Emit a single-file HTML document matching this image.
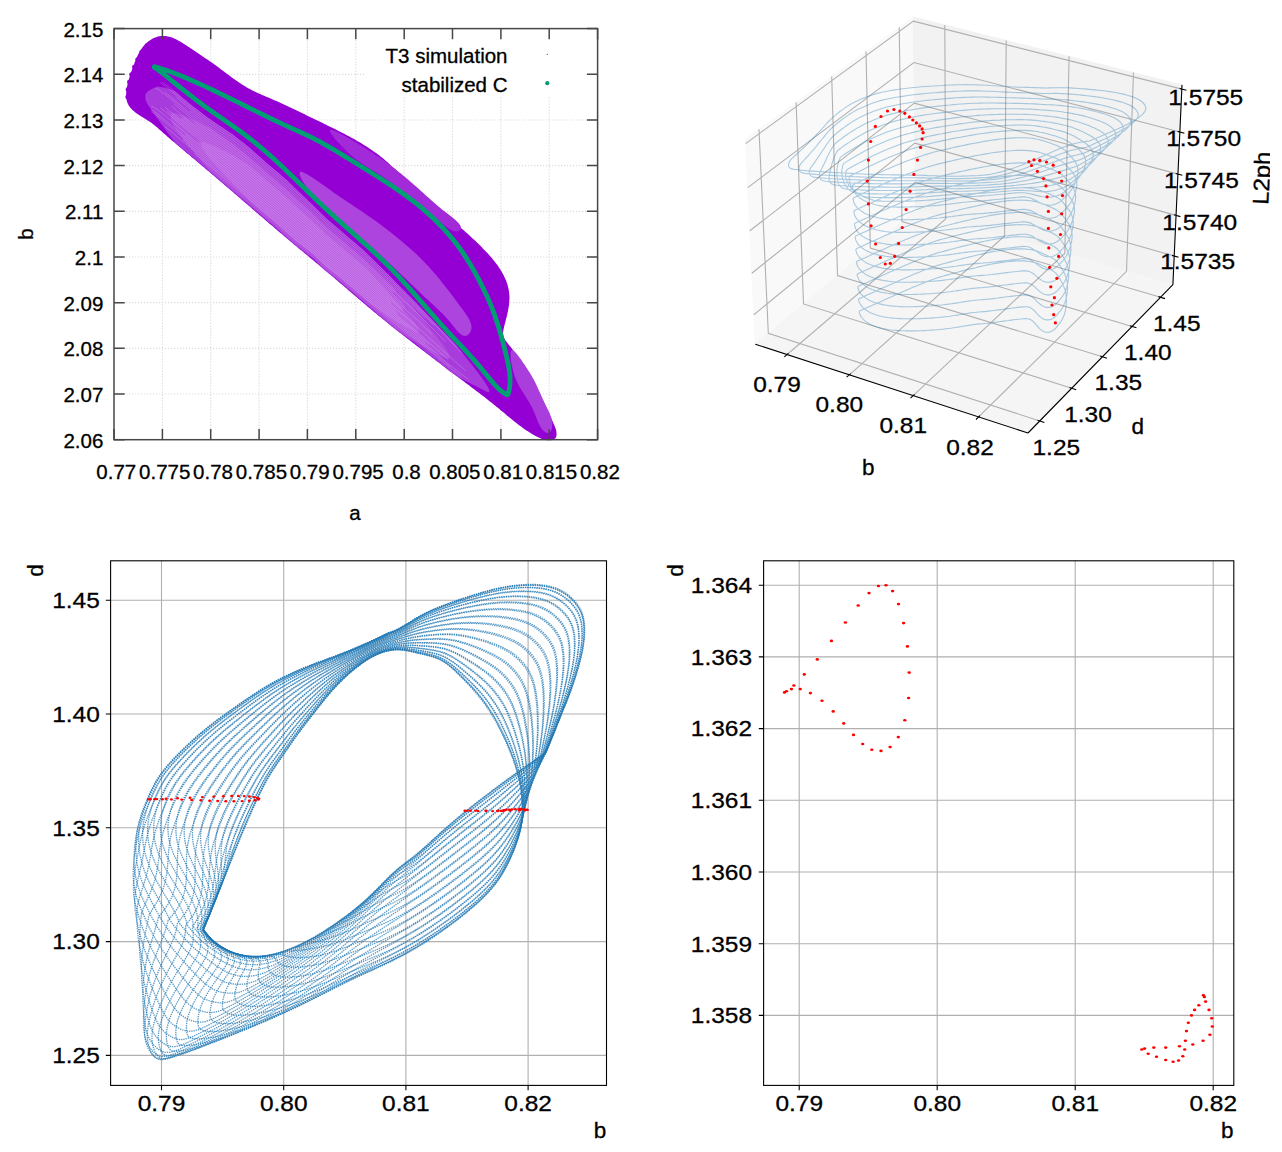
<!DOCTYPE html>
<html><head><meta charset="utf-8"><style>
html,body{margin:0;padding:0;background:#fff;}
svg{display:block;}
text{font-family:"Liberation Sans",sans-serif;fill:#000;stroke:#000;stroke-width:0.3px;}
</style></head><body>
<svg width="1282" height="1152" viewBox="0 0 1282 1152">
<rect width="1282" height="1152" fill="#fff"/>
<path d="M162.4,28.6V439.7M210.7,28.6V439.7M259.1,28.6V439.7M307.4,28.6V439.7M355.8,28.6V439.7M404.2,28.6V439.7M452.5,28.6V439.7M500.9,28.6V439.7M549.2,28.6V439.7M114.0,74.3H597.6M114.0,120.0H597.6M114.0,165.6H597.6M114.0,211.3H597.6M114.0,257.0H597.6M114.0,302.7H597.6M114.0,348.3H597.6M114.0,394.0H597.6" stroke="#dcdcdc" stroke-width="1.2" stroke-dasharray="1.2 1.8" fill="none"/>
<rect x="364" y="29.5" width="232" height="67.5" fill="#fff"/>
<path d="M127.4,102.8 L126.9,101.3 L126.5,99.6 L126.3,98.0 L126.1,96.2 L126.1,94.5 L126.2,92.7 L126.4,90.9 L126.6,89.1 L126.9,87.2 L127.3,85.4 L127.7,83.6 L128.1,81.9 L128.6,80.1 L129.1,78.4 L129.6,76.8 L130.1,75.1 L130.7,73.5 L131.2,71.9 L131.8,70.3 L132.4,68.7 L133.0,67.0 L133.6,65.4 L134.2,63.8 L134.8,62.1 L135.5,60.5 L136.2,58.9 L136.9,57.2 L137.6,55.6 L138.4,54.0 L139.2,52.4 L140.1,50.9 L141.0,49.4 L142.0,47.9 L143.1,46.5 L144.3,45.2 L145.5,43.9 L146.8,42.7 L148.2,41.5 L149.7,40.4 L151.2,39.5 L152.8,38.6 L154.5,37.8 L156.1,37.2 L157.8,36.6 L159.4,36.3 L161.1,36.0 L162.8,35.9 L164.4,35.9 L166.1,36.1 L167.7,36.4 L169.4,36.7 L171.0,37.2 L172.6,37.8 L174.2,38.5 L175.9,39.2 L177.4,40.0 L179.0,40.9 L180.6,41.8 L182.2,42.7 L183.7,43.7 L185.3,44.7 L186.8,45.7 L188.4,46.7 L189.9,47.8 L191.4,48.8 L192.9,49.8 L194.4,50.8 L195.8,51.8 L197.3,52.8 L198.8,53.8 L200.2,54.8 L201.7,55.7 L203.1,56.7 L204.5,57.7 L206.0,58.7 L207.4,59.6 L208.8,60.6 L210.2,61.6 L211.6,62.6 L213.1,63.6 L214.5,64.6 L215.9,65.6 L217.3,66.6 L218.7,67.6 L220.1,68.7 L221.5,69.7 L222.9,70.8 L224.3,71.8 L225.8,72.9 L227.2,74.0 L228.6,75.0 L230.0,76.1 L231.5,77.2 L232.9,78.2 L234.4,79.2 L235.8,80.3 L237.3,81.3 L238.7,82.3 L240.2,83.3 L241.7,84.3 L243.2,85.2 L244.7,86.1 L246.2,87.1 L247.7,87.9 L249.3,88.8 L250.8,89.6 L252.4,90.4 L254.0,91.2 L255.6,92.0 L257.1,92.7 L258.7,93.4 L260.3,94.1 L262.0,94.9 L263.6,95.5 L265.2,96.2 L266.8,96.9 L268.4,97.6 L270.0,98.3 L271.6,99.0 L273.3,99.7 L274.9,100.4 L276.5,101.1 L278.1,101.8 L279.7,102.5 L281.3,103.3 L282.9,104.0 L284.5,104.7 L286.1,105.5 L287.7,106.2 L289.3,107.0 L290.9,107.7 L292.5,108.5 L294.1,109.2 L295.7,110.0 L297.3,110.8 L298.9,111.5 L300.4,112.3 L302.0,113.1 L303.6,113.8 L305.2,114.6 L306.8,115.4 L308.4,116.2 L310.0,116.9 L311.6,117.7 L313.2,118.5 L314.7,119.2 L316.3,120.0 L317.9,120.8 L319.5,121.6 L321.1,122.3 L322.7,123.1 L324.3,123.9 L325.9,124.6 L327.4,125.4 L329.0,126.2 L330.6,127.0 L332.2,127.8 L333.8,128.5 L335.3,129.3 L336.9,130.1 L338.5,130.9 L340.1,131.7 L341.6,132.5 L343.2,133.3 L344.8,134.1 L346.3,134.9 L347.9,135.8 L349.4,136.6 L351.0,137.4 L352.5,138.3 L354.1,139.1 L355.6,140.0 L357.1,140.9 L358.6,141.7 L360.2,142.6 L361.7,143.5 L363.2,144.4 L364.7,145.4 L366.1,146.3 L367.6,147.3 L369.1,148.2 L370.5,149.2 L372.0,150.2 L373.4,151.2 L374.9,152.2 L376.3,153.2 L377.7,154.3 L379.1,155.3 L380.5,156.4 L381.9,157.5 L383.2,158.6 L384.6,159.8 L385.9,160.9 L387.2,162.1 L388.6,163.3 L389.9,164.5 L391.2,165.7 L392.5,166.9 L393.8,168.1 L395.0,169.3 L396.3,170.6 L397.6,171.8 L398.9,173.1 L400.2,174.3 L401.4,175.6 L402.7,176.8 L404.0,178.0 L405.2,179.3 L406.5,180.5 L407.8,181.8 L409.1,183.0 L410.3,184.2 L411.6,185.4 L412.9,186.6 L414.2,187.8 L415.5,189.0 L416.8,190.2 L418.1,191.4 L419.4,192.6 L420.7,193.8 L422.1,194.9 L423.4,196.1 L424.7,197.2 L426.0,198.4 L427.4,199.5 L428.7,200.7 L430.0,201.8 L431.3,202.9 L432.7,204.1 L434.0,205.2 L435.4,206.3 L436.7,207.4 L438.0,208.6 L439.4,209.7 L440.7,210.8 L442.1,211.9 L443.4,213.1 L444.7,214.2 L446.1,215.3 L447.4,216.4 L448.8,217.5 L450.1,218.7 L451.5,219.8 L452.8,220.9 L454.1,222.1 L455.5,223.2 L456.8,224.3 L458.1,225.5 L459.5,226.6 L460.8,227.8 L462.1,228.9 L463.4,230.1 L464.8,231.3 L466.1,232.4 L467.4,233.6 L468.7,234.8 L470.0,236.0 L471.3,237.2 L472.6,238.4 L473.9,239.6 L475.2,240.8 L476.5,242.1 L477.8,243.3 L479.1,244.6 L480.4,245.8 L481.6,247.1 L482.9,248.4 L484.1,249.7 L485.4,251.0 L486.6,252.3 L487.9,253.6 L489.1,254.9 L490.3,256.3 L491.4,257.6 L492.6,259.0 L493.7,260.4 L494.8,261.8 L495.9,263.2 L497.0,264.6 L498.0,266.0 L499.0,267.5 L500.0,268.9 L500.9,270.4 L501.8,271.9 L502.6,273.4 L503.5,274.9 L504.2,276.4 L504.9,278.0 L505.6,279.5 L506.3,281.1 L506.8,282.7 L507.4,284.3 L507.8,285.9 L508.2,287.6 L508.6,289.2 L508.9,290.9 L509.1,292.6 L509.3,294.3 L509.4,296.0 L509.5,297.8 L509.4,299.5 L509.3,301.3 L509.2,303.1 L509.0,304.9 L508.7,306.7 L508.4,308.6 L508.1,310.4 L507.7,312.2 L507.3,314.0 L506.9,315.9 L506.4,317.7 L506.0,319.5 L505.5,321.3 L505.1,323.0 L504.6,324.8 L504.2,326.5 L503.8,328.3 L503.4,330.0 L503.2,331.6 L503.1,333.2 L503.2,334.8 L503.5,336.4 L504.1,337.9 L504.9,339.4 L505.8,340.9 L506.9,342.3 L508.0,343.7 L509.2,345.2 L510.3,346.6 L511.5,348.0 L512.6,349.4 L513.7,350.9 L514.8,352.3 L515.9,353.8 L516.9,355.2 L518.0,356.7 L519.0,358.1 L520.0,359.6 L521.0,361.0 L522.0,362.5 L523.0,364.0 L524.0,365.4 L524.9,366.9 L525.9,368.4 L526.8,369.9 L527.7,371.4 L528.6,372.9 L529.5,374.4 L530.4,375.9 L531.2,377.4 L532.1,378.9 L533.0,380.4 L533.8,382.0 L534.6,383.5 L535.5,385.0 L536.3,386.6 L537.1,388.1 L537.9,389.7 L538.7,391.3 L539.5,392.8 L540.2,394.4 L541.0,396.0 L541.8,397.6 L542.5,399.2 L543.3,400.7 L544.0,402.3 L544.8,404.0 L545.5,405.6 L546.3,407.2 L547.0,408.8 L547.7,410.4 L548.5,412.0 L549.2,413.7 L549.9,415.3 L550.6,416.9 L551.4,418.5 L552.1,420.2 L552.8,421.8 L553.5,423.5 L554.3,425.1 L554.9,426.8 L555.6,428.4 L556.1,430.1 L556.4,431.9 L556.6,433.7 L556.5,435.5 L556.1,437.0 L555.3,438.3 L554.0,439.3 L552.3,439.9 L550.6,440.2 L548.8,440.3 L547.1,440.2 L545.4,439.9 L543.7,439.5 L542.0,439.0 L540.4,438.3 L538.7,437.6 L537.1,436.8 L535.5,435.9 L533.9,435.1 L532.4,434.2 L530.9,433.2 L529.3,432.3 L527.9,431.3 L526.4,430.4 L524.9,429.4 L523.5,428.4 L522.0,427.3 L520.6,426.3 L519.2,425.2 L517.8,424.2 L516.4,423.1 L515.0,422.0 L513.7,420.9 L512.3,419.8 L511.0,418.7 L509.6,417.6 L508.2,416.5 L506.9,415.4 L505.6,414.2 L504.2,413.1 L502.9,412.0 L501.5,410.9 L500.2,409.7 L498.8,408.6 L497.5,407.5 L496.1,406.4 L494.7,405.3 L493.4,404.2 L492.0,403.1 L490.6,402.0 L489.2,400.9 L487.8,399.8 L486.4,398.7 L485.1,397.6 L483.7,396.5 L482.3,395.5 L480.9,394.4 L479.5,393.3 L478.1,392.2 L476.6,391.2 L475.2,390.1 L473.8,389.0 L472.4,388.0 L471.0,386.9 L469.6,385.8 L468.2,384.8 L466.8,383.7 L465.4,382.7 L464.0,381.6 L462.5,380.5 L461.1,379.5 L459.7,378.4 L458.3,377.3 L456.9,376.3 L455.5,375.2 L454.1,374.2 L452.7,373.1 L451.3,372.0 L449.9,371.0 L448.5,369.9 L447.0,368.9 L445.6,367.8 L444.2,366.7 L442.8,365.7 L441.4,364.6 L440.0,363.6 L438.6,362.5 L437.2,361.4 L435.8,360.4 L434.4,359.3 L433.0,358.2 L431.6,357.2 L430.2,356.1 L428.8,355.0 L427.4,354.0 L426.0,352.9 L424.6,351.8 L423.2,350.8 L421.8,349.7 L420.4,348.6 L419.0,347.5 L417.6,346.5 L416.2,345.4 L414.8,344.3 L413.4,343.2 L412.0,342.2 L410.6,341.1 L409.2,340.0 L407.9,338.9 L406.5,337.9 L405.1,336.8 L403.7,335.7 L402.3,334.6 L400.9,333.5 L399.5,332.4 L398.1,331.3 L396.8,330.2 L395.4,329.1 L394.0,328.1 L392.6,327.0 L391.2,325.9 L389.9,324.8 L388.5,323.7 L387.1,322.5 L385.7,321.4 L384.4,320.3 L383.0,319.2 L381.6,318.1 L380.3,317.0 L378.9,315.9 L377.5,314.8 L376.2,313.6 L374.8,312.5 L373.4,311.4 L372.1,310.3 L370.7,309.1 L369.4,308.0 L368.0,306.9 L366.7,305.7 L365.3,304.6 L364.0,303.5 L362.6,302.3 L361.3,301.2 L360.0,300.0 L358.6,298.9 L357.3,297.8 L355.9,296.6 L354.6,295.5 L353.2,294.3 L351.9,293.2 L350.6,292.0 L349.2,290.9 L347.9,289.7 L346.6,288.6 L345.2,287.4 L343.9,286.3 L342.5,285.1 L341.2,284.0 L339.9,282.9 L338.5,281.7 L337.2,280.6 L335.8,279.4 L334.5,278.3 L333.2,277.1 L331.8,276.0 L330.5,274.8 L329.1,273.7 L327.8,272.6 L326.4,271.4 L325.1,270.3 L323.7,269.2 L322.4,268.0 L321.1,266.9 L319.7,265.8 L318.3,264.6 L317.0,263.5 L315.6,262.4 L314.3,261.3 L312.9,260.1 L311.6,259.0 L310.2,257.9 L308.9,256.8 L307.5,255.6 L306.2,254.5 L304.8,253.4 L303.5,252.3 L302.1,251.1 L300.7,250.0 L299.4,248.9 L298.0,247.7 L296.7,246.6 L295.3,245.5 L294.0,244.4 L292.6,243.2 L291.3,242.1 L289.9,241.0 L288.6,239.8 L287.2,238.7 L285.9,237.6 L284.5,236.4 L283.2,235.3 L281.9,234.1 L280.5,233.0 L279.2,231.9 L277.8,230.7 L276.5,229.6 L275.1,228.4 L273.8,227.3 L272.5,226.1 L271.1,225.0 L269.8,223.9 L268.4,222.7 L267.1,221.6 L265.8,220.4 L264.4,219.3 L263.1,218.1 L261.8,217.0 L260.4,215.8 L259.1,214.7 L257.8,213.5 L256.4,212.4 L255.1,211.2 L253.7,210.1 L252.4,208.9 L251.1,207.8 L249.7,206.6 L248.4,205.5 L247.1,204.3 L245.7,203.2 L244.4,202.0 L243.1,200.9 L241.7,199.7 L240.4,198.6 L239.1,197.4 L237.7,196.2 L236.4,195.1 L235.0,193.9 L233.7,192.8 L232.4,191.6 L231.0,190.5 L229.7,189.3 L228.4,188.2 L227.0,187.0 L225.7,185.9 L224.3,184.7 L223.0,183.6 L221.7,182.5 L220.3,181.3 L219.0,180.2 L217.6,179.0 L216.3,177.9 L215.0,176.7 L213.6,175.6 L212.3,174.4 L210.9,173.3 L209.6,172.1 L208.2,171.0 L206.9,169.9 L205.5,168.7 L204.2,167.6 L202.8,166.5 L201.5,165.3 L200.1,164.2 L198.8,163.0 L197.4,161.9 L196.1,160.8 L194.7,159.6 L193.4,158.5 L192.0,157.4 L190.7,156.3 L189.3,155.1 L188.0,154.0 L186.6,152.9 L185.3,151.7 L183.9,150.6 L182.6,149.5 L181.2,148.3 L179.9,147.2 L178.5,146.1 L177.2,144.9 L175.8,143.8 L174.5,142.6 L173.1,141.5 L171.8,140.4 L170.5,139.2 L169.1,138.1 L167.8,136.9 L166.5,135.8 L165.2,134.6 L163.8,133.4 L162.5,132.3 L161.2,131.1 L159.9,130.0 L158.6,128.8 L157.2,127.6 L155.9,126.5 L154.5,125.3 L153.1,124.2 L151.7,123.1 L150.2,122.1 L148.6,121.0 L147.0,120.0 L145.4,119.0 L143.8,118.0 L142.2,117.0 L140.6,116.0 L139.0,115.0 L137.5,113.9 L136.0,112.9 L134.6,111.8 L133.3,110.7 L132.0,109.5 L130.8,108.3 L129.8,107.0 L128.9,105.7 L128.1,104.3 L127.4,102.8Z" fill="#9400d3"/>
<g fill="#9400d3"><circle cx="127.5" cy="97.0" r="2.2"/><circle cx="127.8" cy="89.5" r="2.2"/><circle cx="129.2" cy="82.0" r="2.2"/><circle cx="131.4" cy="74.5" r="2.2"/><circle cx="134.2" cy="67.0" r="2.2"/><circle cx="137.5" cy="59.5" r="2.2"/><circle cx="141.5" cy="52.0" r="2.2"/><circle cx="146.7" cy="45.5" r="2.2"/></g>
<path d="M145.4,94.5 L147.2,91.9 L149.0,90.5 L150.9,89.4 L152.7,88.5 L154.5,87.7 L156.3,87.0 L158.1,86.6 L159.9,86.9 L161.7,87.2 L163.5,87.6 L165.3,88.1 L167.1,88.5 L168.9,89.0 L170.8,89.6 L172.6,90.2 L174.4,91.0 L176.2,92.3 L178.0,93.8 L179.8,95.3 L181.6,96.9 L183.4,98.4 L185.2,99.9 L187.0,101.5 L188.8,103.0 L190.7,104.5 L192.5,105.9 L194.3,107.3 L196.1,108.6 L197.9,110.0 L199.7,111.4 L201.5,112.8 L203.3,114.2 L205.1,115.6 L206.9,117.0 L208.7,118.3 L210.6,119.6 L212.4,120.8 L214.2,122.0 L216.0,123.2 L217.8,124.4 L219.6,125.6 L221.4,126.8 L223.2,128.1 L225.0,129.3 L226.8,130.5 L228.6,131.7 L230.5,132.9 L232.3,134.1 L234.1,135.5 L235.9,136.9 L237.7,138.3 L239.5,139.7 L241.3,141.2 L243.1,142.6 L244.9,144.0 L246.7,145.4 L248.5,146.8 L250.4,148.4 L252.2,150.0 L254.0,151.7 L255.8,153.3 L257.6,154.9 L259.4,156.5 L261.2,158.1 L263.0,159.7 L264.8,161.3 L266.6,162.9 L268.4,164.5 L270.3,166.0 L272.1,167.5 L273.9,169.1 L275.7,170.6 L277.5,172.1 L279.3,173.6 L281.1,175.2 L282.9,176.7 L284.7,178.2 L286.5,179.8 L288.3,181.6 L290.2,183.4 L292.0,185.1 L293.8,186.9 L295.6,188.6 L297.4,190.4 L299.2,192.1 L301.0,193.8 L302.8,195.5 L304.6,197.3 L306.4,199.0 L308.2,200.7 L310.1,202.4 L311.9,204.2 L313.7,205.9 L315.5,207.7 L317.3,209.4 L319.1,211.2 L320.9,213.0 L322.7,214.8 L324.5,216.6 L326.3,218.3 L328.1,220.0 L329.9,221.5 L331.8,223.1 L333.6,224.6 L335.4,226.1 L337.2,227.7 L339.0,229.2 L340.8,230.7 L342.6,232.3 L344.4,233.8 L346.2,235.4 L348.0,236.9 L349.8,238.5 L351.7,240.0 L353.5,241.6 L355.3,243.1 L357.1,244.7 L358.9,246.2 L360.7,247.8 L362.5,249.3 L364.3,250.9 L366.1,252.7 L367.9,254.5 L369.7,256.3 L371.6,258.0 L373.4,259.8 L375.2,261.6 L377.0,263.4 L378.8,265.2 L380.6,267.0 L382.4,268.8 L384.2,270.6 L386.0,272.4 L387.8,274.1 L389.6,276.0 L391.5,277.8 L393.3,279.7 L395.1,281.6 L396.9,283.4 L398.7,285.3 L400.5,287.1 L402.3,288.9 L404.1,290.8 L405.9,292.6 L407.7,294.4 L409.5,296.3 L411.4,298.1 L413.2,300.0 L415.0,301.8 L416.8,303.6 L418.6,305.5 L420.4,307.4 L422.2,309.4 L424.0,311.3 L425.8,313.2 L427.6,315.1 L429.4,317.1 L431.3,319.0 L433.1,320.9 L434.9,322.8 L436.7,324.8 L438.5,326.7 L440.3,328.6 L442.1,330.6 L443.9,332.5 L445.7,334.4 L447.5,336.3 L449.3,338.3 L451.2,340.2 L453.0,342.1 L454.8,344.1 L456.6,346.0 L458.4,348.0 L460.2,349.9 L462.0,352.3 L463.8,354.6 L465.6,356.9 L467.4,359.2 L469.2,361.5 L471.1,363.8 L472.9,366.1 L474.7,368.4 L476.5,370.7 L478.3,373.0 L480.1,375.5 L481.9,378.0 L483.7,380.6 L485.5,383.2 L487.3,386.0 L489.1,389.2 L489.1,392.5 L487.3,392.1 L485.5,391.3 L483.7,390.3 L481.9,389.3 L480.1,388.4 L478.3,387.5 L476.5,386.5 L474.7,385.6 L472.9,384.7 L471.1,383.7 L469.2,382.8 L467.4,381.8 L465.6,380.9 L463.8,380.1 L462.0,379.3 L460.2,378.4 L458.4,377.2 L456.6,376.0 L454.8,374.7 L453.0,373.5 L451.2,372.2 L449.3,370.9 L447.5,369.4 L445.7,368.0 L443.9,366.5 L442.1,365.0 L440.3,363.6 L438.5,362.1 L436.7,360.7 L434.9,359.2 L433.1,357.7 L431.3,356.3 L429.4,354.8 L427.6,353.4 L425.8,352.0 L424.0,350.5 L422.2,349.1 L420.4,347.6 L418.6,346.2 L416.8,344.7 L415.0,343.3 L413.2,342.0 L411.4,340.7 L409.5,339.4 L407.7,338.1 L405.9,336.8 L404.1,335.6 L402.3,334.3 L400.5,333.0 L398.7,331.7 L396.9,330.4 L395.1,329.0 L393.3,327.5 L391.5,325.9 L389.6,324.4 L387.8,322.9 L386.0,321.3 L384.2,319.8 L382.4,318.3 L380.6,316.7 L378.8,315.2 L377.0,313.7 L375.2,312.1 L373.4,310.6 L371.6,309.0 L369.7,307.5 L367.9,306.0 L366.1,304.4 L364.3,302.9 L362.5,301.3 L360.7,299.8 L358.9,298.3 L357.1,296.7 L355.3,295.2 L353.5,293.6 L351.7,292.1 L349.8,290.6 L348.0,289.0 L346.2,287.5 L344.4,285.9 L342.6,284.4 L340.8,282.9 L339.0,281.4 L337.2,279.9 L335.4,278.5 L333.6,277.1 L331.8,275.6 L329.9,274.2 L328.1,272.8 L326.3,271.3 L324.5,269.9 L322.7,268.2 L320.9,266.4 L319.1,264.7 L317.3,262.9 L315.5,261.1 L313.7,259.3 L311.9,258.0 L310.1,256.6 L308.2,255.2 L306.4,253.8 L304.6,252.5 L302.8,251.1 L301.0,249.7 L299.2,248.4 L297.4,247.0 L295.6,245.6 L293.8,244.1 L292.0,242.5 L290.2,240.9 L288.3,239.2 L286.5,237.6 L284.7,236.0 L282.9,234.4 L281.1,232.7 L279.3,231.1 L277.5,229.5 L275.7,227.9 L273.9,226.4 L272.1,224.8 L270.3,223.3 L268.4,221.8 L266.6,220.2 L264.8,218.7 L263.0,217.2 L261.2,215.6 L259.4,214.1 L257.6,212.6 L255.8,211.0 L254.0,209.5 L252.2,207.9 L250.4,206.4 L248.5,204.8 L246.7,203.3 L244.9,201.7 L243.1,200.2 L241.3,198.7 L239.5,197.1 L237.7,195.6 L235.9,194.0 L234.1,192.5 L232.3,191.0 L230.5,189.4 L228.6,187.9 L226.8,186.4 L225.0,184.8 L223.2,183.3 L221.4,181.8 L219.6,180.2 L217.8,178.7 L216.0,177.1 L214.2,175.6 L212.4,174.0 L210.6,172.5 L208.7,170.9 L206.9,169.3 L205.1,167.8 L203.3,166.2 L201.5,164.7 L199.7,163.1 L197.9,161.6 L196.1,160.1 L194.3,158.6 L192.5,157.1 L190.7,155.6 L188.8,154.1 L187.0,152.6 L185.2,151.1 L183.4,149.6 L181.6,148.0 L179.8,146.5 L178.0,145.0 L176.2,143.4 L174.4,141.6 L172.6,139.2 L170.8,136.9 L168.9,134.5 L167.1,132.1 L165.3,129.6 L163.5,127.1 L161.7,124.6 L159.9,122.0 L158.1,119.4 L156.3,116.9 L154.5,114.4 L152.7,111.9 L150.9,109.3 L149.0,106.6 L147.2,103.5 L145.4,99.4Z" fill="#a83bdb"/>
<path d="M170.8,114.0 L172.6,113.1 L174.4,113.0 L176.2,113.3 L178.0,113.7 L179.8,114.3 L181.6,114.9 L183.4,115.6 L185.2,116.3 L187.0,117.1 L188.8,117.9 L190.7,118.7 L192.5,119.5 L194.3,120.3 L196.1,121.1 L197.9,122.0 L199.7,122.8 L201.5,123.7 L203.3,124.6 L205.1,125.5 L206.9,126.4 L208.7,127.3 L210.6,128.3 L212.4,129.5 L214.2,130.8 L216.0,132.1 L217.8,133.4 L219.6,134.6 L221.4,135.9 L223.2,137.2 L225.0,138.4 L226.8,139.7 L228.6,140.9 L230.5,142.2 L232.3,143.5 L234.1,144.9 L235.9,146.3 L237.7,147.8 L239.5,149.2 L241.3,150.6 L243.1,152.1 L244.9,153.5 L246.7,154.9 L248.5,156.4 L250.4,158.0 L252.2,159.6 L254.0,161.2 L255.8,162.8 L257.6,164.4 L259.4,166.0 L261.2,167.6 L263.0,169.2 L264.8,170.8 L266.6,172.4 L268.4,173.9 L270.3,175.5 L272.1,177.0 L273.9,178.5 L275.7,180.0 L277.5,181.6 L279.3,183.1 L281.1,184.7 L282.9,186.2 L284.7,187.7 L286.5,189.4 L288.3,191.1 L290.2,192.8 L292.0,194.6 L293.8,196.3 L295.6,198.0 L297.4,199.7 L299.2,201.4 L301.0,203.0 L302.8,204.7 L304.6,206.3 L306.4,208.0 L308.2,209.7 L310.1,211.3 L311.9,213.0 L313.7,214.7 L315.5,216.5 L317.3,218.2 L319.1,220.0 L320.9,221.8 L322.7,223.6 L324.5,225.3 L326.3,227.0 L328.1,228.7 L329.9,230.2 L331.8,231.7 L333.6,233.2 L335.4,234.8 L337.2,236.3 L339.0,237.8 L340.8,239.3 L342.6,240.9 L344.4,242.4 L346.2,244.0 L348.0,245.5 L349.8,247.1 L351.7,248.6 L353.5,250.1 L355.3,251.7 L357.1,253.2 L358.9,254.8 L360.7,256.3 L362.5,257.9 L364.3,259.4 L366.1,261.2 L367.9,262.9 L369.7,264.7 L371.6,266.4 L373.4,268.2 L375.2,269.9 L377.0,271.7 L378.8,273.4 L380.6,275.2 L382.4,276.9 L384.2,278.7 L386.0,280.4 L387.8,282.2 L389.6,283.9 L391.5,285.8 L393.3,287.6 L395.1,289.4 L396.9,291.2 L398.7,292.9 L400.5,294.7 L402.3,296.4 L404.1,298.2 L405.9,299.9 L407.7,301.6 L409.5,303.4 L411.4,305.4 L413.2,307.6 L415.0,309.7 L416.8,311.9 L418.6,314.1 L420.4,316.3 L422.2,318.6 L424.0,320.8 L425.8,323.1 L427.6,325.4 L429.4,327.6 L431.3,329.9 L433.1,332.2 L434.9,334.5 L436.7,336.8 L438.5,339.2 L440.3,341.6 L442.1,344.0 L443.9,346.5 L445.7,349.1 L447.5,351.9 L449.3,355.2 L449.3,358.6 L447.5,358.5 L445.7,358.0 L443.9,357.3 L442.1,356.5 L440.3,355.6 L438.5,354.6 L436.7,353.7 L434.9,352.7 L433.1,351.7 L431.3,350.6 L429.4,349.6 L427.6,348.6 L425.8,347.5 L424.0,346.5 L422.2,345.4 L420.4,344.4 L418.6,343.3 L416.8,342.3 L415.0,341.2 L413.2,340.3 L411.4,339.4 L409.5,338.4 L407.7,337.1 L405.9,335.8 L404.1,334.5 L402.3,333.2 L400.5,331.9 L398.7,330.6 L396.9,329.3 L395.1,327.9 L393.3,326.3 L391.5,324.8 L389.6,323.2 L387.8,321.7 L386.0,320.2 L384.2,318.6 L382.4,317.1 L380.6,315.6 L378.8,314.0 L377.0,312.5 L375.2,310.9 L373.4,309.4 L371.6,307.8 L369.7,306.3 L367.9,304.7 L366.1,303.2 L364.3,301.6 L362.5,300.1 L360.7,298.6 L358.9,297.0 L357.1,295.5 L355.3,294.0 L353.5,292.4 L351.7,290.9 L349.8,289.3 L348.0,287.8 L346.2,286.3 L344.4,284.7 L342.6,283.2 L340.8,281.6 L339.0,280.2 L337.2,278.7 L335.4,277.3 L333.6,275.8 L331.8,274.4 L329.9,273.0 L328.1,271.5 L326.3,270.1 L324.5,268.6 L322.7,267.0 L320.9,265.2 L319.1,263.4 L317.3,261.6 L315.5,259.9 L313.7,258.1 L311.9,256.7 L310.1,255.3 L308.2,253.9 L306.4,252.6 L304.6,251.2 L302.8,249.8 L301.0,248.4 L299.2,247.1 L297.4,245.7 L295.6,244.3 L293.8,242.8 L292.0,241.1 L290.2,239.5 L288.3,237.9 L286.5,236.2 L284.7,234.6 L282.9,233.0 L281.1,231.4 L279.3,229.8 L277.5,228.1 L275.7,226.5 L273.9,225.0 L272.1,223.5 L270.3,221.9 L268.4,220.4 L266.6,218.9 L264.8,217.4 L263.0,215.8 L261.2,214.3 L259.4,212.8 L257.6,211.2 L255.8,209.7 L254.0,208.1 L252.2,206.6 L250.4,205.0 L248.5,203.5 L246.7,201.9 L244.9,200.4 L243.1,198.8 L241.3,197.3 L239.5,195.8 L237.7,194.2 L235.9,192.7 L234.1,191.2 L232.3,189.6 L230.5,188.1 L228.6,186.6 L226.8,185.0 L225.0,183.5 L223.2,182.0 L221.4,180.5 L219.6,178.9 L217.8,177.4 L216.0,175.8 L214.2,174.3 L212.4,172.8 L210.6,171.2 L208.7,169.3 L206.9,167.3 L205.1,165.2 L203.3,163.2 L201.5,161.1 L199.7,159.0 L197.9,157.0 L196.1,154.9 L194.3,152.8 L192.5,150.7 L190.7,148.6 L188.8,146.4 L187.0,144.2 L185.2,141.9 L183.4,139.6 L181.6,137.3 L179.8,134.8 L178.0,132.3 L176.2,129.6 L174.4,126.8 L172.6,123.6 L170.8,119.7Z" fill="#b350df"/>
<path d="M201.5,141.8 L203.3,141.9 L205.1,142.4 L206.9,143.0 L208.7,143.8 L210.6,144.5 L212.4,145.2 L214.2,146.0 L216.0,146.9 L217.8,147.7 L219.6,148.6 L221.4,149.4 L223.2,150.3 L225.0,151.2 L226.8,152.1 L228.6,153.1 L230.5,154.0 L232.3,154.9 L234.1,156.0 L235.9,157.1 L237.7,158.1 L239.5,159.2 L241.3,160.4 L243.1,161.5 L244.9,162.6 L246.7,163.7 L248.5,164.8 L250.4,166.2 L252.2,167.8 L254.0,169.3 L255.8,170.9 L257.6,172.5 L259.4,174.1 L261.2,175.7 L263.0,177.3 L264.8,178.9 L266.6,180.5 L268.4,182.0 L270.3,183.5 L272.1,185.1 L273.9,186.6 L275.7,188.1 L277.5,189.7 L279.3,191.2 L281.1,192.8 L282.9,194.3 L284.7,195.9 L286.5,197.5 L288.3,199.2 L290.2,200.9 L292.0,202.7 L293.8,204.4 L295.6,206.1 L297.4,207.7 L299.2,209.3 L301.0,210.9 L302.8,212.5 L304.6,214.1 L306.4,215.8 L308.2,217.4 L310.1,219.0 L311.9,220.6 L313.7,222.2 L315.5,224.0 L317.3,225.8 L319.1,227.6 L320.9,229.3 L322.7,231.1 L324.5,232.9 L326.3,234.5 L328.1,236.1 L329.9,237.6 L331.8,239.1 L333.6,240.7 L335.4,242.2 L337.2,243.7 L339.0,245.2 L340.8,246.7 L342.6,248.2 L344.4,249.8 L346.2,251.3 L348.0,252.9 L349.8,254.4 L351.7,255.9 L353.5,257.5 L355.3,259.0 L357.1,260.6 L358.9,262.1 L360.7,263.7 L362.5,265.2 L364.3,266.8 L366.1,268.5 L367.9,270.2 L369.7,271.9 L371.6,273.9 L373.4,275.9 L375.2,277.9 L377.0,279.9 L378.8,281.9 L380.6,283.9 L382.4,285.9 L384.2,287.9 L386.0,290.0 L387.8,292.0 L389.6,294.0 L391.5,296.1 L393.3,298.2 L395.1,300.3 L396.9,302.4 L398.7,304.4 L400.5,306.4 L402.3,308.4 L404.1,310.5 L405.9,312.5 L407.7,314.6 L409.5,316.6 L411.4,318.8 L413.2,320.9 L415.0,323.1 L416.8,325.6 L418.6,328.3 L418.6,332.5 L416.8,332.0 L415.0,331.2 L413.2,330.4 L411.4,329.6 L409.5,328.7 L407.7,327.8 L405.9,326.9 L404.1,325.9 L402.3,324.9 L400.5,323.9 L398.7,323.0 L396.9,322.0 L395.1,320.8 L393.3,319.6 L391.5,318.4 L389.6,317.1 L387.8,315.9 L386.0,314.7 L384.2,313.4 L382.4,312.2 L380.6,310.9 L378.8,309.7 L377.0,308.4 L375.2,307.1 L373.4,305.9 L371.6,304.6 L369.7,303.3 L367.9,301.7 L366.1,300.1 L364.3,298.6 L362.5,297.0 L360.7,295.5 L358.9,294.0 L357.1,292.4 L355.3,290.9 L353.5,289.3 L351.7,287.8 L349.8,286.3 L348.0,284.7 L346.2,283.2 L344.4,281.7 L342.6,280.1 L340.8,278.6 L339.0,277.1 L337.2,275.6 L335.4,274.2 L333.6,272.7 L331.8,271.3 L329.9,269.9 L328.1,268.4 L326.3,266.9 L324.5,265.5 L322.7,263.8 L320.9,262.0 L319.1,260.3 L317.3,258.5 L315.5,256.7 L313.7,254.9 L311.9,253.5 L310.1,252.1 L308.2,250.7 L306.4,249.3 L304.6,247.9 L302.8,246.5 L301.0,245.1 L299.2,243.7 L297.4,242.3 L295.6,240.9 L293.8,239.4 L292.0,237.8 L290.2,236.1 L288.3,234.5 L286.5,232.8 L284.7,231.2 L282.9,229.6 L281.1,228.0 L279.3,226.4 L277.5,224.8 L275.7,223.2 L273.9,221.6 L272.1,220.1 L270.3,218.6 L268.4,217.0 L266.6,215.5 L264.8,214.0 L263.0,212.4 L261.2,210.9 L259.4,209.4 L257.6,207.8 L255.8,206.3 L254.0,204.7 L252.2,203.2 L250.4,201.6 L248.5,199.8 L246.7,197.9 L244.9,196.1 L243.1,194.2 L241.3,192.3 L239.5,190.4 L237.7,188.5 L235.9,186.7 L234.1,184.8 L232.3,182.9 L230.5,181.0 L228.6,179.1 L226.8,177.2 L225.0,175.3 L223.2,173.4 L221.4,171.4 L219.6,169.5 L217.8,167.5 L216.0,165.5 L214.2,163.5 L212.4,161.4 L210.6,159.4 L208.7,157.2 L206.9,155.0 L205.1,152.6 L203.3,150.1 L201.5,147.3Z" fill="#bb60e3"/>
<path d="M300.0,172.1 L301.0,171.8 L302.5,172.1 L304.4,172.9 L306.7,174.1 L309.4,175.7 L312.2,177.5 L315.3,179.5 L318.5,181.7 L321.7,184.0 L325.0,186.3 L328.2,188.6 L331.3,190.8 L334.2,192.9 L337.0,194.8 L339.7,196.7 L342.3,198.4 L344.8,200.1 L347.2,201.7 L349.6,203.3 L352.0,204.8 L354.3,206.4 L356.6,207.9 L358.9,209.4 L361.2,211.0 L363.5,212.6 L365.9,214.2 L368.3,215.9 L370.7,217.6 L373.1,219.3 L375.6,221.1 L378.0,222.8 L380.5,224.6 L383.0,226.5 L385.4,228.3 L387.9,230.2 L390.3,232.1 L392.8,234.0 L395.2,236.0 L397.7,237.9 L400.1,239.9 L402.5,241.9 L404.8,243.9 L407.2,245.9 L409.5,247.9 L411.8,250.0 L414.1,252.1 L416.3,254.1 L418.5,256.2 L420.6,258.3 L422.7,260.4 L424.8,262.6 L426.8,264.7 L428.8,266.8 L430.7,269.0 L432.7,271.2 L434.6,273.4 L436.5,275.6 L438.3,277.8 L440.2,280.1 L442.1,282.4 L443.9,284.7 L445.7,287.0 L447.6,289.4 L449.4,291.8 L451.3,294.2 L453.2,296.7 L455.0,299.2 L456.9,301.8 L458.9,304.4 L460.8,307.0 L462.8,309.7 L464.8,312.4 L466.7,315.2 L468.5,317.9 L469.9,320.7 L471.0,323.5 L471.5,326.2 L471.4,328.9 L470.6,331.5 L469.1,333.8 L467.1,335.5 L465.0,336.0 L462.7,335.4 L460.4,333.9 L458.0,331.7 L455.6,329.0 L453.2,326.1 L450.8,323.1 L448.5,320.3 L446.2,317.7 L444.0,315.3 L441.8,313.0 L439.7,310.9 L437.6,308.9 L435.5,306.9 L433.4,305.0 L431.4,303.2 L429.3,301.3 L427.2,299.3 L425.1,297.4 L423.0,295.4 L420.8,293.3 L418.7,291.3 L416.5,289.2 L414.4,287.2 L412.2,285.1 L410.0,282.9 L407.8,280.8 L405.6,278.7 L403.3,276.6 L401.1,274.4 L398.9,272.3 L396.6,270.2 L394.4,268.0 L392.1,265.9 L389.8,263.8 L387.5,261.7 L385.2,259.6 L383.0,257.5 L380.7,255.4 L378.4,253.4 L376.1,251.3 L373.8,249.3 L371.5,247.3 L369.2,245.4 L366.9,243.4 L364.6,241.5 L362.3,239.6 L360.0,237.8 L357.7,236.0 L355.4,234.2 L353.2,232.5 L350.9,230.8 L348.6,229.2 L346.4,227.5 L344.1,225.9 L341.8,224.3 L339.6,222.6 L337.3,220.9 L335.0,219.1 L332.7,217.2 L330.3,215.2 L327.9,213.1 L325.5,210.8 L323.0,208.3 L320.5,205.6 L318.0,202.6 L315.4,199.5 L312.9,196.3 L310.4,193.0 L308.1,189.8 L306.0,186.6 L304.1,183.6 L302.4,180.8 L301.1,178.2 L300.2,176.0 L299.6,174.2 L299.6,172.9 L300.0,172.1Z" fill="#ad44dd"/>
<path d="M330.0,130.0 L330.5,129.7 L331.3,129.7 L332.4,130.0 L333.8,130.4 L335.4,131.1 L337.2,131.9 L339.2,132.9 L341.3,134.0 L343.5,135.2 L345.9,136.5 L348.2,137.9 L350.7,139.3 L353.1,140.8 L355.5,142.3 L357.9,143.7 L360.2,145.1 L362.4,146.5 L364.5,147.8 L366.6,149.1 L368.5,150.3 L370.4,151.5 L372.2,152.7 L374.0,153.8 L375.7,154.9 L377.4,156.0 L379.0,157.1 L380.6,158.2 L382.2,159.3 L383.8,160.4 L385.3,161.5 L386.9,162.7 L388.5,163.8 L390.0,165.0 L391.6,166.2 L393.2,167.5 L394.9,168.8 L396.5,170.1 L398.2,171.4 L399.8,172.7 L401.5,174.1 L403.1,175.4 L404.8,176.8 L406.4,178.2 L408.1,179.6 L409.7,181.0 L411.3,182.4 L412.9,183.8 L414.5,185.2 L416.1,186.6 L417.7,188.0 L419.2,189.3 L420.7,190.7 L422.2,192.0 L423.6,193.3 L425.1,194.7 L426.5,196.0 L428.0,197.3 L429.5,198.6 L431.0,200.0 L432.5,201.3 L434.1,202.7 L435.7,204.0 L437.3,205.5 L439.1,206.9 L440.9,208.4 L442.7,209.9 L444.7,211.4 L446.8,213.0 L448.9,214.7 L451.0,216.3 L453.0,218.0 L454.9,219.6 L456.7,221.2 L458.2,222.8 L459.5,224.3 L460.4,225.7 L460.9,227.1 L460.9,228.3 L460.4,229.4 L459.5,230.3 L458.3,231.0 L456.8,231.3 L455.2,231.3 L453.6,230.9 L451.8,230.2 L450.0,229.3 L448.1,228.1 L446.2,226.7 L444.2,225.3 L442.3,223.7 L440.3,222.0 L438.4,220.4 L436.4,218.7 L434.6,217.1 L432.7,215.6 L431.0,214.1 L429.2,212.7 L427.5,211.4 L425.8,210.1 L424.2,208.8 L422.6,207.5 L421.0,206.3 L419.4,205.1 L417.8,203.9 L416.2,202.7 L414.6,201.5 L413.0,200.3 L411.5,199.1 L409.9,197.8 L408.2,196.5 L406.6,195.2 L405.0,193.9 L403.3,192.5 L401.7,191.2 L400.0,189.8 L398.4,188.5 L396.7,187.1 L395.0,185.7 L393.3,184.4 L391.6,183.1 L390.0,181.8 L388.3,180.5 L386.6,179.3 L384.9,178.1 L383.3,176.9 L381.6,175.8 L380.0,174.7 L378.3,173.7 L376.7,172.6 L375.0,171.6 L373.3,170.7 L371.7,169.7 L370.0,168.7 L368.3,167.6 L366.6,166.6 L364.8,165.5 L363.1,164.3 L361.3,163.1 L359.4,161.8 L357.6,160.4 L355.7,159.0 L353.7,157.4 L351.7,155.7 L349.7,153.9 L347.6,152.1 L345.5,150.1 L343.5,148.1 L341.5,146.1 L339.6,144.1 L337.8,142.1 L336.1,140.2 L334.6,138.4 L333.2,136.7 L332.1,135.1 L331.1,133.7 L330.4,132.4 L330.0,131.4 L329.8,130.6 L330.0,130.0Z" fill="#a22ad9"/>
<path d="M512.0,350.1 L512.5,350.1 L513.1,350.4 L513.7,350.8 L514.4,351.4 L515.1,352.1 L515.9,352.9 L516.7,353.8 L517.6,354.9 L518.4,356.0 L519.3,357.2 L520.2,358.4 L521.1,359.6 L521.9,360.9 L522.8,362.2 L523.6,363.4 L524.5,364.6 L525.3,365.8 L526.0,367.0 L526.7,368.1 L527.5,369.2 L528.1,370.2 L528.8,371.3 L529.5,372.3 L530.1,373.3 L530.7,374.3 L531.3,375.3 L531.8,376.2 L532.4,377.2 L532.9,378.2 L533.5,379.1 L534.0,380.1 L534.5,381.1 L535.0,382.0 L535.5,383.0 L536.0,384.0 L536.5,385.1 L536.9,386.1 L537.4,387.1 L537.9,388.2 L538.3,389.2 L538.8,390.3 L539.3,391.4 L539.8,392.4 L540.2,393.5 L540.7,394.6 L541.2,395.7 L541.7,396.8 L542.2,397.9 L542.7,399.1 L543.2,400.2 L543.8,401.3 L544.3,402.4 L544.8,403.6 L545.4,404.7 L546.0,405.9 L546.6,407.0 L547.1,408.2 L547.7,409.3 L548.3,410.5 L548.8,411.6 L549.4,412.8 L549.9,414.0 L550.3,415.2 L550.8,416.3 L551.1,417.5 L551.5,418.7 L551.8,419.9 L552.0,421.1 L552.2,422.4 L552.3,423.6 L552.3,424.8 L552.2,426.0 L552.1,427.2 L551.9,428.4 L551.6,429.5 L551.2,430.5 L550.7,431.3 L550.2,432.0 L549.6,432.5 L548.9,432.8 L548.1,432.9 L547.2,432.9 L546.4,432.6 L545.5,432.2 L544.6,431.6 L543.7,431.0 L542.9,430.2 L542.2,429.4 L541.5,428.4 L540.8,427.4 L540.2,426.4 L539.6,425.2 L539.0,424.1 L538.4,422.9 L537.9,421.6 L537.4,420.4 L536.9,419.1 L536.4,417.8 L535.9,416.5 L535.4,415.2 L534.9,414.0 L534.4,412.8 L533.9,411.6 L533.3,410.4 L532.8,409.3 L532.3,408.1 L531.7,407.0 L531.2,406.0 L530.6,404.9 L530.0,403.9 L529.4,402.8 L528.9,401.8 L528.3,400.8 L527.7,399.9 L527.1,398.9 L526.5,398.0 L525.9,397.0 L525.3,396.1 L524.8,395.2 L524.2,394.2 L523.6,393.3 L523.0,392.4 L522.4,391.5 L521.8,390.6 L521.2,389.7 L520.7,388.7 L520.1,387.8 L519.5,386.8 L519.0,385.8 L518.4,384.8 L517.9,383.7 L517.4,382.6 L516.8,381.5 L516.3,380.3 L515.8,379.1 L515.3,377.9 L514.8,376.6 L514.4,375.2 L513.9,373.8 L513.5,372.3 L513.1,370.8 L512.7,369.2 L512.3,367.6 L511.9,366.0 L511.6,364.4 L511.3,362.9 L511.1,361.3 L510.9,359.8 L510.7,358.4 L510.6,357.0 L510.5,355.7 L510.5,354.5 L510.5,353.5 L510.6,352.5 L510.8,351.7 L511.0,351.0 L511.2,350.5 L511.6,350.2 L512.0,350.1Z" fill="#aa3edc"/>
<path d="M162.6,82.2 L164.9,83.9 L167.2,85.6 L169.4,87.3 L171.7,89.0 L174.0,91.0 L176.2,92.9 L178.5,94.8 L180.8,96.8 L183.0,98.7 L185.3,100.6 L187.5,102.5 L189.8,104.4 L192.1,106.2 L194.3,107.9 L196.6,109.6 L198.9,111.4 L201.1,113.1 L203.4,114.9 L205.7,116.6 L207.9,118.3 L210.2,119.9 L212.5,121.5 L214.7,123.0 L217.0,124.5 L219.2,126.0 L221.5,127.6 L223.8,129.1 L226.0,130.6 L228.3,132.1 L230.6,133.6 L232.8,135.2 L235.1,137.0 L237.4,138.7 L239.6,140.5 L241.9,142.3 L244.2,144.1 L246.4,145.8 L248.7,147.6 L250.9,149.6 L253.2,151.7 L255.5,153.7 L257.7,155.7 L260.0,157.7 L262.3,159.7 L264.5,161.7 L266.8,163.8 L269.1,165.7 L271.3,167.6 L273.6,169.5 L275.8,171.4 L278.1,173.3 L280.4,175.2 L282.6,177.2 L284.9,179.1 L287.2,181.1 L289.4,183.3 L291.7,185.5 L294.0,187.7 L296.2,189.9 L298.5,192.1 L300.8,194.2 L303.0,196.4 L305.3,198.5 L307.5,200.7 L309.8,202.8 L312.1,205.0 L314.3,207.2 L316.6,209.4 L318.9,211.6 L321.1,213.9 L323.4,216.1 L325.7,218.3 L327.9,220.4 L330.2,222.4 L332.5,224.3 L334.7,226.2 L337.0,228.1 L339.2,230.0 L341.5,232.0 L343.8,233.9 L346.0,235.8 L348.3,237.8 L350.6,239.7 L352.8,241.6 L355.1,243.6 L357.4,245.5 L359.6,247.4 L361.9,249.4 L364.2,251.3 L366.4,253.6 L368.7,255.8 L370.9,258.0 L373.2,260.3 L375.5,262.5 L377.7,264.7 L380.0,267.0 L382.3,269.2 L384.5,271.5 L386.8,273.7 L389.1,275.9 L391.3,278.3 L393.6,280.6 L395.8,282.9 L398.1,285.2 L400.4,287.5 L402.6,289.8 L404.9,292.1 L407.2,294.4 L409.4,296.7 L411.7,299.0 L414.0,301.3 L416.2,303.6 L418.5,305.9 L420.8,308.3 L423.0,310.7 L425.3,313.1 L427.5,315.5 L429.8,317.9 L432.1,320.3 L434.3,322.7 L436.6,325.1 L438.9,327.5 L441.1,329.9 L443.4,332.3 L445.7,334.7 L447.9,337.1 L450.2,339.6 L452.5,342.0 L454.7,344.4 L457.0,346.8M160.4,82.5 L162.6,84.3 L164.9,86.0 L167.2,87.7 L169.4,89.4 L171.7,91.2 L174.0,93.1 L176.2,95.0 L178.5,97.0 L180.8,98.9 L183.0,100.8 L185.3,102.7 L187.5,104.7 L189.8,106.6 L192.1,108.3 L194.3,110.1 L196.6,111.8 L198.9,113.6 L201.1,115.3 L203.4,117.1 L205.7,118.8 L207.9,120.6 L210.2,122.2 L212.5,123.7 L214.7,125.2 L217.0,126.8 L219.2,128.3 L221.5,129.9 L223.8,131.4 L226.0,132.9 L228.3,134.5 L230.6,136.0 L232.8,137.6 L235.1,139.4 L237.4,141.1 L239.6,142.9 L241.9,144.7 L244.2,146.5 L246.4,148.3 L248.7,150.1 L250.9,152.1 L253.2,154.1 L255.5,156.1 L257.7,158.1 L260.0,160.1 L262.3,162.1 L264.5,164.2 L266.8,166.2 L269.1,168.1 L271.3,170.0 L273.6,171.9 L275.8,173.8 L278.1,175.7 L280.4,177.7 L282.6,179.6 L284.9,181.5 L287.2,183.6 L289.4,185.8 L291.7,188.0 L294.0,190.1 L296.2,192.3 L298.5,194.4 L300.8,196.6 L303.0,198.7 L305.3,200.8 L307.5,203.0 L309.8,205.1 L312.1,207.2 L314.3,209.4 L316.6,211.6 L318.9,213.9 L321.1,216.1 L323.4,218.3 L325.7,220.5 L327.9,222.7 L330.2,224.6 L332.5,226.5 L334.7,228.4 L337.0,230.3 L339.2,232.2 L341.5,234.1 L343.8,236.1 L346.0,238.0 L348.3,240.0 L350.6,241.9 L352.8,243.8 L355.1,245.8 L357.4,247.7 L359.6,249.6 L361.9,251.6 L364.2,253.5 L366.4,255.7 L368.7,258.0 L370.9,260.2 L373.2,262.4 L375.5,264.6 L377.7,266.9 L380.0,269.1 L382.3,271.3 L384.5,273.5 L386.8,275.7 L389.1,278.0 L391.3,280.3 L393.6,282.6 L395.8,284.9 L398.1,287.2 L400.4,289.4 L402.6,291.7 L404.9,294.0 L407.2,296.2 L409.4,298.5 L411.7,300.8 L414.0,303.0 L416.2,305.3 L418.5,307.6 L420.8,310.0 L423.0,312.4 L425.3,314.7 L427.5,317.1 L429.8,319.5 L432.1,321.9 L434.3,324.2 L436.6,326.6 L438.9,329.0 L441.1,331.4 L443.4,333.8 L445.7,336.1 L447.9,338.5 L450.2,340.9 L452.5,343.3 L454.7,345.7 L457.0,348.1 L459.2,350.4 L461.5,352.8M176.2,97.2 L178.5,99.1 L180.8,101.1 L183.0,103.0 L185.3,104.9 L187.5,106.8 L189.8,108.7 L192.1,110.5 L194.3,112.2 L196.6,114.0 L198.9,115.7 L201.1,117.5 L203.4,119.2 L205.7,121.0 L207.9,122.8 L210.2,124.4 L212.5,125.9 L214.7,127.5 L217.0,129.1 L219.2,130.6 L221.5,132.2 L223.8,133.7 L226.0,135.3 L228.3,136.8 L230.6,138.4 L232.8,140.0 L235.1,141.8 L237.4,143.6 L239.6,145.3 L241.9,147.1 L244.2,148.9 L246.4,150.7 L248.7,152.5 L250.9,154.5 L253.2,156.5 L255.5,158.5 L257.7,160.5 L260.0,162.6 L262.3,164.6 L264.5,166.6 L266.8,168.6 L269.1,170.5 L271.3,172.4 L273.6,174.3 L275.8,176.2 L278.1,178.1 L280.4,180.1 L282.6,182.0 L284.9,183.9 L287.2,186.0 L289.4,188.2 L291.7,190.4 L294.0,192.6 L296.2,194.7 L298.5,196.8 L300.8,198.9 L303.0,201.0 L305.3,203.2 L307.5,205.3 L309.8,207.4 L312.1,209.5 L314.3,211.7 L316.6,213.9 L318.9,216.1 L321.1,218.3 L323.4,220.6 L325.7,222.7 L327.9,224.9 L330.2,226.8 L332.5,228.7 L334.7,230.6 L337.0,232.5 L339.2,234.4 L341.5,236.3 L343.8,238.3 L346.0,240.2 L348.3,242.1 L350.6,244.1 L352.8,246.0 L355.1,247.9 L357.4,249.9 L359.6,251.8 L361.9,253.7 L364.2,255.7 L366.4,257.9 L368.7,260.1 L370.9,262.3 L373.2,264.5 L375.5,266.8 L377.7,269.0 L380.0,271.2 L382.3,273.4 L384.5,275.6 L386.8,277.8 L389.1,280.0 L391.3,282.3 L393.6,284.6 L395.8,286.9 L398.1,289.1 L400.4,291.4 L402.6,293.6 L404.9,295.8 L407.2,298.1 L409.4,300.3 L411.7,302.5 L414.0,304.8 L416.2,307.0 L418.5,309.3 L420.8,311.7 L423.0,314.0 L425.3,316.4 L427.5,318.7 L429.8,321.1 L432.1,323.4 L434.3,325.8M189.8,110.9 L192.1,112.6 L194.3,114.4 L196.6,116.1 L198.9,117.9 L201.1,119.7 L203.4,121.4 L205.7,123.2 L207.9,125.0 L210.2,126.6 L212.5,128.2 L214.7,129.8 L217.0,131.3 L219.2,132.9 L221.5,134.5 L223.8,136.1 L226.0,137.6 L228.3,139.2 L230.6,140.8 L232.8,142.4 L235.1,144.2 L237.4,146.0 L239.6,147.8 L241.9,149.5 L244.2,151.3 L246.4,153.1 L248.7,154.9 L250.9,156.9 L253.2,159.0 L255.5,161.0 L257.7,163.0 L260.0,165.0 L262.3,167.0 L264.5,169.0 L266.8,171.0 L269.1,172.9 L271.3,174.8 L273.6,176.7 L275.8,178.6 L278.1,180.6 L280.4,182.5 L282.6,184.4 L284.9,186.4 L287.2,188.4 L289.4,190.6 L291.7,192.8 L294.0,195.0 L296.2,197.1 L298.5,199.2 L300.8,201.3 L303.0,203.4 L305.3,205.5 L307.5,207.6 L309.8,209.7 L312.1,211.8 L314.3,213.9 L316.6,216.1 L318.9,218.4 L321.1,220.6 L323.4,222.8 L325.7,225.0 L327.9,227.1 L330.2,229.0 L332.5,230.9 L334.7,232.8 L337.0,234.7 L339.2,236.6 L341.5,238.5 L343.8,240.5 L346.0,242.4 L348.3,244.3 L350.6,246.3 L352.8,248.2 L355.1,250.1 L357.4,252.1 L359.6,254.0 L361.9,255.9 L364.2,257.9 L366.4,260.1 L368.7,262.3 L370.9,264.5 L373.2,266.7 L375.5,268.9 L377.7,271.1 L380.0,273.3 L382.3,275.5 L384.5,277.7 L386.8,279.8 L389.1,282.0 L391.3,284.3 L393.6,286.6 L395.8,288.9 L398.1,291.1 L400.4,293.3 L402.6,295.5 L404.9,297.7 L407.2,299.9 L409.4,302.1 L411.7,304.3 L414.0,306.5 L416.2,308.8 L418.5,311.0 L420.8,313.3 L423.0,315.7 L425.3,318.0M164.9,92.3 L167.2,94.1 L169.4,95.8 L171.7,97.6 L174.0,99.6 L176.2,101.5 L178.5,103.4 L180.8,105.4 L183.0,107.3 L185.3,109.2 L187.5,111.1 L189.8,113.0 L192.1,114.8 L194.3,116.5 L196.6,118.3 L198.9,120.1 L201.1,121.8 L203.4,123.6 L205.7,125.4 L207.9,127.2 L210.2,128.8 L212.5,130.4 L214.7,132.0 L217.0,133.6 L219.2,135.2 L221.5,136.8 L223.8,138.4 L226.0,140.0 L228.3,141.6 L230.6,143.1 L232.8,144.8 L235.1,146.6 L237.4,148.4 L239.6,150.2 L241.9,152.0 L244.2,153.8 L246.4,155.6 L248.7,157.4 L250.9,159.4 L253.2,161.4 L255.5,163.4 L257.7,165.4 L260.0,167.4 L262.3,169.4 L264.5,171.4 L266.8,173.4 L269.1,175.3 L271.3,177.2 L273.6,179.1 L275.8,181.0 L278.1,183.0 L280.4,184.9 L282.6,186.8 L284.9,188.8 L287.2,190.8 L289.4,193.0 L291.7,195.2 L294.0,197.4 L296.2,199.5 L298.5,201.6 L300.8,203.6 L303.0,205.7 L305.3,207.8 L307.5,209.9 L309.8,211.9 L312.1,214.0 L314.3,216.2 L316.6,218.4 L318.9,220.6 L321.1,222.8 L323.4,225.1 L325.7,227.2 L327.9,229.3 L330.2,231.2 L332.5,233.1 L334.7,235.0 L337.0,236.9 L339.2,238.8 L341.5,240.7 L343.8,242.7 L346.0,244.6 L348.3,246.5 L350.6,248.5 L352.8,250.4 L355.1,252.3 L357.4,254.3 L359.6,256.2 L361.9,258.1 L364.2,260.1 L366.4,262.3 L368.7,264.4 L370.9,266.6 L373.2,268.8 L375.5,271.0 L377.7,273.2 L380.0,275.4 L382.3,277.5 L384.5,279.7 L386.8,281.9 L389.1,284.1 L391.3,286.3 L393.6,288.6 L395.8,290.9M155.8,88.2 L158.1,89.2 L160.4,90.9 L162.6,92.7 L164.9,94.5 L167.2,96.2 L169.4,98.0 L171.7,99.8 L174.0,101.7 L176.2,103.6 L178.5,105.6 L180.8,107.5 L183.0,109.4 L185.3,111.3 L187.5,113.2 L189.8,115.2 L192.1,116.9 L194.3,118.7 L196.6,120.5 L198.9,122.2 L201.1,124.0 L203.4,125.8 L205.7,127.6 L207.9,129.4 L210.2,131.0 L212.5,132.6 L214.7,134.3 L217.0,135.9 L219.2,137.5 L221.5,139.1 L223.8,140.7 L226.0,142.3 L228.3,143.9 L230.6,145.5 L232.8,147.2 L235.1,149.0 L237.4,150.8 L239.6,152.6 L241.9,154.4 L244.2,156.2 L246.4,158.0 L248.7,159.8 L250.9,161.8 L253.2,163.8 L255.5,165.8 L257.7,167.8 L260.0,169.8 L262.3,171.8 L264.5,173.8 L266.8,175.8 L269.1,177.7 L271.3,179.6 L273.6,181.5 L275.8,183.4 L278.1,185.4 L280.4,187.3 L282.6,189.3 L284.9,191.2 L287.2,193.3 L289.4,195.4 L291.7,197.6 L294.0,199.8 L296.2,201.9 L298.5,203.9 L300.8,206.0 L303.0,208.0 L305.3,210.1 L307.5,212.2 L309.8,214.2 L312.1,216.3 L314.3,218.4 L316.6,220.6 L318.9,222.9 L321.1,225.1 L323.4,227.3 L325.7,229.4 L327.9,231.5 L330.2,233.4 L332.5,235.3 L334.7,237.2 L337.0,239.1 L339.2,241.0 L341.5,242.9 L343.8,244.8 L346.0,246.8 L348.3,248.7 L350.6,250.6 L352.8,252.6 L355.1,254.5 L357.4,256.4 L359.6,258.4 L361.9,260.3 L364.2,262.3 L366.4,264.4 L368.7,266.6 L370.9,268.8 L373.2,270.9 L375.5,273.1 L377.7,275.3 L380.0,277.4 L382.3,279.6 L384.5,281.8 L386.8,284.0 L389.1,286.1 L391.3,288.4 L393.6,290.6 L395.8,292.9 L398.1,295.0 L400.4,297.2 L402.6,299.3 L404.9,301.5 L407.2,303.6 L409.4,305.7 L411.7,307.9 L414.0,310.0 L416.2,312.2 L418.5,314.4 L420.8,316.7 L423.0,319.0 L425.3,321.3 L427.5,323.5 L429.8,325.8 L432.1,328.1 L434.3,330.4 L436.6,332.7 L438.9,334.9 L441.1,337.2 L443.4,339.5 L445.7,341.8M174.0,103.9 L176.2,105.8 L178.5,107.7 L180.8,109.7 L183.0,111.6 L185.3,113.5 L187.5,115.4 L189.8,117.3 L192.1,119.1 L194.3,120.9 L196.6,122.6 L198.9,124.4 L201.1,126.2 L203.4,128.0 L205.7,129.8 L207.9,131.6 L210.2,133.3 L212.5,134.9 L214.7,136.5 L217.0,138.1 L219.2,139.8 L221.5,141.4 L223.8,143.0 L226.0,144.6 L228.3,146.3 L230.6,147.9 L232.8,149.5 L235.1,151.4 L237.4,153.2 L239.6,155.0 L241.9,156.8 L244.2,158.6 L246.4,160.4 L248.7,162.2 L250.9,164.2 L253.2,166.2 L255.5,168.2 L257.7,170.2 L260.0,172.2 L262.3,174.2 L264.5,176.2 L266.8,178.2 L269.1,180.1 L271.3,182.0 L273.6,183.9 L275.8,185.8 L278.1,187.8 L280.4,189.7 L282.6,191.7 L284.9,193.6 L287.2,195.7 L289.4,197.8 L291.7,200.0 L294.0,202.2 L296.2,204.3 L298.5,206.3 L300.8,208.3 L303.0,210.4 L305.3,212.4 L307.5,214.5 L309.8,216.5 L312.1,218.5 L314.3,220.6 L316.6,222.9 L318.9,225.1 L321.1,227.3 L323.4,229.6 L325.7,231.7 L327.9,233.7 L330.2,235.6 L332.5,237.5 L334.7,239.4 L337.0,241.3 L339.2,243.2 L341.5,245.1 L343.8,247.0 L346.0,249.0 L348.3,250.9 L350.6,252.8 L352.8,254.8 L355.1,256.7 L357.4,258.6 L359.6,260.6 L361.9,262.5 L364.2,264.4 L366.4,266.6 L368.7,268.8 L370.9,270.9 L373.2,273.1 L375.5,275.2 L377.7,277.4 L380.0,279.5 L382.3,281.7 L384.5,283.9 L386.8,286.0 L389.1,288.2 L391.3,290.4 L393.6,292.6M194.3,123.0 L196.6,124.8 L198.9,126.6 L201.1,128.4 L203.4,130.2 L205.7,132.0 L207.9,133.8 L210.2,135.5 L212.5,137.1 L214.7,138.8 L217.0,140.4 L219.2,142.1 L221.5,143.7 L223.8,145.4 L226.0,147.0 L228.3,148.6 L230.6,150.3 L232.8,151.9 L235.1,153.8 L237.4,155.6 L239.6,157.4 L241.9,159.2 L244.2,161.0 L246.4,162.9 L248.7,164.7 L250.9,166.7 L253.2,168.7 L255.5,170.7 L257.7,172.7 L260.0,174.7 L262.3,176.6 L264.5,178.6 L266.8,180.6 L269.1,182.5 L271.3,184.4 L273.6,186.3 L275.8,188.3 L278.1,190.2 L280.4,192.2 L282.6,194.1 L284.9,196.1 L287.2,198.1 L289.4,200.3 L291.7,202.4 L294.0,204.6 L296.2,206.6 L298.5,208.7 L300.8,210.7 L303.0,212.7 L305.3,214.7 L307.5,216.8 L309.8,218.8 L312.1,220.8 L314.3,222.9 L316.6,225.1 L318.9,227.3 L321.1,229.6 L323.4,231.8 L325.7,233.9 L327.9,236.0 L330.2,237.8 L332.5,239.7 L334.7,241.6 L337.0,243.5 L339.2,245.4 L341.5,247.3 L343.8,249.2 L346.0,251.2 L348.3,253.1 L350.6,255.0 L352.8,256.9 L355.1,258.9 L357.4,260.8 L359.6,262.7 L361.9,264.7 L364.2,266.6 L366.4,268.8 L368.7,270.9 L370.9,273.1 L373.2,275.2 L375.5,277.3 L377.7,279.5 L380.0,281.6 L382.3,283.8 L384.5,285.9 L386.8,288.1 L389.1,290.2 L391.3,292.4 L393.6,294.6 L395.8,296.8 L398.1,298.9 L400.4,301.0 L402.6,303.1M171.7,106.2 L174.0,108.2 L176.2,110.1 L178.5,112.0 L180.8,114.0 L183.0,115.9 L185.3,117.8 L187.5,119.7 L189.8,121.6 L192.1,123.4 L194.3,125.2 L196.6,127.0 L198.9,128.8 L201.1,130.5 L203.4,132.4 L205.7,134.2 L207.9,136.0 L210.2,137.7 L212.5,139.4 L214.7,141.0 L217.0,142.7 L219.2,144.4 L221.5,146.0 L223.8,147.7 L226.0,149.3 L228.3,151.0 L230.6,152.6 L232.8,154.3 L235.1,156.2 L237.4,158.0 L239.6,159.8 L241.9,161.6 L244.2,163.5 L246.4,165.3 L248.7,167.1 L250.9,169.1 L253.2,171.1 L255.5,173.1 L257.7,175.1 L260.0,177.1 L262.3,179.1 L264.5,181.0 L266.8,183.0 L269.1,184.9 L271.3,186.8 L273.6,188.8 L275.8,190.7 L278.1,192.6 L280.4,194.6 L282.6,196.5 L284.9,198.5 L287.2,200.5 L289.4,202.7 L291.7,204.8 L294.0,207.0 L296.2,209.0 L298.5,211.0 L300.8,213.0 L303.0,215.0 L305.3,217.1 L307.5,219.1 L309.8,221.1 L312.1,223.1 L314.3,225.1 L316.6,227.4 L318.9,229.6 L321.1,231.8 L323.4,234.0 L325.7,236.1 L327.9,238.2 L330.2,240.1 L332.5,241.9 L334.7,243.8 L337.0,245.7 L339.2,247.6 L341.5,249.5 L343.8,251.4 L346.0,253.3 L348.3,255.3 L350.6,257.2 L352.8,259.1 L355.1,261.1 L357.4,263.0 L359.6,264.9 L361.9,266.9 L364.2,268.8 L366.4,270.9 L368.7,273.1 L370.9,275.2 L373.2,277.3 L375.5,279.5 L377.7,281.6 L380.0,283.7 L382.3,285.9 L384.5,288.0 L386.8,290.1 L389.1,292.2 L391.3,294.4 L393.6,296.6 L395.8,298.8 L398.1,300.9 L400.4,303.0 L402.6,305.0 L404.9,307.1M183.0,118.0 L185.3,119.9 L187.5,121.8 L189.8,123.7 L192.1,125.5 L194.3,127.3 L196.6,129.1 L198.9,130.9 L201.1,132.7 L203.4,134.5 L205.7,136.4 L207.9,138.2 L210.2,139.9 L212.5,141.6 L214.7,143.3 L217.0,145.0 L219.2,146.7 L221.5,148.3 L223.8,150.0 L226.0,151.7 L228.3,153.3 L230.6,155.0 L232.8,156.7 L235.1,158.5 L237.4,160.4 L239.6,162.2 L241.9,164.1 L244.2,165.9 L246.4,167.7 L248.7,169.6 L250.9,171.5 L253.2,173.5 L255.5,175.5 L257.7,177.5 L260.0,179.5 L262.3,181.5 L264.5,183.4 L266.8,185.4 L269.1,187.3 L271.3,189.3 L273.6,191.2 L275.8,193.1 L278.1,195.0 L280.4,197.0 L282.6,198.9 L284.9,200.9 L287.2,203.0 L289.4,205.1 L291.7,207.2 L294.0,209.4 L296.2,211.4 L298.5,213.4 L300.8,215.4 L303.0,217.4 L305.3,219.4 L307.5,221.4 L309.8,223.3 L312.1,225.3 L314.3,227.4 L316.6,229.6 L318.9,231.8 L321.1,234.1 L323.4,236.3 L325.7,238.4 L327.9,240.4 L330.2,242.3 L332.5,244.1 L334.7,246.0 L337.0,247.9 L339.2,249.8 L341.5,251.7 L343.8,253.6 L346.0,255.5 L348.3,257.5 L350.6,259.4 L352.8,261.3 L355.1,263.3 L357.4,265.2 L359.6,267.1 L361.9,269.1 L364.2,271.0 L366.4,273.1 L368.7,275.2 L370.9,277.4 L373.2,279.5 L375.5,281.6 L377.7,283.7 L380.0,285.8 L382.3,287.9 L384.5,290.0 L386.8,292.2 L389.1,294.3 L391.3,296.5 L393.6,298.6 L395.8,300.8 L398.1,302.9 L400.4,304.9 L402.6,306.9 L404.9,308.9 L407.2,311.0 L409.4,313.0 L411.7,315.0 L414.0,317.1 L416.2,319.1 L418.5,321.3 L420.8,323.4 L423.0,325.6 L425.3,327.8 L427.5,330.0 L429.8,332.1 L432.1,334.3M180.8,118.3 L183.0,120.2 L185.3,122.1 L187.5,124.0 L189.8,125.9 L192.1,127.7 L194.3,129.5 L196.6,131.3 L198.9,133.1 L201.1,134.9 L203.4,136.7 L205.7,138.6 L207.9,140.4 L210.2,142.1 L212.5,143.8 L214.7,145.5 L217.0,147.2 L219.2,148.9 L221.5,150.6 L223.8,152.3 L226.0,154.0 L228.3,155.7 L230.6,157.4 L232.8,159.1 L235.1,160.9 L237.4,162.8 L239.6,164.6 L241.9,166.5 L244.2,168.3 L246.4,170.2 L248.7,172.0 L250.9,174.0 L253.2,176.0 L255.5,178.0 L257.7,179.9 L260.0,181.9 L262.3,183.9 L264.5,185.9 L266.8,187.8 L269.1,189.8 L271.3,191.7 L273.6,193.6 L275.8,195.5 L278.1,197.4 L280.4,199.4 L282.6,201.4 L284.9,203.3 L287.2,205.4 L289.4,207.5 L291.7,209.7 L294.0,211.8 L296.2,213.8 L298.5,215.8 L300.8,217.7 L303.0,219.7 L305.3,221.7 L307.5,223.6 L309.8,225.6 L312.1,227.6 L314.3,229.6 L316.6,231.9 L318.9,234.1 L321.1,236.3 L323.4,238.5 L325.7,240.6 L327.9,242.6 L330.2,244.5 L332.5,246.3 L334.7,248.2 L337.0,250.1 L339.2,251.9 L341.5,253.9 L343.8,255.8 L346.0,257.7 L348.3,259.7 L350.6,261.6 L352.8,263.5 L355.1,265.4 L357.4,267.4 L359.6,269.3 L361.9,271.2 L364.2,273.2 L366.4,275.3 L368.7,277.4 L370.9,279.5 L373.2,281.6 L375.5,283.7 L377.7,285.8 L380.0,287.9 L382.3,290.0 L384.5,292.1 L386.8,294.2 L389.1,296.3 L391.3,298.5 L393.6,300.6 L395.8,302.8 L398.1,304.8 L400.4,306.8 L402.6,308.8M164.9,107.2 L167.2,109.0 L169.4,110.8 L171.7,112.7 L174.0,114.6 L176.2,116.5 L178.5,118.5 L180.8,120.4 L183.0,122.3 L185.3,124.2 L187.5,126.1 L189.8,128.0 L192.1,129.8 L194.3,131.7 L196.6,133.5 L198.9,135.3 L201.1,137.1 L203.4,138.9 L205.7,140.8 L207.9,142.6 L210.2,144.4 L212.5,146.1 L214.7,147.8 L217.0,149.5 L219.2,151.2 L221.5,152.9 L223.8,154.7 L226.0,156.4 L228.3,158.1 L230.6,159.8 L232.8,161.5 L235.1,163.3 L237.4,165.2 L239.6,167.0 L241.9,168.9 L244.2,170.7 L246.4,172.6 L248.7,174.4 L250.9,176.4 L253.2,178.4 L255.5,180.4 L257.7,182.4 L260.0,184.3 L262.3,186.3 L264.5,188.3 L266.8,190.2 L269.1,192.2 L271.3,194.1 L273.6,196.0 L275.8,197.9 L278.1,199.8 L280.4,201.8 L282.6,203.8 L284.9,205.8 L287.2,207.8 L289.4,209.9 L291.7,212.1 L294.0,214.2 L296.2,216.2 L298.5,218.2 L300.8,220.1 L303.0,222.0 L305.3,224.0 L307.5,225.9 L309.8,227.9 L312.1,229.8 L314.3,231.9 L316.6,234.1 L318.9,236.3 L321.1,238.6 L323.4,240.8 L325.7,242.8 L327.9,244.8 L330.2,246.7 L332.5,248.6 L334.7,250.4 L337.0,252.3 L339.2,254.1 L341.5,256.0 L343.8,258.0 L346.0,259.9 L348.3,261.8 L350.6,263.8 L352.8,265.7 L355.1,267.6 L357.4,269.6 L359.6,271.5 L361.9,273.4 L364.2,275.4 L366.4,277.5 L368.7,279.6 L370.9,281.6 L373.2,283.7 L375.5,285.8 L377.7,287.9 L380.0,290.0 L382.3,292.1 L384.5,294.2 L386.8,296.3 L389.1,298.4 L391.3,300.5 L393.6,302.6 L395.8,304.8 L398.1,306.8 L400.4,308.7 L402.6,310.7M167.2,111.1 L169.4,113.0 L171.7,114.8 L174.0,116.8 L176.2,118.7 L178.5,120.6 L180.8,122.6 L183.0,124.5 L185.3,126.4 L187.5,128.3 L189.8,130.2 L192.1,132.0 L194.3,133.8 L196.6,135.6 L198.9,137.4 L201.1,139.3 L203.4,141.1 L205.7,143.0 L207.9,144.8 L210.2,146.6 L212.5,148.3 L214.7,150.0 L217.0,151.8 L219.2,153.5 L221.5,155.3 L223.8,157.0 L226.0,158.7 L228.3,160.4 L230.6,162.1 L232.8,163.9 L235.1,165.7 L237.4,167.6 L239.6,169.4 L241.9,171.3 L244.2,173.2 L246.4,175.0 L248.7,176.9 L250.9,178.9 L253.2,180.8 L255.5,182.8 L257.7,184.8 L260.0,186.7 L262.3,188.7 L264.5,190.7 L266.8,192.6 L269.1,194.6 L271.3,196.5 L273.6,198.4 L275.8,200.3 L278.1,202.3 L280.4,204.2 L282.6,206.2 L284.9,208.2 L287.2,210.2 L289.4,212.4 L291.7,214.5 L294.0,216.6 L296.2,218.6 L298.5,220.5 L300.8,222.5 L303.0,224.4 L305.3,226.3 L307.5,228.2 L309.8,230.2 L312.1,232.1 L314.3,234.1 L316.6,236.3 L318.9,238.6 L321.1,240.8 L323.4,243.0 L325.7,245.1 L327.9,247.0 L330.2,248.9 L332.5,250.8 L334.7,252.6 L337.0,254.5 L339.2,256.3 L341.5,258.2 L343.8,260.2 L346.0,262.1 L348.3,264.0 L350.6,266.0 L352.8,267.9 L355.1,269.8 L357.4,271.8 L359.6,273.7 L361.9,275.6 L364.2,277.6 L366.4,279.6 L368.7,281.7 L370.9,283.8 L373.2,285.9 L375.5,287.9 L377.7,290.0 L380.0,292.1 L382.3,294.2 L384.5,296.2 L386.8,298.3 L389.1,300.4 L391.3,302.5M160.4,107.7 L162.6,109.6 L164.9,111.4 L167.2,113.3 L169.4,115.1 L171.7,117.0 L174.0,118.9 L176.2,120.8 L178.5,122.8 L180.8,124.7 L183.0,126.6 L185.3,128.5 L187.5,130.4 L189.8,132.3 L192.1,134.1 L194.3,136.0 L196.6,137.8 L198.9,139.6 L201.1,141.4 L203.4,143.3 L205.7,145.2 L207.9,147.0 L210.2,148.8 L212.5,150.5 L214.7,152.3 L217.0,154.1 L219.2,155.8 L221.5,157.6 L223.8,159.3 L226.0,161.0 L228.3,162.8 L230.6,164.5 L232.8,166.3 L235.1,168.1 L237.4,170.0 L239.6,171.9 L241.9,173.7 L244.2,175.6 L246.4,177.4 L248.7,179.3 L250.9,181.3 L253.2,183.3 L255.5,185.2 L257.7,187.2 L260.0,189.2 L262.3,191.1 L264.5,193.1 L266.8,195.1 L269.1,197.0 L271.3,198.9 L273.6,200.8 L275.8,202.7 L278.1,204.7 L280.4,206.7 L282.6,208.6 L284.9,210.6 L287.2,212.7 L289.4,214.8 L291.7,216.9 L294.0,219.0 L296.2,221.0 L298.5,222.9 L300.8,224.8 L303.0,226.7 L305.3,228.6 L307.5,230.5 L309.8,232.4 L312.1,234.4 L314.3,236.4 L316.6,238.6 L318.9,240.8 L321.1,243.0 L323.4,245.3 L325.7,247.3 L327.9,249.3 L330.2,251.1 L332.5,253.0 L334.7,254.8 L337.0,256.7 L339.2,258.5 L341.5,260.4 L343.8,262.4 L346.0,264.3 L348.3,266.2 L350.6,268.1 L352.8,270.1 L355.1,272.0 L357.4,273.9 L359.6,275.9 L361.9,277.8 L364.2,279.7 L366.4,281.8 L368.7,283.9 L370.9,285.9 L373.2,288.0 L375.5,290.1 L377.7,292.1 L380.0,294.2 L382.3,296.3 L384.5,298.3 L386.8,300.4 L389.1,302.4 L391.3,304.5 L393.6,306.6 L395.8,308.8 L398.1,310.7 L400.4,312.6 L402.6,314.5 L404.9,316.4 L407.2,318.3 L409.4,320.3 L411.7,322.2 L414.0,324.1 L416.2,326.1 L418.5,328.1 L420.8,330.2 L423.0,332.3 L425.3,334.3 L427.5,336.4 L429.8,338.5 L432.1,340.6 L434.3,342.6 L436.6,344.7 L438.9,346.8 L441.1,348.9 L443.4,351.0 L445.7,353.1 L447.9,355.2 L450.2,357.2 L452.5,359.2 L454.7,361.1 L457.0,363.1 L459.2,365.0 L461.5,367.0 L463.8,368.9 L466.0,370.8M198.9,141.8 L201.1,143.6 L203.4,145.5 L205.7,147.3 L207.9,149.2 L210.2,151.0 L212.5,152.8 L214.7,154.6 L217.0,156.3 L219.2,158.1 L221.5,159.9 L223.8,161.6 L226.0,163.4 L228.3,165.1 L230.6,166.9 L232.8,168.7 L235.1,170.5 L237.4,172.4 L239.6,174.3 L241.9,176.1 L244.2,178.0 L246.4,179.9 L248.7,181.7 L250.9,183.7 L253.2,185.7 L255.5,187.7 L257.7,189.6 L260.0,191.6 L262.3,193.5 L264.5,195.5 L266.8,197.5 L269.1,199.4 L271.3,201.3 L273.6,203.2 L275.8,205.1 L278.1,207.1 L280.4,209.1 L282.6,211.1 L284.9,213.0 L287.2,215.1 L289.4,217.2 L291.7,219.3 L294.0,221.4 L296.2,223.4 L298.5,225.3 L300.8,227.2 L303.0,229.1 L305.3,230.9 L307.5,232.8 L309.8,234.7 L312.1,236.6 L314.3,238.6 L316.6,240.8 L318.9,243.1 L321.1,245.3 L323.4,247.5 L325.7,249.5 L327.9,251.5 L330.2,253.3 L332.5,255.2 L334.7,257.0 L337.0,258.9 L339.2,260.7 L341.5,262.6 L343.8,264.5 L346.0,266.5 L348.3,268.4 L350.6,270.3 L352.8,272.3 L355.1,274.2 L357.4,276.1 L359.6,278.1 L361.9,280.0 L364.2,281.9 L366.4,284.0 L368.7,286.0 L370.9,288.1 L373.2,290.1 L375.5,292.2 L377.7,294.2 L380.0,296.3 L382.3,298.3 L384.5,300.4 L386.8,302.4 L389.1,304.5 L391.3,306.6 L393.6,308.7 L395.8,310.7M151.3,106.0 L153.6,107.3 L155.8,108.6 L158.1,110.1 L160.4,111.9 L162.6,113.8 L164.9,115.7 L167.2,117.5 L169.4,119.4 L171.7,121.3 L174.0,123.2 L176.2,125.1 L178.5,127.1 L180.8,129.0 L183.0,130.9 L185.3,132.8 L187.5,134.7 L189.8,136.6 L192.1,138.4 L194.3,140.3 L196.6,142.1 L198.9,143.9 L201.1,145.8 L203.4,147.7 L205.7,149.5 L207.9,151.4 L210.2,153.2 L212.5,155.0 L214.7,156.8 L217.0,158.6 L219.2,160.4 L221.5,162.2 L223.8,164.0 L226.0,165.7 L228.3,167.5 L230.6,169.3 L232.8,171.1 L235.1,172.9 L237.4,174.8 L239.6,176.7 L241.9,178.6 L244.2,180.4 L246.4,182.3 L248.7,184.2 L250.9,186.2 L253.2,188.1 L255.5,190.1 L257.7,192.1 L260.0,194.0 L262.3,196.0 L264.5,197.9 L266.8,199.9 L269.1,201.8 L271.3,203.7 L273.6,205.6 L275.8,207.5 L278.1,209.5 L280.4,211.5 L282.6,213.5 L284.9,215.5 L287.2,217.5 L289.4,219.6 L291.7,221.7 L294.0,223.8 L296.2,225.8 L298.5,227.6 L300.8,229.5 L303.0,231.4 L305.3,233.3 L307.5,235.1 L309.8,237.0 L312.1,238.9 L314.3,240.9 L316.6,243.1 L318.9,245.3 L321.1,247.5 L323.4,249.8 L325.7,251.8 L327.9,253.7 L330.2,255.5 L332.5,257.4 L334.7,259.2 L337.0,261.1 L339.2,262.9 L341.5,264.8 L343.8,266.7 L346.0,268.7 L348.3,270.6 L350.6,272.5 L352.8,274.5 L355.1,276.4 L357.4,278.3 L359.6,280.2 L361.9,282.2 L364.2,284.1 L366.4,286.1 L368.7,288.2 L370.9,290.2 L373.2,292.3 L375.5,294.3 L377.7,296.3 L380.0,298.4 L382.3,300.4 L384.5,302.4 L386.8,304.5 L389.1,306.5 L391.3,308.6 L393.6,310.7 L395.8,312.7 L398.1,314.6M185.3,135.0 L187.5,136.9 L189.8,138.8 L192.1,140.6 L194.3,142.4 L196.6,144.3 L198.9,146.1 L201.1,148.0 L203.4,149.9 L205.7,151.7 L207.9,153.6 L210.2,155.5 L212.5,157.3 L214.7,159.1 L217.0,160.9 L219.2,162.7 L221.5,164.5 L223.8,166.3 L226.0,168.1 L228.3,169.9 L230.6,171.7 L232.8,173.5 L235.1,175.3 L237.4,177.2 L239.6,179.1 L241.9,181.0 L244.2,182.9 L246.4,184.7 L248.7,186.6 L250.9,188.6 L253.2,190.6 L255.5,192.5 L257.7,194.5 L260.0,196.4 L262.3,198.4 L264.5,200.3 L266.8,202.3 L269.1,204.2 L271.3,206.1 L273.6,208.0 L275.8,209.9 L278.1,211.9 L280.4,213.9 L282.6,215.9 L284.9,217.9 L287.2,219.9 L289.4,222.0 L291.7,224.1 L294.0,226.2 L296.2,228.2 L298.5,230.0 L300.8,231.9 L303.0,233.7 L305.3,235.6 L307.5,237.4 L309.8,239.3 L312.1,241.1 L314.3,243.1 L316.6,245.3 L318.9,247.6 L321.1,249.8 L323.4,252.0 L325.7,254.0 L327.9,255.9 L330.2,257.7 L332.5,259.6 L334.7,261.4 L337.0,263.3 L339.2,265.1 L341.5,267.0 L343.8,268.9 L346.0,270.9 L348.3,272.8 L350.6,274.7 L352.8,276.6 L355.1,278.6 L357.4,280.5 L359.6,282.4 L361.9,284.4 L364.2,286.3 L366.4,288.3 L368.7,290.3 L370.9,292.4 L373.2,294.4 L375.5,296.4 L377.7,298.5 L380.0,300.5 L382.3,302.5 L384.5,304.5 L386.8,306.5 L389.1,308.6 L391.3,310.6 L393.6,312.7 L395.8,314.7 L398.1,316.6 L400.4,318.4 L402.6,320.2 L404.9,322.0 L407.2,323.9 L409.4,325.7 L411.7,327.5 L414.0,329.3 L416.2,331.3 L418.5,333.2 L420.8,335.2 L423.0,337.2 L425.3,339.2 L427.5,341.2 L429.8,343.2 L432.1,345.2 L434.3,347.2 L436.6,349.2 L438.9,351.3 L441.1,353.3 L443.4,355.3 L445.7,357.3 L447.9,359.3M151.3,109.8 L153.6,111.2 L155.8,112.7 L158.1,114.3 L160.4,116.1 L162.6,118.0 L164.9,119.9 L167.2,121.8 L169.4,123.7 L171.7,125.6 L174.0,127.5 L176.2,129.4 L178.5,131.4 L180.8,133.3 L183.0,135.2 L185.3,137.1 L187.5,139.0 L189.8,140.9 L192.1,142.8 L194.3,144.6 L196.6,146.4 L198.9,148.3 L201.1,150.2 L203.4,152.0 L205.7,153.9 L207.9,155.8 L210.2,157.7 L212.5,159.5 L214.7,161.3 L217.0,163.1 L219.2,165.0 L221.5,166.8 L223.8,168.6 L226.0,170.4 L228.3,172.2 L230.6,174.0 L232.8,175.8 L235.1,177.7 L237.4,179.6 L239.6,181.5 L241.9,183.4 L244.2,185.3 L246.4,187.2 L248.7,189.1 L250.9,191.0 L253.2,193.0 L255.5,194.9 L257.7,196.9 L260.0,198.8 L262.3,200.8 L264.5,202.7 L266.8,204.7 L269.1,206.6 L271.3,208.5 L273.6,210.4 L275.8,212.3 L278.1,214.3 L280.4,216.3 L282.6,218.3 L284.9,220.3 L287.2,222.4 L289.4,224.4 L291.7,226.5 L294.0,228.6 L296.2,230.5 L298.5,232.4 L300.8,234.2 L303.0,236.1 L305.3,237.9 L307.5,239.7 L309.8,241.6 L312.1,243.4 L314.3,245.4 L316.6,247.6 L318.9,249.8 L321.1,252.0 L323.4,254.2 L325.7,256.2 L327.9,258.1 L330.2,260.0 L332.5,261.8 L334.7,263.6 L337.0,265.5 L339.2,267.3 L341.5,269.2 L343.8,271.1 L346.0,273.0 L348.3,275.0 L350.6,276.9 L352.8,278.8 L355.1,280.8 L357.4,282.7 L359.6,284.6 L361.9,286.5 L364.2,288.5 L366.4,290.5 L368.7,292.5 L370.9,294.5 L373.2,296.5 L375.5,298.5 L377.7,300.6 L380.0,302.6 L382.3,304.6 L384.5,306.6 L386.8,308.6 L389.1,310.6 L391.3,312.6 L393.6,314.7 L395.8,316.7 L398.1,318.5 L400.4,320.3 L402.6,322.1 L404.9,323.9 L407.2,325.7 L409.4,327.5 L411.7,329.3 L414.0,331.1 L416.2,333.0 L418.5,334.9 L420.8,336.9 L423.0,338.9 L425.3,340.9 L427.5,342.8 L429.8,344.8M151.3,111.7 L153.6,113.2 L155.8,114.7 L158.1,116.4 L160.4,118.2 L162.6,120.1 L164.9,122.0 L167.2,123.9 L169.4,125.8 L171.7,127.7 L174.0,129.6 L176.2,131.6 L178.5,133.5 L180.8,135.5 L183.0,137.4 L185.3,139.3 L187.5,141.2 L189.8,143.0 L192.1,144.9 L194.3,146.8 L196.6,148.6 L198.9,150.5 L201.1,152.3 L203.4,154.2 L205.7,156.1 L207.9,158.0 L210.2,159.9 L212.5,161.7 L214.7,163.6 L217.0,165.4 L219.2,167.3 L221.5,169.1 L223.8,170.9 L226.0,172.8 L228.3,174.6 L230.6,176.4 L232.8,178.2 L235.1,180.1 L237.4,182.0 L239.6,183.9 L241.9,185.8 L244.2,187.7 L246.4,189.6 L248.7,191.5 L250.9,193.5 L253.2,195.4 L255.5,197.4 L257.7,199.3 L260.0,201.3 L262.3,203.2 L264.5,205.1 L266.8,207.1 L269.1,209.0 L271.3,210.9 L273.6,212.8 L275.8,214.7 L278.1,216.7 L280.4,218.7 L282.6,220.7 L284.9,222.7 L287.2,224.8 L289.4,226.9 L291.7,228.9 L294.0,231.0 L296.2,232.9 L298.5,234.8 L300.8,236.6 L303.0,238.4 L305.3,240.2 L307.5,242.0 L309.8,243.8 L312.1,245.6 L314.3,247.6 L316.6,249.8 L318.9,252.0 L321.1,254.3 L323.4,256.5 L325.7,258.5 L327.9,260.3 L330.2,262.2 L332.5,264.0 L334.7,265.8 L337.0,267.7 L339.2,269.5 L341.5,271.4 L343.8,273.3 L346.0,275.2 L348.3,277.2 L350.6,279.1 L352.8,281.0 L355.1,282.9 L357.4,284.9 L359.6,286.8 L361.9,288.7 L364.2,290.7 L366.4,292.7 L368.7,294.7 L370.9,296.7 L373.2,298.7 L375.5,300.7 L377.7,302.7 L380.0,304.7 L382.3,306.7 L384.5,308.6 L386.8,310.6 L389.1,312.6 L391.3,314.6 L393.6,316.7 L395.8,318.7 L398.1,320.5 L400.4,322.3 L402.6,324.0 L404.9,325.8 L407.2,327.6 L409.4,329.3 L411.7,331.1 L414.0,332.9 L416.2,334.7 L418.5,336.6 L420.8,338.6 L423.0,340.5 L425.3,342.5M183.0,139.5 L185.3,141.4 L187.5,143.3 L189.8,145.2 L192.1,147.1 L194.3,148.9 L196.6,150.8 L198.9,152.6 L201.1,154.5 L203.4,156.4 L205.7,158.3 L207.9,160.2 L210.2,162.1 L212.5,164.0 L214.7,165.8 L217.0,167.7 L219.2,169.6 L221.5,171.4 L223.8,173.2 L226.0,175.1 L228.3,176.9 L230.6,178.8 L232.8,180.6 L235.1,182.5 L237.4,184.4 L239.6,186.3 L241.9,188.2 L244.2,190.1 L246.4,192.0 L248.7,193.9 L250.9,195.9 L253.2,197.8 L255.5,199.8 L257.7,201.7 L260.0,203.7 L262.3,205.6 L264.5,207.6 L266.8,209.5 L269.1,211.4 L271.3,213.3 L273.6,215.2 L275.8,217.1 L278.1,219.1 L280.4,221.2 L282.6,223.2 L284.9,225.2 L287.2,227.2 L289.4,229.3 L291.7,231.4 L294.0,233.4 L296.2,235.3 L298.5,237.1 L300.8,238.9 L303.0,240.7 L305.3,242.5 L307.5,244.3 L309.8,246.1 L312.1,247.9 L314.3,249.8 L316.6,252.1 L318.9,254.3 L321.1,256.5 L323.4,258.7 L325.7,260.7 L327.9,262.6 L330.2,264.4 L332.5,266.2 L334.7,268.0 L337.0,269.9 L339.2,271.7 L341.5,273.6 L343.8,275.5 L346.0,277.4 L348.3,279.4 L350.6,281.3 L352.8,283.2 L355.1,285.1 L357.4,287.1 L359.6,289.0 L361.9,290.9 L364.2,292.8 L366.4,294.8 L368.7,296.8 L370.9,298.8 L373.2,300.8 L375.5,302.8 L377.7,304.8 L380.0,306.8 L382.3,308.7 L384.5,310.7 L386.8,312.7 L389.1,314.7 L391.3,316.7 L393.6,318.7 L395.8,320.7 L398.1,322.4 L400.4,324.2 L402.6,325.9 L404.9,327.7 L407.2,329.4 L409.4,331.1 L411.7,332.9 L414.0,334.6 L416.2,336.4 L418.5,338.4 L420.8,340.3 L423.0,342.2 L425.3,344.1 L427.5,346.1 L429.8,348.0 L432.1,349.9 L434.3,351.8 L436.6,353.8 L438.9,355.7 L441.1,357.7 L443.4,359.6 L445.7,361.5 L447.9,363.5 L450.2,365.4 L452.5,367.1 L454.7,368.9 L457.0,370.6 L459.2,372.3 L461.5,374.1 L463.8,375.8 L466.0,377.5 L468.3,379.3M164.9,126.3 L167.2,128.2 L169.4,130.1 L171.7,132.0 L174.0,133.9 L176.2,135.9 L178.5,137.8 L180.8,139.8 L183.0,141.7 L185.3,143.5 L187.5,145.4 L189.8,147.3 L192.1,149.2 L194.3,151.1 L196.6,152.9 L198.9,154.8 L201.1,156.7 L203.4,158.6 L205.7,160.5 L207.9,162.4 L210.2,164.3 L212.5,166.2 L214.7,168.1 L217.0,170.0 L219.2,171.8 L221.5,173.7 L223.8,175.6 L226.0,177.4 L228.3,179.3 L230.6,181.2 L232.8,183.0 L235.1,184.9 L237.4,186.8 L239.6,188.7 L241.9,190.6 L244.2,192.6 L246.4,194.5 L248.7,196.4 L250.9,198.3 L253.2,200.3 L255.5,202.2 L257.7,204.2 L260.0,206.1 L262.3,208.0 L264.5,210.0 L266.8,211.9 L269.1,213.8 L271.3,215.7 L273.6,217.6 L275.8,219.6 L278.1,221.6 L280.4,223.6 L282.6,225.6 L284.9,227.6 L287.2,229.6 L289.4,231.7 L291.7,233.8 L294.0,235.8 L296.2,237.7 L298.5,239.5 L300.8,241.3 L303.0,243.1 L305.3,244.8 L307.5,246.6 L309.8,248.4 L312.1,250.2 L314.3,252.1 L316.6,254.3 L318.9,256.5 L321.1,258.8 L323.4,261.0 L325.7,262.9 L327.9,264.8 L330.2,266.6 L332.5,268.4 L334.7,270.2 L337.0,272.1 L339.2,273.9 L341.5,275.8 L343.8,277.7 L346.0,279.6 L348.3,281.5 L350.6,283.5 L352.8,285.4 L355.1,287.3 L357.4,289.2 L359.6,291.2 L361.9,293.1 L364.2,295.0 L366.4,297.0 L368.7,299.0 L370.9,301.0 L373.2,302.9 L375.5,304.9 L377.7,306.9 L380.0,308.8 L382.3,310.8 L384.5,312.8 L386.8,314.7 L389.1,316.7 L391.3,318.7 L393.6,320.7 L395.8,322.7 L398.1,324.4 L400.4,326.1 L402.6,327.8 L404.9,329.5 L407.2,331.2 L409.4,332.9 L411.7,334.7 L414.0,336.4 L416.2,338.2 L418.5,340.1 L420.8,342.0 L423.0,343.9 L425.3,345.8 L427.5,347.7 L429.8,349.6 L432.1,351.5 L434.3,353.4 L436.6,355.3 L438.9,357.2 L441.1,359.1 L443.4,361.0 L445.7,362.9 L447.9,364.9 L450.2,366.8M194.3,153.2 L196.6,155.1 L198.9,157.0 L201.1,158.9 L203.4,160.8 L205.7,162.7 L207.9,164.6 L210.2,166.5 L212.5,168.4 L214.7,170.3 L217.0,172.2 L219.2,174.1 L221.5,176.0 L223.8,177.9 L226.0,179.8 L228.3,181.7 L230.6,183.5 L232.8,185.4 L235.1,187.3 L237.4,189.2 L239.6,191.1 L241.9,193.1 L244.2,195.0 L246.4,196.9 L248.7,198.8 L250.9,200.8 L253.2,202.7 L255.5,204.7 L257.7,206.6 L260.0,208.5 L262.3,210.5 L264.5,212.4 L266.8,214.3 L269.1,216.2 L271.3,218.1 L273.6,220.0 L275.8,222.0 L278.1,224.0 L280.4,226.0 L282.6,228.0 L284.9,230.0 L287.2,232.1 L289.4,234.1 L291.7,236.2 L294.0,238.2 L296.2,240.1 L298.5,241.9 L300.8,243.6 L303.0,245.4 L305.3,247.1 L307.5,248.9 L309.8,250.7 L312.1,252.4 L314.3,254.3 L316.6,256.6 L318.9,258.8 L321.1,261.0 L323.4,263.2 L325.7,265.1 L327.9,267.0 L330.2,268.8 L332.5,270.6 L334.7,272.4 L337.0,274.2 L339.2,276.1 L341.5,278.0 L343.8,279.9 L346.0,281.8 L348.3,283.7 L350.6,285.7 L352.8,287.6 L355.1,289.5 L357.4,291.4 L359.6,293.4 L361.9,295.3 L364.2,297.2 L366.4,299.2 L368.7,301.1 L370.9,303.1 L373.2,305.1 L375.5,307.0 L377.7,309.0 L380.0,310.9 L382.3,312.9 L384.5,314.8 L386.8,316.8 L389.1,318.7 L391.3,320.7 L393.6,322.7 L395.8,324.6 L398.1,326.4 L400.4,328.0 L402.6,329.7 L404.9,331.4 L407.2,333.1 L409.4,334.8 L411.7,336.4 L414.0,338.1 L416.2,339.9 L418.5,341.8 L420.8,343.7 L423.0,345.5 L425.3,347.4 L427.5,349.3 L429.8,351.1 L432.1,353.0 L434.3,354.9 L436.6,356.8 L438.9,358.7 L441.1,360.6 L443.4,362.5 L445.7,364.4 L447.9,366.2 L450.2,368.1 L452.5,369.8 L454.7,371.4 L457.0,373.1 L459.2,374.8 L461.5,376.4" stroke="#fff" stroke-opacity="0.22" stroke-width="0.9" fill="none"/>
<path d="M154.3,66.7 L155.9,67.1 L157.6,67.5 L159.2,68.0 L160.8,68.5 L162.4,69.0 L164.0,69.5 L165.6,70.0 L167.2,70.6 L168.8,71.2 L170.4,71.7 L172.1,72.3 L173.7,73.0 L175.3,73.6 L176.9,74.2 L178.5,74.8 L180.1,75.5 L181.7,76.1 L183.3,76.8 L184.9,77.5 L186.5,78.1 L188.1,78.8 L189.6,79.5 L191.2,80.2 L192.8,80.9 L194.4,81.6 L196.0,82.3 L197.6,83.0 L199.2,83.7 L200.7,84.4 L202.3,85.1 L203.9,85.9 L205.5,86.6 L207.1,87.3 L208.6,88.1 L210.2,88.8 L211.8,89.5 L213.3,90.3 L214.9,91.0 L216.5,91.8 L218.0,92.5 L219.6,93.3 L221.1,94.0 L222.7,94.8 L224.2,95.5 L225.8,96.3 L227.4,97.1 L228.9,97.8 L230.5,98.6 L232.0,99.4 L233.6,100.1 L235.1,100.9 L236.7,101.7 L238.2,102.4 L239.8,103.2 L241.3,104.0 L242.8,104.7 L244.4,105.5 L245.9,106.3 L247.5,107.0 L249.0,107.8 L250.6,108.6 L252.1,109.3 L253.7,110.1 L255.2,110.9 L256.8,111.6 L258.3,112.4 L259.9,113.2 L261.4,113.9 L263.0,114.7 L264.5,115.5 L266.1,116.2 L267.6,117.0 L269.2,117.7 L270.7,118.5 L272.3,119.2 L273.9,120.0 L275.4,120.7 L277.0,121.5 L278.5,122.2 L280.1,122.9 L281.7,123.7 L283.2,124.4 L284.8,125.1 L286.4,125.8 L288.0,126.6 L289.5,127.3 L291.1,128.0 L292.7,128.7 L294.3,129.4 L295.8,130.1 L297.4,130.8 L299.0,131.5 L300.6,132.3 L302.1,133.0 L303.7,133.7 L305.3,134.4 L306.8,135.2 L308.4,135.9 L310.0,136.7 L311.5,137.4 L313.1,138.2 L314.6,139.0 L316.1,139.8 L317.7,140.6 L319.2,141.4 L320.7,142.2 L322.2,143.0 L323.7,143.9 L325.2,144.7 L326.7,145.6 L328.2,146.4 L329.7,147.3 L331.2,148.1 L332.7,149.0 L334.2,149.9 L335.7,150.8 L337.2,151.7 L338.7,152.6 L340.1,153.5 L341.6,154.4 L343.1,155.3 L344.5,156.2 L346.0,157.1 L347.5,158.0 L349.0,158.9 L350.4,159.8 L351.9,160.7 L353.4,161.6 L354.8,162.5 L356.3,163.4 L357.8,164.3 L359.2,165.3 L360.7,166.2 L362.2,167.1 L363.7,168.0 L365.1,168.9 L366.6,169.8 L368.1,170.7 L369.5,171.6 L371.0,172.6 L372.5,173.5 L374.0,174.4 L375.4,175.3 L376.9,176.2 L378.4,177.2 L379.8,178.1 L381.3,179.0 L382.7,179.9 L384.2,180.9 L385.7,181.8 L387.1,182.8 L388.6,183.7 L390.0,184.7 L391.4,185.6 L392.9,186.6 L394.3,187.6 L395.8,188.5 L397.2,189.5 L398.6,190.5 L400.0,191.5 L401.4,192.5 L402.9,193.5 L404.3,194.5 L405.7,195.5 L407.1,196.5 L408.4,197.5 L409.8,198.6 L411.2,199.6 L412.6,200.7 L413.9,201.7 L415.3,202.8 L416.7,203.9 L418.0,204.9 L419.3,206.0 L420.7,207.1 L422.0,208.2 L423.3,209.4 L424.6,210.5 L425.9,211.6 L427.2,212.8 L428.5,213.9 L429.8,215.1 L431.1,216.3 L432.3,217.4 L433.6,218.6 L434.8,219.8 L436.1,221.0 L437.3,222.2 L438.5,223.5 L439.7,224.7 L440.9,225.9 L442.1,227.2 L443.3,228.4 L444.5,229.7 L445.6,231.0 L446.8,232.3 L447.9,233.6 L449.1,234.9 L450.2,236.2 L451.3,237.5 L452.4,238.8 L453.5,240.2 L454.6,241.5 L455.6,242.9 L456.7,244.2 L457.7,245.6 L458.8,247.0 L459.8,248.4 L460.8,249.8 L461.8,251.2 L462.8,252.6 L463.7,254.1 L464.7,255.5 L465.6,257.0 L466.6,258.4 L467.5,259.9 L468.4,261.4 L469.3,262.8 L470.2,264.3 L471.1,265.8 L472.0,267.3 L472.8,268.8 L473.7,270.3 L474.6,271.8 L475.4,273.4 L476.2,274.9 L477.0,276.4 L477.9,277.9 L478.7,279.5 L479.5,281.0 L480.3,282.5 L481.0,284.1 L481.8,285.6 L482.6,287.2 L483.4,288.7 L484.1,290.3 L484.9,291.8 L485.6,293.4 L486.3,294.9 L487.1,296.5 L487.8,298.1 L488.5,299.7 L489.2,301.2 L489.8,302.8 L490.5,304.4 L491.2,306.0 L491.8,307.6 L492.4,309.2 L493.0,310.8 L493.6,312.4 L494.2,314.0 L494.8,315.6 L495.4,317.3 L495.9,318.9 L496.5,320.5 L497.0,322.2 L497.5,323.8 L498.1,325.5 L498.6,327.1 L499.1,328.8 L499.6,330.4 L500.1,332.1 L500.5,333.8 L501.0,335.4 L501.5,337.1 L501.9,338.8 L502.4,340.5 L502.9,342.1 L503.3,343.8 L503.7,345.5 L504.2,347.2 L504.6,348.9 L505.0,350.6 L505.5,352.3 L505.9,354.0 L506.3,355.7 L506.7,357.4 L507.1,359.1 L507.5,360.8 L507.9,362.5 L508.2,364.2 L508.6,365.9 L508.9,367.6 L509.1,369.3 L509.4,371.0 L509.6,372.7 L509.8,374.4 L509.9,376.1 L510.0,377.8 L510.0,379.5 L510.0,381.1 L510.0,382.8 L509.9,384.5 L509.7,386.2 L509.5,387.9 L509.2,389.6 L508.9,391.2 L508.4,392.9 L507.9,394.6M507.2,394.9 L505.9,394.2 L504.5,393.4 L503.2,392.5 L502.0,391.6 L500.8,390.6 L499.6,389.6 L498.4,388.5 L497.3,387.4 L496.2,386.2 L495.1,385.1 L494.0,383.9 L492.9,382.7 L491.9,381.4 L490.8,380.2 L489.8,378.9 L488.8,377.7 L487.7,376.4 L486.7,375.2 L485.7,373.9 L484.6,372.6 L483.6,371.4 L482.6,370.1 L481.5,368.8 L480.5,367.6 L479.5,366.3 L478.4,365.1 L477.4,363.8 L476.3,362.6 L475.3,361.4 L474.2,360.1 L473.1,358.9 L472.0,357.7 L471.0,356.5 L469.9,355.3 L468.8,354.1 L467.7,352.9 L466.6,351.7 L465.5,350.6 L464.4,349.4 L463.3,348.2 L462.2,347.0 L461.1,345.9 L460.0,344.7 L458.9,343.5 L457.8,342.3 L456.7,341.2 L455.6,340.0 L454.5,338.8 L453.3,337.7 L452.2,336.5 L451.1,335.3 L450.0,334.1 L448.9,333.0 L447.8,331.8 L446.7,330.6 L445.7,329.4 L444.6,328.2 L443.5,327.0 L442.4,325.8 L441.3,324.6 L440.2,323.4 L439.2,322.2 L438.1,321.0 L437.0,319.8 L435.9,318.6 L434.9,317.3 L433.8,316.1 L432.7,314.9 L431.7,313.7 L430.6,312.5 L429.5,311.3 L428.5,310.0 L427.4,308.8 L426.3,307.6 L425.3,306.4 L424.2,305.1 L423.1,303.9 L422.1,302.7 L421.0,301.5 L419.9,300.3 L418.9,299.0 L417.8,297.8 L416.7,296.6 L415.6,295.4 L414.6,294.2 L413.5,292.9 L412.4,291.7 L411.3,290.5 L410.3,289.3 L409.2,288.1 L408.1,286.9 L407.0,285.7 L405.9,284.5 L404.8,283.3 L403.8,282.1 L402.7,280.9 L401.6,279.7 L400.5,278.5 L399.4,277.3 L398.3,276.1 L397.1,275.0 L396.0,273.8 L394.9,272.6 L393.8,271.5 L392.7,270.3 L391.5,269.1 L390.4,268.0 L389.3,266.8 L388.1,265.7 L387.0,264.6 L385.8,263.4 L384.7,262.3 L383.5,261.2 L382.4,260.0 L381.2,258.9 L380.0,257.8 L378.9,256.7 L377.7,255.6 L376.5,254.5 L375.3,253.4 L374.2,252.3 L373.0,251.2 L371.8,250.1 L370.6,249.0 L369.4,247.9 L368.2,246.8 L367.0,245.7 L365.8,244.7 L364.6,243.6 L363.4,242.5 L362.2,241.4 L361.0,240.3 L359.8,239.3 L358.6,238.2 L357.4,237.1 L356.2,236.1 L355.0,235.0 L353.8,233.9 L352.6,232.8 L351.4,231.8 L350.1,230.7 L348.9,229.6 L347.7,228.6 L346.5,227.5 L345.3,226.4 L344.1,225.3 L342.9,224.3 L341.7,223.2 L340.5,222.1 L339.3,221.0 L338.1,220.0 L336.9,218.9 L335.7,217.8 L334.5,216.7 L333.3,215.6 L332.1,214.5 L330.9,213.4 L329.7,212.3 L328.5,211.2 L327.3,210.1 L326.2,209.0 L325.0,207.9 L323.8,206.8 L322.6,205.7 L321.5,204.6 L320.3,203.5 L319.1,202.4 L317.9,201.2 L316.8,200.1 L315.6,199.0 L314.4,197.9 L313.3,196.7 L312.1,195.6 L311.0,194.5 L309.8,193.4 L308.6,192.2 L307.5,191.1 L306.3,190.0 L305.2,188.8 L304.0,187.7 L302.8,186.6 L301.7,185.4 L300.5,184.3 L299.4,183.2 L298.2,182.0 L297.0,180.9 L295.9,179.8 L294.7,178.7 L293.6,177.5 L292.4,176.4 L291.2,175.3 L290.1,174.2 L288.9,173.0 L287.7,171.9 L286.6,170.8 L285.4,169.7 L284.2,168.6 L283.0,167.4 L281.9,166.3 L280.7,165.2 L279.5,164.1 L278.3,163.0 L277.1,161.9 L275.9,160.8 L274.8,159.7 L273.6,158.7 L272.4,157.6 L271.2,156.5 L270.0,155.4 L268.8,154.3 L267.5,153.3 L266.3,152.2 L265.1,151.1 L263.9,150.1 L262.7,149.0 L261.4,148.0 L260.2,147.0 L259.0,145.9 L257.7,144.9 L256.5,143.9 L255.2,142.8 L254.0,141.8 L252.7,140.8 L251.5,139.8 L250.2,138.8 L248.9,137.8 L247.6,136.8 L246.3,135.9 L245.1,134.9 L243.8,133.9 L242.5,133.0 L241.2,132.0 L239.8,131.1 L238.5,130.1 L237.2,129.2 L235.9,128.2 L234.6,127.3 L233.3,126.4 L232.0,125.4 L230.6,124.5 L229.3,123.6 L228.0,122.6 L226.6,121.7 L225.3,120.8 L224.0,119.9 L222.7,118.9 L221.3,118.0 L220.0,117.1 L218.7,116.2 L217.3,115.3 L216.0,114.3 L214.7,113.4 L213.4,112.5 L212.1,111.5 L210.7,110.6 L209.4,109.7 L208.1,108.7 L206.8,107.8 L205.5,106.8 L204.2,105.9 L202.9,104.9 L201.6,104.0 L200.3,103.0 L199.0,102.0 L197.7,101.1 L196.4,100.1 L195.1,99.1 L193.8,98.1 L192.6,97.2 L191.3,96.2 L190.0,95.2 L188.7,94.2 L187.5,93.2 L186.2,92.2 L184.9,91.2 L183.7,90.2 L182.4,89.2 L181.1,88.2 L179.9,87.2 L178.6,86.2 L177.4,85.2 L176.1,84.1 L174.8,83.1 L173.6,82.1 L172.3,81.1 L171.1,80.1 L169.8,79.0 L168.6,78.0 L167.3,77.0 L166.1,76.0 L164.8,74.9 L163.5,73.9 L162.3,72.9 L161.0,72.0 L159.7,71.0 L158.4,70.0 L157.0,69.1 L155.7,68.2 L154.3,67.3" fill="none" stroke="#009e73" stroke-width="4.8" stroke-linejoin="round" stroke-linecap="round"/>
<rect x="114.0" y="28.6" width="483.6" height="411.1" fill="none" stroke="#474747" stroke-width="1.5"/>
<path d="M114.0,439.7v-10.7M114.0,28.6v10.7M162.4,439.7v-10.7M162.4,28.6v10.7M210.7,439.7v-10.7M210.7,28.6v10.7M259.1,439.7v-10.7M259.1,28.6v10.7M307.4,439.7v-10.7M307.4,28.6v10.7M355.8,439.7v-10.7M355.8,28.6v10.7M404.2,439.7v-10.7M404.2,28.6v10.7M452.5,439.7v-10.7M452.5,28.6v10.7M500.9,439.7v-10.7M500.9,28.6v10.7M549.2,439.7v-10.7M549.2,28.6v10.7M597.6,439.7v-10.7M597.6,28.6v10.7M114.0,28.6h10.7M597.6,28.6h-10.7M114.0,74.3h10.7M597.6,74.3h-10.7M114.0,120.0h10.7M597.6,120.0h-10.7M114.0,165.6h10.7M597.6,165.6h-10.7M114.0,211.3h10.7M597.6,211.3h-10.7M114.0,257.0h10.7M597.6,257.0h-10.7M114.0,302.7h10.7M597.6,302.7h-10.7M114.0,348.3h10.7M597.6,348.3h-10.7M114.0,394.0h10.7M597.6,394.0h-10.7M114.0,439.7h10.7M597.6,439.7h-10.7" stroke="#474747" stroke-width="1.5" fill="none"/>
<text x="103.3" y="36.7" text-anchor="end" font-size="20.5">2.15</text>
<text x="103.3" y="82.4" text-anchor="end" font-size="20.5">2.14</text>
<text x="103.3" y="128.1" text-anchor="end" font-size="20.5">2.13</text>
<text x="103.3" y="173.7" text-anchor="end" font-size="20.5">2.12</text>
<text x="103.3" y="219.4" text-anchor="end" font-size="20.5">2.11</text>
<text x="103.3" y="265.1" text-anchor="end" font-size="20.5">2.1</text>
<text x="103.3" y="310.8" text-anchor="end" font-size="20.5">2.09</text>
<text x="103.3" y="356.4" text-anchor="end" font-size="20.5">2.08</text>
<text x="103.3" y="402.1" text-anchor="end" font-size="20.5">2.07</text>
<text x="103.3" y="447.8" text-anchor="end" font-size="20.5">2.06</text>
<text x="116.3" y="478.5" text-anchor="middle" font-size="20.5">0.77</text>
<text x="164.7" y="478.5" text-anchor="middle" font-size="20.5">0.775</text>
<text x="213.0" y="478.5" text-anchor="middle" font-size="20.5">0.78</text>
<text x="261.4" y="478.5" text-anchor="middle" font-size="20.5">0.785</text>
<text x="309.7" y="478.5" text-anchor="middle" font-size="20.5">0.79</text>
<text x="358.1" y="478.5" text-anchor="middle" font-size="20.5">0.795</text>
<text x="406.5" y="478.5" text-anchor="middle" font-size="20.5">0.8</text>
<text x="454.8" y="478.5" text-anchor="middle" font-size="20.5">0.805</text>
<text x="503.2" y="478.5" text-anchor="middle" font-size="20.5">0.81</text>
<text x="551.5" y="478.5" text-anchor="middle" font-size="20.5">0.815</text>
<text x="599.9" y="478.5" text-anchor="middle" font-size="20.5">0.82</text>
<text x="355" y="519.6" text-anchor="middle" font-size="20.5">a</text>
<text transform="translate(32.5,234) rotate(-90)" text-anchor="middle" font-size="20.5">b</text>
<text x="507.5" y="62.5" text-anchor="end" font-size="20.5">T3 simulation</text>
<text x="507.5" y="91.5" text-anchor="end" font-size="20.5">stabilized C</text>
<circle cx="547.3" cy="54.3" r="0.6" fill="#9400d3"/>
<circle cx="547.3" cy="83.2" r="2.1" fill="#009e73"/>
<polygon points="755.3,344.2 915.6,210.2 913.4,17.0 745.4,139.2" fill="#f9f9f9" stroke="#f9f9f9" stroke-width="1"/>
<polygon points="915.6,210.2 1172.9,284.7 1182.0,84.9 913.4,17.0" fill="#f2f2f2" stroke="#f2f2f2" stroke-width="1"/>
<polygon points="755.3,344.2 1028.0,433.0 1172.9,284.7 915.6,210.2" fill="#f5f5f5" stroke="#f5f5f5" stroke-width="1"/>
<path d="M787.1,354.5 L945.7,218.9 L944.8,24.9M849.4,374.8 L1004.6,236.0 L1006.2,40.4M913.2,395.6 L1064.8,253.4 L1069.1,56.3M978.6,416.9 L1126.5,271.3 L1133.5,72.6M759.0,129.2 L768.3,333.3 L1039.8,420.9M796.1,102.3 L803.5,303.9 L1071.7,388.2M831.7,76.4 L837.5,275.5 L1102.5,356.8M866.0,51.4 L870.3,248.0 L1132.1,326.5M899.2,27.3 L902.0,221.6 L1160.6,297.3M1174.2,256.0 L915.3,182.4 L753.8,314.7M1176.1,215.4 L914.8,143.1 L751.8,273.2M1178.0,174.1 L914.4,103.1 L749.8,230.8M1179.9,132.0 L913.9,62.5 L747.7,187.6M1181.9,89.1 L913.4,21.1 L745.6,143.6" stroke="#b0b0b0" stroke-width="1.1" fill="none"/>
<path d="M859.1,311.2l2.7-1.2 2.7-1.2 2.7-1.2 2.7-1.2 2.6-1.1 2.7-1.2 2.6-1.2 2.7-1.2 2.6-1.2 2.7-1.2 2.6-1.2 2.7-1.2 2.6-1.2 2.6-1.1 2.7-1.2 2.6-1.2 2.7-1.1 2.6-1.2 2.7-1.1 2.6-1.2 2.7-1.1 2.7-1.1 2.7-1.2 2.7-1 2.7-1.1 2.7-1.1 2.8-1 2.8-1 2.8-1 2.9-0.9 3-0.8 3-0.9 2.9-0.8 3-0.8 3-0.8 2.9-0.8 3-0.8 3-0.8 3-0.8 3-0.7 3.1-0.7 3-0.7 3-0.8 3-0.7 3.1-0.7 3-0.6 3.1-0.7 3.1-0.6 3.2-0.5 3.1-0.5 3.2-0.5 3.2-0.4 3.3-0.3 3.2-0.3 3.3-0.2 3.3,0 3.3,0 3.3,0.2 3.2,0.4 2.4,0.4 1.7,0.4 1.5,0.4 1.4,0.4 1.5,0.5 1.3,0.6 1.3,0.6 1.3,0.6 1.3,0.6 1.3,0.6 1.3,0.6 1.3,0.7 1.3,0.6 1.3,0.6 1.2,0.7 1.2,0.7 1.1,0.7 1,0.7 0.9,0.8 0.9,0.8 0.7,0.8 0.7,0.9 0.7,0.9 0.6,0.9 0.5,0.9 0.6,0.9 0.5,0.9 0.5,0.9 0.5,1 0.5,0.9 0.5,0.9 0.4,0.9 0.5,0.9 0.4,0.9 0.4,0.9 0.3,1 0.4,0.9 0.3,0.9 0.2,1 0.3,0.9 0.2,1 0.2,0.9 0.1,1 0.1,0.9 0.1,1 0.1,1 0.1,0.9 0,1 0,0.9 0,1 0,1 -0.1,0.9 0,1 -0.1,0.9 -0.1,1 -0.2,1 -0.1,0.9 -0.2,1 -0.1,1 -0.2,0.9 -0.3,1 -0.2,0.9 -0.3,1 -0.3,1 -0.4,0.9 -0.3,1 -0.5,0.9 -0.4,0.9 -0.5,1 -0.5,0.9 -0.6,0.9 -0.6,0.9 -0.7,0.9 -0.7,0.9 -0.7,0.9 -1.4,1.9 -1.4,1.6 -1.5,1.3 -1.5,1.1 -1.6,0.8 -1.5,0.5 -1.5,0.2 -1.5,0 -1.5-0.3 -1.3-0.5 -1.3-0.7 -1.3-0.9 -1.2-1 -1.1-1.2 -1.1-1.3 -1.1-1.3 -1.1-1.2 -1.1-1.2 -1.1-1.2 -1.2-1 -1.3-0.8 -1.4-0.6 -1.7-0.4 -2-0.1 -2.3,0.1 -2.4,0.3 -2.4,0.2 -2.4,0.3 -2.4,0.3 -2.5,0.3 -2.4,0.4 -2.4,0.3 -2.4,0.3 -2.4,0.3 -2.4,0.4 -2.4,0.3 -2.4,0.3 -2.4,0.3 -2.5,0.3 -2.4,0.3 -2.4,0.2 -2.5,0.2 -2.5,0.2 -2.4,0.2 -2.4,0.3 -2.4,0.3 -2.4,0.4 -2.4,0.4 -2.4,0.4 -2.4,0.4 -2.4,0.4 -2.4,0.4 -2.4,0.4 -2.4,0.3 -2.4,0.4 -2.4,0.3 -2.5,0.3 -2.4,0.3 -2.5,0.2 -2.4,0.3 -2.5,0.2 -2.4,0.2 -2.5,0.1 -2.5,0.2 -2.5,0.2 -2.4,0.1 -2.5,0.1 -2.5,0.1 -2.5,0.1 -2.5,0 -2.4,0 -2.5,0 -2.5,0 -2.5-0.1 -2.5-0.1 -2.5-0.1 -2.5-0.2 -2.5-0.2 -2.4-0.2 -2.5-0.3 -2.4-0.4 -2.4-0.4 -2.3-0.4 -2.2-0.6 -2.2-0.6 -2.2-0.7 -2-0.8 -1.9-0.8 -1.8-1 -1.7-1 -1.6-1 -1.5-1.1 -1.3-1.2 -1.1-1.2 -1-1.3 -0.9-1.3 -0.6-1.3 -0.5-1.4 -0.3-1.3 -0.1-0.7M858.5,298.9l2.7-1.2 2.7-1.2 2.6-1.2 2.7-1.2 2.7-1.2 2.6-1.2 2.7-1.2 2.6-1.2 2.7-1.2 2.6-1.2 2.7-1.2 2.6-1.2 2.7-1.1 2.6-1.2 2.7-1.2 2.6-1.2 2.7-1.1 2.7-1.2 2.6-1.1 2.7-1.2 2.7-1.1 2.7-1.1 2.7-1.1 2.7-1.1 2.8-1.1 2.7-1 2.8-1 2.8-1 2.9-1 2.9-0.8 3-0.9 3-0.8 3-0.8 3-0.8 2.9-0.8 3-0.8 3-0.8 3-0.8 3.1-0.7 3-0.8 3-0.7 3.1-0.7 3-0.7 3.1-0.7 3.1-0.7 3-0.7 3.1-0.6 3.1-0.6 3.2-0.5 3.2-0.5 3.2-0.4 3.2-0.4 3.3-0.3 3.2-0.3 3.3-0.2 3.4-0.1 3.3,0.1 3.2,0.2 3.3,0.4 2.5,0.4 1.6,0.3 1.5,0.4 1.5,0.5 1.4,0.5 1.4,0.5 1.4,0.6 1.3,0.6 1.3,0.6 1.3,0.6 1.3,0.6 1.4,0.6 1.3,0.7 1.3,0.6 1.2,0.6 1.2,0.7 1.2,0.7 1,0.7 0.9,0.8 0.9,0.8 0.8,0.8 0.7,0.9 0.7,0.9 0.6,0.9 0.6,0.9 0.5,0.9 0.6,0.9 0.5,0.9 0.6,0.9 0.5,0.9 0.5,0.9 0.5,0.9 0.5,0.9 0.4,0.9 0.4,0.9 0.4,0.9 0.3,1 0.4,0.9 0.2,0.9 0.3,1 0.2,0.9 0.2,1 0.2,1 0.1,0.9 0.1,1 0.1,0.9 0,1 0,1 0,0.9 0,1 -0.1,0.9 0,1 -0.1,1 -0.1,0.9 -0.1,1 -0.2,1 -0.1,0.9 -0.2,1 -0.2,0.9 -0.3,1 -0.2,1 -0.3,0.9 -0.3,1 -0.3,0.9 -0.4,1 -0.4,0.9 -0.4,1 -0.5,0.9 -0.5,0.9 -0.6,1 -0.5,0.9 -0.7,0.9 -0.7,0.9 -0.7,0.9 -0.8,0.9 -1.4,1.8 -1.4,1.6 -1.5,1.3 -1.5,1.1 -1.6,0.8 -1.6,0.5 -1.5,0.2 -1.6,0 -1.4-0.3 -1.4-0.4 -1.4-0.7 -1.3-0.9 -1.2-1 -1.2-1.1 -1.2-1.2 -1.1-1.2 -1.1-1.3 -1.1-1.1 -1.2-1.1 -1.2-1 -1.4-0.8 -1.5-0.6 -1.7-0.4 -2-0.1 -2.3,0.2 -2.5,0.2 -2.4,0.3 -2.4,0.3 -2.5,0.3 -2.4,0.3 -2.4,0.3 -2.5,0.3 -2.4,0.4 -2.4,0.3 -2.5,0.3 -2.4,0.3 -2.4,0.3 -2.5,0.3 -2.4,0.3 -2.5,0.3 -2.4,0.2 -2.5,0.2 -2.5,0.2 -2.5,0.2 -2.4,0.3 -2.4,0.3 -2.5,0.3 -2.4,0.4 -2.4,0.4 -2.4,0.4 -2.4,0.4 -2.4,0.4 -2.4,0.4 -2.5,0.3 -2.4,0.4 -2.4,0.3 -2.5,0.3 -2.5,0.3 -2.4,0.2 -2.5,0.2 -2.5,0.2 -2.5,0.2 -2.5,0.2 -2.5,0.2 -2.5,0.1 -2.5,0.1 -2.5,0.1 -2.5,0.1 -2.5,0.1 -2.5,0 -2.5,0.1 -2.5-0.1 -2.5,0 -2.5-0.1 -2.5-0.1 -2.5-0.1 -2.5-0.2 -2.4-0.2 -2.5-0.3 -2.4-0.3 -2.4-0.4 -2.3-0.4 -2.3-0.5 -2.2-0.5 -2.1-0.7 -2.1-0.7 -2-0.8 -1.9-0.8 -1.8-1 -1.6-1 -1.6-1 -1.4-1.2 -1.3-1.1 -1.1-1.3 -1-1.2 -0.8-1.3 -0.6-1.3 -0.5-1.4 -0.3-1.4 0-0.6M857.8,286.5l2.7-1.2 2.7-1.2 2.7-1.2 2.6-1.2 2.7-1.2 2.7-1.2 2.6-1.2 2.7-1.2 2.6-1.2 2.7-1.2 2.6-1.2 2.7-1.2 2.7-1.2 2.6-1.2 2.7-1.1 2.6-1.2 2.7-1.2 2.7-1.1 2.7-1.1 2.7-1.2 2.7-1.1 2.7-1.1 2.7-1.1 2.8-1.1 2.7-1 2.8-1.1 2.8-1 2.9-1 2.9-0.9 2.9-0.9 3-0.8 3-0.8 3-0.8 3-0.8 3-0.8 3-0.8 3-0.8 3.1-0.8 3-0.7 3.1-0.7 3-0.7 3.1-0.7 3.1-0.7 3-0.7 3.1-0.7 3.1-0.6 3.1-0.6 3.2-0.6 3.1-0.5 3.2-0.5 3.2-0.4 3.3-0.4 3.3-0.3 3.3-0.3 3.3-0.2 3.3,0 3.3,0 3.3,0.2 3.3,0.4 2.5,0.4 1.6,0.3 1.6,0.4 1.5,0.5 1.4,0.5 1.4,0.5 1.4,0.5 1.4,0.6 1.3,0.6 1.3,0.6 1.4,0.6 1.3,0.6 1.3,0.6 1.4,0.7 1.2,0.6 1.3,0.7 1.1,0.7 1.1,0.7 1,0.7 0.8,0.8 0.8,0.9 0.8,0.8 0.7,0.9 0.6,0.8 0.6,0.9 0.6,0.9 0.6,0.9 0.6,0.9 0.6,0.9 0.5,0.9 0.5,0.9 0.5,0.9 0.5,0.9 0.5,0.9 0.4,0.9 0.4,0.9 0.4,1 0.4,0.9 0.3,0.9 0.2,1 0.3,0.9 0.2,1 0.1,1 0.2,0.9 0.1,1 0,1 0,0.9 0.1,1 -0.1,0.9 0,1 -0.1,1 -0.1,0.9 -0.1,1 -0.1,0.9 -0.1,1 -0.2,1 -0.2,0.9 -0.2,1 -0.2,0.9 -0.3,1 -0.3,1 -0.3,0.9 -0.3,1 -0.3,0.9 -0.4,1 -0.4,0.9 -0.5,0.9 -0.5,1 -0.5,0.9 -0.6,0.9 -0.6,0.9 -0.6,0.9 -0.8,0.9 -0.7,0.9 -0.8,0.9 -1.4,1.8 -1.5,1.6 -1.5,1.3 -1.5,1.1 -1.6,0.7 -1.6,0.6 -1.6,0.2 -1.6,0 -1.5-0.2 -1.4-0.4 -1.4-0.7 -1.3-0.8 -1.3-1 -1.3-1 -1.2-1.2 -1.2-1.2 -1.1-1.2 -1.2-1.1 -1.2-1.1 -1.3-0.9 -1.4-0.7 -1.5-0.6 -1.8-0.4 -2-0.1 -2.3,0.2 -2.5,0.2 -2.5,0.3 -2.4,0.3 -2.5,0.3 -2.5,0.3 -2.4,0.3 -2.5,0.3 -2.4,0.3 -2.5,0.3 -2.4,0.4 -2.5,0.3 -2.4,0.3 -2.5,0.3 -2.5,0.2 -2.5,0.3 -2.4,0.2 -2.5,0.2 -2.5,0.2 -2.5,0.2 -2.5,0.3 -2.5,0.3 -2.4,0.3 -2.4,0.4 -2.5,0.4 -2.4,0.4 -2.4,0.4 -2.5,0.4 -2.4,0.3 -2.5,0.4 -2.4,0.3 -2.5,0.3 -2.5,0.3 -2.5,0.3 -2.5,0.2 -2.5,0.2 -2.5,0.3 -2.5,0.1 -2.5,0.2 -2.5,0.2 -2.5,0.1 -2.5,0.1 -2.6,0.1 -2.5,0.1 -2.5,0.1 -2.5,0 -2.6,0 -2.5,0 -2.5,0 -2.5-0.1 -2.6-0.1 -2.4-0.2 -2.5-0.2 -2.4-0.2 -2.4-0.3 -2.4-0.4 -2.3-0.3 -2.3-0.5 -2.3-0.5 -2.1-0.6 -2.1-0.6 -2.1-0.7 -1.9-0.8 -1.9-0.9 -1.7-0.9 -1.6-1 -1.6-1.1 -1.3-1.1 -1.3-1.2 -1.1-1.2 -0.9-1.3 -0.8-1.3 -0.6-1.3 -0.5-1.4 -0.2-1.3 -0.1-0.7M857.2,274l2.7-1.2 2.6-1.2 2.7-1.2 2.7-1.2 2.7-1.2 2.6-1.2 2.7-1.2 2.6-1.2 2.7-1.2 2.6-1.2 2.7-1.2 2.7-1.2 2.6-1.2 2.7-1.2 2.7-1.1 2.6-1.2 2.7-1.2 2.7-1.1 2.7-1.1 2.7-1.2 2.8-1.1 2.7-1.1 2.7-1.1 2.8-1 2.8-1.1 2.8-1 2.8-1 2.9-1 2.9-0.9 3-0.9 3-0.8 3-0.8 3-0.8 3.1-0.8 3-0.8 3-0.8 3-0.7 3.1-0.8 3.1-0.7 3-0.7 3.1-0.7 3.1-0.7 3.1-0.7 3.1-0.7 3.1-0.6 3.1-0.7 3.1-0.6 3.2-0.5 3.2-0.5 3.2-0.5 3.2-0.4 3.3-0.4 3.3-0.3 3.3-0.2 3.3-0.2 3.4-0.1 3.3,0.1 3.3,0.1 3.3,0.4 2.5,0.4 1.7,0.4 1.6,0.3 1.5,0.5 1.4,0.5 1.5,0.5 1.4,0.5 1.3,0.6 1.4,0.6 1.3,0.6 1.4,0.6 1.3,0.6 1.4,0.6 1.3,0.6 1.4,0.6 1.2,0.7 1.2,0.7 1.1,0.7 1,0.7 0.9,0.8 0.8,0.8 0.8,0.9 0.7,0.8 0.7,0.9 0.6,0.9 0.6,0.8 0.6,0.9 0.6,0.9 0.6,0.9 0.6,0.9 0.6,0.9 0.5,0.9 0.5,0.9 0.5,0.9 0.5,0.9 0.4,0.9 0.4,0.9 0.4,0.9 0.3,1 0.3,0.9 0.2,1 0.2,0.9 0.2,1 0.1,1 0.1,0.9 0.1,1 0,1 0,0.9 0,1 -0.1,1 -0.1,0.9 -0.1,1 -0.1,0.9 -0.2,1 -0.1,1 -0.2,0.9 -0.2,1 -0.3,0.9 -0.2,1 -0.3,0.9 -0.3,1 -0.3,0.9 -0.4,1 -0.3,0.9 -0.4,1 -0.5,0.9 -0.5,1 -0.5,0.9 -0.5,0.9 -0.6,0.9 -0.6,0.9 -0.7,1 -0.7,0.8 -0.8,0.9 -0.8,0.9 -1.4,1.8 -1.5,1.5 -1.6,1.3 -1.6,1.1 -1.6,0.8 -1.6,0.5 -1.6,0.3 -1.6,0 -1.5-0.2 -1.5-0.4 -1.4-0.6 -1.4-0.8 -1.3-0.9 -1.3-1.1 -1.3-1.1 -1.2-1.1 -1.2-1.2 -1.3-1.1 -1.2-1 -1.4-0.8 -1.4-0.8 -1.6-0.5 -1.8-0.4 -2-0.1 -2.4,0.2 -2.5,0.2 -2.5,0.3 -2.5,0.3 -2.4,0.3 -2.5,0.3 -2.5,0.3 -2.5,0.3 -2.4,0.3 -2.5,0.3 -2.5,0.4 -2.5,0.3 -2.4,0.3 -2.5,0.2 -2.5,0.3 -2.5,0.2 -2.5,0.3 -2.6,0.1 -2.5,0.2 -2.5,0.3 -2.5,0.2 -2.5,0.3 -2.4,0.4 -2.5,0.3 -2.5,0.4 -2.4,0.4 -2.5,0.4 -2.4,0.4 -2.5,0.3 -2.5,0.4 -2.4,0.3 -2.5,0.3 -2.5,0.3 -2.5,0.2 -2.6,0.3 -2.5,0.2 -2.5,0.2 -2.5,0.2 -2.6,0.1 -2.5,0.2 -2.6,0.1 -2.5,0.1 -2.5,0.1 -2.6,0.1 -2.5,0.1 -2.6,0 -2.5,0 -2.6,0 -2.5,0 -2.6-0.1 -2.5-0.1 -2.5-0.2 -2.4-0.3 -2.4-0.2 -2.4-0.3 -2.3-0.4 -2.3-0.4 -2.3-0.4 -2.2-0.6 -2.1-0.5 -2.1-0.7 -1.9-0.7 -2-0.8 -1.8-0.9 -1.7-1 -1.6-1 -1.4-1 -1.4-1.2 -1.2-1.2 -1.1-1.2 -0.9-1.2 -0.8-1.3 -0.5-1.4 -0.5-1.3 -0.2-1.4 0-0.7M856.5,261.5l2.7-1.2 2.7-1.2 2.7-1.2 2.6-1.2 2.7-1.2 2.6-1.3 2.7-1.2 2.7-1.2 2.6-1.2 2.7-1.2 2.6-1.2 2.7-1.2 2.7-1.2 2.7-1.1 2.7-1.2 2.6-1.2 2.7-1.1 2.8-1.2 2.7-1.1 2.7-1.1 2.7-1.1 2.8-1.1 2.8-1.1 2.8-1 2.8-1.1 2.8-1 2.8-1 2.9-1 3-0.9 2.9-0.8 3.1-0.9 3-0.8 3-0.7 3.1-0.8 3-0.8 3.1-0.8 3-0.7 3.1-0.8 3.1-0.7 3.1-0.7 3.1-0.7 3.1-0.7 3.1-0.6 3.1-0.7 3.1-0.6 3.2-0.7 3.1-0.6 3.2-0.5 3.2-0.5 3.2-0.5 3.3-0.4 3.3-0.3 3.3-0.3 3.3-0.3 3.4-0.1 3.3-0.1 3.4,0 3.3,0.2 3.3,0.4 2.5,0.4 1.7,0.3 1.6,0.4 1.6,0.4 1.4,0.5 1.5,0.5 1.4,0.6 1.4,0.5 1.4,0.6 1.3,0.6 1.4,0.6 1.4,0.6 1.4,0.5 1.3,0.7 1.4,0.6 1.2,0.6 1.2,0.7 1.1,0.7 1.1,0.7 0.9,0.8 0.9,0.8 0.8,0.8 0.7,0.9 0.7,0.8 0.7,0.9 0.6,0.9 0.7,0.9 0.6,0.8 0.6,0.9 0.6,0.9 0.6,0.9 0.6,0.9 0.5,0.8 0.5,0.9 0.5,0.9 0.5,1 0.4,0.9 0.4,0.9 0.3,1 0.3,0.9 0.3,1 0.2,0.9 0.2,1 0.1,1 0.1,0.9 0,1 0,1 0,0.9 0,1 -0.1,1 -0.1,0.9 -0.1,1 -0.2,0.9 -0.1,1 -0.2,0.9 -0.2,1 -0.3,1 -0.2,0.9 -0.3,1 -0.3,0.9 -0.3,1 -0.3,0.9 -0.4,1 -0.4,0.9 -0.5,0.9 -0.4,1 -0.5,0.9 -0.6,0.9 -0.5,1 -0.6,0.9 -0.7,0.9 -0.7,0.9 -0.7,0.9 -0.8,0.9 -0.8,0.8 -1.5,1.8 -1.5,1.5 -1.5,1.3 -1.7,1 -1.6,0.8 -1.7,0.5 -1.6,0.3 -1.6,0.1 -1.6-0.2 -1.5-0.4 -1.5-0.5 -1.4-0.8 -1.4-0.9 -1.3-0.9 -1.3-1.1 -1.3-1.1 -1.3-1.1 -1.2-1.1 -1.3-0.9 -1.4-0.9 -1.5-0.7 -1.6-0.5 -1.9-0.3 -2.1-0.1 -2.3,0.1 -2.6,0.3 -2.5,0.3 -2.5,0.2 -2.5,0.3 -2.5,0.3 -2.5,0.3 -2.5,0.3 -2.5,0.3 -2.5,0.4 -2.5,0.3 -2.5,0.3 -2.5,0.3 -2.5,0.2 -2.5,0.3 -2.5,0.2 -2.6,0.2 -2.5,0.2 -2.5,0.2 -2.6,0.2 -2.5,0.3 -2.5,0.3 -2.5,0.3 -2.5,0.4 -2.4,0.3 -2.5,0.4 -2.5,0.4 -2.5,0.4 -2.5,0.3 -2.5,0.4 -2.5,0.3 -2.5,0.3 -2.5,0.3 -2.5,0.2 -2.6,0.3 -2.5,0.2 -2.6,0.2 -2.5,0.1 -2.6,0.2 -2.6,0.1 -2.5,0.2 -2.6,0.1 -2.5,0.1 -2.6,0 -2.6,0.1 -2.5,0 -2.6,0 -2.6,0 -2.5,0 -2.6-0.1 -2.6-0.1 -2.5-0.2 -2.4-0.3 -2.4-0.3 -2.3-0.3 -2.3-0.4 -2.2-0.4 -2.2-0.5 -2.2-0.5 -2.1-0.6 -2-0.7 -1.9-0.7 -1.9-0.8 -1.8-0.9 -1.6-0.9 -1.6-1.1 -1.4-1.1 -1.3-1.1 -1.2-1.2 -1.1-1.2 -0.9-1.3 -0.7-1.3 -0.6-1.3 -0.3-1.3 -0.2-1.4 -0.1-0.7M855.9,248.9l2.6-1.2 2.7-1.2 2.7-1.2 2.7-1.2 2.6-1.3 2.7-1.2 2.6-1.2 2.7-1.2 2.7-1.2 2.6-1.2 2.7-1.2 2.7-1.2 2.6-1.2 2.7-1.2 2.7-1.1 2.7-1.2 2.8-1.1 2.7-1.2 2.7-1.1 2.8-1.1 2.7-1.1 2.8-1.1 2.8-1.1 2.8-1 2.8-1.1 2.9-1 2.8-1 2.9-0.9 3-0.9 3-0.9 3-0.8 3.1-0.8 3.1-0.7 3-0.8 3.1-0.8 3.1-0.7 3-0.8 3.1-0.7 3.1-0.7 3.2-0.7 3.1-0.7 3.1-0.7 3.1-0.6 3.2-0.7 3.1-0.6 3.1-0.6 3.2-0.6 3.2-0.5 3.2-0.5 3.3-0.5 3.2-0.4 3.4-0.3 3.3-0.3 3.3-0.3 3.4-0.1 3.4-0.1 3.3,0.1 3.4,0.2 3.3,0.3 2.6,0.4 1.7,0.3 1.6,0.4 1.5,0.4 1.6,0.5 1.4,0.5 1.4,0.5 1.5,0.6 1.3,0.5 1.4,0.6 1.4,0.6 1.5,0.6 1.4,0.6 1.3,0.6 1.4,0.6 1.3,0.6 1.2,0.7 1.1,0.7 1.1,0.7 0.9,0.8 0.9,0.7 0.9,0.9 0.7,0.8 0.8,0.8 0.7,0.9 0.6,0.9 0.7,0.8 0.7,0.9 0.6,0.9 0.6,0.8 0.6,0.9 0.6,0.9 0.6,0.9 0.6,0.9 0.5,0.9 0.4,0.9 0.5,0.9 0.4,0.9 0.3,1 0.4,0.9 0.2,1 0.3,0.9 0.1,1 0.2,1 0.1,0.9 0,1 0,1 0,0.9 -0.1,1 -0.1,1 -0.1,0.9 -0.2,1 -0.1,1 -0.2,0.9 -0.2,1 -0.3,0.9 -0.2,1 -0.3,0.9 -0.3,1 -0.3,0.9 -0.3,1 -0.4,0.9 -0.4,0.9 -0.4,1 -0.5,0.9 -0.5,1 -0.5,0.9 -0.5,0.9 -0.6,0.9 -0.7,0.9 -0.6,1 -0.7,0.9 -0.8,0.8 -0.8,0.9 -0.9,0.9 -1.4,1.7 -1.5,1.5 -1.6,1.3 -1.7,1 -1.6,0.8 -1.7,0.5 -1.7,0.3 -1.7,0.1 -1.6-0.2 -1.5-0.3 -1.5-0.5 -1.5-0.7 -1.4-0.9 -1.4-0.9 -1.3-1 -1.3-1.1 -1.4-1 -1.3-1.1 -1.4-0.9 -1.4-0.8 -1.5-0.7 -1.7-0.5 -1.9-0.3 -2.1-0.1 -2.4,0.2 -2.5,0.3 -2.6,0.2 -2.5,0.3 -2.5,0.3 -2.5,0.3 -2.6,0.3 -2.5,0.3 -2.5,0.3 -2.5,0.3 -2.5,0.3 -2.6,0.3 -2.5,0.3 -2.5,0.3 -2.6,0.2 -2.5,0.2 -2.6,0.2 -2.5,0.2 -2.6,0.2 -2.6,0.2 -2.5,0.3 -2.5,0.3 -2.5,0.3 -2.5,0.4 -2.5,0.3 -2.5,0.4 -2.5,0.4 -2.5,0.3 -2.5,0.4 -2.6,0.3 -2.5,0.3 -2.5,0.3 -2.6,0.3 -2.5,0.2 -2.6,0.3 -2.6,0.2 -2.5,0.2 -2.6,0.1 -2.6,0.2 -2.6,0.1 -2.6,0.1 -2.6,0.1 -2.5,0.1 -2.6,0.1 -2.6,0.1 -2.6,0 -2.6,0 -2.6,0 -2.6-0.1 -2.6-0.1 -2.5-0.1 -2.5-0.2 -2.4-0.3 -2.4-0.3 -2.3-0.4 -2.2-0.3 -2.2-0.5 -2.2-0.5 -2.1-0.5 -2-0.6 -2-0.7 -1.9-0.7 -1.8-0.9 -1.8-0.8 -1.6-1 -1.5-1 -1.4-1.1 -1.3-1.2 -1.2-1.2 -1-1.2 -0.8-1.2 -0.7-1.3 -0.6-1.4 -0.3-1.3 -0.2-1.4 0-0.7M855.2,236.3l2.7-1.3 2.6-1.2 2.7-1.2 2.7-1.2 2.6-1.2 2.7-1.2 2.7-1.3 2.6-1.2 2.7-1.2 2.7-1.2 2.6-1.2 2.7-1.2 2.7-1.2 2.7-1.2 2.7-1.1 2.7-1.2 2.8-1.1 2.7-1.2 2.8-1.1 2.7-1.1 2.8-1.1 2.8-1.1 2.8-1 2.8-1.1 2.9-1 2.8-1 2.9-1 3-0.9 2.9-0.9 3.1-0.9 3-0.8 3.1-0.7 3.1-0.8 3.1-0.8 3.1-0.7 3.1-0.8 3.1-0.7 3.1-0.7 3.1-0.7 3.1-0.7 3.2-0.7 3.1-0.6 3.2-0.7 3.1-0.6 3.2-0.7 3.1-0.6 3.2-0.5 3.2-0.5 3.3-0.5 3.2-0.5 3.3-0.4 3.3-0.3 3.4-0.3 3.4-0.2 3.3-0.2 3.4,0 3.4,0 3.4,0.2 3.3,0.3 2.6,0.4 1.7,0.4 1.7,0.3 1.5,0.5 1.6,0.4 1.4,0.5 1.5,0.5 1.4,0.6 1.4,0.5 1.5,0.6 1.4,0.5 1.4,0.6 1.4,0.6 1.4,0.6 1.4,0.6 1.3,0.6 1.3,0.7 1.1,0.7 1.1,0.7 1,0.7 0.9,0.8 0.9,0.8 0.8,0.8 0.7,0.9 0.7,0.8 0.8,0.9 0.6,0.8 0.7,0.9 0.7,0.8 0.7,0.9 0.6,0.9 0.6,0.8 0.6,0.9 0.6,0.9 0.5,0.9 0.5,0.9 0.5,0.9 0.4,1 0.4,0.9 0.3,1 0.3,0.9 0.2,1 0.2,0.9 0.2,1 0,1 0.1,1 0,0.9 -0.1,1 -0.1,1 -0.1,0.9 -0.1,1 -0.2,0.9 -0.2,1 -0.2,1 -0.2,0.9 -0.3,1 -0.2,0.9 -0.3,1 -0.3,0.9 -0.4,0.9 -0.3,1 -0.4,0.9 -0.4,1 -0.5,0.9 -0.5,0.9 -0.5,1 -0.5,0.9 -0.6,0.9 -0.6,0.9 -0.7,0.9 -0.7,1 -0.7,0.8 -0.8,0.9 -0.8,0.9 -0.9,0.9 -1.5,1.7 -1.5,1.5 -1.6,1.2 -1.7,1 -1.7,0.8 -1.7,0.6 -1.7,0.3 -1.7,0 -1.6-0.1 -1.6-0.3 -1.5-0.5 -1.5-0.6 -1.5-0.8 -1.4-0.9 -1.4-1 -1.4-1 -1.4-1 -1.4-1 -1.4-0.9 -1.4-0.8 -1.6-0.6 -1.7-0.5 -2-0.3 -2.1-0.1 -2.4,0.2 -2.6,0.3 -2.6,0.2 -2.5,0.3 -2.6,0.3 -2.5,0.3 -2.6,0.3 -2.5,0.3 -2.5,0.3 -2.6,0.3 -2.5,0.3 -2.6,0.3 -2.5,0.3 -2.6,0.2 -2.5,0.3 -2.6,0.2 -2.6,0.2 -2.6,0.2 -2.6,0.1 -2.5,0.3 -2.6,0.2 -2.6,0.3 -2.5,0.3 -2.5,0.4 -2.5,0.3 -2.6,0.4 -2.5,0.4 -2.5,0.3 -2.5,0.4 -2.6,0.3 -2.5,0.3 -2.6,0.3 -2.6,0.2 -2.5,0.3 -2.6,0.2 -2.6,0.2 -2.6,0.2 -2.6,0.1 -2.6,0.2 -2.6,0.1 -2.6,0.1 -2.6,0.1 -2.6,0.1 -2.6,0.1 -2.6,0 -2.6,0.1 -2.7,0 -2.6-0.1 -2.6,0 -2.6-0.1 -2.6-0.1 -2.5-0.3 -2.4-0.3 -2.3-0.3 -2.3-0.4 -2.2-0.4 -2.1-0.4 -2.1-0.5 -2.1-0.6 -2-0.6 -1.9-0.7 -1.9-0.7 -1.8-0.9 -1.7-0.9 -1.6-0.9 -1.4-1.1 -1.4-1.1 -1.3-1.1 -1.1-1.2 -1-1.2 -0.8-1.3 -0.7-1.3 -0.5-1.3 -0.3-1.4 -0.2-1.4 0-0.6M854.5,223.5l2.7-1.2 2.7-1.2 2.6-1.2 2.7-1.3 2.7-1.2 2.6-1.2 2.7-1.2 2.7-1.2 2.6-1.2 2.7-1.3 2.7-1.2 2.7-1.2 2.7-1.1 2.7-1.2 2.7-1.2 2.7-1.1 2.8-1.2 2.7-1.1 2.8-1.2 2.8-1.1 2.8-1 2.8-1.1 2.8-1.1 2.9-1 2.8-1 2.9-1 2.9-1 3-0.9 3-0.9 3-0.8 3.1-0.8 3.1-0.8 3.1-0.7 3.1-0.8 3.1-0.7 3.1-0.8 3.2-0.7 3.1-0.7 3.1-0.7 3.2-0.7 3.1-0.6 3.2-0.7 3.2-0.6 3.1-0.7 3.2-0.6 3.2-0.6 3.2-0.5 3.2-0.5 3.3-0.5 3.3-0.4 3.3-0.4 3.3-0.3 3.4-0.3 3.4-0.2 3.4-0.2 3.4,0 3.4,0 3.4,0.2 3.3,0.3 2.6,0.4 1.8,0.3 1.6,0.4 1.6,0.4 1.6,0.5 1.5,0.4 1.4,0.5 1.5,0.6 1.4,0.5 1.5,0.6 1.4,0.5 1.5,0.6 1.4,0.6 1.4,0.5 1.4,0.6 1.4,0.7 1.2,0.6 1.2,0.7 1.1,0.7 1,0.7 1,0.8 0.9,0.8 0.8,0.8 0.8,0.8 0.7,0.9 0.8,0.8 0.7,0.9 0.7,0.8 0.7,0.9 0.7,0.8 0.7,0.9 0.6,0.8 0.6,0.9 0.6,0.9 0.6,0.9 0.5,0.9 0.5,0.9 0.4,0.9 0.4,1 0.4,0.9 0.3,1 0.2,1 0.2,0.9 0.2,1 0,1 0.1,0.9 -0.1,1 0,1 -0.1,1 -0.1,0.9 -0.2,1 -0.2,0.9 -0.2,1 -0.2,0.9 -0.3,1 -0.3,0.9 -0.2,1 -0.4,0.9 -0.3,1 -0.4,0.9 -0.3,1 -0.5,0.9 -0.4,0.9 -0.5,1 -0.5,0.9 -0.5,0.9 -0.6,0.9 -0.6,1 -0.6,0.9 -0.7,0.9 -0.7,0.9 -0.8,0.9 -0.8,0.9 -0.8,0.8 -0.9,0.9 -1.5,1.7 -1.6,1.4 -1.6,1.3 -1.7,1 -1.7,0.8 -1.7,0.5 -1.8,0.3 -1.7,0.1 -1.7-0.1 -1.6-0.3 -1.6-0.4 -1.5-0.6 -1.5-0.8 -1.5-0.8 -1.4-1 -1.5-0.9 -1.4-1 -1.4-0.9 -1.5-0.9 -1.5-0.7 -1.6-0.6 -1.8-0.5 -1.9-0.3 -2.2,0 -2.5,0.1 -2.6,0.3 -2.6,0.3 -2.5,0.2 -2.6,0.3 -2.6,0.3 -2.5,0.3 -2.6,0.3 -2.6,0.3 -2.5,0.3 -2.6,0.3 -2.6,0.3 -2.5,0.2 -2.6,0.3 -2.6,0.2 -2.6,0.3 -2.6,0.1 -2.6,0.2 -2.6,0.2 -2.6,0.2 -2.6,0.3 -2.6,0.2 -2.5,0.4 -2.6,0.3 -2.5,0.3 -2.6,0.4 -2.5,0.4 -2.6,0.3 -2.5,0.4 -2.6,0.3 -2.6,0.3 -2.6,0.3 -2.6,0.2 -2.6,0.2 -2.6,0.3 -2.6,0.2 -2.6,0.1 -2.6,0.2 -2.6,0.1 -2.7,0.2 -2.6,0.1 -2.6,0.1 -2.7,0 -2.6,0.1 -2.6,0.1 -2.6,0 -2.7,0 -2.6-0.1 -2.6,0 -2.7-0.1 -2.6-0.1 -2.5-0.3 -2.3-0.3 -2.3-0.4 -2.3-0.4 -2.1-0.4 -2.2-0.4 -2-0.6 -2-0.5 -2-0.7 -1.9-0.7 -1.8-0.7 -1.7-0.9 -1.7-0.9 -1.5-0.9 -1.5-1.1 -1.3-1.1 -1.2-1.1 -1.1-1.2 -1-1.2 -0.8-1.3 -0.6-1.3 -0.5-1.3 -0.3-1.4 -0.2-1.4 0-0.7M853.9,210.8l2.6-1.3 2.7-1.2 2.7-1.2 2.6-1.3 2.7-1.2 2.6-1.2 2.7-1.2 2.7-1.3 2.7-1.2 2.6-1.2 2.7-1.2 2.7-1.2 2.7-1.2 2.7-1.1 2.8-1.2 2.7-1.2 2.8-1.1 2.8-1.1 2.7-1.2 2.8-1.1 2.8-1 2.9-1.1 2.8-1 2.9-1.1 2.9-1 2.9-1 2.9-0.9 3-0.9 3-0.9 3.1-0.8 3.1-0.8 3.1-0.8 3.1-0.7 3.2-0.8 3.1-0.7 3.1-0.7 3.2-0.8 3.1-0.7 3.2-0.6 3.1-0.7 3.2-0.7 3.2-0.6 3.2-0.6 3.2-0.6 3.2-0.6 3.2-0.6 3.2-0.6 3.3-0.5 3.2-0.4 3.3-0.4 3.4-0.4 3.3-0.3 3.4-0.3 3.4-0.2 3.4-0.2 3.4,0 3.5,0 3.4,0.2 3.4,0.3 2.5,0.4 1.8,0.3 1.7,0.4 1.6,0.4 1.6,0.4 1.5,0.5 1.5,0.5 1.5,0.5 1.4,0.6 1.5,0.5 1.5,0.6 1.4,0.5 1.5,0.6 1.4,0.5 1.5,0.6 1.3,0.6 1.3,0.7 1.2,0.6 1.1,0.7 1.1,0.8 1,0.7 0.9,0.8 0.8,0.8 0.8,0.8 0.8,0.9 0.8,0.8 0.7,0.8 0.8,0.9 0.7,0.8 0.7,0.9 0.7,0.8 0.7,0.9 0.6,0.8 0.7,0.9 0.6,0.9 0.5,0.9 0.5,0.9 0.5,0.9 0.4,1 0.3,0.9 0.3,1 0.3,1 0.2,0.9 0.1,1 0.1,1 0.1,1 -0.1,0.9 -0.1,1 -0.1,1 -0.1,0.9 -0.2,1 -0.2,0.9 -0.2,1 -0.3,0.9 -0.2,1 -0.3,0.9 -0.4,1 -0.3,0.9 -0.4,1 -0.3,0.9 -0.5,0.9 -0.4,1 -0.5,0.9 -0.5,0.9 -0.5,1 -0.5,0.9 -0.6,0.9 -0.6,0.9 -0.7,0.9 -0.7,0.9 -0.7,0.9 -0.8,0.9 -0.8,0.9 -0.9,0.9 -0.9,0.9 -1.5,1.6 -1.6,1.4 -1.7,1.3 -1.7,1 -1.7,0.7 -1.8,0.6 -1.8,0.3 -1.7,0.1 -1.7,0 -1.7-0.3 -1.6-0.4 -1.6-0.6 -1.5-0.7 -1.6-0.8 -1.4-0.9 -1.5-0.9 -1.5-0.9 -1.5-0.9 -1.5-0.8 -1.6-0.8 -1.7-0.5 -1.8-0.5 -1.9-0.2 -2.3-0.1 -2.4,0.2 -2.6,0.2 -2.7,0.3 -2.6,0.3 -2.5,0.3 -2.6,0.3 -2.6,0.2 -2.6,0.3 -2.6,0.3 -2.6,0.3 -2.6,0.3 -2.6,0.3 -2.6,0.3 -2.6,0.2 -2.6,0.2 -2.6,0.3 -2.6,0.1 -2.7,0.2 -2.6,0.2 -2.6,0.2 -2.6,0.2 -2.6,0.3 -2.6,0.3 -2.6,0.4 -2.6,0.3 -2.5,0.4 -2.6,0.3 -2.6,0.4 -2.5,0.3 -2.6,0.3 -2.6,0.3 -2.6,0.3 -2.7,0.2 -2.6,0.2 -2.6,0.2 -2.6,0.2 -2.7,0.2 -2.6,0.2 -2.7,0.1 -2.6,0.1 -2.7,0.1 -2.6,0.1 -2.7,0.1 -2.6,0.1 -2.7,0 -2.6,0 -2.7,0 -2.6,0 -2.7-0.1 -2.7-0.1 -2.6-0.1 -2.5-0.3 -2.3-0.3 -2.3-0.4 -2.2-0.4 -2.1-0.5 -2.1-0.4 -2-0.6 -2-0.5 -1.9-0.7 -1.8-0.7 -1.8-0.8 -1.7-0.8 -1.6-0.9 -1.5-1 -1.4-1.1 -1.3-1.1 -1.2-1.1 -1.1-1.2 -0.9-1.2 -0.7-1.3 -0.7-1.3 -0.4-1.3 -0.3-1.4 -0.1-1.4 0-0.6M853.2,197.9l2.7-1.2 2.6-1.3 2.7-1.2 2.6-1.2 2.7-1.3 2.7-1.2 2.6-1.2 2.7-1.2 2.7-1.3 2.7-1.2 2.6-1.2 2.7-1.2 2.8-1.2 2.7-1.1 2.8-1.2 2.7-1.2 2.8-1.1 2.8-1.1 2.8-1.1 2.8-1.1 2.8-1.1 2.9-1.1 2.8-1 2.9-1 3-1 2.9-1 2.9-0.9 3-0.9 3.1-0.9 3-0.8 3.2-0.8 3.1-0.7 3.2-0.8 3.1-0.7 3.2-0.7 3.1-0.8 3.2-0.7 3.1-0.7 3.2-0.6 3.2-0.7 3.2-0.6 3.2-0.7 3.2-0.6 3.2-0.6 3.2-0.6 3.3-0.5 3.2-0.6 3.3-0.5 3.3-0.4 3.3-0.4 3.3-0.4 3.4-0.3 3.4-0.2 3.4-0.3 3.5-0.1 3.4-0.1 3.4,0.1 3.5,0.2 3.4,0.3 2.6,0.4 1.7,0.3 1.8,0.3 1.6,0.4 1.6,0.5 1.5,0.4 1.5,0.5 1.5,0.5 1.5,0.5 1.5,0.6 1.5,0.5 1.5,0.6 1.5,0.5 1.5,0.6 1.4,0.6 1.4,0.6 1.3,0.6 1.2,0.6 1.2,0.7 1,0.8 1,0.7 1,0.8 0.9,0.8 0.8,0.8 0.8,0.8 0.8,0.8 0.8,0.8 0.8,0.9 0.7,0.8 0.8,0.8 0.7,0.9 0.7,0.8 0.7,0.9 0.6,0.9 0.6,0.9 0.6,0.8 0.5,1 0.5,0.9 0.4,0.9 0.4,1 0.3,0.9 0.3,1 0.2,1 0.2,1 0,0.9 0,1 0,1 -0.1,1 -0.1,0.9 -0.2,1 -0.2,0.9 -0.2,1 -0.2,0.9 -0.3,1 -0.3,0.9 -0.3,1 -0.4,0.9 -0.3,1 -0.4,0.9 -0.4,0.9 -0.5,1 -0.4,0.9 -0.5,0.9 -0.5,1 -0.6,0.9 -0.5,0.9 -0.7,0.9 -0.6,0.9 -0.7,0.9 -0.7,0.9 -0.8,0.9 -0.7,0.9 -0.9,0.9 -0.9,0.9 -0.9,0.8 -1.5,1.6 -1.6,1.5 -1.7,1.2 -1.8,1 -1.7,0.8 -1.8,0.5 -1.9,0.3 -1.7,0.2 -1.8-0.1 -1.7-0.2 -1.6-0.4 -1.7-0.5 -1.5-0.7 -1.6-0.8 -1.6-0.8 -1.5-0.9 -1.5-0.9 -1.6-0.8 -1.5-0.8 -1.6-0.7 -1.8-0.5 -1.8-0.4 -2-0.3 -2.3,0 -2.5,0.2 -2.6,0.2 -2.7,0.3 -2.6,0.3 -2.6,0.2 -2.6,0.3 -2.6,0.3 -2.6,0.3 -2.7,0.3 -2.6,0.3 -2.6,0.3 -2.6,0.2 -2.6,0.3 -2.6,0.2 -2.7,0.3 -2.6,0.2 -2.7,0.2 -2.6,0.1 -2.7,0.2 -2.6,0.2 -2.7,0.2 -2.6,0.3 -2.6,0.3 -2.6,0.3 -2.6,0.4 -2.6,0.3 -2.6,0.4 -2.6,0.3 -2.6,0.3 -2.6,0.3 -2.6,0.3 -2.6,0.3 -2.7,0.2 -2.6,0.3 -2.7,0.2 -2.6,0.1 -2.7,0.2 -2.6,0.2 -2.7,0.1 -2.7,0.1 -2.7,0.1 -2.6,0.1 -2.7,0.1 -2.7,0 -2.6,0.1 -2.7,0 -2.7,0 -2.6-0.1 -2.7,0 -2.7-0.1 -2.7-0.2 -2.4-0.3 -2.4-0.3 -2.2-0.4 -2.2-0.4 -2.1-0.5 -2-0.5 -2-0.5 -1.9-0.6 -1.9-0.7 -1.8-0.7 -1.7-0.8 -1.7-0.8 -1.5-1 -1.5-1 -1.4-1 -1.2-1.1 -1.2-1.2 -1-1.2 -0.9-1.2 -0.7-1.3 -0.6-1.3 -0.4-1.3 -0.3-1.3 -0.1-1.4 0-0.7M852.5,185l2.7-1.3 2.6-1.2 2.7-1.2 2.6-1.3 2.7-1.2 2.7-1.2 2.6-1.3 2.7-1.2 2.7-1.2 2.7-1.2 2.7-1.2 2.7-1.2 2.7-1.2 2.8-1.2 2.7-1.2 2.8-1.1 2.8-1.2 2.8-1.1 2.8-1.1 2.8-1.1 2.9-1 2.9-1.1 2.9-1 2.9-1 2.9-1 3-1 2.9-0.9 3-0.9 3.1-0.9 3.1-0.8 3.1-0.7 3.2-0.8 3.2-0.7 3.2-0.7 3.1-0.8 3.2-0.7 3.2-0.7 3.2-0.7 3.2-0.6 3.2-0.7 3.2-0.6 3.2-0.6 3.2-0.6 3.3-0.6 3.2-0.6 3.2-0.5 3.3-0.6 3.3-0.4 3.3-0.5 3.3-0.4 3.4-0.3 3.4-0.3 3.4-0.3 3.5-0.2 3.4-0.1 3.5-0.1 3.4,0.1 3.5,0.2 3.4,0.3 2.6,0.3 1.8,0.4 1.7,0.3 1.7,0.4 1.6,0.4 1.6,0.5 1.5,0.4 1.5,0.5 1.5,0.5 1.5,0.6 1.5,0.5 1.6,0.5 1.5,0.6 1.5,0.5 1.4,0.6 1.4,0.6 1.4,0.6 1.2,0.7 1.2,0.6 1.1,0.8 1,0.7 1,0.8 0.9,0.7 0.9,0.8 0.8,0.8 0.8,0.9 0.8,0.8 0.8,0.8 0.8,0.8 0.8,0.9 0.7,0.8 0.8,0.8 0.7,0.9 0.7,0.9 0.6,0.8 0.6,0.9 0.6,0.9 0.5,0.9 0.4,1 0.4,0.9 0.3,1 0.3,1 0.2,0.9 0.2,1 0,1 0,1 0,1 -0.1,0.9 -0.2,1 -0.1,1 -0.2,0.9 -0.3,1 -0.3,0.9 -0.3,1 -0.3,0.9 -0.3,0.9 -0.4,1 -0.4,0.9 -0.4,1 -0.4,0.9 -0.5,0.9 -0.4,0.9 -0.5,1 -0.6,0.9 -0.6,0.9 -0.6,0.9 -0.6,0.9 -0.7,0.9 -0.7,1 -0.7,0.9 -0.8,0.8 -0.8,0.9 -0.9,0.9 -0.9,0.9 -0.9,0.8 -1.6,1.6 -1.6,1.4 -1.7,1.2 -1.8,1 -1.8,0.8 -1.8,0.5 -1.8,0.4 -1.8,0.2 -1.8-0.1 -1.8-0.2 -1.7-0.3 -1.6-0.5 -1.7-0.7 -1.6-0.7 -1.6-0.8 -1.6-0.8 -1.5-0.8 -1.6-0.8 -1.6-0.8 -1.7-0.6 -1.8-0.6 -1.9-0.3 -2-0.3 -2.3,0 -2.6,0.2 -2.6,0.2 -2.7,0.3 -2.6,0.3 -2.6,0.2 -2.7,0.3 -2.6,0.3 -2.7,0.3 -2.6,0.3 -2.6,0.2 -2.7,0.3 -2.6,0.3 -2.7,0.3 -2.6,0.2 -2.7,0.2 -2.6,0.2 -2.7,0.2 -2.7,0.2 -2.7,0.1 -2.6,0.2 -2.7,0.3 -2.6,0.2 -2.7,0.3 -2.6,0.4 -2.6,0.3 -2.6,0.3 -2.6,0.4 -2.6,0.3 -2.7,0.3 -2.6,0.3 -2.6,0.3 -2.7,0.3 -2.7,0.2 -2.6,0.2 -2.7,0.2 -2.7,0.2 -2.7,0.1 -2.7,0.2 -2.7,0.1 -2.7,0.1 -2.7,0.1 -2.6,0.1 -2.7,0.1 -2.7,0 -2.7,0.1 -2.7,0 -2.7,0 -2.7-0.1 -2.7,0 -2.7-0.1 -2.7-0.2 -2.5-0.3 -2.3-0.4 -2.2-0.4 -2.1-0.4 -2.1-0.5 -1.9-0.5 -2-0.6 -1.8-0.6 -1.9-0.7 -1.7-0.7 -1.7-0.8 -1.6-0.8 -1.6-1 -1.4-1 -1.3-1 -1.3-1.1 -1.1-1.2 -0.9-1.2 -0.9-1.2 -0.7-1.3 -0.6-1.3 -0.4-1.3 -0.2-1.4 -0.1-1.3 0-0.7M849.4,176.4l2.6-1.3 2.5-1.3 2.6-1.3 2.6-1.3 2.6-1.3 2.6-1.3 2.6-1.3 2.6-1.3 2.7-1.3 2.6-1.3 2.7-1.2 2.7-1.3 2.8-1.2 2.8-1.2 2.8-1.2 2.8-1.1 2.9-1.2 2.8-1.1 2.9-1.1 2.9-1.1 3-1.1 3-1 3-1 3-0.9 3.1-1 3-0.9 3.1-0.9 3.2-0.8 3.1-0.8 3.2-0.8 3.3-0.7 3.2-0.7 3.3-0.7 3.3-0.6 3.2-0.7 3.3-0.7 3.3-0.6 3.3-0.6 3.3-0.6 3.3-0.6 3.3-0.6 3.3-0.5 3.4-0.6 3.3-0.5 3.3-0.5 3.4-0.4 3.3-0.5 3.4-0.4 3.4-0.3 3.4-0.3 3.4-0.3 3.5-0.2 3.5-0.2 3.5-0.2 3.5-0.1 3.6,0 3.5,0 3.5,0.2 3.5,0.3 2.7,0.3 1.9,0.3 1.9,0.3 1.8,0.4 1.7,0.3 1.8,0.4 1.6,0.4 1.7,0.4 1.7,0.5 1.6,0.5 1.7,0.5 1.7,0.4 1.6,0.5 1.7,0.6 1.6,0.5 1.6,0.5 1.5,0.6 1.4,0.6 1.4,0.6 1.3,0.7 1.2,0.7 1.2,0.7 1.1,0.7 1.1,0.7 1.1,0.8 1,0.8 1,0.7 1.1,0.8 1,0.8 0.9,0.8 1,0.8 1,0.8 0.9,0.9 0.9,0.8 0.8,0.9 0.8,0.9 0.7,0.9 0.7,0.9 0.6,1 0.5,1 0.4,1 0.4,1 0.2,1 0.2,1.1 0,1 0,1 -0.2,1.1 -0.2,1 -0.2,1 -0.4,1 -0.3,0.9 -0.4,1 -0.5,1 -0.4,1 -0.5,0.9 -0.5,1 -0.6,0.9 -0.6,1 -0.5,0.9 -0.7,1 -0.6,0.9 -0.7,0.9 -0.7,0.9 -0.7,1 -0.8,0.9 -0.7,0.9 -0.8,0.9 -0.9,0.9 -0.9,0.9 -0.9,1 -0.9,0.9 -1,0.8 -1,0.9 -1.1,0.9 -1.1,0.9 -1.6,1.4 -1.8,1.3 -1.9,1.1 -1.9,0.9 -2,0.8 -2,0.6 -2.1,0.5 -2,0.3 -2.1,0.2 -2,0 -2-0.1 -2-0.2 -1.9-0.3 -2-0.4 -2-0.5 -2-0.5 -1.9-0.5 -2-0.5 -2-0.4 -2.1-0.4 -2.1-0.3 -2.3-0.2 -2.3-0.1 -2.5,0 -2.7,0.2 -2.8,0.3 -2.8,0.2 -2.8,0.3 -2.8,0.3 -2.7,0.2 -2.8,0.3 -2.8,0.2 -2.8,0.3 -2.7,0.2 -2.8,0.3 -2.8,0.2 -2.8,0.2 -2.8,0.2 -2.8,0.2 -2.8,0.2 -2.8,0.1 -2.8,0.1 -2.8,0.2 -2.8,0.1 -2.8,0.2 -2.8,0.3 -2.7,0.2 -2.8,0.3 -2.8,0.3 -2.7,0.3 -2.8,0.3 -2.7,0.3 -2.8,0.2 -2.8,0.3 -2.8,0.2 -2.7,0.2 -2.8,0.2 -2.8,0.2 -2.9,0.1 -2.8,0.2 -2.8,0.1 -2.8,0.1 -2.8,0.1 -2.9,0.1 -2.8,0 -2.8,0.1 -2.8,0 -2.8,0 -2.8,0 -2.8,0 -2.8,0 -2.8-0.1 -2.9-0.1 -2.9-0.2 -2.7-0.2 -2.4-0.4 -2.1-0.6 -2-0.6 -1.7-0.6 -1.7-0.7 -1.6-0.6 -1.5-0.7 -1.4-0.8 -1.4-0.8 -1.4-0.8 -1.3-0.9 -1.2-1 -1.1-1 -1.1-1.1 -1-1.1 -0.9-1.2 -0.8-1.2 -0.7-1.3 -0.5-1.3 -0.5-1.3 -0.3-1.4 -0.2-1.3 0-1.4 0.1-1.4 0.1-0.8M846.4,170l2.5-1.4 2.4-1.4 2.5-1.4 2.5-1.4 2.6-1.3 2.5-1.4 2.6-1.3 2.6-1.4 2.6-1.3 2.7-1.4 2.6-1.3 2.7-1.3 2.8-1.2 2.8-1.3 2.9-1.2 2.8-1.2 2.9-1.1 3-1.2 2.9-1.1 3-1.1 3.1-1 3.1-1 3.1-0.9 3.2-0.9 3.1-0.9 3.2-0.9 3.2-0.8 3.2-0.8 3.3-0.8 3.3-0.7 3.4-0.7 3.3-0.6 3.4-0.6 3.4-0.7 3.3-0.6 3.4-0.6 3.4-0.6 3.4-0.5 3.4-0.6 3.4-0.5 3.4-0.5 3.4-0.5 3.4-0.5 3.4-0.4 3.5-0.4 3.4-0.4 3.4-0.4 3.5-0.3 3.5-0.2 3.5-0.3 3.5-0.2 3.5-0.2 3.6-0.1 3.6-0.1 3.5-0.1 3.6,0 3.6,0.1 3.6,0.1 3.6,0.3 2.8,0.3 2,0.3 2,0.3 2,0.3 1.8,0.3 1.9,0.3 1.8,0.3 1.8,0.4 1.8,0.4 1.8,0.4 1.9,0.5 1.8,0.4 1.8,0.5 1.8,0.4 1.8,0.5 1.7,0.5 1.7,0.5 1.6,0.6 1.5,0.6 1.5,0.6 1.4,0.6 1.4,0.7 1.4,0.6 1.3,0.7 1.2,0.7 1.3,0.7 1.3,0.8 1.2,0.7 1.2,0.8 1.2,0.7 1.2,0.8 1.1,0.8 1.2,0.8 1.1,0.9 1,0.8 1,0.9 0.9,0.9 0.8,1 0.7,1 0.7,1 0.5,1.1 0.4,1 0.3,1.1 0.2,1.1 0,1.1 -0.1,1.1 -0.2,1 -0.4,1.1 -0.4,1 -0.4,1.1 -0.5,1 -0.6,1 -0.6,1 -0.6,0.9 -0.7,1 -0.7,1 -0.7,0.9 -0.7,1 -0.8,0.9 -0.8,1 -0.8,0.9 -0.9,1 -0.9,0.9 -0.9,0.9 -0.9,1 -1,0.9 -0.9,0.9 -1.1,0.9 -1,0.9 -1.1,0.9 -1.1,0.9 -1.1,0.9 -1.2,0.9 -1.2,0.9 -1.2,0.9 -1.8,1.3 -1.9,1.1 -2,1.1 -2.1,0.9 -2.2,0.8 -2.2,0.7 -2.3,0.5 -2.3,0.5 -2.2,0.3 -2.3,0.3 -2.3,0.1 -2.3,0.1 -2.3,0 -2.4-0.1 -2.3-0.1 -2.4-0.2 -2.3-0.2 -2.4-0.2 -2.4-0.1 -2.5-0.2 -2.4-0.1 -2.6,0 -2.6,0 -2.7,0.1 -2.9,0.3 -2.9,0.2 -2.9,0.3 -3,0.2 -2.9,0.2 -2.9,0.3 -2.9,0.2 -2.9,0.3 -2.9,0.2 -3,0.2 -2.9,0.2 -2.9,0.2 -2.9,0.1 -2.9,0.2 -2.9,0.1 -3,0.2 -2.9,0.1 -3,0.1 -2.9,0.1 -2.9,0.1 -3,0.2 -2.9,0.2 -2.9,0.2 -2.9,0.3 -2.9,0.2 -2.9,0.3 -2.9,0.2 -2.9,0.2 -2.9,0.3 -2.9,0.2 -2.9,0.1 -2.9,0.2 -2.9,0.1 -3,0.2 -2.9,0.1 -2.9,0.1 -3,0.1 -2.9,0 -3,0.1 -2.9,0 -3,0 -2.9,0 -2.9,0 -2.9,0 -3,0 -2.9-0.1 -2.9,0 -3-0.1 -2.9-0.2 -3-0.2 -2.8-0.3 -2.4-0.6 -1.9-0.7 -1.6-0.8 -1.5-0.8 -1.3-0.8 -1.1-0.8 -1.1-0.8 -1-0.9 -1-0.9 -1-1 -0.9-1 -0.8-1 -0.8-1.1 -0.7-1.2 -0.7-1.2 -0.6-1.3 -0.4-1.3 -0.4-1.3 -0.3-1.3 -0.2-1.4 -0.1-1.4 0.1-1.5 0.1-1.4 0.3-1.5 0.2-0.7M843.4,163.6l2.4-1.5 2.4-1.5 2.4-1.4 2.4-1.5 2.5-1.4 2.5-1.5 2.5-1.4 2.6-1.4 2.5-1.4 2.7-1.4 2.6-1.3 2.7-1.4 2.8-1.3 2.9-1.2 2.8-1.3 3-1.2 2.9-1.2 3-1.1 3.1-1.1 3.1-1.1 3.1-1 3.2-1 3.2-0.9 3.3-0.8 3.3-0.9 3.3-0.8 3.3-0.8 3.3-0.8 3.4-0.7 3.4-0.6 3.4-0.7 3.5-0.6 3.5-0.5 3.4-0.6 3.5-0.6 3.5-0.5 3.4-0.5 3.5-0.6 3.5-0.5 3.5-0.4 3.5-0.5 3.5-0.4 3.6-0.4 3.5-0.3 3.5-0.4 3.5-0.3 3.5-0.2 3.6-0.3 3.5-0.2 3.6-0.1 3.6-0.2 3.6-0.1 3.6-0.1 3.7,0 3.7-0.1 3.6,0 3.7,0.1 3.7,0.2 3.6,0.2 2.9,0.3 2.2,0.3 2.1,0.2 2,0.3 2,0.2 2,0.3 2,0.3 2,0.3 1.9,0.3 2,0.4 1.9,0.4 2,0.4 2,0.4 1.9,0.4 1.9,0.4 1.9,0.5 1.9,0.5 1.7,0.5 1.8,0.5 1.6,0.6 1.7,0.6 1.6,0.6 1.5,0.6 1.5,0.6 1.5,0.7 1.5,0.6 1.5,0.7 1.4,0.7 1.5,0.7 1.4,0.8 1.4,0.7 1.3,0.8 1.4,0.8 1.3,0.8 1.2,0.9 1.2,0.9 1,0.9 1,1 0.9,1 0.7,1.1 0.7,1.1 0.5,1.1 0.3,1.1 0.2,1.1 0,1.2 -0.2,1.1 -0.3,1.1 -0.4,1.1 -0.6,1.1 -0.6,1 -0.6,1.1 -0.7,1 -0.8,1 -0.8,1 -0.8,1 -0.9,1 -0.9,0.9 -0.9,1 -1,1 -1,0.9 -1,1 -1,0.9 -1,1 -1.1,0.9 -1.2,0.9 -1.1,0.9 -1.1,1 -1.2,0.9 -1.2,0.9 -1.2,0.9 -1.3,0.9 -1.3,0.9 -1.3,0.9 -1.4,0.9 -1.4,0.9 -1.9,1.1 -2,1.1 -2.2,0.9 -2.2,0.9 -2.4,0.8 -2.4,0.8 -2.5,0.6 -2.5,0.6 -2.5,0.6 -2.6,0.4 -2.6,0.5 -2.6,0.3 -2.7,0.3 -2.6,0.3 -2.7,0.2 -2.8,0.1 -2.7,0.1 -2.8,0.1 -2.8,0.1 -2.8,0.1 -2.9,0.1 -2.8,0.2 -2.9,0.1 -3,0.2 -3,0.3 -3.1,0.2 -3,0.3 -3.1,0.2 -3,0.2 -3.1,0.3 -3,0.2 -3.1,0.2 -3,0.2 -3.1,0.1 -3,0.2 -3.1,0.1 -3,0.2 -3.1,0.1 -3,0.1 -3.1,0.1 -3.1,0 -3.1,0.1 -3,0.1 -3.1,0.1 -3.1,0.2 -3,0.1 -3,0.2 -3.1,0.2 -3,0.2 -3,0.2 -3.1,0.2 -3,0.2 -3,0.2 -3.1,0.1 -3,0.2 -3.1,0.1 -3,0.1 -3.1,0.1 -3.1,0 -3,0.1 -3.1,0 -3.1,0 -3.1,0 -3,0 -3.1,0 -3.1,0 -3,0 -3-0.1 -3,0 -3.1-0.1 -3-0.1 -3.1-0.2 -3.1-0.2 -3.1-0.2 -2.9-0.4 -2.3-0.7 -1.7-0.9 -1.4-1 -1.1-1 -0.9-0.9 -0.7-1 -0.7-0.9 -0.6-1 -0.6-1 -0.5-1.1 -0.5-1.1 -0.5-1.2 -0.4-1.2 -0.4-1.3 -0.3-1.2 -0.2-1.4 -0.2-1.3 -0.1-1.4 0-1.4 0.1-1.5 0.1-1.4 0.3-1.5 0.4-1.5 0.5-1.5 0.2-0.7M840.4,157.1l2.3-1.5 2.3-1.6 2.3-1.5 2.4-1.5 2.4-1.5 2.4-1.5 2.5-1.5 2.5-1.5 2.6-1.4 2.6-1.5 2.6-1.4 2.7-1.4 2.8-1.3 2.9-1.3 2.9-1.2 3-1.3 3-1.2 3.1-1.2 3.1-1.1 3.2-1 3.2-1 3.3-0.9 3.4-0.9 3.3-0.9 3.4-0.8 3.4-0.7 3.4-0.8 3.5-0.7 3.5-0.6 3.5-0.7 3.5-0.5 3.6-0.6 3.5-0.5 3.6-0.5 3.6-0.5 3.5-0.5 3.6-0.5 3.6-0.5 3.6-0.4 3.6-0.4 3.6-0.4 3.6-0.3 3.6-0.4 3.6-0.3 3.6-0.2 3.6-0.2 3.6-0.2 3.7-0.2 3.6-0.1 3.7-0.1 3.6-0.1 3.7,0 3.7,0 3.7-0.1 3.8,0 3.7,0.1 3.7,0.1 3.8,0.1 3.7,0.2 3,0.3 2.3,0.2 2.2,0.3 2.2,0.2 2.1,0.2 2.2,0.2 2.1,0.2 2.1,0.2 2.1,0.3 2.1,0.3 2.1,0.3 2.1,0.4 2.1,0.4 2.1,0.4 2.1,0.4 2.1,0.4 2,0.4 1.9,0.5 1.9,0.5 1.9,0.5 1.8,0.5 1.8,0.5 1.8,0.6 1.7,0.6 1.7,0.6 1.7,0.6 1.7,0.6 1.7,0.7 1.6,0.7 1.6,0.7 1.6,0.7 1.6,0.8 1.6,0.8 1.5,0.8 1.4,0.8 1.4,0.9 1.2,1 1.1,1 1.1,1 0.8,1.1 0.7,1.1 0.6,1.2 0.4,1.2 0.2,1.2 0,1.2 -0.2,1.1 -0.5,1.2 -0.5,1.1 -0.7,1.1 -0.7,1.1 -0.8,1.1 -0.9,1 -0.9,1 -1,1.1 -1,1 -1,1 -1.1,0.9 -1.1,1 -1.1,1 -1.2,1 -1.2,0.9 -1.2,1 -1.2,0.9 -1.3,0.9 -1.3,1 -1.3,0.9 -1.3,0.9 -1.4,1 -1.3,0.9 -1.4,0.9 -1.4,0.9 -1.5,0.9 -1.5,0.9 -1.5,0.9 -1.5,0.9 -2,1 -2.2,0.9 -2.3,0.9 -2.5,0.9 -2.5,0.8 -2.6,0.8 -2.7,0.7 -2.7,0.8 -2.8,0.7 -2.9,0.7 -2.8,0.7 -3,0.6 -3,0.6 -3,0.6 -3.1,0.5 -3.1,0.5 -3.1,0.4 -3.2,0.4 -3.2,0.4 -3.2,0.3 -3.2,0.4 -3.2,0.3 -3.2,0.3 -3.2,0.2 -3.2,0.3 -3.2,0.2 -3.1,0.3 -3.2,0.2 -3.2,0.2 -3.2,0.2 -3.2,0.2 -3.2,0.2 -3.2,0.1 -3.2,0.2 -3.1,0.1 -3.2,0.1 -3.2,0.1 -3.2,0.1 -3.2,0 -3.2,0.1 -3.2,0 -3.2,0.1 -3.2,0 -3.2,0.1 -3.2,0.1 -3.2,0.1 -3.2,0.2 -3.1,0.1 -3.2,0.2 -3.2,0.1 -3.1,0.2 -3.2,0.1 -3.2,0.2 -3.1,0.1 -3.2,0.1 -3.2,0 -3.2,0.1 -3.2,0 -3.2,0 -3.2,0 -3.2,0 -3.2,0 -3.2,0 -3.2,0 -3.2-0.1 -3.1-0.1 -3.2,0 -3.1-0.1 -3.2-0.1 -3.1-0.1 -3.2-0.2 -3.2-0.1 -3.2-0.2 -3.3-0.3 -2.9-0.5 -2.2-0.8 -1.5-1.2 -1.1-1.1 -0.8-1.1 -0.5-1.1 -0.3-1.1 -0.3-1.1 -0.1-1.1 -0.2-1.2 -0.1-1.2 -0.2-1.2 -0.1-1.3 0-1.3 0-1.3 0-1.4 0.1-1.4 0.1-1.4 0.2-1.4 0.3-1.5 0.3-1.5 0.4-1.5 0.5-1.5 0.6-1.6 0.7-1.5 0.3-0.8M837.5,150.7l2.1-1.7 2.2-1.6 2.2-1.6 2.3-1.6 2.4-1.6 2.4-1.5 2.4-1.6 2.5-1.5 2.5-1.5 2.6-1.5 2.6-1.4 2.7-1.5 2.8-1.3 2.9-1.4 3-1.2 3.1-1.3 3-1.2 3.2-1.2 3.1-1.1 3.3-1.1 3.3-0.9 3.4-0.9 3.5-0.9 3.5-0.7 3.5-0.8 3.5-0.7 3.5-0.7 3.6-0.7 3.6-0.6 3.6-0.6 3.6-0.5 3.7-0.5 3.6-0.5 3.7-0.4 3.7-0.5 3.6-0.4 3.7-0.5 3.7-0.4 3.7-0.4 3.6-0.3 3.7-0.3 3.7-0.3 3.7-0.3 3.7-0.2 3.7-0.2 3.7-0.1 3.8-0.1 3.7-0.1 3.7,0 3.7-0.1 3.8,0 3.7,0.1 3.8,0 3.8,0 3.8,0 3.8,0.1 3.8,0.1 3.8,0.1 3.8,0.2 3.1,0.3 2.4,0.2 2.3,0.2 2.3,0.1 2.3,0.2 2.3,0.1 2.3,0.2 2.2,0.2 2.3,0.2 2.2,0.2 2.3,0.3 2.3,0.3 2.2,0.4 2.3,0.3 2.2,0.4 2.2,0.3 2.2,0.4 2.1,0.5 2.1,0.4 2,0.4 2.1,0.5 2,0.5 1.9,0.5 2,0.6 1.9,0.5 1.9,0.6 1.9,0.6 1.9,0.6 1.9,0.6 1.8,0.7 1.8,0.7 1.8,0.8 1.7,0.7 1.8,0.8 1.6,0.9 1.5,0.9 1.5,0.9 1.3,1 1.1,1.1 1,1.1 0.8,1.2 0.7,1.2 0.4,1.3 0.2,1.2 0,1.2 -0.3,1.2 -0.5,1.2 -0.7,1.2 -0.8,1.2 -0.8,1.1 -1,1.1 -1,1 -1.1,1.1 -1.1,1 -1.2,1 -1.2,1 -1.3,1 -1.3,1 -1.3,1 -1.3,1 -1.4,1 -1.4,0.9 -1.4,1 -1.5,0.9 -1.4,0.9 -1.5,0.9 -1.5,1 -1.5,0.9 -1.6,0.9 -1.5,1 -1.6,0.9 -1.6,0.9 -1.6,0.9 -1.7,0.9 -1.6,0.9 -2.2,0.9 -2.3,0.8 -2.5,0.8 -2.6,0.8 -2.7,0.8 -2.8,0.9 -2.9,0.8 -3,0.9 -3,0.9 -3.1,0.9 -3.2,1 -3.3,0.9 -3.3,0.9 -3.3,0.9 -3.5,0.8 -3.5,0.8 -3.5,0.8 -3.6,0.7 -3.6,0.6 -3.6,0.6 -3.6,0.5 -3.5,0.5 -3.5,0.4 -3.4,0.4 -3.3,0.3 -3.4,0.2 -3.3,0.2 -3.3,0.3 -3.3,0.2 -3.3,0.1 -3.4,0.2 -3.3,0.2 -3.3,0.1 -3.3,0.1 -3.4,0.1 -3.3,0 -3.3,0.1 -3.3,0 -3.4,0 -3.3,0 -3.3,0.1 -3.4,0 -3.3,0 -3.3,0 -3.4,0.1 -3.3,0.1 -3.3,0.1 -3.3,0.1 -3.3,0.2 -3.3,0.1 -3.3,0.1 -3.3,0.1 -3.3,0 -3.3,0.1 -3.3,0 -3.3,0.1 -3.4,0 -3.3,0 -3.3-0.1 -3.3,0 -3.4,0 -3.3-0.1 -3.3-0.1 -3.3,0 -3.4-0.1 -3.2-0.1 -3.3-0.1 -3.3-0.1 -3.2-0.2 -3.3-0.1 -3.2-0.2 -3.4-0.2 -3.3-0.2 -3.4-0.3 -3.1-0.6 -2.1-1 -1.3-1.3 -0.8-1.3 -0.4-1.3 -0.1-1.3 0.1-1.2 0.2-1.2 0.2-1.3 0.2-1.3 0.3-1.3 0.3-1.3 0.3-1.3 0.3-1.4 0.3-1.4 0.4-1.5 0.4-1.5 0.5-1.5 0.5-1.5 0.5-1.5 0.6-1.5 0.7-1.6 0.7-1.6 0.8-1.5 0.8-1.6 0.5-0.8M834.5,144.2l2-1.7 2.1-1.7 2.2-1.7 2.2-1.6 2.3-1.7 2.3-1.6 2.4-1.6 2.5-1.6 2.4-1.5 2.6-1.6 2.6-1.5 2.7-1.5 2.9-1.4 2.9-1.3 3-1.3 3.1-1.3 3.1-1.2 3.2-1.2 3.3-1.1 3.3-1.1 3.4-0.9 3.6-0.9 3.5-0.8 3.6-0.7 3.6-0.8 3.7-0.6 3.6-0.7 3.7-0.6 3.6-0.6 3.8-0.5 3.7-0.5 3.7-0.4 3.8-0.5 3.8-0.4 3.7-0.4 3.8-0.4 3.8-0.3 3.7-0.4 3.8-0.3 3.8-0.3 3.8-0.3 3.8-0.2 3.8-0.2 3.8-0.1 3.8-0.1 3.8-0.1 3.8,0 3.8,0 3.8,0 3.8,0.1 3.8,0 3.8,0.1 3.9,0.1 3.8,0.1 3.9,0 3.9,0.1 3.8,0.1 3.9,0.2 3.9,0.1 3.2,0.2 2.5,0.2 2.4,0.2 2.5,0.1 2.4,0.1 2.4,0.1 2.5,0.1 2.4,0.1 2.4,0.2 2.4,0.2 2.4,0.2 2.4,0.3 2.4,0.3 2.4,0.3 2.4,0.3 2.3,0.3 2.4,0.4 2.3,0.3 2.2,0.4 2.3,0.4 2.2,0.4 2.2,0.5 2.2,0.4 2.2,0.5 2.1,0.5 2.2,0.6 2.1,0.5 2.1,0.6 2,0.6 2.1,0.6 2,0.7 2,0.7 1.9,0.8 2,0.8 1.8,0.8 1.7,0.9 1.6,1 1.5,1 1.3,1.1 1.1,1.2 0.9,1.2 0.7,1.2 0.5,1.3 0.2,1.3 0,1.3 -0.4,1.3 -0.6,1.2 -0.7,1.2 -0.9,1.2 -1,1.1 -1.1,1.2 -1.2,1.1 -1.3,1 -1.3,1.1 -1.3,1 -1.4,1 -1.5,1 -1.4,1 -1.5,1 -1.5,1 -1.6,1 -1.6,0.9 -1.6,1 -1.6,0.9 -1.7,1 -1.6,0.9 -1.7,0.9 -1.7,1 -1.7,0.9 -1.7,0.9 -1.7,1 -1.8,0.9 -1.7,0.9 -1.8,0.9 -1.9,0.9 -2.3,0.7 -2.4,0.7 -2.6,0.7 -2.8,0.8 -2.9,0.9 -3,0.9 -3.1,0.9 -3.2,1 -3.3,1.1 -3.4,1.2 -3.5,1.2 -3.5,1.2 -3.7,1.2 -3.7,1.2 -3.8,1.1 -3.9,1.2 -4,1 -3.9,1 -4,0.9 -4,0.9 -3.9,0.7 -3.9,0.7 -3.8,0.5 -3.6,0.5 -3.5,0.3 -3.5,0.2 -3.4,0.2 -3.5,0.2 -3.5,0.2 -3.4,0.2 -3.5,0.1 -3.4,0.1 -3.5,0.1 -3.5,0.1 -3.4,0 -3.5,0.1 -3.4,0 -3.5,0 -3.5-0.1 -3.4,0 -3.5,0 -3.4,0 -3.5,0 -3.5,0 -3.4,0 -3.5,0.1 -3.5,0.1 -3.4,0 -3.5,0.1 -3.4,0.1 -3.4,0 -3.5,0.1 -3.4,0 -3.4,0 -3.5,0 -3.4,0 -3.5,0 -3.4-0.1 -3.5-0.1 -3.4,0 -3.5-0.1 -3.5-0.1 -3.4-0.1 -3.5-0.1 -3.4-0.2 -3.4-0.1 -3.4-0.1 -3.3-0.2 -3.4-0.1 -3.4-0.2 -3.4-0.2 -3.4-0.3 -3.5-0.2 -3.5-0.4 -3.1-0.6 -2.1-1.1 -1.1-1.5 -0.5-1.6 -0.1-1.4 0.3-1.4 0.5-1.4 0.6-1.4 0.7-1.3 0.7-1.4 0.6-1.4 0.7-1.5 0.7-1.4 0.7-1.5 0.7-1.5 0.7-1.5 0.7-1.6 0.8-1.5 0.8-1.6 0.8-1.6 0.9-1.6 0.9-1.6 0.9-1.6 1-1.6 1-1.7 0.6-0.8M831.5,137.8l1.9-1.8 2-1.8 2.1-1.7 2.2-1.8 2.2-1.7 2.3-1.6 2.3-1.7 2.4-1.7 2.5-1.6 2.5-1.6 2.6-1.5 2.7-1.5 2.9-1.5 2.9-1.4 3.1-1.3 3.2-1.3 3.1-1.2 3.3-1.2 3.3-1.1 3.4-1.1 3.6-0.9 3.6-0.8 3.7-0.8 3.7-0.7 3.7-0.7 3.7-0.6 3.8-0.7 3.7-0.5 3.8-0.5 3.9-0.5 3.8-0.5 3.8-0.4 3.9-0.3 3.8-0.4 3.9-0.3 3.9-0.4 3.8-0.3 3.9-0.3 3.9-0.3 3.9-0.2 3.8-0.2 3.9-0.2 3.9-0.1 3.9-0.1 3.9,0 3.9,0 3.9,0.1 3.8,0.1 3.9,0.1 3.9,0.1 3.9,0.1 3.9,0.2 3.9,0.1 4,0.1 3.9,0.1 3.9,0.1 4,0.1 3.9,0.2 4,0.1 3.3,0.2 2.6,0.2 2.6,0.1 2.6,0.1 2.5,0 2.6,0 2.5,0.1 2.6,0 2.5,0.1 2.6,0.2 2.6,0.2 2.5,0.2 2.6,0.2 2.5,0.3 2.5,0.3 2.6,0.3 2.5,0.3 2.5,0.3 2.4,0.3 2.5,0.4 2.4,0.4 2.4,0.4 2.4,0.4 2.4,0.4 2.3,0.5 2.4,0.4 2.3,0.5 2.3,0.6 2.3,0.6 2.2,0.6 2.3,0.6 2.2,0.7 2.1,0.7 2.2,0.8 2,0.8 1.9,0.9 1.8,1 1.6,1.1 1.4,1.1 1.3,1.2 1,1.3 0.8,1.3 0.5,1.3 0.3,1.3 -0.1,1.4 -0.4,1.3 -0.7,1.3 -0.9,1.2 -1,1.2 -1.2,1.2 -1.2,1.1 -1.3,1.2 -1.5,1 -1.4,1.1 -1.6,1.1 -1.5,1 -1.7,1 -1.6,1 -1.7,1 -1.7,1 -1.7,1 -1.7,1 -1.8,0.9 -1.9,1 -1.8,0.9 -1.8,0.9 -1.9,1 -1.8,0.9 -1.9,0.9 -1.9,1 -1.9,0.9 -1.9,1 -1.9,0.9 -1.9,0.9 -2,0.9 -2.4,0.5 -2.6,0.6 -2.8,0.7 -2.9,0.7 -3.1,0.9 -3.2,0.9 -3.3,1.1 -3.4,1.2 -3.6,1.2 -3.7,1.4 -3.7,1.4 -3.9,1.5 -4,1.5 -4.1,1.6 -4.2,1.4 -4.2,1.5 -4.4,1.4 -4.4,1.2 -4.4,1.2 -4.3,1.1 -4.3,1 -4.2,0.8 -4.1,0.7 -3.9,0.5 -3.6,0.3 -3.6,0.3 -3.6,0.2 -3.6,0.2 -3.6,0.1 -3.6,0.2 -3.6,0.1 -3.6,0.1 -3.6,0.1 -3.6,0 -3.6,0 -3.6,0 -3.6-0.1 -3.6,0 -3.6-0.1 -3.6,0 -3.6-0.1 -3.6,0 -3.6-0.1 -3.6,0 -3.6,0 -3.6,0.1 -3.6,0 -3.5,0 -3.6,0.1 -3.6,0 -3.6,0 -3.6,0 -3.5,0 -3.6-0.1 -3.6,0 -3.6-0.1 -3.5-0.1 -3.6-0.1 -3.6-0.1 -3.6-0.1 -3.6-0.1 -3.6-0.2 -3.5-0.1 -3.6-0.2 -3.5-0.1 -3.6-0.2 -3.5-0.2 -3.5-0.1 -3.4-0.2 -3.5-0.3 -3.5-0.2 -3.6-0.3 -3.6-0.3 -3.7-0.3 -3.1-0.7 -2-1.3 -0.9-1.7 -0.2-1.7 0.3-1.6 0.6-1.6 1-1.5 1-1.5 1.1-1.5 1.1-1.5 1.1-1.5 1-1.6 1.1-1.5 1.1-1.6 1-1.6 1.1-1.6 1-1.6 1.1-1.6 1.1-1.6 1.1-1.7 1.1-1.6 1.2-1.7 1.1-1.6 1.2-1.7 1.2-1.7 0.7-0.8M828.5,131.3l1.8-1.8 1.9-1.9 2-1.8 2.1-1.8 2.2-1.8 2.2-1.7 2.3-1.7 2.4-1.7 2.4-1.7 2.5-1.7 2.6-1.6 2.7-1.5 2.9-1.5 3-1.4 3.1-1.3 3.2-1.3 3.3-1.3 3.3-1.2 3.4-1.1 3.5-1.1 3.6-0.9 3.7-0.8 3.8-0.7 3.8-0.7 3.8-0.6 3.9-0.6 3.9-0.6 3.8-0.5 3.9-0.5 3.9-0.4 4-0.4 3.9-0.4 4-0.3 3.9-0.3 4-0.3 3.9-0.3 4-0.3 4-0.2 4-0.3 3.9-0.1 4-0.2 4-0.1 4,0 3.9,0 4,0 4,0.1 4,0.2 3.9,0.1 4,0.2 4,0.2 3.9,0.2 4,0.2 4,0.2 4,0.2 4,0.1 4,0.1 4,0.1 4.1,0.2 4,0.1 3.4,0.1 2.7,0.2 2.7,0.1 2.7,0 2.7,0 2.7,0 2.7-0.1 2.7,0 2.7,0.1 2.7,0.1 2.7,0.1 2.7,0.2 2.7,0.2 2.7,0.2 2.7,0.3 2.7,0.2 2.7,0.3 2.6,0.3 2.7,0.3 2.6,0.3 2.6,0.3 2.6,0.3 2.7,0.4 2.5,0.4 2.6,0.4 2.6,0.4 2.5,0.5 2.6,0.5 2.4,0.5 2.5,0.6 2.4,0.6 2.5,0.7 2.3,0.7 2.4,0.8 2.2,0.8 2.1,0.9 2,1 1.7,1 1.6,1.2 1.3,1.2 1.2,1.3 0.8,1.4 0.6,1.4 0.3,1.3 -0.1,1.4 -0.5,1.4 -0.7,1.3 -1,1.3 -1.2,1.2 -1.3,1.2 -1.4,1.2 -1.5,1.2 -1.5,1.1 -1.7,1.1 -1.7,1 -1.7,1.1 -1.8,1 -1.8,1 -1.9,1 -1.9,1 -1.9,1 -1.9,1 -2,0.9 -2,1 -2,0.9 -2,1 -2.1,0.9 -2,0.9 -2,1 -2,0.9 -2.1,1 -2,0.9 -2.1,1 -2.1,0.9 -2.1,0.9 -2.6,0.4 -2.7,0.5 -3,0.5 -3,0.8 -3.3,0.8 -3.4,1 -3.5,1.2 -3.7,1.3 -3.8,1.4 -3.9,1.6 -4.1,1.7 -4.2,1.8 -4.3,1.8 -4.4,1.8 -4.6,1.8 -4.7,1.8 -4.7,1.7 -4.8,1.6 -4.8,1.4 -4.8,1.4 -4.6,1.2 -4.6,1 -4.3,0.8 -4.1,0.5 -3.9,0.4 -3.7,0.2 -3.7,0.2 -3.8,0.2 -3.7,0.2 -3.7,0.1 -3.8,0.1 -3.7,0.1 -3.8,0 -3.7,0 -3.7-0.1 -3.8,0 -3.7-0.1 -3.7-0.1 -3.7-0.1 -3.8-0.1 -3.7-0.1 -3.7-0.1 -3.8,0 -3.7-0.1 -3.7,0 -3.8,0 -3.7,0 -3.7,0 -3.7,0 -3.8,0 -3.7-0.1 -3.7,0 -3.7-0.1 -3.7-0.1 -3.7-0.1 -3.7-0.1 -3.7-0.1 -3.7-0.2 -3.7-0.1 -3.8-0.2 -3.7-0.1 -3.7-0.2 -3.7-0.2 -3.7-0.2 -3.6-0.2 -3.7-0.2 -3.6-0.2 -3.6-0.2 -3.6-0.2 -3.6-0.3 -3.6-0.3 -3.7-0.3 -3.7-0.3 -3.8-0.4 -3.3-0.8 -1.9-1.4 -0.7-1.9 0.1-1.9 0.7-1.8 1-1.7 1.4-1.6 1.5-1.6 1.5-1.7 1.5-1.6 1.5-1.6 1.5-1.7 1.4-1.6 1.4-1.7 1.5-1.6 1.4-1.7 1.4-1.7 1.3-1.7 1.4-1.7 1.4-1.7 1.4-1.7 1.4-1.7 1.4-1.7 1.4-1.7 1.4-1.7 0.7-0.9M825.5,124.9l1.7-2 1.8-1.9 2-1.9 2-1.8 2.1-1.9 2.2-1.8 2.2-1.8 2.4-1.7 2.4-1.7 2.4-1.8 2.6-1.6 2.7-1.6 2.9-1.5 3.1-1.4 3.1-1.4 3.3-1.3 3.3-1.3 3.3-1.2 3.5-1.1 3.6-1.1 3.7-0.9 3.8-0.7 3.9-0.7 4-0.7 3.9-0.6 4-0.5 3.9-0.5 4-0.5 4-0.5 4-0.3 4.1-0.4 4-0.3 4-0.3 4.1-0.2 4.1-0.3 4-0.2 4.1-0.3 4.1-0.2 4-0.1 4.1-0.2 4.1,0 4-0.1 4.1,0.1 4.1,0 4,0.2 4.1,0.1 4.1,0.2 4,0.3 4.1,0.2 4,0.3 4.1,0.3 4,0.2 4.1,0.3 4,0.2 4.1,0.2 4.1,0.1 4.1,0.1 4.1,0.1 4.1,0.1 3.5,0.2 2.8,0.1 2.8,0.1 2.9,0 2.8-0.1 2.9-0.1 2.8-0.1 2.9,0 2.8,0 2.9,0 2.8,0.1 2.9,0.1 2.8,0.2 2.9,0.2 2.8,0.2 2.9,0.2 2.8,0.2 2.8,0.2 2.8,0.3 2.9,0.2 2.8,0.3 2.8,0.3 2.8,0.3 2.8,0.3 2.8,0.4 2.8,0.4 2.8,0.4 2.7,0.5 2.7,0.5 2.7,0.5 2.6,0.6 2.6,0.7 2.6,0.7 2.6,0.7 2.4,0.8 2.3,0.9 2.1,1 2,1.1 1.7,1.2 1.4,1.3 1.3,1.3 0.9,1.4 0.6,1.4 0.3,1.5 -0.1,1.4 -0.5,1.4 -0.9,1.3 -1.1,1.4 -1.3,1.3 -1.4,1.2 -1.5,1.2 -1.7,1.2 -1.7,1.1 -1.8,1.1 -1.9,1.1 -1.9,1 -2,1.1 -2,1 -2,1 -2.1,1 -2.1,1 -2.1,1 -2.2,0.9 -2.1,1 -2.2,0.9 -2.2,1 -2.2,0.9 -2.2,1 -2.2,0.9 -2.2,1 -2.2,0.9 -2.2,1 -2.3,0.9 -2.2,1 -2.3,0.9 -2.6,0.2 -2.9,0.4 -3.1,0.5 -3.3,0.7 -3.4,0.8 -3.6,1.1 -3.7,1.3 -3.9,1.4 -4.1,1.6 -4.2,1.8 -4.3,2 -4.5,2 -4.7,2.1 -4.8,2.2 -4.9,2.1 -5.1,2.1 -5.2,2 -5.2,1.9 -5.2,1.7 -5.1,1.6 -5.1,1.4 -4.8,1.2 -4.7,0.9 -4.3,0.7 -4,0.3 -3.9,0.3 -3.9,0.2 -3.8,0.1 -3.9,0.2 -3.9,0.1 -3.9,0.1 -3.9,0 -3.8,0 -3.9,0 -3.9-0.1 -3.8-0.1 -3.9-0.2 -3.9-0.1 -3.8-0.1 -3.9-0.2 -3.9-0.1 -3.8-0.1 -3.9-0.1 -3.9-0.1 -3.8,0 -3.9-0.1 -3.9,0 -3.8,0 -3.9-0.1 -3.8-0.1 -3.9-0.1 -3.8-0.1 -3.9-0.1 -3.8-0.1 -3.9-0.1 -3.8-0.2 -3.8-0.2 -3.9-0.2 -3.8-0.2 -3.9-0.2 -3.8-0.2 -3.8-0.2 -3.9-0.2 -3.8-0.2 -3.8-0.3 -3.7-0.2 -3.8-0.3 -3.7-0.2 -3.7-0.3 -3.7-0.2 -3.7-0.3 -3.8-0.4 -3.9-0.4 -3.9-0.4 -3.4-0.8 -1.8-1.6 -0.4-2 0.4-2.1 1-2 1.4-1.8 1.8-1.8 1.9-1.8 2-1.7 1.9-1.8 1.9-1.7 1.9-1.8 1.8-1.7 1.8-1.8 1.8-1.7 1.7-1.8 1.8-1.7 1.7-1.8 1.6-1.7 1.7-1.8 1.7-1.7 1.6-1.8 1.6-1.7 1.6-1.8 1.6-1.7 0.8-0.9" fill="none" stroke="#1f77b4" stroke-width="1.10" stroke-opacity="0.36"/>
<path d="M755.3,344.2 L1028.0,433.0M788.5,353.4 L784.3,356.9M850.7,373.6 L846.6,377.2M914.5,394.4 L910.5,398.1M979.9,415.6 L976.0,419.5M1172.9,284.7 L1028.0,433.0M1037.5,420.2 L1044.4,422.4M1069.5,387.5 L1076.2,389.7M1100.2,356.1 L1106.9,358.2M1129.9,325.8 L1136.5,327.8M1158.4,296.6 L1165.0,298.6M1172.9,284.7 L1182.0,84.9M1172.0,255.4 L1178.5,257.2M1173.9,214.8 L1180.4,216.6M1175.7,173.5 L1182.4,175.3M1177.6,131.4 L1184.4,133.2M1179.6,88.5 L1186.4,90.3" stroke="#000" stroke-width="1.1" fill="none"/>
<g fill="#ff0000"><ellipse cx="875.3" cy="126.4" rx="1.6" ry="1.6"/><ellipse cx="881.0" cy="116.5" rx="1.6" ry="1.6"/><ellipse cx="887.5" cy="111.0" rx="1.6" ry="1.6"/><ellipse cx="893.9" cy="109.5" rx="1.6" ry="1.6"/><ellipse cx="899.8" cy="111.0" rx="1.6" ry="1.6"/><ellipse cx="904.8" cy="113.3" rx="1.6" ry="1.6"/><ellipse cx="909.4" cy="116.9" rx="1.6" ry="1.6"/><ellipse cx="912.8" cy="120.0" rx="1.6" ry="1.6"/><ellipse cx="916.4" cy="122.8" rx="1.6" ry="1.6"/><ellipse cx="919.6" cy="125.9" rx="1.6" ry="1.6"/><ellipse cx="922.1" cy="128.9" rx="1.6" ry="1.6"/><ellipse cx="923.1" cy="132.7" rx="1.6" ry="1.6"/><ellipse cx="922.1" cy="139.0" rx="1.6" ry="1.6"/><ellipse cx="920.6" cy="147.4" rx="1.6" ry="1.6"/><ellipse cx="917.4" cy="160.1" rx="1.6" ry="1.6"/><ellipse cx="913.9" cy="174.4" rx="1.6" ry="1.6"/><ellipse cx="910.1" cy="191.2" rx="1.6" ry="1.6"/><ellipse cx="906.1" cy="209.6" rx="1.6" ry="1.6"/><ellipse cx="902.3" cy="227.5" rx="1.6" ry="1.6"/><ellipse cx="870.7" cy="141.5" rx="1.6" ry="1.6"/><ellipse cx="868.4" cy="160.1" rx="1.6" ry="1.6"/><ellipse cx="867.3" cy="181.1" rx="1.6" ry="1.6"/><ellipse cx="868.4" cy="203.9" rx="1.6" ry="1.6"/><ellipse cx="871.1" cy="225.8" rx="1.6" ry="1.6"/><ellipse cx="898.6" cy="243.4" rx="1.6" ry="1.6"/><ellipse cx="894.7" cy="256.3" rx="1.6" ry="1.6"/><ellipse cx="890.3" cy="263.3" rx="1.6" ry="1.6"/><ellipse cx="885.3" cy="264.0" rx="1.6" ry="1.6"/><ellipse cx="880.3" cy="257.5" rx="1.6" ry="1.6"/><ellipse cx="875.6" cy="244.0" rx="1.6" ry="1.6"/><ellipse cx="1028.9" cy="161.6" rx="1.6" ry="1.6"/><ellipse cx="1034.0" cy="159.8" rx="1.6" ry="1.6"/><ellipse cx="1039.8" cy="160.4" rx="1.6" ry="1.6"/><ellipse cx="1046.5" cy="162.0" rx="1.6" ry="1.6"/><ellipse cx="1053.2" cy="165.2" rx="1.6" ry="1.6"/><ellipse cx="1059.3" cy="172.5" rx="1.6" ry="1.6"/><ellipse cx="1061.7" cy="181.0" rx="1.6" ry="1.6"/><ellipse cx="1062.5" cy="195.6" rx="1.6" ry="1.6"/><ellipse cx="1061.7" cy="213.8" rx="1.6" ry="1.6"/><ellipse cx="1060.5" cy="234.5" rx="1.6" ry="1.6"/><ellipse cx="1058.6" cy="256.4" rx="1.6" ry="1.6"/><ellipse cx="1056.9" cy="278.3" rx="1.6" ry="1.6"/><ellipse cx="1054.4" cy="297.7" rx="1.6" ry="1.6"/><ellipse cx="1053.7" cy="314.7" rx="1.6" ry="1.6"/><ellipse cx="1031.5" cy="165.5" rx="1.6" ry="1.6"/><ellipse cx="1037.4" cy="171.3" rx="1.6" ry="1.6"/><ellipse cx="1043.5" cy="178.6" rx="1.6" ry="1.6"/><ellipse cx="1045.9" cy="185.9" rx="1.6" ry="1.6"/><ellipse cx="1047.1" cy="196.8" rx="1.6" ry="1.6"/><ellipse cx="1048.4" cy="211.4" rx="1.6" ry="1.6"/><ellipse cx="1048.4" cy="228.4" rx="1.6" ry="1.6"/><ellipse cx="1048.8" cy="247.9" rx="1.6" ry="1.6"/><ellipse cx="1049.6" cy="267.3" rx="1.6" ry="1.6"/><ellipse cx="1050.8" cy="286.8" rx="1.6" ry="1.6"/><ellipse cx="1052.0" cy="305.0" rx="1.6" ry="1.6"/><ellipse cx="1055.4" cy="322.8" rx="1.6" ry="1.6"/></g>
<text x="777.0" y="391.5" text-anchor="middle" font-size="22.6" textLength="47.6" lengthAdjust="spacingAndGlyphs">0.79</text>
<text x="839.3" y="412.0" text-anchor="middle" font-size="22.6" textLength="47.6" lengthAdjust="spacingAndGlyphs">0.80</text>
<text x="903.2" y="433.0" text-anchor="middle" font-size="22.6" textLength="47.6" lengthAdjust="spacingAndGlyphs">0.81</text>
<text x="970.0" y="455.0" text-anchor="middle" font-size="22.6" textLength="47.6" lengthAdjust="spacingAndGlyphs">0.82</text>
<text x="1056.3" y="455.0" text-anchor="middle" font-size="22.6" textLength="47.6" lengthAdjust="spacingAndGlyphs">1.25</text>
<text x="1088.0" y="421.9" text-anchor="middle" font-size="22.6" textLength="47.6" lengthAdjust="spacingAndGlyphs">1.30</text>
<text x="1118.3" y="390.2" text-anchor="middle" font-size="22.6" textLength="47.6" lengthAdjust="spacingAndGlyphs">1.35</text>
<text x="1147.8" y="359.7" text-anchor="middle" font-size="22.6" textLength="47.6" lengthAdjust="spacingAndGlyphs">1.40</text>
<text x="1176.7" y="331.3" text-anchor="middle" font-size="22.6" textLength="47.6" lengthAdjust="spacingAndGlyphs">1.45</text>
<text x="1205.8" y="104.9" text-anchor="middle" font-size="22.6" textLength="74.9" lengthAdjust="spacingAndGlyphs">1.5755</text>
<text x="1203.6" y="146.1" text-anchor="middle" font-size="22.6" textLength="74.9" lengthAdjust="spacingAndGlyphs">1.5750</text>
<text x="1201.4" y="188.4" text-anchor="middle" font-size="22.6" textLength="74.9" lengthAdjust="spacingAndGlyphs">1.5745</text>
<text x="1199.8" y="229.6" text-anchor="middle" font-size="22.6" textLength="74.9" lengthAdjust="spacingAndGlyphs">1.5740</text>
<text x="1197.6" y="268.6" text-anchor="middle" font-size="22.6" textLength="74.9" lengthAdjust="spacingAndGlyphs">1.5735</text>
<text x="868.2" y="474.6" text-anchor="middle" font-size="22.5">b</text>
<text x="1137.7" y="433.5" text-anchor="middle" font-size="22.5">d</text>
<clipPath id="cpz"><rect x="1200" y="100" width="70" height="160"/></clipPath>
<g clip-path="url(#cpz)"><text transform="translate(1269.5,178.6) rotate(-87.5)" text-anchor="middle" font-size="22.5" textLength="53" lengthAdjust="spacingAndGlyphs">L2ph</text></g>
<path d="M799.2,560.8V1085.4M937.2,560.8V1085.4M1075.2,560.8V1085.4M1213.2,560.8V1085.4M763.6,1015.4H1233.8M763.6,943.7H1233.8M763.6,872.0H1233.8M763.6,800.3H1233.8M763.6,728.6H1233.8M763.6,656.9H1233.8M763.6,585.2H1233.8" stroke="#b0b0b0" stroke-width="1.1" fill="none"/>
<g fill="#ff0000"><ellipse cx="784.5" cy="692.4" rx="1.7" ry="1.3"/><ellipse cx="786.5" cy="691.2" rx="1.7" ry="1.3"/><ellipse cx="791.4" cy="689.1" rx="1.7" ry="1.3"/><ellipse cx="793.9" cy="685.5" rx="1.7" ry="1.3"/><ellipse cx="800.2" cy="689.1" rx="1.7" ry="1.3"/><ellipse cx="804.3" cy="674.4" rx="1.7" ry="1.3"/><ellipse cx="810.4" cy="693.1" rx="1.7" ry="1.3"/><ellipse cx="817.3" cy="659.4" rx="1.7" ry="1.3"/><ellipse cx="822.0" cy="700.8" rx="1.7" ry="1.3"/><ellipse cx="831.4" cy="640.9" rx="1.7" ry="1.3"/><ellipse cx="833.2" cy="711.4" rx="1.7" ry="1.3"/><ellipse cx="843.7" cy="723.4" rx="1.7" ry="1.3"/><ellipse cx="845.4" cy="622.5" rx="1.7" ry="1.3"/><ellipse cx="853.5" cy="734.9" rx="1.7" ry="1.3"/><ellipse cx="858.2" cy="605.5" rx="1.7" ry="1.3"/><ellipse cx="862.7" cy="744.0" rx="1.7" ry="1.3"/><ellipse cx="869.0" cy="593.1" rx="1.7" ry="1.3"/><ellipse cx="871.8" cy="749.8" rx="1.7" ry="1.3"/><ellipse cx="878.4" cy="586.0" rx="1.7" ry="1.3"/><ellipse cx="881.0" cy="750.9" rx="1.7" ry="1.3"/><ellipse cx="886.0" cy="585.2" rx="1.7" ry="1.3"/><ellipse cx="890.1" cy="747.0" rx="1.7" ry="1.3"/><ellipse cx="892.6" cy="591.1" rx="1.7" ry="1.3"/><ellipse cx="898.3" cy="737.1" rx="1.7" ry="1.3"/><ellipse cx="898.5" cy="604.1" rx="1.7" ry="1.3"/><ellipse cx="903.6" cy="623.1" rx="1.7" ry="1.3"/><ellipse cx="904.8" cy="720.3" rx="1.7" ry="1.3"/><ellipse cx="907.4" cy="646.4" rx="1.7" ry="1.3"/><ellipse cx="908.6" cy="698.0" rx="1.7" ry="1.3"/><ellipse cx="909.2" cy="672.6" rx="1.7" ry="1.3"/><ellipse cx="1141.8" cy="1049.5" rx="1.7" ry="1.3"/><ellipse cx="1144.6" cy="1048.6" rx="1.7" ry="1.3"/><ellipse cx="1148.2" cy="1053.7" rx="1.7" ry="1.3"/><ellipse cx="1153.8" cy="1047.6" rx="1.7" ry="1.3"/><ellipse cx="1156.5" cy="1056.8" rx="1.7" ry="1.3"/><ellipse cx="1165.7" cy="1047.6" rx="1.7" ry="1.3"/><ellipse cx="1165.7" cy="1060.0" rx="1.7" ry="1.3"/><ellipse cx="1173.1" cy="1061.8" rx="1.7" ry="1.3"/><ellipse cx="1178.6" cy="1060.5" rx="1.7" ry="1.3"/><ellipse cx="1179.5" cy="1046.3" rx="1.7" ry="1.3"/><ellipse cx="1182.8" cy="1056.3" rx="1.7" ry="1.3"/><ellipse cx="1184.7" cy="1049.5" rx="1.7" ry="1.3"/><ellipse cx="1185.4" cy="1040.8" rx="1.7" ry="1.3"/><ellipse cx="1186.5" cy="1031.1" rx="1.7" ry="1.3"/><ellipse cx="1188.3" cy="1022.8" rx="1.7" ry="1.3"/><ellipse cx="1191.5" cy="1015.4" rx="1.7" ry="1.3"/><ellipse cx="1192.8" cy="1044.5" rx="1.7" ry="1.3"/><ellipse cx="1194.6" cy="1009.9" rx="1.7" ry="1.3"/><ellipse cx="1198.8" cy="1005.3" rx="1.7" ry="1.3"/><ellipse cx="1203.1" cy="1040.8" rx="1.7" ry="1.3"/><ellipse cx="1203.4" cy="995.2" rx="1.7" ry="1.3"/><ellipse cx="1204.4" cy="997.0" rx="1.7" ry="1.3"/><ellipse cx="1205.6" cy="1001.6" rx="1.7" ry="1.3"/><ellipse cx="1209.0" cy="1009.9" rx="1.7" ry="1.3"/><ellipse cx="1209.9" cy="1034.8" rx="1.7" ry="1.3"/><ellipse cx="1211.7" cy="1018.2" rx="1.7" ry="1.3"/><ellipse cx="1212.3" cy="1026.5" rx="1.7" ry="1.3"/></g>
<rect x="763.6" y="560.8" width="470.2" height="524.6" fill="none" stroke="#000" stroke-width="1.1"/>
<path d="M799.2,1085.4v4.8M937.2,1085.4v4.8M1075.2,1085.4v4.8M1213.2,1085.4v4.8M763.6,1015.4h-4.8M763.6,943.7h-4.8M763.6,872.0h-4.8M763.6,800.3h-4.8M763.6,728.6h-4.8M763.6,656.9h-4.8M763.6,585.2h-4.8" stroke="#000" stroke-width="1.1" fill="none"/>
<text x="799.2" y="1111.1" text-anchor="middle" font-size="22.6" textLength="47.6" lengthAdjust="spacingAndGlyphs">0.79</text>
<text x="937.2" y="1111.1" text-anchor="middle" font-size="22.6" textLength="47.6" lengthAdjust="spacingAndGlyphs">0.80</text>
<text x="1075.2" y="1111.1" text-anchor="middle" font-size="22.6" textLength="47.6" lengthAdjust="spacingAndGlyphs">0.81</text>
<text x="1213.2" y="1111.1" text-anchor="middle" font-size="22.6" textLength="47.6" lengthAdjust="spacingAndGlyphs">0.82</text>
<text x="752.0" y="1023.2" text-anchor="end" font-size="22.6" textLength="61.2" lengthAdjust="spacingAndGlyphs">1.358</text>
<text x="752.0" y="951.5" text-anchor="end" font-size="22.6" textLength="61.2" lengthAdjust="spacingAndGlyphs">1.359</text>
<text x="752.0" y="879.8" text-anchor="end" font-size="22.6" textLength="61.2" lengthAdjust="spacingAndGlyphs">1.360</text>
<text x="752.0" y="808.1" text-anchor="end" font-size="22.6" textLength="61.2" lengthAdjust="spacingAndGlyphs">1.361</text>
<text x="752.0" y="736.4" text-anchor="end" font-size="22.6" textLength="61.2" lengthAdjust="spacingAndGlyphs">1.362</text>
<text x="752.0" y="664.7" text-anchor="end" font-size="22.6" textLength="61.2" lengthAdjust="spacingAndGlyphs">1.363</text>
<text x="752.0" y="593.0" text-anchor="end" font-size="22.6" textLength="61.2" lengthAdjust="spacingAndGlyphs">1.364</text>
<text x="1233.5" y="1137.8" text-anchor="end" font-size="22.5">b</text>
<text transform="translate(682.5,564.3) rotate(-90)" text-anchor="end" font-size="22.5">d</text>
<path d="M161.5,560.8V1085.4M283.7,560.8V1085.4M405.9,560.8V1085.4M528.1,560.8V1085.4M110.6,1055.4H606.5M110.6,941.6H606.5M110.6,827.8H606.5M110.6,714.0H606.5M110.6,600.2H606.5" stroke="#b0b0b0" stroke-width="1.1" fill="none"/>
<g fill="none" stroke="#1f77b4" stroke-width="1.30" stroke-opacity="0.74" stroke-dasharray="1.4 0.9"><path stroke-dashoffset="0.00" d="M160.5,918.3l-1.9-3.7 -2.1-3.8 -2.1-3.9 -2.1-3.8 -2-3.9 -2.1-4 -1.9-3.9 -1.8-3.9 -1.7-3.9 -1.5-3.9 -1.3-3.9 -1.1-3.8 -0.9-3.8 -0.8-3.7 -0.5-3.8 -0.4-3.6 -0.3-3.7 -0.2-3.6 0-3.6 0.1-3.6 0.3-3.5 0.3-3.5 0.5-3.5 0.6-3.4 0.7-3.4 0.8-3.4 1-3.3 1-3.4 1.1-3.3 1.2-3.2 1.3-3.3 1.3-3.2 1.3-3.3 1.4-3.2 1.4-3.2 1.5-3.1 1.6-3.1 1.6-3.1 1.8-3 1.8-2.9 2-2.9 2-2.8 2.2-2.7 2.2-2.7 2.3-2.6 2.4-2.6 2.3-2.6 2.5-2.5 2.4-2.5 2.5-2.4 2.4-2.5 2.6-2.4 2.5-2.4 2.5-2.4 2.6-2.3 2.6-2.3 2.6-2.3 2.7-2.2 2.7-2.2 2.7-2.2 2.7-2.2 2.7-2.1 2.8-2.1 2.8-2.1 2.8-2.1 2.8-2 2.8-2 2.9-2.1 2.8-2 2.9-2 2.8-2 2.9-2 2.8-2 2.9-1.9 2.9-2 2.9-1.9 2.9-1.9 2.9-1.9 3-1.9 2.9-1.8 3-1.8 3-1.7 3-1.7 3.1-1.7 3.1-1.6 3.1-1.6 3.1-1.5 3.1-1.5 3.2-1.5 3.2-1.4 3.2-1.4 3.2-1.4 3.2-1.3 3.2-1.3 3.3-1.3 3.2-1.2 3.3-1.2 3.2-1.2 3.3-1.2 3.3-1.2 3.2-1.2 3.3-1.2 3.2-1.3 3.3-1.2 3.2-1.3 3.3-1.2 3.2-1.3 3.2-1.4 3.2-1.3 3.2-1.4 3.2-1.4 3.2-1.4 3.2-1.4 3.1-1.5 3.2-1.4 3.1-1.5 3.2-1.5 3.1-1.6 3.1-1.5 2.3-0.8 2.3-0.8 2.3-0.9 2.2-1.1 2.1-1.1 2.1-1.1 2.1-1.2 2.1-1.2 2.1-1.3 2-1.3 2.1-1.3 2-1.3 2.1-1.2 2.1-1.3 2.1-1.2 2.1-1.1 2.1-1.2 2.2-1 2.2-1.1 2.2-1 2.2-1 2.2-0.9 2.2-0.9 2.3-0.9 2.3-0.9 2.2-0.9 2.3-0.8 2.3-0.9 2.3-0.8 2.2-0.8 2.3-0.8 2.3-0.8 2.3-0.8 2.3-0.8 2.3-0.7 2.3-0.8 2.3-0.7 2.3-0.8 2.3-0.7 2.3-0.7 2.3-0.7 2.3-0.7 2.4-0.7 2.3-0.6 2.3-0.7 2.4-0.6 2.3-0.6 2.4-0.6 2.3-0.5 2.4-0.5 2.4-0.5 2.4-0.5 2.3-0.4 2.4-0.4 2.4-0.4 2.4-0.3 2.4-0.2 2.4-0.3 2.4-0.2 2.4-0.1 2.5-0.1 2.4-0.1 2.4,0 2.5,0 2.4,0.1 2.4,0.1 2.5,0.2 2.4,0.3 2.4,0.3 2.4,0.4 2.4,0.6 2.3,0.6 2.3,0.7 2.3,0.9 2.2,0.9 2.1,1.1 2.2,1.2 2,1.3 2,1.5 1.9,1.5 1.9,1.6 1.7,1.7 1.7,1.8 1.6,1.9 1.4,1.9 1.4,2.1 1.1,2.1 1.1,2.2 0.8,2.2 0.8,2.3 0.5,2.4 0.4,2.4 0.4,2.4 0.2,2.4 0.1,2.5 0,2.4 0,2.5 -0.2,2.4 -0.1,2.4 -0.2,2.4 -0.3,2.4 -0.4,2.4 -0.4,2.4 -0.4,2.4 -0.4,2.4 -0.6,2.3 -0.5,2.4 -0.6,2.3 -0.6,2.4 -0.6,2.3 -0.6,2.3 -0.7,2.4 -0.7,2.3 -0.7,2.3 -0.7,2.3 -0.7,2.3 -0.8,2.3 -0.8,2.3 -0.7,2.3 -0.8,2.3 -0.8,2.3 -0.9,2.3 -0.8,2.2 -0.9,2.3 -0.9,2.2 -0.8,2.3 -0.9,2.2 -1,2.3 -0.9,2.2 -0.9,2.3 -0.9,2.2 -0.9,2.2 -0.9,2.3 -0.9,2.2 -0.9,2.3 -0.9,2.2 -0.9,2.3 -0.9,2.2 -0.9,2.3 -0.9,2.2 -0.9,2.3 -0.9,2.2 -0.9,2.2 -0.9,2.3 -1,2.2 -0.9,2.2 -1,2.3 -0.9,2.2 -1,2.2 -1.7,1.2 -1.7,1.3 -1.7,1.2 -1.7,1.3 -1.8,1.2 -1.7,1.2 -1.7,1.2 -1.7,1.2 -1.8,1.2 -1.7,1.2 -1.7,1.2 -1.8,1.2 -1.7,1.2 -1.7,1.2 -1.8,1.3 -1.7,1.2 -1.7,1.2 -1.7,1.2 -1.8,1.2 -1.7,1.2 -1.7,1.3 -1.7,1.2 -1.7,1.2 -1.7,1.3 -1.7,1.2 -1.7,1.3 -1.7,1.3 -1.7,1.2 -1.7,1.3 -1.7,1.2 -1.6,1.3 -1.7,1.3 -1.7,1.3 -1.7,1.2 -1.7,1.3 -1.7,1.3 -1.6,1.3 -1.7,1.3 -1.7,1.2 -1.6,1.3 -1.7,1.3 -1.7,1.3 -1.6,1.3 -1.7,1.3 -1.6,1.4 -1.7,1.3 -1.6,1.3 -1.7,1.3 -1.6,1.3 -1.6,1.4 -1.7,1.3 -1.6,1.4 -1.6,1.3 -1.6,1.4 -1.6,1.4 -1.6,1.3 -1.6,1.4 -1.6,1.4 -1.6,1.4 -1.6,1.4 -1.6,1.4 -1.5,1.4 -1.6,1.4 -1.6,1.4 -1.5,1.5 -1.6,1.4 -1.5,1.4 -1.6,1.4 -1.6,1.5 -1.5,1.4 -1.6,1.4 -1.5,1.4 -1.6,1.4 -1.6,1.4 -1.6,1.4 -1.6,1.4 -1.6,1.4 -1.6,1.4 -1.6,1.3 -1.7,1.4 -1.7,1.3 -1.6,1.3 -1.7,1.3 -1.7,1.3 -1.8,1.3 -1.7,1.3 -1.6,1.4 -1.7,1.3 -1.7,1.5 -1.6,1.4 -1.6,1.5 -1.7,1.5 -1.6,1.5 -1.6,1.6 -1.6,1.6 -1.6,1.6 -1.6,1.7 -1.6,1.6 -1.6,1.7 -1.6,1.7 -1.6,1.7 -1.7,1.8 -1.7,1.7 -1.7,1.8 -1.7,1.7 -1.8,1.8 -1.8,1.8 -1.8,1.8 -1.9,1.8 -1.8,1.8 -2,1.8 -2,1.8 -2,1.9 -2,1.8 -2.1,1.9 -2.2,1.8 -2.1,1.9 -2.3,1.9 -2.2,1.9 -2.3,1.9 -2.4,1.9 -2.4,2 -2.4,1.9 -2.5,2 -2.5,2 -2.6,2 -2.6,2 -2.7,2 -2.7,2 -2.8,2.1 -2.8,2 -2.8,2.1 -2.9,2.1 -3,2 -2.9,2.1 -3,2.1 -3.1,2.1 -3.1,2.1 -3.1,2 -3.1,2.1 -3.2,2.1 -3.2,2 -3.3,2 -3.3,2 -3.3,2 -3.3,1.9 -3.4,1.9 -3.3,1.8 -3.4,1.7 -3.3,1.4 -3.2,1.1 -3.1,0.7 -2.9,0.5 -2.8,0.2 -2.7,0.1 -2.5-0.1 -2.3-0.2 -2.2-0.2 -2.1-0.4 -2-0.5 -1.8-0.5 -1.7-0.6 -1.7-0.8 -1.6-0.8 -1.6-0.8 -1.5-0.9 -1.5-1 -1.5-1 -1.5-1.1 -1.4-1.1 -1.5-1.2 -1.5-1.2 -1.5-1.2 -1.6-1.3 -1.5-1.4 -1.6-1.4 -1.6-1.4 -1.6-1.5 -1.7-1.5 -1.7-1.6 -1.7-1.6 -1.8-1.7 -1.8-1.8 -1.8-1.8 -1.8-1.8 -1.9-1.9 -1.9-2 -1.9-2.1 -1.9-2.1 -1.9-2.2 -2-2.3 -1.9-2.3 -2-2.5 -1.9-2.5 -1.9-2.6 -2-2.6 -1.9-2.8 -1.8-2.8 -1.9-2.9"/><path stroke-dashoffset="0.37" d="M151,915.8l-1.9-3.8 -1.9-3.8 -1.9-3.8 -1.8-3.8 -1.7-3.9 -1.5-3.8 -1.4-3.8 -1.2-3.8 -1-3.8 -0.9-3.7 -0.7-3.7 -0.5-3.6 -0.3-3.6 -0.2-3.6 -0.1-3.6 0.1-3.5 0.1-3.5 0.3-3.5 0.3-3.5 0.4-3.5 0.4-3.4 0.6-3.4 0.7-3.4 0.7-3.4 0.9-3.3 1-3.4 1-3.3 1.1-3.2 1.2-3.3 1.3-3.2 1.3-3.3 1.3-3.2 1.4-3.2 1.4-3.2 1.4-3.2 1.5-3.1 1.6-3.2 1.6-3 1.7-3 1.9-2.9 1.9-2.9 2.1-2.8 2.1-2.7 2.2-2.7 2.3-2.6 2.4-2.6 2.3-2.6 2.4-2.5 2.5-2.5 2.4-2.5 2.5-2.4 2.5-2.4 2.5-2.4 2.6-2.4 2.5-2.3 2.6-2.3 2.6-2.3 2.7-2.2 2.6-2.3 2.7-2.1 2.8-2.2 2.7-2.1 2.7-2.1 2.8-2.1 2.8-2.1 2.8-2.1 2.8-2 2.8-2 2.9-2 2.8-2.1 2.9-2 2.8-2 2.9-1.9 2.8-2 2.9-2 2.9-1.9 2.9-1.9 2.9-1.9 2.9-1.9 3-1.8 2.9-1.8 3-1.7 3.1-1.7 3-1.7 3.1-1.6 3.1-1.6 3.1-1.5 3.1-1.6 3.2-1.4 3.1-1.5 3.2-1.4 3.2-1.3 3.2-1.4 3.2-1.3 3.3-1.3 3.2-1.2 3.2-1.2 3.3-1.3 3.2-1.2 3.3-1.2 3.3-1.2 3.2-1.2 3.3-1.2 3.2-1.3 3.2-1.2 3.3-1.3 3.2-1.3 3.2-1.3 3.2-1.4 3.2-1.4 3.2-1.4 3.1-1.4 3.2-1.4 3.2-1.5 3.1-1.4 3.1-1.5 3.2-1.5 3.1-1.5 3.1-1.6 2.3-0.7 2.3-0.8 2.3-1 2.1-1 2.2-1.1 2.1-1.1 2.1-1.2 2.1-1.2 2-1.3 2.1-1.2 2-1.3 2.1-1.3 2-1.2 2.1-1.3 2.1-1.2 2.1-1.1 2.1-1.1 2.2-1.1 2.2-1 2.2-1 2.2-1 2.2-0.9 2.2-0.9 2.3-0.9 2.2-0.9 2.3-0.9 2.3-0.8 2.2-0.8 2.3-0.8 2.3-0.8 2.3-0.8 2.2-0.8 2.3-0.8 2.3-0.7 2.3-0.8 2.3-0.8 2.3-0.7 2.3-0.7 2.3-0.7 2.3-0.7 2.3-0.7 2.3-0.7 2.3-0.6 2.3-0.7 2.3-0.6 2.4-0.6 2.3-0.6 2.4-0.6 2.3-0.5 2.4-0.5 2.3-0.5 2.4-0.4 2.3-0.4 2.4-0.4 2.4-0.4 2.4-0.3 2.4-0.2 2.4-0.2 2.4-0.2 2.4-0.2 2.4-0.1 2.4,0 2.4,0 2.4,0 2.5,0.1 2.4,0.1 2.4,0.2 2.4,0.3 2.4,0.3 2.4,0.5 2.4,0.5 2.3,0.6 2.3,0.8 2.2,0.8 2.2,1 2.2,1.1 2.1,1.2 2,1.3 2,1.4 1.9,1.5 1.9,1.6 1.7,1.7 1.7,1.8 1.5,1.9 1.5,2 1.3,2 1.2,2.1 1,2.2 0.9,2.2 0.7,2.3 0.6,2.4 0.4,2.3 0.3,2.5 0.2,2.4 0.1,2.4 0.1,2.5 -0.1,2.4 -0.1,2.4 -0.1,2.4 -0.2,2.4 -0.3,2.4 -0.4,2.4 -0.3,2.4 -0.4,2.3 -0.5,2.4 -0.5,2.4 -0.5,2.3 -0.6,2.4 -0.6,2.3 -0.6,2.3 -0.6,2.3 -0.7,2.4 -0.7,2.3 -0.7,2.3 -0.7,2.3 -0.7,2.3 -0.7,2.3 -0.8,2.3 -0.7,2.3 -0.8,2.2 -0.8,2.3 -0.8,2.3 -0.9,2.2 -0.8,2.3 -0.9,2.2 -0.9,2.3 -0.9,2.2 -0.9,2.3 -0.9,2.2 -0.9,2.2 -0.9,2.3 -0.9,2.2 -0.9,2.2 -0.8,2.3 -0.9,2.2 -0.9,2.2 -0.9,2.3 -0.9,2.2 -0.9,2.3 -0.9,2.2 -0.9,2.2 -0.9,2.3 -0.9,2.2 -0.9,2.2 -0.9,2.3 -0.9,2.2 -1,2.2 -0.9,2.2 -1,2.2 -1.7,1.3 -1.7,1.3 -1.7,1.2 -1.7,1.3 -1.7,1.2 -1.7,1.2 -1.7,1.3 -1.7,1.2 -1.8,1.2 -1.7,1.2 -1.7,1.2 -1.7,1.3 -1.8,1.2 -1.7,1.2 -1.7,1.2 -1.7,1.2 -1.7,1.3 -1.8,1.2 -1.7,1.2 -1.7,1.3 -1.7,1.2 -1.7,1.3 -1.7,1.2 -1.7,1.3 -1.7,1.2 -1.7,1.3 -1.7,1.3 -1.7,1.3 -1.7,1.2 -1.7,1.3 -1.7,1.3 -1.7,1.3 -1.7,1.2 -1.6,1.3 -1.7,1.3 -1.7,1.3 -1.7,1.3 -1.7,1.3 -1.7,1.3 -1.6,1.3 -1.7,1.3 -1.7,1.3 -1.6,1.3 -1.7,1.3 -1.7,1.3 -1.6,1.3 -1.7,1.4 -1.6,1.3 -1.7,1.3 -1.6,1.4 -1.6,1.3 -1.7,1.4 -1.6,1.3 -1.6,1.4 -1.6,1.4 -1.6,1.3 -1.6,1.4 -1.6,1.4 -1.6,1.4 -1.6,1.4 -1.6,1.4 -1.6,1.4 -1.6,1.4 -1.5,1.5 -1.6,1.4 -1.6,1.4 -1.5,1.4 -1.6,1.4 -1.6,1.5 -1.6,1.4 -1.5,1.5 -1.6,1.4 -1.6,1.4 -1.6,1.5 -1.6,1.4 -1.6,1.4 -1.7,1.4 -1.6,1.5 -1.7,1.4 -1.7,1.4 -1.7,1.3 -1.7,1.4 -1.8,1.4 -1.8,1.4 -1.7,1.4 -1.8,1.4 -1.7,1.4 -1.8,1.5 -1.7,1.5 -1.7,1.5 -1.7,1.6 -1.7,1.6 -1.7,1.7 -1.7,1.7 -1.7,1.7 -1.7,1.7 -1.7,1.8 -1.7,1.8 -1.8,1.8 -1.7,1.8 -1.8,1.9 -1.8,1.9 -1.8,1.8 -1.8,1.9 -1.9,2 -1.9,1.9 -2,1.9 -2,1.9 -2,2 -2.1,1.9 -2.1,2 -2.1,2 -2.2,1.9 -2.3,2 -2.2,2 -2.4,2.1 -2.3,2 -2.5,2 -2.4,2.1 -2.5,2 -2.6,2.1 -2.6,2.1 -2.6,2.1 -2.7,2.1 -2.8,2.1 -2.8,2.2 -2.8,2.1 -2.9,2.2 -2.9,2.1 -3,2.2 -3,2.2 -3.1,2.2 -3.1,2.2 -3.1,2.2 -3.2,2.2 -3.2,2.2 -3.2,2.2 -3.3,2.2 -3.3,2.2 -3.4,2.1 -3.4,2.2 -3.4,2.1 -3.4,2.1 -3.5,2.1 -3.5,2.1 -3.5,2 -3.6,2 -3.6,1.9 -3.5,1.7 -3.5,1.4 -3.3,1 -3.3,0.6 -3,0.2 -2.9,0 -2.8-0.2 -2.5-0.3 -2.4-0.4 -2.2-0.6 -2-0.6 -2-0.7 -1.8-0.9 -1.7-0.9 -1.6-0.9 -1.5-1.1 -1.5-1.1 -1.5-1.2 -1.4-1.2 -1.5-1.3 -1.4-1.4 -1.5-1.3 -1.4-1.5 -1.5-1.4 -1.4-1.6 -1.5-1.5 -1.5-1.6 -1.6-1.7 -1.6-1.7 -1.6-1.7 -1.6-1.8 -1.7-1.9 -1.6-1.9 -1.8-1.9 -1.7-2 -1.8-2.1 -1.8-2.1 -1.8-2.2 -1.8-2.2 -1.8-2.4 -1.9-2.4 -1.8-2.4 -1.8-2.5 -1.9-2.6 -1.8-2.7 -1.8-2.8 -1.8-2.8 -1.7-2.9 -1.7-2.9 -1.7-3 -1.7-3.1"/><path stroke-dashoffset="0.74" d="M143.1,913.7l-1.7-3.7 -1.5-3.8 -1.4-3.7 -1.3-3.7 -1.1-3.7 -0.9-3.7 -0.7-3.7 -0.6-3.6 -0.4-3.5 -0.2-3.6 -0.1-3.5 0.1-3.5 0.2-3.4 0.2-3.4 0.3-3.5 0.4-3.4 0.5-3.4 0.5-3.4 0.5-3.4 0.6-3.4 0.6-3.3 0.7-3.4 0.8-3.3 0.8-3.4 1-3.3 1-3.2 1.1-3.3 1.2-3.3 1.2-3.2 1.3-3.2 1.3-3.2 1.4-3.2 1.4-3.2 1.4-3.2 1.4-3.2 1.5-3.1 1.5-3.1 1.6-3.1 1.7-3 1.9-2.9 1.9-2.8 2-2.8 2.1-2.8 2.2-2.6 2.3-2.7 2.3-2.6 2.3-2.5 2.4-2.5 2.4-2.5 2.5-2.5 2.4-2.5 2.5-2.4 2.5-2.4 2.5-2.3 2.5-2.4 2.6-2.3 2.6-2.3 2.6-2.2 2.6-2.2 2.7-2.2 2.7-2.2 2.7-2.1 2.7-2.2 2.8-2.1 2.7-2 2.8-2.1 2.8-2 2.8-2.1 2.8-2 2.8-2 2.8-2 2.8-2 2.8-2 2.9-2 2.8-2 2.9-1.9 2.9-2 2.8-1.9 2.9-1.8 3-1.9 2.9-1.8 3-1.7 3-1.7 3-1.7 3-1.7 3.1-1.6 3.1-1.5 3.1-1.5 3.1-1.5 3.1-1.5 3.2-1.4 3.1-1.4 3.2-1.4 3.2-1.3 3.2-1.3 3.2-1.3 3.2-1.2 3.2-1.3 3.3-1.2 3.2-1.2 3.2-1.2 3.2-1.3 3.3-1.2 3.2-1.3 3.2-1.2 3.2-1.3 3.2-1.4 3.2-1.3 3.2-1.4 3.1-1.3 3.2-1.4 3.1-1.4 3.2-1.5 3.1-1.4 3.2-1.5 3.1-1.5 3.1-1.4 3.2-1.5 3.1-1.5 2.3-0.8 2.2-0.8 2.3-0.9 2.1-1 2.2-1.1 2.1-1.1 2-1.1 2.1-1.2 2-1.3 2.1-1.2 2-1.2 2-1.3 2.1-1.2 2-1.2 2.1-1.1 2.1-1.1 2.1-1.1 2.2-1.1 2.1-1 2.2-0.9 2.2-1 2.2-0.9 2.2-0.8 2.2-0.9 2.3-0.8 2.2-0.9 2.3-0.8 2.2-0.8 2.3-0.7 2.2-0.8 2.3-0.8 2.2-0.7 2.3-0.8 2.3-0.7 2.2-0.7 2.3-0.8 2.2-0.7 2.3-0.6 2.3-0.7 2.3-0.7 2.2-0.6 2.3-0.7 2.3-0.6 2.3-0.6 2.3-0.6 2.3-0.6 2.3-0.5 2.3-0.5 2.4-0.5 2.3-0.5 2.3-0.4 2.3-0.4 2.4-0.4 2.3-0.4 2.4-0.3 2.3-0.2 2.4-0.3 2.3-0.1 2.4-0.2 2.4-0.1 2.4-0.1 2.3,0 2.4,0 2.4,0.1 2.4,0.1 2.4,0.1 2.4,0.2 2.4,0.3 2.3,0.4 2.4,0.4 2.3,0.6 2.3,0.6 2.2,0.8 2.3,0.8 2.1,1 2.2,1.1 2,1.2 2.1,1.3 1.9,1.4 1.9,1.5 1.8,1.6 1.7,1.7 1.7,1.8 1.5,1.9 1.5,1.9 1.3,2 1.1,2.1 1.1,2.2 0.8,2.2 0.7,2.3 0.6,2.3 0.4,2.3 0.4,2.4 0.2,2.4 0.1,2.4 0.1,2.5 0,2.4 -0.1,2.4 -0.2,2.3 -0.2,2.4 -0.2,2.4 -0.3,2.3 -0.4,2.4 -0.4,2.3 -0.4,2.4 -0.5,2.3 -0.5,2.3 -0.5,2.4 -0.6,2.3 -0.6,2.3 -0.6,2.3 -0.6,2.3 -0.7,2.3 -0.6,2.3 -0.7,2.2 -0.7,2.3 -0.7,2.3 -0.7,2.3 -0.7,2.2 -0.8,2.3 -0.8,2.2 -0.8,2.3 -0.8,2.2 -0.8,2.2 -0.8,2.3 -0.9,2.2 -0.8,2.2 -0.9,2.2 -0.9,2.2 -0.8,2.3 -0.9,2.2 -0.9,2.2 -0.8,2.2 -0.9,2.2 -0.9,2.3 -0.8,2.2 -0.9,2.2 -0.8,2.2 -0.9,2.2 -0.9,2.3 -0.8,2.2 -0.9,2.2 -0.9,2.2 -0.9,2.2 -0.9,2.2 -0.9,2.2 -0.9,2.2 -0.9,2.2 -1,2.2 -1.6,1.3 -1.7,1.3 -1.6,1.3 -1.7,1.3 -1.6,1.3 -1.7,1.3 -1.7,1.3 -1.7,1.2 -1.7,1.3 -1.7,1.3 -1.7,1.2 -1.7,1.3 -1.7,1.2 -1.7,1.3 -1.7,1.3 -1.7,1.2 -1.8,1.3 -1.7,1.3 -1.7,1.2 -1.7,1.3 -1.7,1.3 -1.7,1.3 -1.7,1.3 -1.7,1.3 -1.7,1.3 -1.7,1.3 -1.7,1.3 -1.7,1.3 -1.7,1.3 -1.7,1.3 -1.7,1.3 -1.7,1.3 -1.7,1.3 -1.7,1.3 -1.7,1.3 -1.7,1.3 -1.7,1.3 -1.7,1.3 -1.7,1.3 -1.6,1.3 -1.7,1.4 -1.7,1.3 -1.7,1.3 -1.7,1.3 -1.7,1.4 -1.7,1.3 -1.6,1.3 -1.7,1.4 -1.7,1.3 -1.6,1.4 -1.7,1.3 -1.6,1.4 -1.7,1.4 -1.6,1.3 -1.7,1.4 -1.6,1.4 -1.6,1.4 -1.6,1.4 -1.7,1.4 -1.6,1.4 -1.6,1.4 -1.6,1.4 -1.6,1.4 -1.6,1.5 -1.6,1.4 -1.6,1.4 -1.6,1.4 -1.6,1.5 -1.6,1.4 -1.6,1.4 -1.6,1.5 -1.6,1.4 -1.7,1.5 -1.6,1.5 -1.7,1.4 -1.6,1.5 -1.7,1.4 -1.7,1.5 -1.7,1.5 -1.8,1.4 -1.8,1.5 -1.8,1.4 -1.8,1.4 -1.8,1.5 -1.8,1.5 -1.9,1.5 -1.8,1.5 -1.8,1.6 -1.8,1.6 -1.9,1.6 -1.8,1.7 -1.8,1.7 -1.8,1.8 -1.8,1.8 -1.8,1.8 -1.8,1.8 -1.8,1.9 -1.9,1.9 -1.8,2 -1.9,1.9 -1.9,2 -1.9,2 -2,2 -2,2 -2,2 -2.1,2.1 -2.1,2 -2.2,2.1 -2.2,2.1 -2.2,2.1 -2.3,2 -2.3,2.1 -2.4,2.2 -2.4,2.1 -2.5,2.1 -2.5,2.1 -2.6,2.2 -2.6,2.2 -2.7,2.1 -2.7,2.2 -2.7,2.2 -2.8,2.2 -2.9,2.3 -2.9,2.2 -2.9,2.2 -3,2.3 -3,2.2 -3.1,2.3 -3.2,2.3 -3.1,2.3 -3.2,2.3 -3.3,2.2 -3.3,2.3 -3.3,2.3 -3.3,2.3 -3.4,2.3 -3.4,2.3 -3.5,2.2 -3.5,2.3 -3.5,2.2 -3.5,2.3 -3.6,2.2 -3.6,2.1 -3.7,2.2 -3.6,2.1 -3.8,2.1 -3.7,2 -3.7,2 -3.8,1.7 -3.6,1.4 -3.5,0.9 -3.3,0.4 -3.2,0 -3-0.3 -2.8-0.5 -2.5-0.6 -2.4-0.7 -2.2-0.8 -2-0.9 -1.9-1 -1.8-1.1 -1.6-1.2 -1.6-1.2 -1.4-1.4 -1.5-1.4 -1.4-1.4 -1.4-1.5 -1.4-1.6 -1.4-1.6 -1.4-1.6 -1.4-1.7 -1.5-1.8 -1.4-1.8 -1.5-1.8 -1.4-1.9 -1.5-1.9 -1.6-2 -1.5-2 -1.6-2.1 -1.6-2.1 -1.6-2.1 -1.6-2.3 -1.7-2.2 -1.6-2.4 -1.7-2.4 -1.7-2.4 -1.7-2.6 -1.6-2.5 -1.7-2.7 -1.6-2.7 -1.7-2.8 -1.6-2.8 -1.5-2.9 -1.6-2.9 -1.5-3 -1.4-3.1 -1.5-3.1 -1.3-3.1 -1.3-3.2"/><path stroke-dashoffset="1.11" d="M137.6,912.3l-1.1-3.7 -1-3.6 -0.8-3.6 -0.6-3.5 -0.4-3.5 -0.2-3.5 0-3.5 0-3.4 0.3-3.4 0.3-3.3 0.4-3.4 0.5-3.3 0.5-3.3 0.6-3.3 0.6-3.4 0.6-3.3 0.6-3.3 0.6-3.3 0.7-3.4 0.6-3.3 0.7-3.3 0.8-3.4 0.8-3.3 0.8-3.3 1-3.2 1-3.3 1.2-3.2 1.2-3.3 1.2-3.2 1.3-3.2 1.3-3.1 1.3-3.2 1.4-3.2 1.4-3.2 1.4-3.1 1.4-3.1 1.5-3.1 1.6-3.1 1.7-3 1.8-2.9 1.9-2.8 2-2.8 2.1-2.7 2.1-2.7 2.2-2.7 2.3-2.5 2.3-2.6 2.4-2.5 2.3-2.5 2.4-2.5 2.4-2.5 2.4-2.4 2.4-2.4 2.5-2.4 2.5-2.3 2.5-2.3 2.6-2.3 2.5-2.3 2.6-2.2 2.7-2.2 2.6-2.2 2.7-2.2 2.7-2.1 2.7-2.1 2.7-2.1 2.7-2.1 2.8-2 2.7-2.1 2.8-2 2.7-2 2.8-2.1 2.8-2 2.8-2 2.7-2 2.8-2 2.9-1.9 2.8-2 2.8-1.9 2.9-1.9 2.9-1.8 2.9-1.9 2.9-1.7 2.9-1.8 3-1.7 3-1.6 3-1.7 3-1.6 3.1-1.5 3-1.5 3.1-1.5 3.1-1.5 3.1-1.4 3.1-1.4 3.2-1.3 3.1-1.4 3.2-1.3 3.2-1.3 3.1-1.2 3.2-1.3 3.2-1.3 3.2-1.2 3.2-1.3 3.1-1.2 3.2-1.3 3.2-1.3 3.2-1.3 3.1-1.4 3.2-1.3 3.1-1.4 3.2-1.4 3.1-1.4 3.1-1.4 3.2-1.4 3.1-1.5 3.1-1.4 3.1-1.5 3.1-1.4 3.1-1.5 3.1-1.5 2.3-0.7 2.3-0.8 2.1-0.9 2.2-1 2.1-1 2.1-1 2-1.1 2.1-1.2 2-1.2 2-1.1 2-1.2 2-1.2 2-1.1 2.1-1.2 2-1.1 2.1-1 2.1-1.1 2.1-0.9 2.1-1 2.2-0.9 2.1-0.9 2.2-0.8 2.2-0.9 2.2-0.8 2.2-0.8 2.2-0.8 2.2-0.7 2.2-0.8 2.3-0.7 2.2-0.7 2.2-0.7 2.2-0.7 2.3-0.7 2.2-0.7 2.2-0.7 2.2-0.7 2.3-0.6 2.2-0.6 2.2-0.6 2.3-0.6 2.2-0.6 2.2-0.6 2.3-0.6 2.2-0.5 2.3-0.5 2.2-0.6 2.3-0.4 2.3-0.5 2.2-0.4 2.3-0.5 2.3-0.3 2.3-0.4 2.3-0.3 2.3-0.3 2.3-0.2 2.3-0.3 2.3-0.1 2.3-0.2 2.3-0.1 2.3,0 2.3-0.1 2.4,0.1 2.3,0 2.3,0.1 2.4,0.1 2.3,0.2 2.3,0.3 2.4,0.3 2.3,0.4 2.3,0.5 2.2,0.6 2.3,0.6 2.2,0.8 2.1,0.9 2.2,0.9 2,1.1 2.1,1.2 1.9,1.4 1.9,1.4 1.9,1.4 1.8,1.6 1.7,1.7 1.6,1.8 1.5,1.8 1.4,1.9 1.3,2 1.1,2.1 1.1,2.1 0.8,2.2 0.7,2.2 0.6,2.3 0.5,2.3 0.3,2.3 0.2,2.4 0.2,2.4 0.1,2.3 0,2.4 -0.1,2.4 -0.1,2.3 -0.2,2.3 -0.2,2.4 -0.3,2.3 -0.3,2.3 -0.3,2.3 -0.4,2.3 -0.4,2.3 -0.5,2.3 -0.5,2.3 -0.5,2.2 -0.6,2.3 -0.5,2.3 -0.6,2.2 -0.6,2.3 -0.6,2.2 -0.6,2.3 -0.7,2.2 -0.6,2.3 -0.7,2.2 -0.7,2.2 -0.7,2.3 -0.7,2.2 -0.8,2.2 -0.7,2.2 -0.8,2.2 -0.8,2.2 -0.8,2.2 -0.8,2.2 -0.8,2.2 -0.8,2.1 -0.8,2.2 -0.9,2.2 -0.8,2.2 -0.8,2.2 -0.8,2.2 -0.8,2.2 -0.8,2.2 -0.9,2.2 -0.8,2.2 -0.8,2.1 -0.8,2.2 -0.8,2.2 -0.9,2.2 -0.8,2.2 -0.9,2.2 -0.8,2.2 -0.9,2.1 -0.9,2.2 -0.9,2.2 -0.9,2.2 -1.5,1.3 -1.6,1.4 -1.6,1.4 -1.6,1.3 -1.6,1.4 -1.7,1.3 -1.6,1.4 -1.6,1.3 -1.7,1.4 -1.7,1.3 -1.6,1.3 -1.7,1.3 -1.7,1.4 -1.7,1.3 -1.7,1.3 -1.6,1.4 -1.7,1.3 -1.7,1.3 -1.7,1.4 -1.7,1.3 -1.7,1.3 -1.7,1.4 -1.7,1.3 -1.7,1.4 -1.7,1.3 -1.7,1.4 -1.7,1.3 -1.7,1.4 -1.7,1.3 -1.7,1.4 -1.7,1.3 -1.7,1.3 -1.8,1.4 -1.7,1.3 -1.7,1.4 -1.7,1.3 -1.7,1.3 -1.8,1.4 -1.7,1.3 -1.7,1.4 -1.7,1.3 -1.7,1.4 -1.8,1.3 -1.7,1.4 -1.7,1.3 -1.7,1.4 -1.7,1.3 -1.7,1.4 -1.7,1.3 -1.7,1.4 -1.7,1.4 -1.7,1.4 -1.7,1.4 -1.6,1.3 -1.7,1.4 -1.7,1.4 -1.6,1.4 -1.7,1.4 -1.7,1.5 -1.6,1.4 -1.7,1.4 -1.6,1.4 -1.7,1.4 -1.6,1.5 -1.7,1.4 -1.6,1.4 -1.7,1.4 -1.6,1.5 -1.7,1.4 -1.6,1.4 -1.7,1.5 -1.6,1.5 -1.7,1.5 -1.7,1.4 -1.7,1.5 -1.8,1.5 -1.7,1.5 -1.8,1.5 -1.8,1.5 -1.8,1.5 -1.9,1.5 -1.8,1.5 -1.9,1.5 -1.9,1.6 -2,1.5 -1.9,1.6 -1.9,1.6 -1.9,1.7 -1.9,1.6 -1.9,1.8 -2,1.8 -1.9,1.8 -1.9,1.8 -1.9,1.9 -1.9,1.9 -2,2 -1.9,2 -2,2 -2,2 -2,2.1 -2.1,2.1 -2.1,2.1 -2.1,2.1 -2.2,2.1 -2.2,2.1 -2.2,2.2 -2.3,2.1 -2.3,2.2 -2.4,2.2 -2.4,2.2 -2.4,2.2 -2.5,2.2 -2.6,2.2 -2.6,2.2 -2.6,2.3 -2.7,2.2 -2.8,2.2 -2.8,2.3 -2.8,2.3 -2.9,2.3 -3,2.3 -2.9,2.3 -3.1,2.3 -3.1,2.3 -3.1,2.3 -3.2,2.4 -3.2,2.3 -3.2,2.4 -3.3,2.3 -3.4,2.4 -3.3,2.3 -3.4,2.4 -3.5,2.3 -3.5,2.4 -3.5,2.3 -3.5,2.3 -3.6,2.4 -3.5,2.3 -3.7,2.3 -3.6,2.2 -3.7,2.3 -3.7,2.2 -3.8,2.2 -3.7,2.2 -3.9,2.1 -3.8,2.2 -3.9,2 -3.9,2 -3.8,1.7 -3.8,1.3 -3.6,0.8 -3.5,0.2 -3.2-0.2 -3-0.6 -2.8-0.8 -2.6-0.8 -2.3-1 -2.2-1.1 -2-1.2 -1.8-1.3 -1.7-1.4 -1.6-1.5 -1.5-1.5 -1.4-1.6 -1.4-1.7 -1.3-1.7 -1.4-1.8 -1.3-1.8 -1.4-1.9 -1.3-1.9 -1.4-2 -1.3-2 -1.4-2.1 -1.4-2.1 -1.4-2.1 -1.4-2.2 -1.4-2.3 -1.5-2.3 -1.4-2.3 -1.5-2.4 -1.5-2.4 -1.5-2.5 -1.4-2.6 -1.5-2.6 -1.5-2.6 -1.4-2.8 -1.5-2.7 -1.4-2.8 -1.4-2.9 -1.3-2.9 -1.3-3 -1.3-3 -1.2-3 -1.2-3.1 -1.1-3.1 -1-3.2 -1.1-3.1 -0.9-3.2 -0.9-3.2"/><path stroke-dashoffset="1.48" d="M135.4,911.7l-0.4-3.5 -0.3-3.4 0-3.4 0.1-3.3 0.3-3.3 0.4-3.3 0.5-3.3 0.7-3.2 0.7-3.2 0.7-3.3 0.7-3.2 0.8-3.2 0.7-3.2 0.8-3.3 0.7-3.2 0.6-3.3 0.7-3.3 0.6-3.3 0.6-3.3 0.7-3.3 0.7-3.3 0.7-3.3 0.7-3.3 0.9-3.3 0.9-3.2 1-3.3 1.1-3.2 1.2-3.2 1.2-3.2 1.2-3.1 1.3-3.2 1.3-3.2 1.4-3.1 1.3-3.1 1.4-3.2 1.4-3.1 1.5-3.1 1.5-3 1.7-3 1.7-2.9 1.9-2.8 1.9-2.8 2-2.7 2.1-2.7 2.2-2.6 2.2-2.6 2.3-2.6 2.2-2.5 2.3-2.5 2.3-2.5 2.4-2.5 2.3-2.4 2.4-2.5 2.4-2.3 2.4-2.4 2.5-2.3 2.5-2.3 2.5-2.3 2.5-2.2 2.6-2.3 2.6-2.2 2.6-2.1 2.6-2.2 2.7-2.1 2.6-2.1 2.7-2.1 2.7-2.1 2.7-2 2.7-2.1 2.7-2 2.7-2.1 2.7-2 2.7-2.1 2.7-2 2.8-2 2.7-2 2.8-1.9 2.8-1.9 2.8-2 2.8-1.8 2.8-1.9 2.9-1.8 2.9-1.8 2.9-1.7 2.9-1.7 2.9-1.7 3-1.6 3-1.6 3-1.5 3-1.6 3-1.5 3.1-1.4 3-1.5 3.1-1.4 3.1-1.4 3.1-1.3 3.1-1.3 3.1-1.4 3.1-1.3 3.1-1.3 3.1-1.3 3.2-1.2 3.1-1.4 3.1-1.3 3.1-1.3 3.2-1.3 3.1-1.4 3.1-1.4 3.1-1.4 3.1-1.4 3.1-1.4 3.1-1.4 3.1-1.4 3.1-1.4 3.1-1.5 3.1-1.4 3.1-1.4 3.1-1.5 3-1.4 2.3-0.7 2.2-0.8 2.1-0.8 2.1-0.9 2.1-1 2.1-1 2-1 2-1.1 2-1.1 2-1.1 1.9-1.1 2-1.1 2-1.1 2-1 2-1.1 2.1-0.9 2-1 2.1-0.9 2.1-0.9 2.1-0.8 2.1-0.8 2.2-0.8 2.1-0.8 2.2-0.7 2.1-0.8 2.2-0.7 2.2-0.7 2.1-0.7 2.2-0.6 2.2-0.7 2.2-0.7 2.2-0.6 2.1-0.6 2.2-0.6 2.2-0.6 2.2-0.6 2.1-0.6 2.2-0.5 2.2-0.6 2.2-0.5 2.1-0.5 2.2-0.5 2.2-0.5 2.2-0.4 2.2-0.5 2.2-0.4 2.2-0.4 2.2-0.4 2.2-0.3 2.2-0.4 2.2-0.3 2.2-0.3 2.3-0.2 2.2-0.2 2.2-0.2 2.2-0.1 2.3-0.1 2.2-0.1 2.3-0.1 2.2,0 2.3,0.1 2.2,0.1 2.3,0.1 2.2,0.1 2.3,0.2 2.3,0.3 2.2,0.3 2.3,0.3 2.2,0.5 2.2,0.5 2.2,0.6 2.2,0.7 2.1,0.7 2.1,0.9 2.1,1 2,1.1 2,1.2 1.9,1.3 1.8,1.4 1.8,1.5 1.7,1.6 1.7,1.6 1.5,1.8 1.5,1.8 1.4,1.8 1.3,2 1.1,2 1,2.1 0.8,2.1 0.8,2.2 0.5,2.2 0.5,2.3 0.4,2.3 0.2,2.3 0.2,2.3 0.1,2.3 0.1,2.3 0,2.3 -0.1,2.3 -0.1,2.3 -0.2,2.2 -0.2,2.3 -0.3,2.3 -0.3,2.2 -0.3,2.3 -0.4,2.2 -0.4,2.3 -0.4,2.2 -0.5,2.2 -0.5,2.2 -0.5,2.3 -0.5,2.2 -0.5,2.2 -0.6,2.2 -0.5,2.2 -0.6,2.2 -0.6,2.2 -0.6,2.2 -0.6,2.1 -0.7,2.2 -0.6,2.2 -0.7,2.2 -0.7,2.1 -0.7,2.2 -0.7,2.1 -0.7,2.2 -0.8,2.1 -0.7,2.2 -0.8,2.1 -0.7,2.2 -0.8,2.1 -0.8,2.2 -0.7,2.1 -0.8,2.2 -0.7,2.1 -0.8,2.2 -0.7,2.1 -0.8,2.2 -0.7,2.1 -0.8,2.2 -0.8,2.1 -0.8,2.2 -0.7,2.1 -0.8,2.2 -0.8,2.1 -0.9,2.1 -0.8,2.2 -0.8,2.1 -0.9,2.1 -1.5,1.5 -1.4,1.5 -1.5,1.5 -1.6,1.4 -1.5,1.5 -1.6,1.4 -1.5,1.4 -1.6,1.5 -1.6,1.4 -1.6,1.4 -1.7,1.5 -1.6,1.4 -1.6,1.4 -1.7,1.4 -1.6,1.4 -1.7,1.4 -1.7,1.5 -1.6,1.4 -1.7,1.4 -1.7,1.4 -1.7,1.4 -1.7,1.5 -1.6,1.4 -1.7,1.4 -1.7,1.4 -1.7,1.4 -1.7,1.4 -1.7,1.5 -1.8,1.4 -1.7,1.4 -1.7,1.4 -1.8,1.4 -1.7,1.3 -1.8,1.4 -1.7,1.4 -1.8,1.4 -1.7,1.4 -1.8,1.4 -1.7,1.3 -1.8,1.4 -1.7,1.4 -1.8,1.4 -1.8,1.4 -1.7,1.3 -1.8,1.4 -1.7,1.4 -1.8,1.4 -1.7,1.4 -1.8,1.4 -1.7,1.4 -1.7,1.4 -1.8,1.4 -1.7,1.4 -1.7,1.4 -1.8,1.4 -1.7,1.4 -1.7,1.4 -1.7,1.5 -1.7,1.4 -1.8,1.4 -1.7,1.4 -1.7,1.5 -1.7,1.4 -1.7,1.4 -1.7,1.4 -1.7,1.5 -1.7,1.4 -1.7,1.4 -1.7,1.5 -1.7,1.4 -1.8,1.5 -1.7,1.5 -1.8,1.5 -1.8,1.5 -1.7,1.5 -1.9,1.5 -1.8,1.5 -1.8,1.6 -1.9,1.5 -1.9,1.6 -2,1.5 -1.9,1.6 -2,1.6 -2,1.5 -2,1.7 -2,1.6 -2,1.7 -2.1,1.7 -2,1.8 -2,1.8 -2,1.9 -2.1,1.9 -2,1.9 -2.1,2 -2,2 -2.1,2 -2.1,2.1 -2.1,2.1 -2.2,2.1 -2.1,2.1 -2.2,2.2 -2.3,2.2 -2.2,2.2 -2.4,2.2 -2.3,2.2 -2.4,2.2 -2.4,2.3 -2.5,2.2 -2.6,2.3 -2.5,2.3 -2.7,2.2 -2.6,2.3 -2.8,2.3 -2.7,2.3 -2.9,2.3 -2.8,2.3 -2.9,2.4 -3,2.3 -3,2.3 -3.1,2.4 -3.1,2.4 -3.1,2.3 -3.2,2.4 -3.3,2.4 -3.2,2.3 -3.4,2.4 -3.3,2.4 -3.4,2.4 -3.5,2.4 -3.4,2.4 -3.6,2.4 -3.5,2.3 -3.6,2.4 -3.6,2.4 -3.6,2.3 -3.6,2.4 -3.7,2.3 -3.7,2.3 -3.7,2.3 -3.7,2.3 -3.8,2.3 -3.8,2.2 -3.9,2.2 -3.8,2.2 -4,2.1 -3.9,2.1 -4,2.1 -4,2 -4,1.6 -3.8,1.3 -3.7,0.6 -3.5-0.1 -3.3-0.5 -3-0.8 -2.8-1.1 -2.5-1.2 -2.3-1.3 -2.1-1.4 -2-1.5 -1.7-1.6 -1.6-1.6 -1.5-1.8 -1.4-1.8 -1.3-1.9 -1.3-2 -1.2-1.9 -1.3-2.1 -1.2-2.1 -1.3-2.1 -1.2-2.2 -1.3-2.3 -1.2-2.3 -1.3-2.3 -1.2-2.3 -1.3-2.5 -1.3-2.4 -1.2-2.5 -1.3-2.6 -1.3-2.6 -1.2-2.6 -1.3-2.7 -1.2-2.8 -1.2-2.8 -1.2-2.8 -1.2-2.9 -1.1-2.9 -1.1-2.9 -1-3 -1-3.1 -0.9-3 -0.9-3.1 -0.9-3.1 -0.7-3.1 -0.8-3.2 -0.6-3.1 -0.6-3.2 -0.6-3.1 -0.4-3.2 -0.5-3.1"/><path stroke-dashoffset="1.85" d="M136.8,912.1l0.3-3.3 0.5-3.2 0.6-3.2 0.8-3.1 0.9-3.1 1-3.1 1-3.1 1-3.1 1-3.1 1-3.1 0.9-3.1 0.8-3.2 0.9-3.1 0.7-3.2 0.7-3.3 0.6-3.2 0.6-3.3 0.5-3.3 0.6-3.3 0.5-3.3 0.6-3.3 0.6-3.3 0.7-3.3 0.7-3.2 0.9-3.3 0.9-3.2 1-3.2 1.1-3.2 1.2-3.2 1.2-3.1 1.3-3.2 1.3-3.1 1.3-3.1 1.3-3.1 1.3-3.1 1.4-3.1 1.4-3.1 1.5-3 1.6-3 1.7-2.9 1.8-2.8 1.9-2.8 1.9-2.7 2-2.7 2.1-2.6 2.2-2.6 2.1-2.6 2.2-2.5 2.2-2.5 2.3-2.5 2.2-2.5 2.3-2.5 2.3-2.4 2.4-2.4 2.3-2.4 2.4-2.3 2.4-2.3 2.4-2.3 2.5-2.3 2.5-2.2 2.5-2.2 2.5-2.2 2.6-2.2 2.6-2.1 2.6-2.1 2.6-2.1 2.6-2.1 2.6-2.1 2.6-2.1 2.6-2.1 2.7-2.1 2.6-2 2.7-2.1 2.6-2 2.7-2 2.7-2 2.7-2 2.7-2 2.7-1.9 2.7-1.9 2.8-1.9 2.8-1.9 2.8-1.8 2.8-1.7 2.8-1.8 2.9-1.7 2.9-1.7 2.9-1.6 2.9-1.6 2.9-1.6 3-1.5 2.9-1.6 3-1.5 3-1.4 3-1.4 3-1.5 3-1.3 3-1.4 3.1-1.4 3-1.3 3.1-1.4 3-1.3 3.1-1.4 3.1-1.3 3-1.4 3.1-1.4 3-1.3 3.1-1.4 3-1.5 3.1-1.4 3.1-1.4 3-1.4 3.1-1.4 3-1.5 3.1-1.4 3.1-1.4 3-1.4 3.1-1.3 3.1-1.4 2.2-0.7 2.1-0.7 2.1-0.8 2.1-0.8 2-0.9 2-1 2-0.9 2-1 1.9-1 2-1 1.9-1.1 1.9-1 2-0.9 2-1 1.9-0.9 2-0.9 2-0.9 2.1-0.8 2-0.8 2.1-0.7 2.1-0.8 2.1-0.7 2.1-0.7 2.1-0.7 2.1-0.6 2.1-0.6 2.1-0.7 2.1-0.6 2.2-0.6 2.1-0.5 2.1-0.6 2.1-0.6 2.1-0.5 2.2-0.5 2.1-0.5 2.1-0.5 2.1-0.5 2.1-0.5 2.1-0.4 2.1-0.4 2.1-0.4 2.2-0.4 2.1-0.4 2.1-0.4 2.1-0.3 2.1-0.3 2.1-0.3 2.2-0.3 2.1-0.3 2.1-0.2 2.1-0.2 2.2-0.2 2.1-0.2 2.2-0.1 2.1-0.1 2.2,0 2.1,0 2.2,0 2.1,0 2.2,0.1 2.1,0.1 2.2,0.1 2.2,0.2 2.2,0.2 2.1,0.3 2.2,0.3 2.2,0.4 2.1,0.4 2.2,0.5 2.1,0.5 2.1,0.7 2.1,0.7 2,0.8 2,0.9 2,1 1.9,1.1 1.9,1.2 1.9,1.3 1.8,1.4 1.7,1.5 1.6,1.5 1.6,1.6 1.5,1.7 1.5,1.8 1.3,1.8 1.2,1.9 1.1,2 1,2 0.9,2.1 0.7,2.1 0.6,2.2 0.5,2.2 0.3,2.2 0.3,2.2 0.3,2.3 0.1,2.2 0.1,2.2 0,2.3 0,2.2 -0.1,2.2 -0.1,2.2 -0.1,2.2 -0.2,2.2 -0.3,2.2 -0.2,2.2 -0.3,2.1 -0.4,2.2 -0.3,2.2 -0.4,2.2 -0.4,2.1 -0.4,2.2 -0.5,2.1 -0.4,2.2 -0.5,2.1 -0.5,2.2 -0.5,2.1 -0.5,2.1 -0.5,2.2 -0.6,2.1 -0.5,2.1 -0.6,2.1 -0.6,2.2 -0.6,2.1 -0.6,2.1 -0.7,2.1 -0.6,2.1 -0.7,2.1 -0.6,2.1 -0.7,2.1 -0.7,2 -0.7,2.1 -0.6,2.1 -0.7,2.1 -0.7,2.1 -0.7,2.1 -0.6,2.1 -0.7,2.1 -0.7,2.2 -0.7,2.1 -0.7,2.1 -0.7,2.1 -0.7,2.1 -0.7,2.1 -0.8,2.1 -0.7,2.1 -0.7,2.1 -0.8,2 -0.8,2.1 -0.8,2.1 -1.3,1.6 -1.4,1.6 -1.4,1.6 -1.4,1.6 -1.5,1.5 -1.4,1.6 -1.5,1.5 -1.5,1.6 -1.6,1.5 -1.5,1.6 -1.6,1.5 -1.6,1.5 -1.6,1.6 -1.6,1.5 -1.6,1.5 -1.6,1.6 -1.7,1.5 -1.6,1.5 -1.7,1.5 -1.6,1.5 -1.7,1.6 -1.6,1.5 -1.7,1.5 -1.7,1.5 -1.7,1.5 -1.7,1.5 -1.7,1.5 -1.7,1.5 -1.8,1.5 -1.7,1.4 -1.8,1.5 -1.7,1.5 -1.8,1.4 -1.8,1.5 -1.8,1.4 -1.8,1.4 -1.8,1.5 -1.8,1.4 -1.8,1.4 -1.8,1.4 -1.8,1.5 -1.8,1.4 -1.8,1.4 -1.8,1.4 -1.8,1.5 -1.8,1.4 -1.8,1.4 -1.8,1.4 -1.8,1.4 -1.8,1.5 -1.8,1.4 -1.8,1.4 -1.8,1.4 -1.8,1.5 -1.8,1.4 -1.8,1.5 -1.8,1.4 -1.7,1.4 -1.8,1.5 -1.8,1.4 -1.8,1.4 -1.8,1.5 -1.7,1.4 -1.8,1.5 -1.8,1.4 -1.8,1.4 -1.8,1.4 -1.7,1.5 -1.8,1.4 -1.8,1.5 -1.8,1.4 -1.9,1.5 -1.8,1.5 -1.9,1.6 -1.9,1.5 -1.9,1.5 -1.9,1.6 -1.9,1.6 -2,1.5 -2,1.6 -2,1.6 -2.1,1.6 -2.1,1.7 -2.1,1.6 -2.1,1.7 -2.1,1.7 -2.1,1.7 -2.2,1.8 -2.1,1.9 -2.1,1.8 -2.2,2 -2.1,1.9 -2.2,2 -2.2,2.1 -2.2,2.1 -2.2,2.1 -2.2,2.1 -2.3,2.2 -2.3,2.1 -2.3,2.3 -2.3,2.2 -2.4,2.2 -2.5,2.3 -2.4,2.3 -2.5,2.2 -2.6,2.3 -2.6,2.3 -2.6,2.3 -2.7,2.3 -2.7,2.4 -2.8,2.3 -2.8,2.3 -2.9,2.4 -2.9,2.3 -3,2.4 -3,2.3 -3.1,2.4 -3.1,2.4 -3.2,2.3 -3.2,2.4 -3.2,2.4 -3.3,2.4 -3.3,2.4 -3.4,2.4 -3.4,2.4 -3.4,2.4 -3.5,2.4 -3.5,2.4 -3.6,2.4 -3.6,2.3 -3.6,2.4 -3.6,2.4 -3.7,2.4 -3.6,2.3 -3.7,2.3 -3.7,2.4 -3.8,2.3 -3.7,2.3 -3.8,2.2 -3.8,2.3 -3.8,2.2 -3.9,2.2 -3.9,2.1 -3.9,2.2 -4,2.1 -4,2 -4,2.1 -4.1,1.9 -4,1.6 -3.9,1.1 -3.7,0.4 -3.5-0.2 -3.3-0.8 -3-1.2 -2.7-1.4 -2.5-1.5 -2.2-1.6 -2-1.7 -1.8-1.8 -1.6-1.9 -1.5-2 -1.3-2 -1.3-2.1 -1.2-2.2 -1.1-2.2 -1.1-2.2 -1.1-2.4 -1.1-2.3 -1.1-2.4 -1.1-2.5 -1.1-2.5 -1.1-2.5 -1-2.6 -1.1-2.6 -1-2.7 -1.1-2.7 -1-2.7 -1-2.8 -1-2.9 -0.9-2.8 -0.9-2.9 -0.9-3 -0.8-3 -0.8-3 -0.8-3 -0.6-3 -0.7-3.1 -0.6-3.1 -0.5-3.1 -0.5-3.1 -0.4-3.2 -0.3-3.1 -0.3-3.1 -0.2-3.1 -0.2-3.1 -0.2-3 0-3.1 -0.1-3 0-3"/><path stroke-dashoffset="2.22" d="M141.6,913.3l1-3 1.1-3 1.3-3 1.3-2.9 1.4-3 1.3-2.9 1.3-3 1.2-3 1.2-3 1-3 1-3.1 0.8-3.1 0.8-3.1 0.6-3.2 0.6-3.2 0.5-3.2 0.4-3.3 0.5-3.3 0.3-3.3 0.4-3.3 0.5-3.3 0.5-3.3 0.5-3.3 0.7-3.3 0.7-3.2 0.8-3.3 1-3.2 1-3.1 1.1-3.2 1.1-3.1 1.2-3.1 1.3-3.1 1.2-3.1 1.3-3.1 1.3-3.1 1.3-3.1 1.4-3 1.4-3 1.5-2.9 1.7-2.9 1.7-2.8 1.8-2.8 1.9-2.7 1.9-2.7 2.1-2.6 2-2.6 2.1-2.6 2.1-2.6 2.1-2.5 2.2-2.5 2.1-2.5 2.2-2.5 2.3-2.4 2.2-2.4 2.3-2.4 2.3-2.4 2.3-2.3 2.3-2.3 2.4-2.3 2.4-2.2 2.5-2.3 2.4-2.2 2.5-2.1 2.5-2.2 2.5-2.2 2.5-2.1 2.5-2.1 2.6-2.1 2.5-2.1 2.5-2.1 2.6-2.1 2.5-2.1 2.6-2.1 2.6-2.1 2.5-2 2.6-2.1 2.6-2 2.7-2 2.6-2 2.7-1.9 2.6-1.9 2.7-1.9 2.7-1.8 2.8-1.9 2.7-1.8 2.8-1.7 2.8-1.7 2.8-1.7 2.8-1.7 2.8-1.6 2.9-1.7 2.8-1.5 2.9-1.6 2.9-1.5 2.9-1.5 2.9-1.5 2.9-1.4 3-1.5 2.9-1.4 3-1.4 3-1.4 2.9-1.4 3-1.4 3-1.4 3-1.4 3-1.4 3-1.4 3-1.5 3-1.4 3-1.4 3-1.5 3-1.4 3-1.4 3-1.4 3-1.4 3.1-1.4 3-1.3 3.1-1.3 3-1.3 2.1-0.7 2.1-0.7 2.1-0.7 2-0.8 2-0.8 1.9-0.8 2-0.9 1.9-0.9 1.9-0.9 1.9-0.9 1.9-0.9 1.9-0.9 1.9-0.9 1.9-0.8 2-0.8 1.9-0.8 2-0.8 2-0.7 2-0.7 2-0.6 2-0.7 2-0.6 2.1-0.6 2-0.6 2.1-0.6 2-0.5 2.1-0.5 2.1-0.5 2-0.6 2.1-0.4 2-0.5 2.1-0.5 2.1-0.4 2-0.5 2-0.4 2.1-0.3 2-0.4 2.1-0.4 2-0.3 2-0.3 2-0.3 2.1-0.3 2-0.2 2-0.3 2.1-0.2 2-0.2 2-0.2 2-0.2 2.1-0.1 2-0.1 2.1-0.1 2-0.1 2,0 2.1,0 2,0 2.1,0 2,0.1 2.1,0.1 2.1,0.1 2,0.2 2.1,0.2 2.1,0.2 2,0.3 2.1,0.3 2.1,0.3 2,0.4 2.1,0.4 2,0.5 2.1,0.5 2,0.6 2,0.7 2,0.8 1.9,0.8 1.9,1 1.9,1 1.9,1.1 1.8,1.2 1.7,1.3 1.7,1.4 1.6,1.4 1.6,1.5 1.6,1.6 1.4,1.7 1.4,1.7 1.3,1.8 1.2,1.8 1,1.9 1,2 0.8,2 0.8,2 0.6,2.1 0.5,2.1 0.4,2.2 0.3,2.1 0.3,2.2 0.2,2.1 0.1,2.2 0.1,2.1 0,2.2 0,2.1 0,2.1 -0.1,2.2 -0.1,2.1 -0.2,2.1 -0.2,2.1 -0.2,2.1 -0.2,2.1 -0.3,2.1 -0.3,2.1 -0.3,2.1 -0.4,2.1 -0.3,2.1 -0.4,2.1 -0.4,2 -0.4,2.1 -0.4,2.1 -0.4,2.1 -0.4,2 -0.5,2.1 -0.4,2 -0.5,2.1 -0.5,2.1 -0.5,2 -0.6,2 -0.5,2.1 -0.6,2 -0.5,2.1 -0.6,2 -0.6,2 -0.6,2.1 -0.5,2 -0.6,2 -0.6,2.1 -0.6,2 -0.6,2.1 -0.6,2 -0.6,2.1 -0.6,2 -0.6,2.1 -0.6,2 -0.6,2.1 -0.7,2 -0.6,2.1 -0.7,2 -0.6,2 -0.7,2.1 -0.7,2 -0.7,2.1 -0.7,2 -1.2,1.7 -1.2,1.7 -1.3,1.8 -1.3,1.7 -1.4,1.7 -1.3,1.7 -1.4,1.7 -1.5,1.6 -1.4,1.7 -1.5,1.7 -1.5,1.7 -1.5,1.6 -1.6,1.7 -1.5,1.6 -1.6,1.7 -1.6,1.6 -1.6,1.7 -1.6,1.6 -1.6,1.7 -1.7,1.6 -1.6,1.6 -1.6,1.7 -1.7,1.6 -1.7,1.6 -1.7,1.6 -1.7,1.6 -1.7,1.6 -1.7,1.6 -1.8,1.5 -1.8,1.6 -1.8,1.5 -1.8,1.5 -1.8,1.6 -1.8,1.5 -1.8,1.5 -1.9,1.5 -1.8,1.5 -1.9,1.5 -1.8,1.4 -1.9,1.5 -1.8,1.5 -1.9,1.5 -1.8,1.4 -1.9,1.5 -1.9,1.5 -1.8,1.4 -1.9,1.5 -1.9,1.4 -1.8,1.5 -1.9,1.5 -1.9,1.4 -1.8,1.5 -1.9,1.4 -1.9,1.5 -1.8,1.5 -1.9,1.4 -1.8,1.5 -1.9,1.4 -1.9,1.5 -1.8,1.5 -1.9,1.4 -1.8,1.5 -1.9,1.4 -1.9,1.4 -1.8,1.5 -1.9,1.4 -1.9,1.5 -1.8,1.4 -1.9,1.4 -1.9,1.5 -1.9,1.5 -1.9,1.4 -2,1.6 -1.9,1.5 -2,1.5 -2,1.6 -2.1,1.6 -2,1.6 -2.1,1.6 -2.1,1.6 -2.1,1.6 -2.2,1.7 -2.2,1.6 -2.2,1.7 -2.2,1.7 -2.2,1.8 -2.2,1.8 -2.3,1.8 -2.2,1.9 -2.3,2 -2.3,1.9 -2.2,2.1 -2.3,2 -2.3,2.1 -2.4,2.1 -2.3,2.2 -2.4,2.2 -2.4,2.2 -2.4,2.2 -2.5,2.2 -2.5,2.3 -2.5,2.3 -2.5,2.3 -2.7,2.3 -2.6,2.3 -2.7,2.3 -2.7,2.4 -2.8,2.3 -2.8,2.3 -2.9,2.4 -2.9,2.3 -3,2.4 -3,2.3 -3.1,2.4 -3.1,2.4 -3.1,2.3 -3.2,2.4 -3.2,2.4 -3.3,2.3 -3.3,2.4 -3.4,2.4 -3.4,2.4 -3.4,2.4 -3.5,2.4 -3.5,2.3 -3.5,2.4 -3.6,2.4 -3.6,2.3 -3.6,2.4 -3.6,2.3 -3.7,2.4 -3.7,2.3 -3.7,2.3 -3.7,2.3 -3.7,2.3 -3.8,2.3 -3.7,2.2 -3.8,2.2 -3.8,2.2 -3.8,2.2 -3.8,2.1 -3.9,2.1 -3.9,2.1 -3.9,2.1 -4,2 -4,2 -4.1,2 -4,1.8 -4.1,1.5 -3.9,1 -3.6,0.2 -3.5-0.6 -3.2-1.1 -2.9-1.5 -2.6-1.7 -2.4-1.8 -2-1.9 -1.9-2 -1.6-2.1 -1.5-2.2 -1.3-2.2 -1.1-2.3 -1.1-2.4 -0.9-2.5 -1-2.4 -0.9-2.6 -0.9-2.6 -0.9-2.6 -0.8-2.6 -0.9-2.7 -0.8-2.8 -0.8-2.8 -0.8-2.8 -0.8-2.8 -0.7-2.9 -0.7-2.9 -0.7-3 -0.6-3 -0.6-3 -0.5-3 -0.5-3.1 -0.4-3.1 -0.4-3.1 -0.3-3.1 -0.3-3.1 -0.2-3.1 -0.1-3.1 -0.1-3.1 0-3.1 0-3.1 0.1-3.1 0.1-3 0.2-3 0.2-3 0.2-2.9 0.3-2.9 0.3-2.9 0.3-2.9 0.4-2.8"/><path stroke-dashoffset="0.29" d="M149,915.3l1.7-2.9 1.6-2.8 1.7-2.8 1.7-2.8 1.7-2.8 1.5-2.8 1.4-2.9 1.3-2.9 1.2-2.9 1-3 0.9-3 0.8-3.1 0.6-3.1 0.5-3.2 0.5-3.2 0.3-3.2 0.3-3.3 0.2-3.3 0.2-3.3 0.3-3.4 0.2-3.3 0.4-3.3 0.4-3.3 0.5-3.3 0.6-3.2 0.8-3.2 0.8-3.2 1-3.1 1-3.2 1.1-3.1 1.1-3.1 1.2-3 1.2-3.1 1.2-3.1 1.2-3 1.3-3.1 1.3-3 1.4-2.9 1.5-3 1.5-2.8 1.7-2.8 1.7-2.8 1.8-2.7 1.9-2.7 1.9-2.6 2-2.6 2-2.6 2-2.6 2-2.5 2.1-2.5 2-2.5 2.1-2.5 2.1-2.5 2.2-2.4 2.2-2.4 2.2-2.4 2.2-2.3 2.2-2.4 2.3-2.3 2.3-2.2 2.4-2.3 2.3-2.2 2.4-2.2 2.4-2.2 2.4-2.2 2.5-2.1 2.4-2.2 2.4-2.1 2.5-2.2 2.4-2.1 2.5-2.1 2.4-2.2 2.5-2.1 2.5-2.1 2.5-2.1 2.5-2 2.5-2.1 2.5-2 2.6-2 2.5-2 2.6-1.9 2.6-2 2.6-1.9 2.6-1.8 2.7-1.9 2.6-1.8 2.7-1.8 2.7-1.7 2.7-1.8 2.7-1.7 2.8-1.7 2.7-1.6 2.8-1.6 2.8-1.6 2.8-1.6 2.8-1.5 2.8-1.6 2.9-1.5 2.8-1.5 2.9-1.4 2.9-1.5 2.9-1.4 2.8-1.5 3-1.5 2.9-1.4 2.9-1.5 2.9-1.4 2.9-1.5 2.9-1.5 3-1.4 2.9-1.4 3-1.5 2.9-1.4 3-1.4 3-1.3 3-1.4 3-1.3 3-1.2 3.1-1.3 2-0.5 2.1-0.7 2-0.7 1.9-0.7 1.9-0.7 2-0.8 1.8-0.7 1.9-0.8 1.9-0.8 1.8-0.8 1.9-0.8 1.8-0.7 1.9-0.8 1.9-0.7 1.8-0.7 1.9-0.7 1.9-0.6 2-0.6 1.9-0.6 2-0.5 1.9-0.6 2-0.5 2-0.5 2-0.5 2-0.4 2-0.5 2-0.4 2-0.4 2-0.4 1.9-0.4 2-0.4 2-0.4 2-0.3 2-0.3 1.9-0.3 2-0.3 1.9-0.2 2-0.3 1.9-0.2 2-0.2 1.9-0.1 2-0.2 1.9-0.1 1.9-0.1 2-0.1 1.9-0.1 1.9,0 1.9-0.1 2,0 1.9,0 2,0 1.9,0.1 1.9,0.1 2,0.1 1.9,0.1 2,0.1 1.9,0.2 1.9,0.2 2,0.3 1.9,0.2 2,0.3 2,0.3 1.9,0.4 2,0.4 1.9,0.4 2,0.4 1.9,0.5 2,0.6 1.9,0.6 1.9,0.7 1.9,0.7 1.8,0.8 1.9,0.9 1.8,0.9 1.7,1.1 1.8,1.1 1.7,1.2 1.6,1.3 1.6,1.3 1.6,1.5 1.5,1.4 1.5,1.6 1.3,1.6 1.4,1.7 1.2,1.7 1.1,1.8 1.1,1.8 0.9,1.9 0.8,1.9 0.8,2 0.6,2 0.5,2 0.5,2.1 0.3,2 0.3,2.1 0.3,2.1 0.2,2.1 0.1,2 0.1,2.1 0.1,2 0,2.1 0,2 0,2 -0.1,2.1 -0.1,2 -0.1,2 -0.2,2.1 -0.2,2 -0.2,2 -0.2,2 -0.2,2 -0.3,2 -0.3,2 -0.2,2 -0.3,2 -0.3,2 -0.4,2 -0.3,2 -0.3,2 -0.4,2 -0.4,2 -0.4,2 -0.4,2 -0.4,1.9 -0.4,2 -0.5,2 -0.4,2 -0.5,1.9 -0.5,2 -0.5,2 -0.4,2 -0.5,1.9 -0.5,2 -0.5,2 -0.5,2 -0.5,2 -0.5,1.9 -0.5,2 -0.5,2 -0.6,2 -0.5,2 -0.5,2 -0.6,2 -0.6,1.9 -0.5,2 -0.6,2 -0.6,2 -0.7,2 -0.6,1.9 -1.1,1.9 -1,1.9 -1.2,1.9 -1.2,1.8 -1.2,1.9 -1.3,1.8 -1.3,1.9 -1.3,1.8 -1.4,1.8 -1.4,1.8 -1.4,1.9 -1.5,1.8 -1.4,1.8 -1.6,1.8 -1.5,1.7 -1.5,1.8 -1.6,1.8 -1.5,1.8 -1.6,1.7 -1.6,1.8 -1.7,1.8 -1.6,1.7 -1.6,1.8 -1.7,1.7 -1.7,1.7 -1.7,1.7 -1.7,1.7 -1.8,1.7 -1.8,1.6 -1.8,1.7 -1.8,1.6 -1.8,1.6 -1.9,1.6 -1.8,1.6 -1.9,1.6 -1.9,1.5 -1.9,1.6 -1.9,1.5 -1.9,1.6 -1.9,1.5 -1.9,1.5 -2,1.6 -1.9,1.5 -1.9,1.5 -1.9,1.5 -2,1.5 -1.9,1.5 -1.9,1.5 -2,1.5 -1.9,1.5 -2,1.5 -1.9,1.5 -1.9,1.5 -2,1.5 -1.9,1.5 -2,1.5 -1.9,1.5 -1.9,1.4 -2,1.5 -1.9,1.5 -2,1.5 -1.9,1.4 -2,1.5 -2,1.4 -1.9,1.5 -2,1.4 -1.9,1.4 -2,1.5 -2,1.4 -2,1.5 -2,1.4 -2,1.5 -2.1,1.6 -2,1.5 -2.1,1.5 -2.1,1.6 -2.2,1.6 -2.1,1.6 -2.2,1.6 -2.2,1.7 -2.3,1.6 -2.2,1.7 -2.3,1.7 -2.3,1.7 -2.3,1.8 -2.4,1.8 -2.3,1.8 -2.4,1.9 -2.3,1.9 -2.4,2 -2.4,2 -2.4,2 -2.4,2.1 -2.4,2.2 -2.5,2.1 -2.5,2.2 -2.5,2.2 -2.5,2.2 -2.6,2.3 -2.5,2.2 -2.7,2.3 -2.6,2.3 -2.7,2.3 -2.8,2.3 -2.7,2.3 -2.9,2.4 -2.8,2.3 -2.9,2.3 -3,2.3 -3,2.4 -3,2.3 -3.1,2.4 -3.1,2.3 -3.2,2.4 -3.2,2.3 -3.2,2.3 -3.3,2.4 -3.3,2.3 -3.4,2.4 -3.4,2.3 -3.4,2.4 -3.5,2.3 -3.5,2.3 -3.5,2.4 -3.6,2.3 -3.5,2.3 -3.7,2.3 -3.6,2.3 -3.6,2.3 -3.7,2.3 -3.7,2.2 -3.7,2.3 -3.7,2.2 -3.7,2.2 -3.7,2.2 -3.8,2.2 -3.7,2.1 -3.7,2.1 -3.8,2.1 -3.8,2.1 -3.8,2 -3.8,2 -3.8,2 -3.9,1.9 -3.9,1.9 -4,1.9 -4,1.9 -4,1.7 -4,1.3 -3.8,0.8 -3.6,0 -3.4-0.8 -3-1.4 -2.8-1.8 -2.5-2.1 -2.1-2.1 -1.9-2.2 -1.7-2.3 -1.4-2.4 -1.2-2.5 -1.1-2.5 -0.9-2.6 -0.8-2.6 -0.7-2.7 -0.7-2.8 -0.6-2.8 -0.6-2.8 -0.6-2.8 -0.6-2.9 -0.5-3 -0.5-2.9 -0.4-3 -0.5-3 -0.3-3.1 -0.4-3 -0.3-3.1 -0.2-3.1 -0.2-3.2 -0.1-3.1 0-3.2 0-3.1 0-3.2 0.2-3.1 0.2-3.1 0.2-3.1 0.3-3.1 0.4-3.1 0.4-3 0.4-3 0.5-3 0.5-2.9 0.6-2.9 0.5-2.8 0.6-2.8 0.5-2.7 0.6-2.7 0.6-2.7 0.5-2.6 0.5-2.6"/><path stroke-dashoffset="0.66" d="M158.3,917.7l2-2.7 2-2.7 2-2.6 1.8-2.7 1.8-2.7 1.6-2.8 1.4-2.8 1.3-2.8 1.1-2.9 1-3 0.8-3 0.6-3 0.5-3.1 0.4-3.2 0.3-3.2 0.2-3.2 0.1-3.3 0.1-3.3 0.1-3.3 0.1-3.4 0.1-3.3 0.2-3.3 0.3-3.3 0.4-3.2 0.5-3.3 0.7-3.2 0.7-3.1 0.9-3.2 0.9-3.1 1-3.1 1.1-3 1.1-3.1 1.2-3 1.1-3 1.2-3 1.2-3.1 1.3-2.9 1.3-3 1.4-2.9 1.5-2.8 1.6-2.8 1.7-2.8 1.7-2.7 1.8-2.6 1.8-2.7 1.8-2.6 1.9-2.6 1.9-2.6 2-2.5 1.9-2.5 2-2.6 2-2.4 2-2.5 2-2.5 2.1-2.4 2.1-2.4 2.1-2.4 2.2-2.3 2.2-2.3 2.2-2.3 2.2-2.3 2.3-2.3 2.3-2.2 2.3-2.2 2.3-2.2 2.3-2.2 2.4-2.2 2.3-2.1 2.4-2.2 2.3-2.2 2.4-2.1 2.3-2.2 2.4-2.1 2.3-2.2 2.4-2.1 2.4-2.1 2.4-2.1 2.5-2 2.4-2.1 2.5-2 2.4-2 2.5-2 2.5-1.9 2.6-1.9 2.5-1.9 2.6-1.9 2.5-1.9 2.6-1.8 2.6-1.8 2.6-1.8 2.6-1.7 2.7-1.7 2.6-1.7 2.7-1.7 2.7-1.7 2.7-1.6 2.7-1.6 2.7-1.6 2.8-1.5 2.8-1.6 2.7-1.5 2.8-1.5 2.8-1.5 2.8-1.5 2.9-1.5 2.8-1.5 2.8-1.5 2.9-1.5 2.9-1.5 2.8-1.5 2.9-1.5 2.9-1.4 2.9-1.4 2.9-1.4 3-1.3 2.9-1.3 3-1.2 3-1.2 3-1.2 2-0.5 2-0.6 1.9-0.6 1.9-0.6 1.9-0.7 1.9-0.6 1.8-0.7 1.8-0.7 1.8-0.6 1.8-0.7 1.8-0.7 1.8-0.6 1.8-0.6 1.9-0.6 1.8-0.6 1.8-0.5 1.9-0.5 1.8-0.5 1.9-0.5 1.9-0.4 1.9-0.4 1.9-0.4 1.9-0.4 2-0.4 1.9-0.4 1.9-0.3 1.9-0.3 2-0.4 1.9-0.3 1.9-0.2 1.9-0.3 1.9-0.2 1.9-0.3 1.9-0.2 1.9-0.1 1.9-0.2 1.8-0.1 1.9-0.1 1.8-0.1 1.9,0 1.8-0.1 1.9,0 1.8,0 1.8,0 1.9,0.1 1.8,0 1.8,0.1 1.9,0.1 1.8,0.1 1.8,0.2 1.8,0.2 1.9,0.1 1.8,0.2 1.8,0.3 1.8,0.2 1.9,0.3 1.8,0.3 1.8,0.3 1.9,0.3 1.8,0.4 1.8,0.4 1.9,0.4 1.8,0.4 1.8,0.5 1.9,0.5 1.8,0.5 1.8,0.6 1.8,0.6 1.8,0.7 1.8,0.7 1.8,0.8 1.7,0.9 1.7,0.9 1.7,1 1.7,1 1.6,1.2 1.6,1.2 1.6,1.2 1.5,1.4 1.4,1.4 1.5,1.4 1.3,1.5 1.3,1.6 1.3,1.6 1.2,1.7 1.1,1.7 1,1.8 0.9,1.8 0.8,1.8 0.7,1.9 0.7,1.9 0.5,2 0.5,1.9 0.4,2 0.4,2 0.3,1.9 0.2,2 0.3,2 0.1,1.9 0.2,2 0.1,2 0.1,1.9 0,2 0,1.9 0,2 0,1.9 -0.1,1.9 -0.1,2 -0.1,1.9 -0.1,1.9 -0.1,2 -0.2,1.9 -0.2,1.9 -0.1,1.9 -0.2,2 -0.2,1.9 -0.2,1.9 -0.3,1.9 -0.2,1.9 -0.2,2 -0.3,1.9 -0.3,1.9 -0.3,1.9 -0.3,1.9 -0.3,1.9 -0.4,1.9 -0.3,1.9 -0.4,1.9 -0.3,1.9 -0.4,1.9 -0.4,1.9 -0.4,1.9 -0.3,1.9 -0.4,2 -0.4,1.9 -0.4,1.9 -0.4,1.9 -0.4,1.9 -0.5,1.9 -0.4,2 -0.4,1.9 -0.5,1.9 -0.4,1.9 -0.5,2 -0.5,1.9 -0.5,1.9 -0.5,1.9 -0.6,1.9 -0.5,1.9 -0.9,2.1 -0.9,2 -1,2.1 -1.1,2 -1.1,2 -1.1,2 -1.2,2 -1.3,2 -1.3,2 -1.3,1.9 -1.3,2 -1.4,2 -1.4,1.9 -1.5,1.9 -1.5,2 -1.5,1.9 -1.5,1.9 -1.5,2 -1.6,1.9 -1.5,1.9 -1.6,1.9 -1.6,1.8 -1.7,1.9 -1.6,1.9 -1.7,1.8 -1.7,1.8 -1.8,1.8 -1.7,1.8 -1.8,1.7 -1.9,1.8 -1.8,1.7 -1.9,1.7 -1.9,1.7 -1.9,1.6 -1.9,1.7 -2,1.6 -1.9,1.6 -2,1.7 -1.9,1.6 -2,1.6 -2,1.5 -2,1.6 -2,1.6 -2,1.6 -2,1.5 -2,1.6 -2,1.5 -2,1.6 -2,1.5 -2,1.6 -2,1.5 -2.1,1.5 -2,1.6 -2,1.5 -2,1.5 -2.1,1.5 -2,1.5 -2,1.5 -2.1,1.5 -2,1.5 -2.1,1.5 -2,1.5 -2.1,1.5 -2,1.4 -2.1,1.5 -2,1.4 -2.1,1.4 -2.1,1.5 -2.1,1.4 -2.1,1.5 -2.1,1.4 -2.1,1.5 -2.2,1.5 -2.2,1.6 -2.2,1.5 -2.2,1.6 -2.2,1.6 -2.3,1.6 -2.3,1.6 -2.3,1.7 -2.3,1.7 -2.4,1.6 -2.4,1.8 -2.4,1.7 -2.4,1.8 -2.5,1.8 -2.4,1.9 -2.5,1.9 -2.5,1.9 -2.4,2 -2.5,2 -2.6,2.1 -2.5,2.1 -2.5,2.1 -2.6,2.2 -2.6,2.2 -2.6,2.2 -2.7,2.2 -2.6,2.2 -2.7,2.3 -2.8,2.3 -2.8,2.2 -2.8,2.3 -2.8,2.3 -2.9,2.3 -2.9,2.3 -3,2.3 -3,2.3 -3.1,2.3 -3,2.3 -3.2,2.3 -3.1,2.3 -3.2,2.3 -3.3,2.3 -3.3,2.3 -3.3,2.3 -3.3,2.3 -3.4,2.3 -3.4,2.2 -3.5,2.3 -3.4,2.3 -3.5,2.2 -3.6,2.3 -3.5,2.2 -3.6,2.3 -3.6,2.2 -3.6,2.2 -3.7,2.2 -3.6,2.2 -3.7,2.2 -3.6,2.1 -3.7,2.1 -3.6,2.1 -3.7,2.1 -3.7,2.1 -3.6,2 -3.7,2 -3.7,2 -3.7,1.9 -3.7,2 -3.7,1.9 -3.7,1.8 -3.8,1.8 -3.7,1.8 -3.9,1.8 -3.8,1.7 -3.9,1.7 -3.9,1.6 -3.9,1.2 -3.7,0.5 -3.4-0.2 -3.2-1.1 -2.9-1.7 -2.6-2.2 -2.2-2.3 -1.9-2.4 -1.7-2.5 -1.4-2.6 -1.1-2.7 -1-2.7 -0.7-2.8 -0.6-2.9 -0.5-2.9 -0.4-2.9 -0.3-3 -0.3-3 -0.3-3.1 -0.2-3 -0.2-3.1 -0.1-3.2 -0.1-3.1 -0.1-3.2 0.1-3.2 0-3.2 0.2-3.2 0.2-3.2 0.2-3.2 0.4-3.2 0.3-3.2 0.5-3.2 0.5-3.1 0.6-3.2 0.6-3.1 0.7-3 0.7-3.1 0.8-2.9 0.7-3 0.8-2.8 0.9-2.9 0.8-2.7 0.8-2.7 0.8-2.7 0.8-2.6 0.8-2.5 0.7-2.5 0.7-2.5 0.7-2.4 0.6-2.4 0.6-2.4"/><path stroke-dashoffset="1.03" d="M168.1,920.3l2.2-2.6 2.2-2.6 2-2.6 1.9-2.6 1.7-2.7 1.6-2.7 1.4-2.7 1.2-2.8 1-2.9 0.9-2.9 0.7-3 0.6-3 0.4-3.1 0.3-3.2 0.2-3.1 0.1-3.3 0-3.2 0-3.3 0-3.3 0-3.3 0-3.3 0.2-3.3 0.2-3.3 0.3-3.2 0.4-3.2 0.6-3.2 0.7-3.1 0.7-3.1 0.9-3.1 1-3.1 1-3 1.1-3 1-3 1.2-3 1.1-3 1.2-2.9 1.2-3 1.3-2.9 1.3-2.9 1.5-2.8 1.5-2.8 1.5-2.7 1.7-2.7 1.6-2.7 1.8-2.6 1.7-2.6 1.8-2.6 1.8-2.6 1.8-2.6 1.9-2.5 1.8-2.6 1.9-2.5 1.9-2.5 2-2.4 1.9-2.5 2-2.4 2.1-2.4 2-2.4 2.1-2.3 2.1-2.3 2.2-2.3 2.1-2.3 2.2-2.2 2.2-2.3 2.2-2.2 2.3-2.2 2.2-2.2 2.2-2.3 2.3-2.2 2.2-2.2 2.3-2.1 2.2-2.2 2.3-2.2 2.2-2.2 2.3-2.1 2.3-2.2 2.3-2.1 2.3-2.1 2.4-2.1 2.3-2 2.4-2.1 2.4-2 2.4-2 2.4-2 2.4-1.9 2.5-2 2.4-1.9 2.5-1.9 2.4-1.8 2.5-1.9 2.5-1.8 2.6-1.8 2.5-1.8 2.6-1.7 2.5-1.8 2.6-1.7 2.6-1.6 2.7-1.7 2.6-1.6 2.7-1.6 2.7-1.6 2.6-1.6 2.8-1.6 2.7-1.6 2.7-1.5 2.8-1.6 2.7-1.5 2.8-1.5 2.8-1.6 2.8-1.5 2.8-1.4 2.8-1.5 2.9-1.4 2.9-1.3 2.9-1.3 2.9-1.3 2.9-1.2 3-1.1 3-1.1 1.9-0.5 1.9-0.5 1.9-0.5 1.8-0.6 1.9-0.5 1.8-0.6 1.7-0.5 1.8-0.6 1.8-0.5 1.7-0.6 1.8-0.5 1.7-0.5 1.8-0.5 1.7-0.4 1.8-0.5 1.8-0.4 1.8-0.3 1.8-0.4 1.8-0.3 1.8-0.4 1.8-0.3 1.9-0.3 1.8-0.2 1.9-0.3 1.9-0.3 1.8-0.2 1.9-0.2 1.8-0.2 1.9-0.2 1.8-0.2 1.8-0.2 1.9-0.1 1.8-0.1 1.8-0.1 1.8,0 1.8,0 1.8,0 1.7,0 1.8,0 1.7,0.1 1.8,0.1 1.7,0.2 1.8,0.1 1.7,0.2 1.7,0.2 1.7,0.2 1.7,0.2 1.8,0.2 1.7,0.3 1.7,0.3 1.7,0.3 1.7,0.3 1.7,0.3 1.7,0.4 1.8,0.3 1.7,0.4 1.7,0.4 1.7,0.5 1.7,0.4 1.7,0.5 1.7,0.5 1.7,0.5 1.7,0.5 1.8,0.6 1.7,0.6 1.7,0.6 1.7,0.7 1.6,0.7 1.7,0.7 1.7,0.8 1.6,0.8 1.6,0.9 1.6,1 1.6,1 1.6,1.1 1.5,1.1 1.5,1.2 1.4,1.3 1.4,1.3 1.4,1.4 1.3,1.4 1.3,1.5 1.2,1.5 1.2,1.6 1.1,1.6 1.1,1.6 1,1.7 0.9,1.7 0.8,1.8 0.7,1.8 0.6,1.8 0.6,1.9 0.5,1.8 0.5,1.9 0.4,1.9 0.4,1.8 0.3,1.9 0.3,1.9 0.2,1.9 0.2,1.8 0.2,1.9 0.2,1.8 0.1,1.9 0.1,1.9 0.1,1.8 0.1,1.9 0,1.8 0,1.9 0,1.8 0,1.9 0,1.8 -0.1,1.9 0,1.8 -0.1,1.8 -0.1,1.9 -0.1,1.8 -0.1,1.9 -0.1,1.8 -0.1,1.9 -0.1,1.8 -0.2,1.8 -0.2,1.9 -0.1,1.8 -0.2,1.8 -0.2,1.9 -0.3,1.8 -0.2,1.8 -0.2,1.9 -0.3,1.8 -0.2,1.8 -0.3,1.9 -0.3,1.8 -0.3,1.8 -0.2,1.9 -0.3,1.8 -0.3,1.9 -0.3,1.8 -0.3,1.9 -0.4,1.8 -0.3,1.9 -0.3,1.8 -0.4,1.9 -0.4,1.8 -0.4,1.9 -0.4,1.9 -0.4,1.8 -0.4,1.9 -0.5,1.8 -0.4,1.9 -0.7,2.2 -0.8,2.2 -0.8,2.2 -0.9,2.2 -1,2.2 -1,2.1 -1.1,2.2 -1.2,2.1 -1.2,2.2 -1.2,2.1 -1.3,2.1 -1.3,2.1 -1.4,2.1 -1.3,2.1 -1.5,2.1 -1.4,2.1 -1.5,2.1 -1.5,2 -1.5,2.1 -1.5,2 -1.6,2.1 -1.6,2 -1.6,2 -1.7,1.9 -1.6,2 -1.8,1.9 -1.7,1.9 -1.8,1.9 -1.8,1.9 -1.9,1.8 -1.9,1.8 -1.9,1.8 -1.9,1.8 -2,1.7 -1.9,1.8 -2,1.7 -2.1,1.7 -2,1.6 -2,1.7 -2.1,1.7 -2,1.6 -2.1,1.7 -2,1.6 -2.1,1.6 -2.1,1.6 -2,1.6 -2.1,1.6 -2.1,1.6 -2.1,1.6 -2.1,1.6 -2.1,1.6 -2.1,1.5 -2.1,1.6 -2.1,1.6 -2.1,1.5 -2.1,1.6 -2.2,1.5 -2.1,1.5 -2.1,1.5 -2.1,1.6 -2.2,1.5 -2.1,1.4 -2.2,1.5 -2.1,1.5 -2.2,1.5 -2.2,1.4 -2.1,1.4 -2.2,1.5 -2.2,1.4 -2.2,1.4 -2.3,1.5 -2.2,1.5 -2.3,1.5 -2.3,1.5 -2.3,1.6 -2.3,1.6 -2.4,1.5 -2.3,1.7 -2.4,1.6 -2.5,1.6 -2.4,1.7 -2.5,1.7 -2.5,1.7 -2.5,1.8 -2.5,1.8 -2.6,1.8 -2.5,1.9 -2.6,1.9 -2.5,1.9 -2.6,2 -2.6,2 -2.6,2.1 -2.7,2.1 -2.6,2.1 -2.7,2.1 -2.7,2.2 -2.7,2.2 -2.8,2.2 -2.7,2.2 -2.8,2.2 -2.9,2.2 -2.9,2.3 -2.9,2.2 -2.9,2.3 -3,2.2 -3,2.3 -3,2.2 -3.1,2.2 -3.1,2.3 -3.2,2.2 -3.2,2.2 -3.2,2.3 -3.3,2.2 -3.3,2.2 -3.3,2.2 -3.3,2.2 -3.4,2.2 -3.4,2.2 -3.5,2.2 -3.4,2.2 -3.5,2.1 -3.5,2.2 -3.5,2.1 -3.6,2.2 -3.5,2.1 -3.6,2.1 -3.6,2.1 -3.6,2 -3.6,2.1 -3.6,2 -3.6,2 -3.6,2 -3.6,1.9 -3.5,2 -3.6,1.9 -3.6,1.9 -3.5,1.8 -3.6,1.8 -3.5,1.8 -3.6,1.7 -3.6,1.8 -3.6,1.6 -3.6,1.7 -3.6,1.6 -3.7,1.6 -3.7,1.5 -3.7,1.5 -3.8,1.4 -3.7,1 -3.5,0.3 -3.2-0.5 -3-1.4 -2.6-2 -2.3-2.4 -2-2.6 -1.6-2.7 -1.4-2.8 -1.1-2.9 -0.8-2.9 -0.6-3 -0.4-3.1 -0.3-3.1 -0.1-3.1 0-3.2 0-3.2 0.1-3.2 0.2-3.2 0.2-3.3 0.2-3.2 0.3-3.3 0.4-3.3 0.5-3.3 0.5-3.3 0.5-3.3 0.7-3.2 0.7-3.3 0.7-3.2 0.8-3.3 0.9-3.1 0.9-3.2 1-3.1 1-3 1.1-3 1.1-2.9 1-2.9 1.1-2.8 1.1-2.7 1-2.6 1.1-2.6 1-2.6 0.9-2.4 0.9-2.4 0.9-2.4 0.8-2.3 0.7-2.2 0.7-2.3 0.6-2.2 0.5-2.2 0.5-2.1"/><path stroke-dashoffset="1.40" d="M177.5,922.7l2.2-2.5 2.2-2.5 1.9-2.6 1.9-2.6 1.6-2.6 1.5-2.7 1.3-2.7 1.1-2.8 1-2.9 0.8-2.8 0.6-3 0.6-3 0.4-3 0.2-3.1 0.2-3.2 0.1-3.1 0-3.2 0-3.3 0-3.2 -0.1-3.3 0.1-3.3 0.1-3.2 0.1-3.2 0.3-3.3 0.4-3.1 0.5-3.2 0.7-3.1 0.7-3 0.8-3.1 0.9-3 1-3 1-3 1.1-2.9 1.1-3 1.1-2.9 1.1-3 1.1-2.9 1.3-2.8 1.3-2.9 1.4-2.8 1.4-2.7 1.5-2.8 1.5-2.7 1.6-2.6 1.6-2.7 1.7-2.6 1.7-2.6 1.7-2.6 1.7-2.6 1.7-2.5 1.8-2.6 1.8-2.5 1.8-2.5 1.8-2.5 1.9-2.5 1.8-2.4 2-2.4 1.9-2.4 2-2.4 2-2.3 2.1-2.3 2-2.3 2.1-2.3 2.1-2.3 2.1-2.2 2.2-2.3 2.1-2.2 2.1-2.3 2.2-2.2 2.1-2.2 2.1-2.3 2.2-2.2 2.2-2.2 2.1-2.2 2.2-2.2 2.2-2.1 2.2-2.2 2.2-2.1 2.3-2.2 2.2-2.1 2.3-2.1 2.2-2 2.3-2.1 2.3-2 2.3-2 2.4-2 2.3-2 2.3-2 2.4-1.9 2.4-1.9 2.4-1.9 2.4-1.9 2.4-1.8 2.4-1.9 2.5-1.8 2.5-1.7 2.5-1.8 2.5-1.7 2.5-1.7 2.6-1.7 2.6-1.7 2.6-1.6 2.6-1.7 2.6-1.6 2.7-1.6 2.6-1.6 2.7-1.6 2.7-1.6 2.7-1.5 2.7-1.5 2.8-1.5 2.8-1.4 2.8-1.4 2.8-1.4 2.9-1.2 2.9-1.3 2.9-1.1 2.9-1.1 3-0.9 1.8-0.5 1.9-0.5 1.8-0.4 1.8-0.5 1.7-0.5 1.8-0.4 1.7-0.5 1.7-0.4 1.7-0.4 1.7-0.4 1.7-0.4 1.7-0.4 1.7-0.3 1.7-0.3 1.7-0.3 1.7-0.3 1.8-0.3 1.7-0.2 1.8-0.2 1.7-0.2 1.8-0.2 1.8-0.2 1.8-0.2 1.7-0.1 1.8-0.2 1.8-0.1 1.8-0.1 1.8-0.1 1.8-0.1 1.7-0.1 1.8,0 1.7,0 1.8,0 1.7,0 1.7,0.1 1.7,0.1 1.7,0.1 1.7,0.2 1.6,0.2 1.7,0.2 1.6,0.2 1.7,0.3 1.6,0.3 1.6,0.3 1.6,0.3 1.7,0.4 1.6,0.3 1.6,0.4 1.6,0.4 1.6,0.4 1.6,0.5 1.6,0.4 1.6,0.5 1.6,0.5 1.6,0.4 1.6,0.6 1.6,0.5 1.6,0.5 1.5,0.6 1.6,0.6 1.6,0.6 1.6,0.6 1.6,0.6 1.6,0.7 1.6,0.7 1.5,0.7 1.6,0.7 1.6,0.8 1.5,0.8 1.5,0.8 1.6,0.9 1.5,1 1.4,1 1.5,1 1.4,1.1 1.4,1.2 1.4,1.2 1.3,1.2 1.4,1.3 1.2,1.4 1.3,1.4 1.2,1.4 1.1,1.5 1.2,1.5 1,1.5 1,1.6 1,1.6 0.8,1.7 0.8,1.7 0.8,1.7 0.6,1.7 0.6,1.7 0.6,1.8 0.5,1.8 0.4,1.7 0.5,1.8 0.3,1.8 0.4,1.8 0.3,1.7 0.3,1.8 0.3,1.8 0.2,1.8 0.2,1.7 0.2,1.8 0.2,1.8 0.2,1.7 0.1,1.8 0.1,1.8 0.1,1.7 0.1,1.8 0.1,1.8 0.1,1.7 0,1.8 0.1,1.7 0,1.8 0,1.8 0,1.7 0,1.8 0,1.7 0,1.8 -0.1,1.8 0,1.7 -0.1,1.8 -0.1,1.7 -0.1,1.8 -0.1,1.8 -0.1,1.7 -0.1,1.8 -0.1,1.8 -0.2,1.7 -0.1,1.8 -0.2,1.8 -0.2,1.7 -0.2,1.8 -0.1,1.8 -0.2,1.8 -0.2,1.7 -0.2,1.8 -0.3,1.8 -0.2,1.8 -0.3,1.8 -0.2,1.8 -0.3,1.8 -0.3,1.7 -0.3,1.8 -0.3,1.8 -0.4,1.8 -0.3,1.8 -0.4,1.8 -0.5,2.4 -0.6,2.3 -0.7,2.4 -0.8,2.4 -0.9,2.3 -0.9,2.3 -0.9,2.4 -1.1,2.3 -1.1,2.3 -1.1,2.3 -1.2,2.2 -1.3,2.3 -1.3,2.3 -1.3,2.2 -1.4,2.3 -1.4,2.2 -1.4,2.2 -1.4,2.2 -1.5,2.2 -1.5,2.2 -1.6,2.1 -1.5,2.2 -1.7,2.1 -1.6,2.1 -1.7,2.1 -1.7,2.1 -1.8,2 -1.8,2 -1.8,1.9 -1.9,2 -1.9,1.9 -1.9,1.8 -2,1.9 -2,1.8 -2.1,1.8 -2,1.8 -2.1,1.8 -2.1,1.7 -2.1,1.8 -2.1,1.7 -2.1,1.7 -2.1,1.7 -2.1,1.7 -2.2,1.7 -2.1,1.6 -2.2,1.7 -2.1,1.6 -2.2,1.7 -2.2,1.6 -2.1,1.6 -2.2,1.6 -2.2,1.6 -2.2,1.6 -2.2,1.6 -2.2,1.6 -2.2,1.6 -2.2,1.5 -2.2,1.6 -2.3,1.5 -2.2,1.6 -2.2,1.5 -2.3,1.5 -2.2,1.5 -2.3,1.5 -2.2,1.4 -2.3,1.5 -2.3,1.4 -2.3,1.4 -2.3,1.5 -2.3,1.4 -2.3,1.5 -2.4,1.5 -2.4,1.5 -2.4,1.5 -2.4,1.5 -2.4,1.6 -2.5,1.5 -2.5,1.6 -2.5,1.6 -2.5,1.7 -2.5,1.6 -2.6,1.7 -2.6,1.8 -2.6,1.7 -2.6,1.8 -2.7,1.8 -2.6,1.9 -2.6,1.9 -2.7,1.9 -2.7,2 -2.7,2 -2.7,2 -2.7,2.1 -2.7,2 -2.8,2.1 -2.8,2.2 -2.8,2.1 -2.8,2.2 -2.9,2.1 -2.9,2.2 -2.9,2.2 -2.9,2.1 -3,2.2 -3,2.2 -3.1,2.2 -3,2.1 -3.1,2.2 -3.2,2.1 -3.1,2.2 -3.2,2.1 -3.2,2.2 -3.3,2.1 -3.3,2.1 -3.3,2.1 -3.3,2.1 -3.4,2.1 -3.3,2.1 -3.4,2.1 -3.5,2 -3.4,2.1 -3.5,2 -3.4,2 -3.5,2 -3.5,2 -3.5,2 -3.5,1.9 -3.5,2 -3.5,1.9 -3.6,1.9 -3.5,1.8 -3.4,1.8 -3.5,1.9 -3.5,1.7 -3.4,1.8 -3.5,1.7 -3.4,1.7 -3.4,1.6 -3.4,1.7 -3.4,1.6 -3.4,1.5 -3.4,1.5 -3.4,1.5 -3.4,1.5 -3.5,1.4 -3.4,1.3 -3.5,1.4 -3.6,1.3 -3.5,1.1 -3.4,0.7 -3.3,0.1 -3-0.8 -2.6-1.6 -2.4-2.3 -2-2.7 -1.6-2.9 -1.4-3 -1-3 -0.7-3.1 -0.5-3.2 -0.2-3.2 0-3.3 0.1-3.3 0.3-3.3 0.4-3.3 0.4-3.4 0.6-3.4 0.5-3.4 0.7-3.4 0.7-3.4 0.8-3.3 0.8-3.4 0.9-3.4 1-3.3 1.1-3.3 1.1-3.3 1.1-3.2 1.2-3.2 1.3-3.2 1.3-3.1 1.3-3 1.3-2.9 1.4-2.9 1.3-2.8 1.3-2.7 1.3-2.6 1.2-2.6 1.2-2.5 1.1-2.4 1.1-2.3 1-2.3 0.9-2.2 0.8-2.1 0.7-2.1 0.7-2.1 0.5-2 0.5-2.1 0.4-2 0.3-2 0.3-2"/><path stroke-dashoffset="1.77" d="M185.7,924.9l2.1-2.5 2-2.5 1.8-2.6 1.7-2.6 1.5-2.6 1.4-2.7 1.2-2.7 1-2.8 1-2.8 0.8-2.9 0.7-2.9 0.5-2.9 0.5-3 0.3-3 0.2-3.1 0.2-3.1 0.1-3.1 0-3.2 0.1-3.2 0-3.2 0.1-3.2 0.1-3.2 0.2-3.2 0.3-3.1 0.4-3.2 0.5-3 0.6-3.1 0.7-3 0.8-3 0.9-3 1-2.9 1-3 1-2.9 1.1-2.9 1-2.9 1.1-2.9 1.1-2.9 1.2-2.8 1.3-2.8 1.3-2.8 1.4-2.7 1.4-2.8 1.4-2.7 1.5-2.6 1.6-2.7 1.5-2.6 1.6-2.6 1.6-2.6 1.6-2.6 1.7-2.6 1.6-2.5 1.7-2.6 1.7-2.5 1.7-2.5 1.8-2.5 1.8-2.4 1.8-2.5 1.8-2.4 1.9-2.4 1.9-2.3 2-2.4 2-2.3 2-2.3 2-2.3 2-2.3 2-2.3 2.1-2.2 2-2.3 2-2.3 2.1-2.2 2-2.3 2-2.2 2.1-2.3 2.1-2.2 2-2.2 2.1-2.2 2.1-2.2 2.2-2.2 2.1-2.2 2.1-2.1 2.2-2.1 2.2-2.1 2.2-2.1 2.2-2.1 2.2-2.1 2.2-2.1 2.2-2 2.2-2 2.3-2 2.2-2 2.3-2 2.3-1.9 2.3-2 2.3-1.9 2.4-1.8 2.3-1.9 2.4-1.8 2.4-1.8 2.5-1.8 2.4-1.7 2.5-1.8 2.5-1.7 2.6-1.7 2.5-1.7 2.6-1.6 2.5-1.7 2.6-1.6 2.7-1.6 2.6-1.6 2.7-1.5 2.7-1.5 2.7-1.4 2.8-1.4 2.7-1.4 2.9-1.2 2.8-1.2 2.9-1.1 2.9-1 3-0.9 1.7-0.4 1.8-0.4 1.7-0.4 1.8-0.4 1.7-0.4 1.7-0.3 1.6-0.3 1.7-0.4 1.7-0.3 1.6-0.2 1.7-0.3 1.6-0.2 1.7-0.3 1.6-0.2 1.7-0.1 1.6-0.2 1.7-0.1 1.7-0.1 1.7-0.1 1.7-0.1 1.7-0.1 1.7-0.1 1.7,0 1.7-0.1 1.7,0 1.8-0.1 1.7,0 1.7,0 1.7,0 1.7,0.1 1.7,0.1 1.6,0 1.7,0.2 1.6,0.1 1.7,0.2 1.6,0.2 1.6,0.3 1.6,0.3 1.5,0.3 1.6,0.4 1.6,0.3 1.5,0.5 1.5,0.4 1.6,0.4 1.5,0.5 1.5,0.5 1.5,0.5 1.5,0.5 1.5,0.5 1.5,0.6 1.5,0.5 1.5,0.6 1.5,0.6 1.4,0.6 1.5,0.6 1.5,0.6 1.5,0.7 1.5,0.6 1.4,0.7 1.5,0.7 1.5,0.7 1.5,0.7 1.4,0.7 1.5,0.8 1.4,0.7 1.5,0.8 1.4,0.8 1.5,0.9 1.4,0.9 1.4,0.9 1.4,0.9 1.4,1 1.3,1 1.4,1.1 1.3,1.1 1.3,1.2 1.3,1.2 1.2,1.2 1.2,1.3 1.2,1.3 1.2,1.4 1.1,1.4 1.1,1.4 1,1.5 1,1.5 1,1.5 0.9,1.5 0.9,1.6 0.7,1.6 0.8,1.6 0.6,1.7 0.7,1.6 0.6,1.7 0.5,1.7 0.5,1.6 0.5,1.7 0.4,1.7 0.4,1.7 0.4,1.7 0.4,1.7 0.4,1.6 0.3,1.7 0.3,1.7 0.3,1.7 0.2,1.7 0.3,1.7 0.2,1.6 0.2,1.7 0.2,1.7 0.2,1.7 0.2,1.7 0.2,1.6 0.1,1.7 0.2,1.7 0.1,1.7 0.2,1.7 0.1,1.7 0.1,1.6 0.1,1.7 0.1,1.7 0,1.7 0.1,1.7 0,1.7 0.1,1.7 0,1.7 0,1.6 0,1.7 0,1.7 -0.1,1.7 0,1.7 -0.1,1.7 0,1.7 -0.1,1.7 0,1.7 -0.1,1.7 -0.1,1.8 -0.1,1.7 -0.1,1.7 -0.2,1.7 -0.1,1.7 -0.2,1.8 -0.1,1.7 -0.2,1.7 -0.2,1.7 -0.3,1.8 -0.2,1.7 -0.3,1.7 -0.2,1.7 -0.3,1.8 -0.4,2.5 -0.4,2.6 -0.6,2.5 -0.6,2.5 -0.7,2.5 -0.8,2.5 -0.9,2.5 -1,2.4 -1,2.5 -1,2.4 -1.2,2.5 -1.1,2.4 -1.3,2.4 -1.2,2.4 -1.4,2.4 -1.3,2.3 -1.4,2.4 -1.4,2.3 -1.4,2.4 -1.5,2.3 -1.5,2.3 -1.6,2.3 -1.6,2.2 -1.6,2.2 -1.7,2.2 -1.7,2.2 -1.8,2.1 -1.8,2.1 -1.9,2.1 -1.9,2 -1.9,2 -2,2 -2,1.9 -2.1,1.9 -2.1,1.9 -2.1,1.8 -2.1,1.9 -2.2,1.8 -2.1,1.8 -2.2,1.8 -2.2,1.7 -2.1,1.8 -2.2,1.7 -2.2,1.8 -2.3,1.7 -2.2,1.7 -2.2,1.7 -2.2,1.7 -2.3,1.6 -2.2,1.7 -2.3,1.7 -2.3,1.6 -2.2,1.6 -2.3,1.6 -2.3,1.7 -2.3,1.6 -2.3,1.5 -2.3,1.6 -2.3,1.6 -2.3,1.5 -2.4,1.6 -2.3,1.5 -2.4,1.5 -2.3,1.5 -2.4,1.5 -2.4,1.4 -2.3,1.5 -2.4,1.4 -2.4,1.4 -2.5,1.4 -2.4,1.5 -2.5,1.5 -2.4,1.4 -2.5,1.5 -2.6,1.6 -2.5,1.5 -2.6,1.6 -2.5,1.5 -2.6,1.6 -2.7,1.6 -2.6,1.7 -2.6,1.7 -2.7,1.7 -2.7,1.7 -2.7,1.7 -2.7,1.8 -2.7,1.9 -2.8,1.9 -2.7,1.9 -2.7,1.9 -2.8,1.9 -2.8,2 -2.8,2 -2.8,2.1 -2.8,2 -2.9,2.1 -2.9,2.1 -2.8,2 -3,2.1 -2.9,2.1 -3,2.1 -3,2.1 -3,2.1 -3,2.1 -3.1,2 -3.1,2.1 -3.2,2.1 -3.1,2 -3.2,2 -3.2,2.1 -3.2,2 -3.3,2 -3.2,2 -3.3,1.9 -3.3,2 -3.4,2 -3.3,1.9 -3.4,1.9 -3.3,2 -3.4,1.8 -3.4,1.9 -3.4,1.9 -3.4,1.8 -3.4,1.8 -3.4,1.8 -3.4,1.8 -3.4,1.8 -3.4,1.7 -3.4,1.7 -3.4,1.7 -3.3,1.6 -3.4,1.6 -3.3,1.6 -3.3,1.6 -3.2,1.5 -3.3,1.4 -3.2,1.5 -3.2,1.4 -3.2,1.4 -3.2,1.3 -3.1,1.3 -3.2,1.3 -3.2,1.2 -3.2,1.2 -3.3,1.1 -3.2,1.1 -3.3,1.1 -3.2,0.9 -3.2,0.4 -2.9-0.1 -2.7-1.1 -2.4-1.9 -2-2.5 -1.6-3 -1.3-3.1 -1-3.2 -0.6-3.3 -0.4-3.3 -0.1-3.4 0.2-3.4 0.4-3.4 0.5-3.5 0.7-3.4 0.8-3.5 0.9-3.5 0.9-3.5 1.1-3.5 1.1-3.5 1.1-3.4 1.3-3.4 1.3-3.4 1.3-3.4 1.4-3.3 1.5-3.3 1.5-3.2 1.5-3.1 1.6-3.1 1.5-3 1.6-2.9 1.5-2.8 1.6-2.7 1.4-2.7 1.5-2.5 1.3-2.5 1.3-2.3 1.2-2.3 1.1-2.2 1-2.2 0.9-2 0.8-2.1 0.6-1.9 0.6-1.9 0.4-1.9 0.4-1.9 0.3-1.9 0.2-1.8 0.1-1.9 0-1.8 0-1.9"/><path stroke-dashoffset="2.14" d="M192.2,926.6l1.9-2.5 1.8-2.6 1.6-2.6 1.5-2.6 1.4-2.6 1.3-2.7 1.1-2.7 1.1-2.7 0.9-2.8 0.9-2.8 0.7-2.9 0.6-2.9 0.6-2.9 0.4-2.9 0.4-3 0.3-3 0.3-3.1 0.2-3.1 0.1-3.1 0.2-3.1 0.2-3.1 0.2-3.1 0.3-3.1 0.4-3.1 0.4-3.1 0.6-3 0.6-3 0.7-3 0.8-2.9 0.9-2.9 1-2.9 0.9-2.9 1.1-2.9 1-2.9 1.1-2.8 1-2.9 1.1-2.8 1.2-2.8 1.2-2.8 1.3-2.8 1.3-2.7 1.3-2.7 1.4-2.7 1.4-2.6 1.5-2.7 1.4-2.6 1.5-2.6 1.5-2.6 1.5-2.6 1.6-2.6 1.5-2.6 1.6-2.6 1.6-2.5 1.7-2.5 1.6-2.5 1.7-2.5 1.7-2.5 1.8-2.4 1.8-2.4 1.8-2.4 1.9-2.3 1.9-2.4 1.9-2.3 1.9-2.3 1.9-2.3 1.9-2.3 2-2.3 1.9-2.3 2-2.3 1.9-2.3 2-2.3 1.9-2.3 2-2.3 1.9-2.2 2-2.3 2-2.2 2-2.2 2.1-2.2 2-2.2 2.1-2.2 2-2.2 2.1-2.2 2.1-2.1 2.1-2.1 2.1-2.2 2.1-2.1 2.1-2.1 2.1-2.1 2.2-2 2.1-2.1 2.2-2 2.2-2 2.2-2 2.2-2 2.2-1.9 2.3-2 2.3-1.9 2.3-1.8 2.4-1.9 2.3-1.8 2.4-1.8 2.4-1.8 2.5-1.7 2.4-1.7 2.5-1.8 2.5-1.6 2.6-1.7 2.5-1.6 2.6-1.6 2.6-1.6 2.6-1.5 2.7-1.4 2.7-1.4 2.7-1.3 2.8-1.2 2.8-1.2 2.9-1 2.9-1 2.9-0.8 1.7-0.4 1.7-0.3 1.7-0.4 1.7-0.3 1.6-0.3 1.7-0.2 1.6-0.3 1.6-0.2 1.6-0.2 1.6-0.1 1.6-0.2 1.6-0.1 1.6-0.1 1.6-0.1 1.6,0 1.7,0 1.6-0.1 1.6,0 1.6,0 1.7,0.1 1.6,0 1.7,0 1.6,0 1.7,0.1 1.6,0 1.7,0.1 1.6,0.1 1.7,0.1 1.6,0.1 1.7,0.2 1.6,0.1 1.6,0.2 1.6,0.3 1.5,0.2 1.6,0.3 1.5,0.4 1.5,0.3 1.5,0.5 1.5,0.4 1.5,0.5 1.5,0.5 1.4,0.5 1.5,0.6 1.4,0.5 1.4,0.6 1.4,0.6 1.4,0.7 1.4,0.6 1.4,0.7 1.4,0.7 1.4,0.6 1.4,0.7 1.4,0.7 1.4,0.7 1.3,0.8 1.4,0.7 1.4,0.7 1.4,0.8 1.3,0.8 1.4,0.7 1.4,0.8 1.3,0.8 1.4,0.9 1.3,0.8 1.4,0.8 1.3,0.9 1.3,0.9 1.3,0.9 1.3,0.9 1.3,1 1.3,1 1.3,1 1.2,1.1 1.3,1.1 1.2,1.1 1.2,1.2 1.2,1.2 1.1,1.2 1.1,1.3 1.1,1.3 1.1,1.3 1.1,1.4 1,1.4 1,1.4 0.9,1.4 0.9,1.5 0.9,1.5 0.8,1.5 0.8,1.5 0.8,1.5 0.6,1.6 0.7,1.6 0.6,1.5 0.6,1.6 0.5,1.6 0.6,1.6 0.5,1.6 0.5,1.6 0.4,1.6 0.5,1.6 0.4,1.6 0.4,1.6 0.4,1.6 0.3,1.6 0.4,1.6 0.3,1.6 0.3,1.6 0.3,1.6 0.3,1.6 0.3,1.6 0.3,1.6 0.3,1.6 0.2,1.6 0.3,1.6 0.2,1.7 0.2,1.6 0.3,1.6 0.2,1.6 0.2,1.6 0.1,1.6 0.2,1.7 0.2,1.6 0.1,1.6 0.2,1.6 0.1,1.6 0.1,1.7 0.1,1.6 0.1,1.6 0.1,1.7 0,1.6 0.1,1.6 0,1.7 0.1,1.6 0,1.6 0,1.7 0,1.6 0,1.7 -0.1,1.7 0,1.6 0,1.7 -0.1,1.6 -0.1,1.7 -0.1,1.7 -0.1,1.6 -0.2,1.7 -0.1,1.7 -0.2,1.6 -0.2,1.7 -0.2,1.7 -0.2,2.7 -0.3,2.7 -0.4,2.6 -0.5,2.7 -0.6,2.6 -0.7,2.7 -0.8,2.6 -0.9,2.6 -0.9,2.6 -1,2.6 -1,2.6 -1.1,2.5 -1.2,2.6 -1.2,2.5 -1.3,2.5 -1.3,2.6 -1.4,2.5 -1.3,2.4 -1.4,2.5 -1.5,2.4 -1.5,2.5 -1.5,2.4 -1.6,2.3 -1.6,2.4 -1.7,2.3 -1.7,2.2 -1.8,2.3 -1.8,2.2 -1.9,2.1 -2,2.1 -1.9,2.1 -2.1,2 -2,2.1 -2.1,1.9 -2.1,2 -2.2,1.9 -2.2,1.9 -2.2,1.9 -2.2,1.8 -2.2,1.9 -2.3,1.8 -2.2,1.8 -2.3,1.8 -2.2,1.8 -2.3,1.8 -2.3,1.7 -2.3,1.7 -2.3,1.8 -2.3,1.7 -2.3,1.7 -2.4,1.7 -2.3,1.6 -2.4,1.7 -2.3,1.7 -2.4,1.6 -2.4,1.6 -2.3,1.6 -2.4,1.6 -2.4,1.6 -2.4,1.6 -2.5,1.5 -2.4,1.6 -2.4,1.5 -2.5,1.5 -2.4,1.5 -2.5,1.4 -2.5,1.5 -2.5,1.4 -2.5,1.4 -2.5,1.4 -2.5,1.5 -2.6,1.4 -2.6,1.5 -2.6,1.5 -2.6,1.5 -2.6,1.5 -2.7,1.5 -2.6,1.5 -2.7,1.6 -2.7,1.6 -2.7,1.6 -2.7,1.7 -2.8,1.6 -2.7,1.7 -2.8,1.8 -2.8,1.7 -2.8,1.8 -2.8,1.8 -2.8,1.9 -2.8,1.9 -2.8,1.9 -2.8,1.9 -2.9,2 -2.8,1.9 -2.9,2 -2.9,2 -2.9,2 -3,2 -2.9,1.9 -3,2 -3,2 -3,2 -3.1,2 -3,1.9 -3.1,2 -3.1,1.9 -3.1,2 -3.2,1.9 -3.1,1.9 -3.2,1.9 -3.2,1.8 -3.2,1.9 -3.3,1.9 -3.2,1.8 -3.3,1.8 -3.2,1.8 -3.3,1.8 -3.3,1.7 -3.3,1.8 -3.3,1.7 -3.3,1.7 -3.3,1.7 -3.3,1.6 -3.3,1.7 -3.2,1.6 -3.3,1.6 -3.3,1.5 -3.2,1.6 -3.2,1.5 -3.2,1.4 -3.2,1.5 -3.1,1.4 -3.2,1.3 -3.1,1.4 -3,1.3 -3,1.2 -3,1.2 -3,1.2 -3,1.2 -2.9,1.1 -3,1 -2.9,1.1 -2.9,0.9 -3,1 -2.9,0.9 -3,0.8 -2.9,0.8 -3,0.6 -2.8,0.3 -2.6-0.5 -2.3-1.3 -2-2.1 -1.7-2.8 -1.3-3.1 -0.9-3.3 -0.6-3.4 -0.2-3.5 0-3.5 0.3-3.5 0.6-3.5 0.7-3.6 1-3.5 1.1-3.6 1.2-3.6 1.3-3.5 1.3-3.6 1.5-3.5 1.5-3.5 1.5-3.4 1.6-3.4 1.7-3.4 1.7-3.2 1.7-3.2 1.8-3.2 1.7-3 1.8-3 1.7-2.9 1.7-2.7 1.7-2.7 1.6-2.6 1.5-2.4 1.4-2.4 1.3-2.3 1.2-2.2 1.1-2.1 1-2 0.8-1.9 0.7-1.9 0.6-1.8 0.4-1.8 0.3-1.8 0.2-1.7 0.1-1.7 0-1.7 -0.1-1.7 -0.2-1.8 -0.2-1.7 -0.3-1.8 -0.3-1.8"/><path stroke-dashoffset="0.21" d="M196.9,927.8l1.7-2.5 1.5-2.6 1.5-2.6 1.4-2.7 1.3-2.6 1.2-2.7 1.1-2.7 1-2.7 1-2.7 0.9-2.8 0.8-2.8 0.8-2.8 0.7-2.9 0.6-2.9 0.5-2.9 0.5-2.9 0.5-3 0.3-2.9 0.4-3 0.4-3.1 0.3-3 0.4-3 0.4-3 0.5-3 0.5-3 0.7-3 0.7-2.9 0.8-2.9 0.8-2.9 0.9-2.9 1-2.8 0.9-2.8 1.1-2.9 1-2.8 1-2.8 1.1-2.8 1.1-2.8 1.1-2.8 1.2-2.7 1.2-2.8 1.3-2.7 1.3-2.7 1.3-2.7 1.3-2.6 1.4-2.7 1.4-2.6 1.4-2.6 1.4-2.6 1.4-2.6 1.5-2.6 1.5-2.6 1.5-2.6 1.5-2.5 1.5-2.6 1.6-2.5 1.6-2.5 1.6-2.5 1.7-2.4 1.7-2.5 1.8-2.4 1.8-2.3 1.8-2.4 1.8-2.3 1.8-2.4 1.9-2.3 1.8-2.3 1.9-2.4 1.8-2.3 1.9-2.3 1.8-2.3 1.9-2.3 1.9-2.3 1.8-2.3 1.9-2.3 1.9-2.3 1.9-2.3 2-2.2 1.9-2.3 2-2.2 2-2.2 1.9-2.2 2-2.2 2-2.2 2-2.2 2-2.2 2-2.1 2.1-2.2 2-2.1 2-2.1 2.1-2.2 2.1-2.1 2-2 2.1-2.1 2.2-2 2.1-2 2.2-2 2.2-2 2.2-1.9 2.3-1.9 2.3-1.9 2.3-1.8 2.3-1.9 2.4-1.8 2.4-1.7 2.4-1.8 2.4-1.7 2.5-1.7 2.5-1.7 2.5-1.6 2.6-1.6 2.5-1.5 2.7-1.4 2.6-1.4 2.7-1.3 2.8-1.2 2.7-1.1 2.9-1 2.8-0.9 3-0.8 1.6-0.3 1.7-0.3 1.6-0.3 1.6-0.2 1.6-0.2 1.6-0.2 1.6-0.2 1.6-0.1 1.5-0.1 1.6,0 1.6-0.1 1.5,0 1.6,0 1.5,0.1 1.6,0 1.6,0.1 1.5,0.1 1.6,0.1 1.6,0.1 1.6,0.1 1.6,0.1 1.6,0.1 1.6,0.2 1.6,0.1 1.6,0.1 1.6,0.2 1.6,0.2 1.5,0.2 1.6,0.2 1.6,0.2 1.5,0.3 1.6,0.2 1.5,0.4 1.5,0.3 1.5,0.4 1.4,0.5 1.5,0.5 1.4,0.5 1.4,0.5 1.4,0.6 1.4,0.6 1.4,0.7 1.3,0.7 1.4,0.6 1.3,0.8 1.3,0.7 1.3,0.7 1.4,0.8 1.3,0.8 1.3,0.8 1.3,0.8 1.3,0.8 1.2,0.8 1.3,0.8 1.3,0.8 1.3,0.8 1.3,0.9 1.3,0.8 1.2,0.9 1.3,0.8 1.3,0.9 1.2,0.9 1.3,0.9 1.2,0.9 1.2,0.9 1.3,1 1.2,0.9 1.2,1 1.2,1 1.2,1 1.2,1 1.2,1.1 1.1,1.1 1.2,1.1 1.1,1.2 1.1,1.2 1.1,1.2 1,1.2 1.1,1.2 1,1.3 1,1.3 1,1.3 1,1.4 0.9,1.4 0.9,1.3 0.9,1.5 0.8,1.4 0.8,1.4 0.8,1.5 0.7,1.4 0.7,1.5 0.7,1.5 0.6,1.5 0.7,1.5 0.5,1.5 0.6,1.5 0.6,1.6 0.5,1.5 0.5,1.5 0.5,1.5 0.5,1.5 0.5,1.6 0.4,1.5 0.5,1.5 0.4,1.6 0.4,1.5 0.4,1.5 0.4,1.5 0.4,1.6 0.4,1.5 0.3,1.6 0.4,1.5 0.3,1.5 0.4,1.6 0.3,1.5 0.3,1.6 0.3,1.5 0.3,1.6 0.3,1.5 0.3,1.6 0.3,1.5 0.2,1.6 0.2,1.6 0.3,1.5 0.2,1.6 0.2,1.5 0.2,1.6 0.2,1.6 0.1,1.6 0.2,1.5 0.1,1.6 0.2,1.6 0.1,1.6 0.1,1.6 0.1,1.6 0.1,1.6 0.1,1.6 0,1.6 0.1,1.6 0,1.6 0,1.6 0,1.6 0,1.6 -0.1,1.6 -0.1,1.6 0,1.6 -0.1,1.7 -0.2,1.6 -0.1,1.6 -0.1,2.8 -0.2,2.8 -0.2,2.9 -0.4,2.8 -0.5,2.7 -0.6,2.8 -0.7,2.8 -0.8,2.7 -0.8,2.7 -1,2.8 -0.9,2.7 -1.1,2.6 -1.1,2.7 -1.2,2.7 -1.2,2.6 -1.3,2.7 -1.3,2.6 -1.3,2.6 -1.4,2.6 -1.4,2.5 -1.5,2.5 -1.5,2.5 -1.6,2.5 -1.6,2.5 -1.7,2.4 -1.7,2.3 -1.8,2.4 -1.9,2.2 -1.9,2.3 -1.9,2.2 -2,2.1 -2.1,2.1 -2.1,2.1 -2.1,2.1 -2.2,2 -2.2,1.9 -2.2,2 -2.3,1.9 -2.2,2 -2.3,1.8 -2.3,1.9 -2.3,1.9 -2.3,1.8 -2.3,1.8 -2.4,1.9 -2.3,1.7 -2.4,1.8 -2.3,1.8 -2.4,1.7 -2.4,1.8 -2.4,1.7 -2.4,1.7 -2.4,1.7 -2.5,1.7 -2.4,1.6 -2.4,1.7 -2.5,1.6 -2.5,1.6 -2.4,1.6 -2.5,1.6 -2.5,1.6 -2.5,1.5 -2.6,1.5 -2.5,1.6 -2.5,1.4 -2.6,1.5 -2.6,1.4 -2.5,1.5 -2.6,1.4 -2.6,1.4 -2.7,1.4 -2.6,1.4 -2.7,1.5 -2.6,1.4 -2.7,1.5 -2.7,1.5 -2.8,1.5 -2.7,1.5 -2.8,1.5 -2.7,1.6 -2.8,1.6 -2.8,1.6 -2.8,1.6 -2.8,1.6 -2.8,1.7 -2.8,1.7 -2.9,1.8 -2.8,1.7 -2.8,1.8 -2.9,1.9 -2.8,1.8 -2.9,1.8 -2.9,1.9 -2.9,1.9 -2.9,1.9 -2.9,1.9 -3,1.8 -2.9,1.9 -3,1.9 -3,1.9 -3,1.9 -3,1.8 -3,1.9 -3.1,1.8 -3,1.8 -3.1,1.8 -3.1,1.8 -3.1,1.8 -3.1,1.7 -3.2,1.8 -3.1,1.7 -3.2,1.7 -3.1,1.7 -3.2,1.6 -3.1,1.7 -3.2,1.6 -3.2,1.6 -3.2,1.6 -3.2,1.5 -3.1,1.6 -3.2,1.5 -3.2,1.5 -3.1,1.4 -3.1,1.5 -3.2,1.4 -3.1,1.4 -3.1,1.3 -3,1.3 -3.1,1.3 -3,1.3 -2.9,1.2 -3,1.2 -2.9,1.1 -2.9,1.1 -2.8,1.1 -2.8,1 -2.7,1 -2.8,1 -2.7,0.9 -2.7,0.9 -2.6,0.8 -2.7,0.8 -2.6,0.7 -2.7,0.7 -2.6,0.6 -2.6,0.6 -2.7,0.5 -2.6,0.4 -2.4,0 -2.3-0.7 -1.9-1.6 -1.7-2.3 -1.2-2.9 -0.9-3.4 -0.6-3.4 -0.2-3.5 0.2-3.6 0.4-3.6 0.7-3.6 0.9-3.6 1.1-3.6 1.3-3.6 1.5-3.7 1.5-3.5 1.7-3.6 1.7-3.5 1.8-3.5 1.8-3.4 1.8-3.4 1.9-3.2 1.9-3.2 1.9-3.2 1.9-3 1.9-2.9 1.9-2.9 1.8-2.7 1.7-2.6 1.7-2.5 1.5-2.4 1.5-2.2 1.3-2.2 1.1-2.1 1-2 0.9-1.9 0.7-1.8 0.6-1.7 0.4-1.7 0.3-1.7 0.1-1.6 0-1.6 -0.1-1.6 -0.2-1.6 -0.4-1.6 -0.4-1.6 -0.4-1.6 -0.6-1.7 -0.5-1.7 -0.6-1.7 -0.6-1.8"/><path stroke-dashoffset="0.58" d="M200,928.6l1.4-2.6 1.4-2.6 1.4-2.6 1.2-2.7 1.2-2.6 1.2-2.7 1.1-2.7 1-2.7 1.1-2.7 0.9-2.7 1-2.8 0.8-2.8 0.9-2.8 0.7-2.8 0.8-2.8 0.6-2.8 0.7-2.9 0.6-2.9 0.6-2.9 0.5-2.9 0.6-2.9 0.5-3 0.6-2.9 0.7-2.9 0.6-2.9 0.8-2.9 0.8-2.8 0.8-2.9 0.9-2.8 1-2.8 1-2.8 1-2.8 1-2.8 1.1-2.8 1-2.7 1.1-2.8 1-2.8 1.2-2.7 1.1-2.7 1.2-2.7 1.2-2.7 1.2-2.7 1.3-2.7 1.3-2.6 1.3-2.7 1.3-2.6 1.3-2.7 1.4-2.6 1.4-2.6 1.3-2.6 1.4-2.6 1.5-2.6 1.4-2.5 1.5-2.6 1.5-2.5 1.5-2.5 1.6-2.5 1.6-2.5 1.6-2.4 1.7-2.5 1.7-2.3 1.7-2.4 1.8-2.4 1.7-2.4 1.8-2.3 1.8-2.3 1.8-2.4 1.8-2.3 1.8-2.4 1.7-2.3 1.8-2.4 1.8-2.3 1.8-2.3 1.8-2.3 1.9-2.3 1.8-2.3 1.9-2.3 1.8-2.3 1.9-2.2 1.9-2.3 1.9-2.2 2-2.2 1.9-2.3 1.9-2.2 1.9-2.2 2-2.2 1.9-2.2 1.9-2.2 2-2.2 2-2.1 2-2.2 2-2.1 2-2.1 2-2.1 2.1-2.1 2.1-2 2.1-2 2.2-2 2.2-1.9 2.2-2 2.2-1.9 2.3-1.9 2.3-1.8 2.3-1.8 2.3-1.8 2.4-1.8 2.4-1.7 2.5-1.7 2.4-1.6 2.6-1.6 2.5-1.5 2.6-1.5 2.6-1.3 2.7-1.3 2.7-1.2 2.7-1.1 2.8-0.9 2.9-0.9 2.9-0.7 1.6-0.3 1.6-0.3 1.6-0.2 1.6-0.2 1.5-0.1 1.6-0.1 1.5-0.1 1.6,0 1.5,0 1.5,0 1.5,0 1.6,0.1 1.5,0.1 1.5,0.2 1.5,0.1 1.5,0.2 1.6,0.2 1.5,0.1 1.5,0.2 1.6,0.2 1.5,0.2 1.6,0.2 1.5,0.2 1.6,0.2 1.5,0.3 1.6,0.2 1.5,0.2 1.6,0.3 1.5,0.3 1.5,0.3 1.5,0.3 1.5,0.4 1.4,0.4 1.5,0.5 1.4,0.4 1.4,0.6 1.4,0.6 1.3,0.6 1.4,0.6 1.3,0.7 1.3,0.7 1.3,0.8 1.3,0.7 1.3,0.8 1.3,0.8 1.2,0.8 1.2,0.9 1.3,0.9 1.2,0.8 1.2,0.9 1.2,0.9 1.3,0.9 1.2,0.9 1.2,0.9 1.2,0.9 1.2,0.9 1.2,0.9 1.2,1 1.2,0.9 1.1,0.9 1.2,1 1.2,0.9 1.1,1 1.2,1 1.2,1 1.1,1 1.1,1 1.2,1 1.1,1 1.1,1.1 1.1,1.1 1,1.1 1.1,1.1 1.1,1.1 1,1.2 1,1.2 1,1.2 1,1.2 1,1.3 1,1.2 0.9,1.3 0.9,1.3 1,1.3 0.8,1.3 0.9,1.4 0.8,1.3 0.9,1.4 0.8,1.4 0.7,1.4 0.8,1.4 0.7,1.4 0.7,1.5 0.6,1.4 0.7,1.4 0.6,1.5 0.6,1.4 0.6,1.5 0.6,1.4 0.6,1.5 0.5,1.4 0.6,1.5 0.5,1.4 0.5,1.5 0.5,1.5 0.5,1.4 0.5,1.5 0.5,1.5 0.4,1.4 0.5,1.5 0.4,1.5 0.5,1.5 0.4,1.5 0.4,1.4 0.4,1.5 0.4,1.5 0.4,1.5 0.4,1.5 0.4,1.5 0.4,1.5 0.3,1.5 0.4,1.5 0.3,1.5 0.3,1.5 0.3,1.5 0.3,1.5 0.3,1.5 0.3,1.6 0.2,1.5 0.3,1.5 0.2,1.5 0.2,1.6 0.3,1.5 0.2,1.5 0.1,1.6 0.2,1.5 0.2,1.6 0.1,1.5 0.1,1.6 0.1,1.5 0.1,1.6 0.1,1.5 0.1,1.6 0,1.6 0,1.5 0,1.6 0,1.6 0,1.6 -0.1,1.5 -0.1,1.6 0.1,3 -0.1,2.9 -0.2,2.9 -0.3,2.9 -0.4,2.9 -0.5,2.9 -0.6,2.9 -0.7,2.8 -0.8,2.9 -0.8,2.8 -1,2.8 -1,2.8 -1.1,2.8 -1.1,2.8 -1.2,2.7 -1.2,2.8 -1.3,2.7 -1.3,2.7 -1.4,2.7 -1.4,2.6 -1.4,2.6 -1.5,2.6 -1.6,2.6 -1.6,2.5 -1.7,2.5 -1.7,2.5 -1.8,2.4 -1.8,2.3 -2,2.3 -1.9,2.3 -2.1,2.2 -2,2.2 -2.2,2.1 -2.1,2.1 -2.2,2.1 -2.3,2 -2.3,2 -2.2,2 -2.4,2 -2.3,1.9 -2.3,1.9 -2.4,1.9 -2.3,1.9 -2.4,1.9 -2.4,1.8 -2.4,1.9 -2.4,1.8 -2.4,1.8 -2.5,1.7 -2.4,1.8 -2.5,1.7 -2.4,1.8 -2.5,1.7 -2.5,1.7 -2.5,1.7 -2.5,1.7 -2.5,1.6 -2.5,1.6 -2.6,1.7 -2.5,1.6 -2.6,1.5 -2.6,1.6 -2.6,1.5 -2.6,1.5 -2.6,1.5 -2.6,1.5 -2.7,1.4 -2.6,1.4 -2.7,1.5 -2.7,1.4 -2.7,1.4 -2.7,1.4 -2.7,1.4 -2.8,1.4 -2.7,1.5 -2.8,1.4 -2.8,1.5 -2.8,1.4 -2.8,1.5 -2.8,1.5 -2.8,1.6 -2.9,1.5 -2.8,1.6 -2.8,1.6 -2.9,1.6 -2.8,1.7 -2.9,1.7 -2.9,1.7 -2.8,1.7 -2.9,1.7 -2.9,1.8 -2.9,1.7 -2.9,1.8 -2.9,1.8 -2.9,1.7 -2.9,1.8 -2.9,1.8 -3,1.8 -2.9,1.7 -3,1.8 -3,1.7 -2.9,1.7 -3,1.7 -3,1.7 -3.1,1.7 -3,1.6 -3,1.7 -3.1,1.6 -3,1.6 -3.1,1.6 -3,1.5 -3.1,1.5 -3.1,1.5 -3,1.5 -3.1,1.5 -3,1.4 -3.1,1.4 -3,1.4 -3.1,1.4 -3,1.3 -3,1.4 -3,1.3 -3,1.2 -2.9,1.2 -3,1.2 -2.9,1.2 -2.9,1.2 -2.8,1.1 -2.9,1 -2.8,1.1 -2.7,1 -2.7,0.9 -2.7,0.9 -2.6,0.9 -2.6,0.9 -2.5,0.8 -2.5,0.7 -2.5,0.8 -2.4,0.6 -2.4,0.7 -2.4,0.6 -2.4,0.5 -2.3,0.5 -2.4,0.4 -2.3,0.4 -2.3,0.3 -2.3,0.3 -2.2,0.1 -2.1-0.3 -1.9-0.9 -1.5-1.8 -1.3-2.5 -0.9-3 -0.5-3.4 -0.2-3.6 0.2-3.6 0.5-3.6 0.8-3.6 1-3.6 1.2-3.7 1.5-3.6 1.6-3.6 1.7-3.5 1.8-3.6 1.9-3.4 2-3.5 2-3.3 2-3.3 2-3.2 2-3 2-3 2-2.9 1.9-2.8 1.8-2.7 1.8-2.5 1.7-2.4 1.5-2.3 1.4-2.2 1.2-2.1 1.1-1.9 0.9-1.9 0.8-1.8 0.6-1.7 0.4-1.6 0.2-1.6 0.1-1.5 -0.1-1.5 -0.2-1.5 -0.4-1.5 -0.4-1.4 -0.6-1.5 -0.6-1.5 -0.7-1.5 -0.8-1.6 -0.8-1.5 -0.8-1.7 -0.9-1.6 -0.8-1.7 -0.8-1.8"/><path stroke-dashoffset="0.95" d="M201.8,929.1l1.3-2.6 1.3-2.7 1.2-2.6 1.2-2.7 1.1-2.6 1.2-2.7 1.1-2.7 1-2.7 1.1-2.7 1-2.7 1-2.7 1-2.8 0.9-2.7 0.9-2.7 0.9-2.8 0.9-2.8 0.8-2.8 0.8-2.8 0.8-2.8 0.7-2.8 0.8-2.9 0.7-2.8 0.8-2.8 0.8-2.8 0.8-2.9 0.9-2.8 0.9-2.8 0.9-2.7 1-2.8 1-2.8 1-2.7 1.1-2.8 1-2.7 1.1-2.7 1.1-2.8 1-2.7 1.1-2.7 1.1-2.7 1.2-2.8 1.1-2.6 1.2-2.7 1.2-2.7 1.2-2.7 1.3-2.6 1.2-2.7 1.3-2.6 1.3-2.6 1.2-2.7 1.4-2.6 1.3-2.6 1.3-2.6 1.4-2.6 1.4-2.6 1.4-2.5 1.4-2.6 1.5-2.5 1.5-2.5 1.5-2.5 1.6-2.4 1.6-2.4 1.7-2.5 1.7-2.4 1.7-2.3 1.7-2.4 1.7-2.4 1.7-2.3 1.7-2.4 1.8-2.3 1.7-2.4 1.7-2.4 1.7-2.3 1.8-2.4 1.7-2.3 1.8-2.4 1.7-2.3 1.8-2.3 1.8-2.3 1.8-2.3 1.9-2.3 1.8-2.2 1.9-2.3 1.8-2.2 1.9-2.3 1.8-2.2 1.9-2.3 1.9-2.2 1.8-2.3 1.9-2.2 1.9-2.2 1.9-2.2 1.9-2.2 2-2.2 1.9-2.1 2-2.2 2-2.1 2-2.1 2.1-2 2.1-2 2.1-2 2.2-2 2.2-1.9 2.2-2 2.2-1.8 2.3-1.9 2.3-1.8 2.3-1.8 2.4-1.7 2.4-1.7 2.4-1.7 2.5-1.6 2.5-1.5 2.5-1.5 2.6-1.3 2.7-1.3 2.6-1.2 2.8-1 2.7-1 2.9-0.8 2.9-0.6 1.5-0.3 1.6-0.3 1.6-0.2 1.5-0.1 1.5-0.1 1.6,0 1.5,0 1.5,0 1.5,0.1 1.5,0.1 1.5,0.1 1.5,0.2 1.5,0.2 1.4,0.2 1.5,0.2 1.5,0.2 1.5,0.3 1.5,0.2 1.5,0.3 1.5,0.3 1.5,0.2 1.5,0.3 1.6,0.2 1.5,0.3 1.5,0.3 1.5,0.3 1.5,0.3 1.5,0.3 1.5,0.3 1.4,0.4 1.5,0.4 1.4,0.5 1.4,0.4 1.4,0.6 1.4,0.5 1.4,0.6 1.3,0.7 1.3,0.7 1.3,0.7 1.3,0.7 1.2,0.8 1.3,0.9 1.2,0.8 1.2,0.9 1.2,0.9 1.2,0.9 1.2,0.9 1.2,0.9 1.1,1 1.2,1 1.1,0.9 1.2,1 1.1,1 1.2,0.9 1.1,1 1.1,1 1.2,1 1.1,1 1.1,1 1.1,1 1.1,1 1.1,1 1.1,1 1.1,1 1.1,1.1 1.1,1 1,1.1 1.1,1 1,1.1 1.1,1.1 1,1.1 1,1.2 1,1.1 1,1.2 0.9,1.1 1,1.2 1,1.2 0.9,1.2 0.9,1.3 0.9,1.2 0.9,1.3 0.9,1.3 0.9,1.2 0.8,1.3 0.8,1.4 0.8,1.3 0.8,1.3 0.8,1.3 0.8,1.4 0.7,1.4 0.7,1.3 0.7,1.4 0.7,1.4 0.7,1.3 0.7,1.4 0.6,1.4 0.6,1.4 0.7,1.4 0.6,1.4 0.6,1.4 0.6,1.4 0.5,1.4 0.6,1.4 0.6,1.5 0.5,1.4 0.6,1.4 0.5,1.4 0.5,1.4 0.5,1.5 0.5,1.4 0.5,1.4 0.5,1.5 0.5,1.4 0.5,1.4 0.4,1.5 0.5,1.4 0.4,1.5 0.5,1.4 0.4,1.5 0.4,1.4 0.4,1.5 0.4,1.5 0.4,1.4 0.4,1.5 0.4,1.5 0.3,1.4 0.3,1.5 0.4,1.5 0.3,1.5 0.3,1.5 0.3,1.5 0.2,1.5 0.3,1.5 0.2,1.5 0.3,1.5 0.2,1.5 0.2,1.5 0.2,1.5 0.1,1.5 0.2,1.5 0.1,1.5 0.1,1.6 0.1,1.5 0.1,1.5 0,1.6 0.1,1.5 0,1.5 0,1.6 -0.1,1.5 0.2,3.1 0,3 -0.1,3 -0.2,3 -0.3,3 -0.5,3 -0.5,2.9 -0.7,3 -0.7,2.9 -0.8,2.9 -0.9,3 -1,2.8 -1,2.9 -1.1,2.9 -1.2,2.8 -1.2,2.8 -1.2,2.8 -1.3,2.8 -1.3,2.8 -1.4,2.7 -1.5,2.7 -1.5,2.7 -1.5,2.6 -1.6,2.6 -1.7,2.6 -1.7,2.5 -1.8,2.5 -1.9,2.4 -1.9,2.3 -2,2.4 -2.1,2.2 -2.1,2.3 -2.1,2.1 -2.2,2.2 -2.2,2.1 -2.3,2.1 -2.3,2 -2.3,2 -2.4,2 -2.4,2 -2.3,2 -2.4,1.9 -2.4,1.9 -2.4,1.9 -2.5,1.9 -2.4,1.8 -2.4,1.9 -2.5,1.8 -2.5,1.8 -2.5,1.8 -2.5,1.8 -2.5,1.7 -2.5,1.7 -2.6,1.8 -2.5,1.7 -2.6,1.7 -2.5,1.6 -2.6,1.7 -2.6,1.6 -2.6,1.6 -2.6,1.6 -2.7,1.6 -2.6,1.5 -2.7,1.5 -2.7,1.5 -2.6,1.5 -2.7,1.4 -2.8,1.4 -2.7,1.4 -2.7,1.4 -2.8,1.4 -2.8,1.4 -2.7,1.4 -2.8,1.4 -2.9,1.4 -2.8,1.4 -2.8,1.4 -2.8,1.5 -2.9,1.4 -2.8,1.5 -2.9,1.4 -2.9,1.5 -2.8,1.5 -2.9,1.6 -2.8,1.5 -2.9,1.6 -2.9,1.6 -2.8,1.6 -2.9,1.7 -2.9,1.6 -2.9,1.7 -2.8,1.6 -2.9,1.7 -2.9,1.7 -2.9,1.6 -2.9,1.7 -2.9,1.7 -2.9,1.6 -2.9,1.6 -2.9,1.6 -3,1.6 -2.9,1.6 -2.9,1.6 -3,1.5 -2.9,1.5 -3,1.5 -2.9,1.5 -3,1.4 -2.9,1.4 -3,1.4 -2.9,1.4 -3,1.4 -2.9,1.3 -2.9,1.3 -3,1.3 -2.9,1.2 -2.9,1.3 -2.9,1.2 -2.8,1.1 -2.9,1.2 -2.8,1.1 -2.8,1.1 -2.8,1 -2.8,1.1 -2.7,1 -2.7,0.9 -2.7,0.9 -2.7,0.9 -2.6,0.9 -2.5,0.8 -2.5,0.8 -2.5,0.7 -2.4,0.7 -2.4,0.7 -2.3,0.6 -2.3,0.6 -2.2,0.5 -2.2,0.5 -2.2,0.5 -2.1,0.4 -2.1,0.4 -2,0.3 -2.1,0.2 -2,0.2 -2,0.1 -1.9,0.1 -2,0 -1.8-0.1 -1.8-0.5 -1.5-1.2 -1.2-1.9 -0.8-2.6 -0.6-3.1 -0.1-3.4 0.1-3.6 0.5-3.6 0.8-3.6 1.1-3.6 1.3-3.5 1.5-3.6 1.6-3.5 1.8-3.5 2-3.5 2-3.4 2-3.3 2.1-3.2 2-3.2 2.1-3 2-2.9 2-2.9 1.9-2.7 1.8-2.5 1.8-2.5 1.6-2.3 1.5-2.2 1.3-2.1 1.1-2 1-1.9 0.8-1.7 0.6-1.7 0.4-1.5 0.3-1.6 0-1.4 -0.1-1.4 -0.3-1.4 -0.5-1.3 -0.5-1.4 -0.7-1.3 -0.8-1.4 -0.9-1.3 -0.9-1.4 -1-1.5 -1-1.4 -1.1-1.6 -1.1-1.5 -1-1.6 -1.1-1.7 -1-1.7 -1-1.7"/><path stroke-dashoffset="1.32" d="M202.7,929.3l1.2-2.6 1.2-2.7 1.2-2.6 1.1-2.7 1.1-2.7 1.1-2.6 1.1-2.7 1.1-2.7 1.1-2.7 1.1-2.7 1-2.7 1.1-2.7 1-2.7 1-2.7 1-2.7 1-2.8 0.9-2.7 1-2.8 0.9-2.7 0.9-2.8 0.9-2.7 1-2.8 0.9-2.7 0.9-2.8 1-2.7 1-2.8 1-2.7 1-2.7 1-2.8 1.1-2.7 1.1-2.7 1-2.7 1.1-2.7 1.1-2.7 1.1-2.7 1.1-2.7 1.1-2.7 1.1-2.7 1.1-2.7 1.2-2.6 1.1-2.7 1.2-2.7 1.2-2.6 1.2-2.7 1.2-2.6 1.2-2.7 1.3-2.6 1.2-2.6 1.3-2.7 1.3-2.6 1.3-2.6 1.3-2.6 1.3-2.6 1.4-2.5 1.4-2.6 1.4-2.5 1.5-2.5 1.5-2.5 1.5-2.5 1.6-2.4 1.6-2.4 1.6-2.4 1.7-2.4 1.7-2.4 1.6-2.4 1.7-2.4 1.7-2.3 1.7-2.4 1.7-2.4 1.7-2.4 1.6-2.3 1.7-2.4 1.7-2.3 1.7-2.4 1.8-2.3 1.7-2.4 1.8-2.3 1.7-2.3 1.8-2.3 1.8-2.3 1.8-2.2 1.8-2.3 1.9-2.3 1.8-2.2 1.8-2.3 1.8-2.3 1.8-2.3 1.9-2.2 1.8-2.3 1.9-2.2 1.8-2.2 1.9-2.2 1.9-2.2 2-2.2 1.9-2.1 2-2.1 2-2.1 2.1-2.1 2-2 2.2-2 2.1-2 2.2-1.9 2.2-1.9 2.2-1.9 2.3-1.8 2.3-1.8 2.3-1.8 2.4-1.7 2.4-1.7 2.4-1.6 2.5-1.5 2.5-1.5 2.6-1.3 2.6-1.3 2.7-1.2 2.7-1 2.7-0.9 2.9-0.8 2.8-0.6 1.6-0.3 1.5-0.2 1.6-0.2 1.5-0.1 1.5,0 1.5,0 1.5,0 1.5,0.1 1.4,0.1 1.5,0.2 1.5,0.2 1.4,0.2 1.5,0.2 1.5,0.3 1.4,0.3 1.5,0.3 1.5,0.3 1.5,0.3 1.4,0.3 1.5,0.3 1.5,0.3 1.5,0.3 1.5,0.3 1.4,0.3 1.5,0.4 1.5,0.3 1.5,0.3 1.4,0.4 1.5,0.4 1.4,0.4 1.4,0.5 1.5,0.5 1.3,0.5 1.4,0.5 1.3,0.7 1.4,0.6 1.2,0.7 1.3,0.8 1.3,0.7 1.2,0.9 1.2,0.8 1.2,0.9 1.2,0.9 1.2,0.9 1.1,1 1.2,0.9 1.1,1 1.2,1 1.1,1 1.1,1.1 1.1,1 1.1,1 1.1,1 1.1,1.1 1.1,1 1.1,1 1,1 1.1,1.1 1.1,1 1,1.1 1.1,1 1,1.1 1.1,1 1,1.1 1,1.1 1.1,1.1 1,1.1 1,1.1 1,1.1 0.9,1.1 1,1.1 1,1.2 0.9,1.1 1,1.2 0.9,1.2 0.9,1.2 0.9,1.2 0.9,1.2 0.9,1.2 0.9,1.2 0.8,1.3 0.9,1.3 0.8,1.2 0.8,1.3 0.8,1.3 0.8,1.3 0.8,1.3 0.8,1.3 0.7,1.3 0.8,1.3 0.7,1.3 0.7,1.4 0.7,1.3 0.7,1.4 0.7,1.3 0.6,1.3 0.7,1.4 0.6,1.4 0.7,1.3 0.6,1.4 0.6,1.3 0.6,1.4 0.6,1.4 0.6,1.4 0.6,1.3 0.6,1.4 0.6,1.4 0.6,1.4 0.5,1.4 0.6,1.4 0.5,1.4 0.5,1.4 0.6,1.4 0.5,1.4 0.5,1.4 0.5,1.4 0.5,1.4 0.5,1.4 0.5,1.5 0.4,1.4 0.5,1.4 0.4,1.5 0.4,1.4 0.5,1.4 0.4,1.5 0.4,1.4 0.4,1.5 0.3,1.4 0.4,1.5 0.3,1.4 0.4,1.5 0.3,1.5 0.3,1.4 0.3,1.5 0.3,1.5 0.2,1.5 0.3,1.4 0.2,1.5 0.2,1.5 0.2,1.5 0.2,1.5 0.1,1.5 0.1,1.5 0.1,1.5 0.1,1.5 0.1,1.5 0.1,1.5 0,1.5 0,1.6 0.2,3.1 0.1,3.1 0,3.1 -0.2,3 -0.3,3.1 -0.4,3 -0.5,3.1 -0.6,3 -0.7,3 -0.7,3 -0.9,2.9 -0.9,3 -1.1,2.9 -1,2.9 -1.2,2.9 -1.1,2.9 -1.3,2.9 -1.3,2.8 -1.3,2.8 -1.4,2.8 -1.4,2.8 -1.5,2.7 -1.5,2.7 -1.6,2.7 -1.7,2.6 -1.7,2.5 -1.8,2.6 -1.9,2.4 -1.9,2.4 -2,2.4 -2.1,2.3 -2.1,2.3 -2.2,2.2 -2.2,2.2 -2.3,2.1 -2.3,2.1 -2.3,2.1 -2.3,2 -2.4,2.1 -2.4,2 -2.4,1.9 -2.4,2 -2.4,1.9 -2.5,2 -2.4,1.8 -2.5,1.9 -2.5,1.9 -2.5,1.8 -2.5,1.8 -2.5,1.8 -2.6,1.8 -2.5,1.8 -2.6,1.7 -2.5,1.8 -2.6,1.7 -2.6,1.7 -2.6,1.7 -2.6,1.6 -2.7,1.7 -2.6,1.6 -2.7,1.6 -2.7,1.6 -2.7,1.5 -2.7,1.5 -2.7,1.5 -2.7,1.5 -2.8,1.4 -2.7,1.4 -2.8,1.4 -2.8,1.4 -2.8,1.4 -2.8,1.4 -2.8,1.3 -2.8,1.4 -2.9,1.4 -2.8,1.3 -2.9,1.4 -2.8,1.4 -2.9,1.4 -2.9,1.4 -2.8,1.4 -2.9,1.4 -2.9,1.5 -2.8,1.4 -2.9,1.5 -2.9,1.5 -2.8,1.6 -2.9,1.5 -2.8,1.5 -2.9,1.6 -2.8,1.5 -2.9,1.6 -2.8,1.5 -2.9,1.6 -2.8,1.5 -2.9,1.6 -2.8,1.5 -2.9,1.5 -2.8,1.5 -2.9,1.5 -2.8,1.4 -2.9,1.4 -2.8,1.4 -2.9,1.4 -2.9,1.4 -2.8,1.3 -2.8,1.3 -2.9,1.3 -2.8,1.2 -2.8,1.3 -2.8,1.2 -2.8,1.1 -2.8,1.2 -2.8,1.1 -2.8,1.1 -2.7,1.1 -2.7,1 -2.8,1 -2.7,1 -2.6,0.9 -2.7,1 -2.6,0.8 -2.6,0.9 -2.5,0.8 -2.5,0.8 -2.5,0.8 -2.5,0.7 -2.4,0.7 -2.4,0.6 -2.3,0.7 -2.3,0.5 -2.2,0.6 -2.2,0.5 -2.1,0.4 -2,0.4 -2,0.4 -2,0.3 -1.9,0.3 -1.9,0.3 -1.8,0.2 -1.8,0.1 -1.8,0.1 -1.7,0 -1.7,0 -1.7-0.1 -1.6-0.1 -1.6-0.2 -1.5-0.4 -1.4-0.8 -1.1-1.2 -0.9-2.1 -0.5-2.6 -0.2-3.2 0.1-3.3 0.4-3.5 0.8-3.6 1-3.4 1.3-3.5 1.5-3.5 1.6-3.4 1.8-3.4 1.9-3.3 2-3.2 2-3.2 2.1-3 2-3 2-2.9 1.9-2.7 1.9-2.6 1.8-2.5 1.6-2.4 1.6-2.2 1.3-2.1 1.2-2 1.1-1.8 0.8-1.8 0.7-1.6 0.4-1.5 0.2-1.5 0.1-1.3 -0.2-1.4 -0.3-1.2 -0.5-1.3 -0.6-1.2 -0.8-1.2 -0.9-1.2 -1-1.3 -1.1-1.2 -1.2-1.3 -1.2-1.3 -1.3-1.4 -1.2-1.4 -1.3-1.4 -1.3-1.5 -1.2-1.6 -1.2-1.6 -1.2-1.6 -1.2-1.7 -1.1-1.8"/><path stroke-dashoffset="1.69" d="M203.1,929.5l1.2-2.7 1.1-2.7 1.1-2.6 1.2-2.7 1.1-2.7 1.1-2.7 1.1-2.7 1.1-2.6 1-2.7 1.1-2.7 1.1-2.7 1.1-2.7 1-2.7 1.1-2.7 1-2.7 1.1-2.7 1-2.7 1.1-2.7 1-2.7 1-2.7 1.1-2.7 1-2.7 1-2.7 1.1-2.7 1-2.7 1.1-2.7 1.1-2.7 1-2.7 1.1-2.7 1.1-2.7 1.1-2.7 1.1-2.7 1.1-2.7 1.1-2.6 1.2-2.7 1.1-2.7 1.1-2.7 1.1-2.6 1.1-2.7 1.2-2.7 1.1-2.6 1.2-2.7 1.2-2.6 1.1-2.7 1.2-2.6 1.2-2.7 1.2-2.6 1.3-2.6 1.2-2.7 1.3-2.6 1.2-2.6 1.3-2.6 1.3-2.6 1.4-2.6 1.3-2.5 1.4-2.6 1.5-2.5 1.5-2.5 1.5-2.4 1.5-2.5 1.6-2.4 1.6-2.4 1.6-2.4 1.7-2.4 1.7-2.4 1.6-2.4 1.7-2.3 1.6-2.4 1.7-2.4 1.6-2.4 1.7-2.4 1.7-2.3 1.6-2.4 1.7-2.4 1.7-2.3 1.7-2.4 1.8-2.3 1.7-2.3 1.8-2.3 1.7-2.3 1.8-2.3 1.8-2.3 1.8-2.2 1.8-2.3 1.8-2.3 1.8-2.3 1.8-2.3 1.8-2.3 1.8-2.2 1.8-2.3 1.8-2.2 1.9-2.2 1.9-2.2 1.9-2.2 1.9-2.2 2-2.1 2-2.1 2-2.1 2-2 2.1-2.1 2.1-1.9 2.2-2 2.1-1.9 2.3-1.9 2.2-1.9 2.3-1.8 2.3-1.7 2.3-1.8 2.4-1.7 2.4-1.6 2.5-1.5 2.5-1.5 2.6-1.3 2.6-1.3 2.6-1.1 2.7-1.1 2.8-0.9 2.8-0.7 2.9-0.6 1.5-0.3 1.5-0.2 1.5-0.1 1.5-0.1 1.5,0 1.5,0 1.5,0 1.5,0.2 1.4,0.1 1.5,0.2 1.5,0.2 1.4,0.3 1.5,0.2 1.4,0.3 1.5,0.3 1.4,0.4 1.5,0.3 1.4,0.4 1.5,0.3 1.5,0.3 1.4,0.4 1.5,0.3 1.5,0.3 1.4,0.4 1.5,0.3 1.5,0.4 1.4,0.4 1.5,0.4 1.4,0.4 1.4,0.4 1.4,0.5 1.4,0.5 1.4,0.6 1.3,0.6 1.3,0.6 1.3,0.7 1.3,0.7 1.2,0.8 1.3,0.8 1.2,0.9 1.2,0.9 1.1,0.9 1.2,0.9 1.1,1 1.2,1 1.1,1 1.1,1 1.1,1 1.1,1.1 1.1,1 1.1,1.1 1,1 1.1,1.1 1.1,1.1 1,1 1.1,1.1 1,1 1.1,1.1 1,1.1 1,1 1.1,1.1 1,1.1 1,1.1 1,1.1 1,1.1 1,1.1 1,1.1 0.9,1.1 1,1.1 0.9,1.2 1,1.1 0.9,1.2 0.9,1.1 0.9,1.2 0.9,1.2 0.9,1.2 0.9,1.2 0.9,1.2 0.8,1.2 0.9,1.3 0.8,1.2 0.8,1.3 0.8,1.2 0.8,1.3 0.8,1.2 0.8,1.3 0.8,1.3 0.8,1.3 0.7,1.3 0.7,1.3 0.8,1.3 0.7,1.3 0.7,1.3 0.7,1.3 0.7,1.3 0.7,1.4 0.7,1.3 0.6,1.3 0.7,1.4 0.6,1.3 0.7,1.4 0.6,1.3 0.6,1.3 0.7,1.4 0.6,1.4 0.6,1.3 0.6,1.4 0.6,1.4 0.5,1.3 0.6,1.4 0.6,1.4 0.6,1.3 0.5,1.4 0.6,1.4 0.5,1.4 0.5,1.4 0.5,1.4 0.6,1.4 0.5,1.4 0.4,1.4 0.5,1.4 0.5,1.4 0.5,1.4 0.4,1.5 0.5,1.4 0.4,1.4 0.4,1.4 0.4,1.5 0.4,1.4 0.4,1.5 0.3,1.4 0.4,1.4 0.3,1.5 0.3,1.5 0.3,1.4 0.3,1.5 0.3,1.4 0.2,1.5 0.2,1.5 0.3,1.5 0.2,1.4 0.1,1.5 0.2,1.5 0.1,1.5 0.1,1.5 0.1,1.5 0.1,1.5 0,1.5 0.1,1.5 0.2,3.1 0.2,3.2 0,3.1 -0.2,3.1 -0.2,3.1 -0.4,3.1 -0.5,3.1 -0.5,3 -0.7,3.1 -0.8,3 -0.8,3 -0.9,3 -1,3 -1.1,2.9 -1.1,2.9 -1.2,3 -1.2,2.9 -1.2,2.8 -1.4,2.9 -1.3,2.8 -1.5,2.8 -1.4,2.8 -1.6,2.7 -1.6,2.7 -1.6,2.6 -1.8,2.6 -1.8,2.6 -1.9,2.5 -1.9,2.4 -2,2.4 -2.1,2.3 -2.1,2.3 -2.2,2.2 -2.2,2.2 -2.3,2.2 -2.3,2.1 -2.3,2.1 -2.4,2.1 -2.4,2 -2.4,2 -2.4,2 -2.5,2 -2.4,2 -2.5,1.9 -2.4,1.9 -2.5,1.9 -2.5,1.9 -2.5,1.8 -2.6,1.8 -2.5,1.8 -2.6,1.8 -2.5,1.8 -2.6,1.8 -2.6,1.7 -2.6,1.7 -2.6,1.7 -2.7,1.7 -2.6,1.7 -2.7,1.6 -2.6,1.7 -2.7,1.6 -2.7,1.5 -2.7,1.6 -2.8,1.5 -2.7,1.5 -2.8,1.5 -2.7,1.4 -2.8,1.4 -2.8,1.4 -2.8,1.4 -2.8,1.4 -2.9,1.3 -2.8,1.4 -2.9,1.3 -2.8,1.3 -2.9,1.3 -2.8,1.4 -2.9,1.3 -2.9,1.3 -2.8,1.4 -2.9,1.3 -2.9,1.4 -2.8,1.4 -2.9,1.4 -2.8,1.4 -2.8,1.4 -2.9,1.4 -2.8,1.5 -2.8,1.4 -2.8,1.4 -2.8,1.5 -2.8,1.4 -2.8,1.5 -2.8,1.4 -2.8,1.4 -2.8,1.4 -2.8,1.4 -2.7,1.4 -2.8,1.3 -2.8,1.4 -2.7,1.3 -2.8,1.3 -2.7,1.2 -2.8,1.2 -2.7,1.2 -2.7,1.2 -2.7,1.1 -2.7,1.2 -2.7,1 -2.7,1.1 -2.7,1 -2.6,1 -2.6,1 -2.7,0.9 -2.5,1 -2.6,0.8 -2.6,0.9 -2.5,0.8 -2.5,0.8 -2.4,0.8 -2.5,0.7 -2.4,0.7 -2.4,0.7 -2.3,0.6 -2.3,0.6 -2.3,0.6 -2.2,0.5 -2.2,0.5 -2.1,0.5 -2.1,0.4 -2,0.4 -2,0.4 -1.9,0.3 -1.9,0.2 -1.8,0.3 -1.7,0.2 -1.7,0.1 -1.7,0.1 -1.6,0 -1.6,0 -1.5,0 -1.5-0.1 -1.4-0.2 -1.4-0.2 -1.4-0.3 -1.3-0.3 -1.3-0.4 -1.2-0.6 -1-0.9 -0.8-1.4 -0.6-2.1 -0.2-2.6 0.1-3.1 0.3-3.3 0.7-3.3 0.9-3.4 1.2-3.3 1.3-3.3 1.6-3.2 1.7-3.2 1.8-3.1 1.9-3.1 1.9-2.9 1.9-2.9 1.9-2.7 1.8-2.6 1.8-2.6 1.6-2.3 1.6-2.3 1.4-2.1 1.2-1.9 1.1-1.9 0.9-1.7 0.7-1.6 0.5-1.5 0.2-1.4 0.1-1.3 -0.2-1.3 -0.3-1.1 -0.5-1.2 -0.7-1.1 -0.9-1.1 -1-1 -1.1-1.1 -1.2-1.1 -1.3-1.2 -1.3-1.1 -1.4-1.2 -1.5-1.3 -1.4-1.2 -1.5-1.4 -1.4-1.4 -1.5-1.4 -1.4-1.5 -1.3-1.5 -1.3-1.6 -1.3-1.7 -1.2-1.7 -1.2-1.7"/><path stroke-dashoffset="2.06" d="M203.3,929.5l1.1-2.7 1.1-2.6 1.1-2.7 1.1-2.7 1.1-2.7 1.1-2.7 1.1-2.6 1.1-2.7 1.1-2.7 1.1-2.7 1.1-2.7 1.1-2.7 1-2.7 1.1-2.6 1.1-2.7 1.1-2.7 1-2.7 1.1-2.7 1.1-2.7 1-2.7 1.1-2.7 1.1-2.7 1.1-2.7 1-2.7 1.1-2.6 1.1-2.7 1.1-2.7 1.1-2.7 1.1-2.7 1.1-2.7 1.1-2.6 1.1-2.7 1.1-2.7 1.1-2.7 1.1-2.7 1.1-2.6 1.2-2.7 1.1-2.7 1.1-2.6 1.2-2.7 1.1-2.6 1.2-2.7 1.1-2.6 1.2-2.7 1.2-2.6 1.2-2.7 1.2-2.6 1.2-2.6 1.2-2.7 1.3-2.6 1.2-2.6 1.3-2.6 1.3-2.6 1.4-2.6 1.3-2.5 1.4-2.6 1.4-2.5 1.5-2.5 1.5-2.5 1.6-2.4 1.5-2.4 1.6-2.4 1.7-2.4 1.6-2.4 1.7-2.4 1.6-2.4 1.7-2.4 1.6-2.4 1.7-2.3 1.6-2.4 1.7-2.4 1.6-2.4 1.7-2.4 1.6-2.3 1.7-2.4 1.7-2.3 1.8-2.3 1.7-2.3 1.8-2.4 1.7-2.3 1.8-2.2 1.8-2.3 1.7-2.3 1.8-2.3 1.8-2.3 1.8-2.3 1.8-2.3 1.8-2.3 1.8-2.2 1.8-2.3 1.8-2.2 1.9-2.3 1.8-2.2 1.9-2.2 2-2.1 1.9-2.2 2-2.1 2-2.1 2-2 2.1-2 2.1-2 2.2-2 2.1-1.9 2.2-1.9 2.3-1.8 2.2-1.9 2.3-1.7 2.4-1.8 2.4-1.7 2.4-1.6 2.4-1.5 2.6-1.5 2.5-1.3 2.6-1.3 2.7-1.1 2.7-1.1 2.7-0.9 2.8-0.7 2.9-0.6 1.5-0.3 1.5-0.2 1.5-0.1 1.5-0.1 1.5,0 1.5,0 1.5,0.1 1.5,0.1 1.4,0.2 1.5,0.2 1.4,0.2 1.5,0.3 1.4,0.3 1.5,0.3 1.4,0.3 1.5,0.3 1.4,0.4 1.5,0.3 1.4,0.4 1.5,0.3 1.4,0.4 1.5,0.3 1.5,0.4 1.4,0.3 1.5,0.4 1.5,0.3 1.4,0.4 1.4,0.4 1.5,0.4 1.4,0.5 1.4,0.5 1.3,0.5 1.4,0.6 1.3,0.6 1.4,0.6 1.2,0.7 1.3,0.8 1.3,0.8 1.2,0.8 1.2,0.8 1.2,0.9 1.1,1 1.2,0.9 1.1,1 1.1,1 1.2,1 1.1,1 1,1.1 1.1,1 1.1,1.1 1.1,1.1 1,1 1.1,1.1 1.1,1.1 1,1 1,1.1 1.1,1.1 1,1.1 1.1,1 1,1.1 1,1.1 1,1.1 1,1.1 1,1.1 1,1.1 1,1.1 0.9,1.1 1,1.1 0.9,1.2 1,1.1 0.9,1.2 0.9,1.1 0.9,1.2 0.9,1.2 0.9,1.1 0.9,1.2 0.9,1.2 0.8,1.3 0.9,1.2 0.8,1.2 0.8,1.2 0.9,1.3 0.8,1.2 0.8,1.3 0.8,1.3 0.7,1.2 0.8,1.3 0.8,1.3 0.7,1.3 0.8,1.3 0.7,1.3 0.7,1.3 0.7,1.3 0.7,1.3 0.7,1.3 0.7,1.3 0.7,1.3 0.7,1.4 0.6,1.3 0.7,1.3 0.6,1.4 0.7,1.3 0.6,1.4 0.6,1.3 0.6,1.4 0.7,1.3 0.6,1.4 0.6,1.3 0.6,1.4 0.5,1.3 0.6,1.4 0.6,1.4 0.6,1.4 0.5,1.3 0.6,1.4 0.5,1.4 0.5,1.4 0.5,1.4 0.6,1.4 0.5,1.4 0.4,1.4 0.5,1.4 0.5,1.4 0.5,1.4 0.4,1.4 0.4,1.5 0.5,1.4 0.4,1.4 0.4,1.5 0.4,1.4 0.3,1.4 0.4,1.5 0.3,1.4 0.3,1.5 0.4,1.4 0.2,1.5 0.3,1.4 0.3,1.5 0.2,1.5 0.2,1.4 0.2,1.5 0.2,1.5 0.2,1.5 0.1,1.4 0.1,1.5 0.1,1.5 0.1,1.5 0.1,1.5 0,1.5 0.3,3.2 0.1,3.1 0,3.2 -0.1,3.1 -0.2,3.1 -0.4,3.1 -0.4,3.1 -0.6,3.1 -0.7,3 -0.7,3 -0.9,3.1 -0.9,3 -1,3 -1,2.9 -1.1,3 -1.2,2.9 -1.2,2.9 -1.3,2.9 -1.3,2.9 -1.4,2.8 -1.4,2.8 -1.5,2.8 -1.5,2.7 -1.6,2.7 -1.7,2.7 -1.7,2.6 -1.8,2.5 -1.9,2.5 -1.9,2.5 -2,2.3 -2.1,2.4 -2.1,2.3 -2.2,2.2 -2.3,2.2 -2.2,2.2 -2.3,2.1 -2.4,2.1 -2.4,2.1 -2.4,2 -2.4,2.1 -2.4,2 -2.4,1.9 -2.5,2 -2.4,1.9 -2.5,1.9 -2.5,1.9 -2.5,1.9 -2.5,1.9 -2.6,1.8 -2.5,1.8 -2.6,1.8 -2.6,1.8 -2.5,1.8 -2.6,1.7 -2.7,1.7 -2.6,1.7 -2.6,1.7 -2.7,1.7 -2.6,1.6 -2.7,1.7 -2.7,1.6 -2.7,1.5 -2.8,1.6 -2.7,1.5 -2.7,1.5 -2.8,1.5 -2.8,1.4 -2.8,1.4 -2.8,1.4 -2.8,1.4 -2.8,1.3 -2.8,1.4 -2.9,1.3 -2.8,1.3 -2.9,1.3 -2.8,1.3 -2.9,1.2 -2.8,1.3 -2.9,1.3 -2.8,1.3 -2.9,1.3 -2.8,1.3 -2.8,1.3 -2.8,1.3 -2.8,1.3 -2.8,1.3 -2.8,1.4 -2.8,1.3 -2.7,1.4 -2.8,1.3 -2.7,1.3 -2.7,1.4 -2.8,1.3 -2.7,1.3 -2.7,1.3 -2.7,1.3 -2.7,1.2 -2.6,1.3 -2.7,1.2 -2.7,1.2 -2.6,1.2 -2.7,1.1 -2.6,1.1 -2.6,1.1 -2.6,1 -2.6,1 -2.6,1 -2.5,1 -2.5,0.9 -2.6,0.9 -2.5,0.9 -2.4,0.8 -2.5,0.8 -2.4,0.8 -2.4,0.7 -2.4,0.8 -2.3,0.6 -2.4,0.7 -2.3,0.6 -2.2,0.6 -2.3,0.6 -2.2,0.5 -2.1,0.5 -2.1,0.5 -2.1,0.4 -2.1,0.4 -1.9,0.4 -2,0.3 -1.9,0.3 -1.8,0.3 -1.8,0.2 -1.8,0.2 -1.7,0.1 -1.6,0.1 -1.6,0.1 -1.5,0 -1.4,0 -1.4-0.1 -1.4-0.1 -1.3-0.1 -1.3-0.2 -1.2-0.3 -1.2-0.3 -1.1-0.4 -1.1-0.4 -1.1-0.5 -0.9-0.6 -1-0.7 -0.7-1 -0.6-1.5 -0.3-2.1 0-2.5 0.3-2.9 0.5-3.1 0.8-3.2 1-3.1 1.2-3.1 1.4-3 1.5-2.9 1.6-2.9 1.7-2.8 1.7-2.7 1.7-2.6 1.7-2.5 1.6-2.4 1.4-2.2 1.4-2.1 1.3-2 1-1.8 0.9-1.7 0.7-1.6 0.6-1.4 0.3-1.4 0-1.2 -0.1-1.2 -0.3-1.1 -0.5-1 -0.8-1 -0.8-0.9 -1.1-1 -1.2-0.9 -1.3-1 -1.3-0.9 -1.5-1 -1.5-1.1 -1.6-1 -1.6-1.2 -1.6-1.1 -1.6-1.2 -1.6-1.3 -1.6-1.3 -1.5-1.4 -1.5-1.5 -1.5-1.5 -1.4-1.5 -1.4-1.6 -1.3-1.6 -1.3-1.8 -1.1-1.7"/><path stroke-dashoffset="0.13" d="M203.3,929.5l1.1-2.7 1.1-2.6 1.1-2.7 1.2-2.7 1.1-2.7 1.1-2.7 1-2.6 1.1-2.7 1.1-2.7 1.1-2.7 1.1-2.7 1.1-2.7 1.1-2.7 1-2.6 1.1-2.7 1.1-2.7 1.1-2.7 1-2.7 1.1-2.7 1.1-2.7 1-2.7 1.1-2.7 1.1-2.7 1-2.7 1.1-2.7 1-2.7 1-2.7 1.1-2.7 1-2.7 1-2.7 1-2.8 1-2.7 1.1-2.7 1-2.7 1.1-2.7 1.1-2.7 1.1-2.6 1.1-2.7 1.2-2.7 1.1-2.7 1.2-2.6 1.1-2.7 1.2-2.6 1.2-2.7 1.2-2.6 1.2-2.7 1.2-2.6 1.2-2.6 1.3-2.7 1.2-2.6 1.3-2.6 1.3-2.6 1.3-2.6 1.3-2.5 1.4-2.6 1.4-2.5 1.4-2.6 1.5-2.4 1.5-2.5 1.6-2.5 1.6-2.4 1.6-2.4 1.6-2.4 1.7-2.4 1.6-2.4 1.7-2.3 1.7-2.4 1.6-2.4 1.7-2.4 1.6-2.4 1.7-2.3 1.7-2.4 1.6-2.4 1.7-2.3 1.7-2.4 1.7-2.3 1.8-2.3 1.7-2.4 1.8-2.3 1.8-2.3 1.7-2.2 1.8-2.3 1.8-2.3 1.8-2.3 1.8-2.3 1.8-2.3 1.8-2.2 1.8-2.3 1.8-2.3 1.8-2.2 1.9-2.3 1.8-2.2 1.9-2.2 1.9-2.2 2-2.1 1.9-2.2 2-2.1 2-2 2.1-2.1 2.1-2 2.1-2 2.1-1.9 2.2-2 2.2-1.8 2.3-1.9 2.3-1.8 2.3-1.8 2.3-1.7 2.4-1.7 2.4-1.6 2.5-1.5 2.5-1.5 2.6-1.4 2.6-1.2 2.6-1.2 2.7-1 2.8-0.9 2.8-0.7 2.9-0.6 1.5-0.3 1.5-0.2 1.5-0.2 1.6-0.1 1.4,0 1.5,0 1.5,0.1 1.5,0.1 1.5,0.2 1.4,0.1 1.5,0.3 1.4,0.2 1.5,0.3 1.4,0.3 1.5,0.3 1.4,0.3 1.5,0.3 1.5,0.4 1.4,0.3 1.5,0.4 1.5,0.3 1.4,0.3 1.5,0.4 1.5,0.3 1.4,0.3 1.5,0.4 1.4,0.4 1.5,0.4 1.4,0.4 1.4,0.4 1.4,0.5 1.4,0.5 1.4,0.6 1.3,0.6 1.4,0.6 1.3,0.7 1.2,0.7 1.3,0.8 1.2,0.8 1.2,0.9 1.2,0.8 1.2,0.9 1.2,1 1.1,0.9 1.1,1 1.2,1 1.1,1 1.1,1.1 1.1,1 1.1,1.1 1,1 1.1,1.1 1.1,1 1.1,1.1 1,1 1.1,1.1 1,1.1 1.1,1 1,1.1 1,1.1 1.1,1 1,1.1 1,1.1 1,1.1 1,1.1 1,1.1 1,1.1 1,1.1 0.9,1.1 1,1.2 0.9,1.1 0.9,1.2 1,1.1 0.9,1.2 0.9,1.2 0.9,1.2 0.8,1.2 0.9,1.2 0.9,1.2 0.8,1.3 0.9,1.2 0.8,1.3 0.8,1.2 0.8,1.3 0.8,1.2 0.8,1.3 0.7,1.3 0.8,1.3 0.8,1.3 0.7,1.3 0.7,1.3 0.8,1.3 0.7,1.3 0.7,1.3 0.7,1.4 0.6,1.3 0.7,1.3 0.7,1.4 0.6,1.3 0.7,1.3 0.6,1.4 0.7,1.3 0.6,1.4 0.6,1.3 0.6,1.4 0.6,1.4 0.6,1.3 0.6,1.4 0.6,1.4 0.5,1.3 0.6,1.4 0.6,1.4 0.5,1.4 0.6,1.4 0.5,1.4 0.5,1.4 0.6,1.3 0.5,1.5 0.5,1.4 0.5,1.4 0.4,1.4 0.5,1.4 0.5,1.4 0.4,1.4 0.4,1.5 0.5,1.4 0.4,1.4 0.4,1.5 0.4,1.4 0.3,1.4 0.4,1.5 0.3,1.4 0.4,1.5 0.3,1.4 0.3,1.5 0.3,1.5 0.2,1.4 0.3,1.5 0.2,1.5 0.2,1.4 0.2,1.5 0.2,1.5 0.1,1.5 0.2,1.5 0.1,1.5 0.1,1.5 0,1.5 0.1,1.5 0,1.5 0.3,3.1 0.1,3.2 0,3.1 -0.1,3.1 -0.3,3.1 -0.4,3.1 -0.4,3 -0.6,3.1 -0.7,3 -0.7,3 -0.9,3.1 -0.9,2.9 -1,3 -1.1,3 -1.1,2.9 -1.1,2.9 -1.3,2.9 -1.2,2.9 -1.4,2.8 -1.3,2.9 -1.4,2.8 -1.5,2.7 -1.6,2.7 -1.6,2.7 -1.6,2.7 -1.8,2.6 -1.8,2.5 -1.8,2.5 -2,2.4 -2,2.4 -2.1,2.3 -2.1,2.3 -2.2,2.2 -2.2,2.2 -2.3,2.2 -2.3,2.1 -2.3,2.1 -2.4,2.1 -2.4,2 -2.4,2 -2.4,2 -2.4,2 -2.5,2 -2.4,1.9 -2.5,1.9 -2.5,1.9 -2.5,1.8 -2.5,1.9 -2.5,1.8 -2.6,1.8 -2.5,1.8 -2.6,1.8 -2.6,1.8 -2.6,1.7 -2.6,1.7 -2.6,1.7 -2.6,1.7 -2.7,1.7 -2.6,1.6 -2.7,1.6 -2.7,1.6 -2.7,1.6 -2.7,1.6 -2.7,1.5 -2.7,1.5 -2.8,1.5 -2.8,1.4 -2.8,1.4 -2.7,1.4 -2.8,1.4 -2.9,1.3 -2.8,1.3 -2.8,1.3 -2.8,1.3 -2.8,1.2 -2.9,1.3 -2.8,1.2 -2.8,1.2 -2.8,1.3 -2.8,1.2 -2.8,1.2 -2.8,1.2 -2.8,1.3 -2.7,1.2 -2.8,1.3 -2.7,1.2 -2.7,1.2 -2.7,1.3 -2.7,1.2 -2.7,1.3 -2.6,1.2 -2.7,1.2 -2.6,1.2 -2.6,1.2 -2.6,1.2 -2.6,1.2 -2.6,1.1 -2.6,1.1 -2.5,1.1 -2.6,1.1 -2.5,1 -2.5,1 -2.5,1 -2.4,0.9 -2.5,0.9 -2.4,0.9 -2.4,0.8 -2.4,0.8 -2.4,0.8 -2.3,0.8 -2.4,0.7 -2.3,0.7 -2.2,0.6 -2.3,0.7 -2.2,0.6 -2.2,0.5 -2.1,0.6 -2.2,0.5 -2.1,0.4 -2,0.5 -2,0.4 -2,0.4 -2,0.3 -1.9,0.4 -1.9,0.2 -1.8,0.3 -1.7,0.2 -1.8,0.2 -1.7,0.2 -1.6,0.1 -1.6,0.1 -1.5,0 -1.4,0 -1.5,0 -1.3-0.1 -1.3-0.1 -1.2-0.1 -1.2-0.2 -1.2-0.3 -1.1-0.2 -1-0.4 -1-0.3 -1-0.5 -0.9-0.5 -0.9-0.5 -0.8-0.6 -0.7-0.7 -0.7-0.8 -0.5-1.1 -0.4-1.5 -0.1-2 0.1-2.4 0.4-2.7 0.6-2.8 0.8-2.8 1-2.8 1.1-2.8 1.3-2.6 1.4-2.6 1.4-2.5 1.4-2.4 1.4-2.3 1.3-2.2 1.3-2.1 1.2-1.9 1-1.8 0.9-1.7 0.7-1.5 0.5-1.4 0.3-1.3 0.1-1.2 -0.1-1.1 -0.3-1 -0.5-0.9 -0.7-0.9 -0.9-0.8 -1.1-0.8 -1.2-0.8 -1.3-0.8 -1.5-0.8 -1.5-0.8 -1.6-0.9 -1.7-0.9 -1.7-0.9 -1.8-1 -1.7-1.1 -1.7-1.1 -1.8-1.1 -1.7-1.2 -1.6-1.3 -1.7-1.3 -1.6-1.4 -1.5-1.4 -1.5-1.5 -1.4-1.6 -1.4-1.6 -1.4-1.6 -1.2-1.7 -1.2-1.8"/><path stroke-dashoffset="0.50" d="M203.3,929.5l1.1-2.7 1.1-2.6 1.1-2.7 1.2-2.7 1.1-2.7 1.1-2.7 1-2.6 1.1-2.7 1.1-2.7 1.1-2.7 1.1-2.7 1.1-2.7 1.1-2.7 1-2.6 1.1-2.7 1.1-2.7 1-2.7 1.1-2.7 1.1-2.7 1-2.7 1-2.7 1-2.8 0.9-2.7 0.9-2.8 0.9-2.7 0.8-2.8 0.9-2.8 0.8-2.8 0.8-2.8 0.9-2.8 0.9-2.8 0.9-2.8 1-2.8 1-2.7 1-2.7 1.1-2.7 1.1-2.7 1.1-2.7 1.1-2.7 1.2-2.7 1.1-2.7 1.2-2.6 1.2-2.7 1.2-2.6 1.2-2.7 1.2-2.6 1.3-2.7 1.2-2.6 1.3-2.6 1.3-2.6 1.3-2.6 1.3-2.6 1.4-2.6 1.3-2.6 1.4-2.5 1.5-2.6 1.4-2.5 1.5-2.5 1.6-2.4 1.6-2.5 1.6-2.4 1.6-2.4 1.7-2.4 1.6-2.4 1.7-2.3 1.7-2.4 1.7-2.4 1.7-2.3 1.7-2.4 1.7-2.4 1.7-2.4 1.7-2.3 1.7-2.4 1.7-2.3 1.7-2.4 1.7-2.3 1.8-2.3 1.8-2.3 1.8-2.3 1.8-2.3 1.8-2.3 1.8-2.2 1.8-2.3 1.8-2.3 1.9-2.2 1.8-2.3 1.8-2.3 1.8-2.2 1.9-2.3 1.9-2.2 1.8-2.2 1.9-2.2 1.9-2.2 2-2.2 1.9-2.1 2-2.1 2.1-2.1 2-2 2.1-2.1 2.1-2 2.1-1.9 2.2-2 2.2-1.9 2.3-1.8 2.2-1.9 2.3-1.8 2.4-1.7 2.3-1.8 2.4-1.6 2.5-1.6 2.5-1.6 2.5-1.4 2.6-1.4 2.6-1.3 2.6-1.1 2.8-1 2.7-1 2.9-0.7 2.8-0.7 1.6-0.2 1.5-0.3 1.6-0.1 1.5-0.1 1.5-0.1 1.5,0 1.5,0 1.5,0.1 1.4,0.1 1.5,0.2 1.5,0.2 1.5,0.2 1.4,0.2 1.5,0.3 1.5,0.2 1.4,0.3 1.5,0.3 1.5,0.3 1.5,0.3 1.4,0.3 1.5,0.4 1.5,0.3 1.5,0.3 1.5,0.3 1.5,0.3 1.5,0.3 1.4,0.4 1.5,0.3 1.5,0.4 1.4,0.4 1.4,0.5 1.4,0.5 1.4,0.5 1.4,0.5 1.3,0.6 1.3,0.7 1.3,0.7 1.3,0.7 1.3,0.8 1.2,0.8 1.2,0.9 1.2,0.8 1.2,0.9 1.2,0.9 1.2,1 1.1,1 1.2,0.9 1.1,1 1.1,1 1.1,1 1.1,1.1 1.1,1 1.2,1 1,1 1.1,1 1.1,1.1 1.1,1 1.1,1 1.1,1.1 1,1 1.1,1.1 1,1 1.1,1.1 1,1 1.1,1.1 1,1.1 1,1.1 1,1.1 1,1.1 1,1.1 1,1.1 0.9,1.2 1,1.1 0.9,1.2 1,1.2 0.9,1.2 0.9,1.2 0.9,1.2 0.9,1.2 0.8,1.2 0.9,1.3 0.9,1.3 0.8,1.2 0.8,1.3 0.8,1.3 0.8,1.3 0.8,1.3 0.8,1.3 0.7,1.3 0.8,1.3 0.7,1.4 0.7,1.3 0.7,1.3 0.7,1.4 0.7,1.3 0.6,1.4 0.7,1.4 0.6,1.3 0.7,1.4 0.6,1.3 0.6,1.4 0.6,1.4 0.6,1.4 0.6,1.4 0.6,1.3 0.6,1.4 0.6,1.4 0.5,1.4 0.6,1.4 0.5,1.4 0.6,1.4 0.5,1.4 0.5,1.4 0.5,1.4 0.5,1.4 0.5,1.4 0.5,1.5 0.5,1.4 0.5,1.4 0.4,1.4 0.5,1.5 0.4,1.4 0.4,1.4 0.5,1.5 0.4,1.4 0.4,1.5 0.3,1.4 0.4,1.5 0.4,1.4 0.3,1.5 0.3,1.5 0.4,1.4 0.3,1.5 0.2,1.5 0.3,1.5 0.3,1.4 0.2,1.5 0.2,1.5 0.2,1.5 0.2,1.5 0.2,1.5 0.1,1.5 0.1,1.5 0.1,1.5 0.1,1.5 0.1,1.5 0,1.5 0.1,1.6 0,1.5 0.2,3.1 0.1,3.1 -0.1,3 -0.1,3.1 -0.3,3.1 -0.4,3 -0.5,3 -0.6,3 -0.7,3 -0.8,3 -0.9,3 -0.9,2.9 -1,3 -1.1,2.9 -1.1,2.9 -1.2,2.8 -1.3,2.9 -1.2,2.8 -1.4,2.8 -1.3,2.8 -1.5,2.8 -1.5,2.7 -1.5,2.7 -1.6,2.6 -1.7,2.6 -1.7,2.6 -1.8,2.5 -1.9,2.5 -1.9,2.4 -2,2.3 -2.1,2.3 -2.1,2.3 -2.2,2.2 -2.2,2.2 -2.2,2.1 -2.3,2.1 -2.4,2.1 -2.3,2.1 -2.4,2 -2.4,2 -2.4,1.9 -2.4,2 -2.4,1.9 -2.4,1.9 -2.5,1.9 -2.5,1.9 -2.4,1.9 -2.5,1.8 -2.5,1.8 -2.6,1.8 -2.5,1.8 -2.5,1.8 -2.6,1.7 -2.6,1.8 -2.5,1.7 -2.6,1.7 -2.6,1.7 -2.7,1.6 -2.6,1.6 -2.6,1.7 -2.7,1.6 -2.7,1.5 -2.6,1.6 -2.7,1.5 -2.8,1.5 -2.7,1.5 -2.7,1.4 -2.8,1.4 -2.7,1.4 -2.8,1.3 -2.8,1.4 -2.8,1.3 -2.7,1.2 -2.8,1.3 -2.8,1.2 -2.8,1.2 -2.7,1.2 -2.8,1.2 -2.8,1.2 -2.7,1.1 -2.7,1.2 -2.8,1.2 -2.7,1.1 -2.7,1.2 -2.6,1.1 -2.7,1.2 -2.6,1.2 -2.7,1.1 -2.6,1.2 -2.5,1.1 -2.6,1.1 -2.6,1.2 -2.5,1.1 -2.5,1 -2.5,1.1 -2.5,1.1 -2.4,1 -2.5,1 -2.4,1 -2.4,0.9 -2.4,0.9 -2.3,0.9 -2.4,0.8 -2.3,0.8 -2.3,0.8 -2.2,0.8 -2.3,0.7 -2.2,0.7 -2.2,0.6 -2.2,0.7 -2.1,0.5 -2.2,0.6 -2,0.5 -2.1,0.5 -2,0.5 -2,0.4 -2,0.4 -1.9,0.4 -1.9,0.4 -1.9,0.3 -1.8,0.3 -1.8,0.2 -1.7,0.3 -1.8,0.2 -1.6,0.1 -1.6,0.2 -1.6,0.1 -1.5,0 -1.5,0.1 -1.4,0 -1.4,0 -1.3-0.1 -1.3-0.1 -1.2-0.1 -1.2-0.2 -1.1-0.2 -1.1-0.2 -1-0.3 -0.9-0.3 -0.9-0.4 -0.9-0.4 -0.8-0.4 -0.8-0.5 -0.8-0.6 -0.6-0.6 -0.7-0.7 -0.6-0.7 -0.5-0.9 -0.3-1.1 -0.3-1.4 0-1.8 0.2-2.2 0.4-2.4 0.6-2.5 0.7-2.4 0.8-2.5 1-2.3 1-2.3 1.1-2.2 1.1-2 1-2 1-1.8 0.9-1.8 0.8-1.6 0.6-1.5 0.5-1.3 0.3-1.2 0.1-1.1 -0.1-1 -0.3-0.9 -0.5-0.9 -0.7-0.7 -0.9-0.7 -1-0.7 -1.2-0.6 -1.4-0.7 -1.5-0.6 -1.6-0.6 -1.7-0.7 -1.7-0.7 -1.8-0.8 -1.8-0.8 -1.9-0.9 -1.8-0.9 -1.9-1 -1.8-1 -1.8-1.1 -1.8-1.1 -1.7-1.2 -1.7-1.3 -1.7-1.3 -1.6-1.4 -1.6-1.4 -1.5-1.5 -1.4-1.6 -1.4-1.6 -1.3-1.6 -1.3-1.7 -1.2-1.8"/><path stroke-dashoffset="0.87" d="M203.3,929.5l1.1-2.7 1.1-2.6 1.1-2.7 1.2-2.7 1.1-2.7 1.1-2.7 1-2.6 1.1-2.7 1.1-2.7 1.1-2.7 1.1-2.7 1.1-2.7 1-2.7 1.1-2.6 1.1-2.7 1-2.7 1.1-2.7 0.9-2.8 1-2.7 0.9-2.8 0.8-2.8 0.7-2.8 0.7-2.8 0.6-2.9 0.6-2.9 0.6-2.9 0.6-2.9 0.6-3 0.6-2.9 0.7-2.9 0.7-2.8 0.8-2.9 0.9-2.8 0.9-2.8 1-2.8 1.1-2.7 1.1-2.8 1.1-2.7 1.1-2.7 1.2-2.7 1.2-2.7 1.2-2.6 1.2-2.7 1.2-2.7 1.3-2.6 1.2-2.6 1.3-2.7 1.3-2.6 1.3-2.6 1.4-2.6 1.3-2.6 1.4-2.6 1.4-2.6 1.4-2.5 1.4-2.6 1.5-2.5 1.5-2.5 1.6-2.5 1.6-2.4 1.6-2.5 1.6-2.4 1.7-2.4 1.7-2.4 1.7-2.3 1.8-2.4 1.7-2.3 1.7-2.4 1.8-2.4 1.7-2.3 1.7-2.4 1.8-2.3 1.7-2.4 1.8-2.3 1.7-2.4 1.8-2.3 1.8-2.3 1.8-2.3 1.8-2.3 1.8-2.2 1.9-2.3 1.8-2.3 1.9-2.2 1.9-2.3 1.8-2.2 1.9-2.3 1.9-2.2 1.9-2.2 1.8-2.3 1.9-2.2 2-2.2 1.9-2.2 1.9-2.1 2-2.2 2-2.1 2-2.1 2-2.1 2.1-2 2.1-2 2.1-2 2.2-2 2.2-1.9 2.2-1.9 2.2-1.9 2.3-1.9 2.3-1.8 2.4-1.8 2.3-1.7 2.4-1.7 2.5-1.7 2.4-1.6 2.5-1.5 2.6-1.5 2.6-1.3 2.6-1.3 2.7-1.2 2.7-1 2.8-1 2.9-0.8 2.9-0.6 1.5-0.3 1.6-0.3 1.6-0.2 1.5-0.1 1.5-0.1 1.6,0 1.5-0.1 1.5,0.1 1.5,0 1.5,0.1 1.5,0.2 1.5,0.1 1.5,0.2 1.5,0.2 1.5,0.2 1.5,0.2 1.5,0.3 1.5,0.2 1.5,0.3 1.5,0.2 1.5,0.3 1.5,0.2 1.5,0.3 1.5,0.3 1.6,0.2 1.5,0.3 1.5,0.3 1.5,0.3 1.5,0.4 1.4,0.3 1.5,0.4 1.4,0.5 1.5,0.4 1.4,0.5 1.3,0.6 1.4,0.6 1.3,0.6 1.3,0.7 1.3,0.7 1.3,0.8 1.3,0.8 1.2,0.8 1.3,0.8 1.2,0.9 1.2,0.9 1.2,0.9 1.2,0.9 1.2,0.9 1.1,1 1.2,0.9 1.2,1 1.1,0.9 1.2,1 1.1,1 1.2,0.9 1.1,1 1.1,1 1.2,1 1.1,0.9 1.1,1 1.1,1 1.1,1 1.1,1.1 1.1,1 1.1,1 1.1,1.1 1.1,1 1,1.1 1.1,1.1 1,1 1,1.2 1.1,1.1 1,1.1 1,1.2 0.9,1.1 1,1.2 1,1.2 0.9,1.3 0.9,1.2 1,1.2 0.8,1.3 0.9,1.3 0.9,1.3 0.9,1.3 0.8,1.3 0.8,1.3 0.8,1.3 0.8,1.4 0.7,1.3 0.8,1.4 0.7,1.4 0.7,1.4 0.7,1.3 0.7,1.4 0.6,1.4 0.7,1.4 0.6,1.4 0.6,1.4 0.6,1.4 0.6,1.4 0.6,1.4 0.6,1.5 0.5,1.4 0.6,1.4 0.5,1.4 0.5,1.4 0.6,1.5 0.5,1.4 0.5,1.4 0.5,1.5 0.5,1.4 0.5,1.4 0.5,1.5 0.4,1.4 0.5,1.5 0.4,1.4 0.5,1.5 0.4,1.4 0.4,1.5 0.4,1.4 0.4,1.5 0.4,1.5 0.4,1.4 0.4,1.5 0.3,1.5 0.4,1.5 0.3,1.5 0.3,1.4 0.3,1.5 0.3,1.5 0.3,1.5 0.3,1.5 0.2,1.5 0.3,1.5 0.2,1.5 0.2,1.5 0.2,1.6 0.2,1.5 0.1,1.5 0.2,1.5 0.1,1.5 0.1,1.6 0.1,1.5 0,1.5 0.1,1.6 0,1.5 0,1.6 0,1.5 0,1.5 0.1,3.1 0,3 -0.1,3 -0.2,3 -0.4,3 -0.4,3 -0.5,2.9 -0.7,2.9 -0.7,3 -0.9,2.9 -0.9,2.9 -0.9,2.9 -1.1,2.8 -1.1,2.9 -1.1,2.8 -1.2,2.8 -1.3,2.8 -1.3,2.8 -1.3,2.7 -1.4,2.7 -1.5,2.7 -1.5,2.7 -1.5,2.6 -1.6,2.6 -1.7,2.6 -1.7,2.5 -1.8,2.5 -1.9,2.4 -1.9,2.3 -2,2.3 -2,2.3 -2.1,2.2 -2.2,2.2 -2.2,2.1 -2.2,2.2 -2.3,2 -2.3,2.1 -2.3,2 -2.3,2 -2.4,1.9 -2.4,2 -2.4,1.9 -2.4,1.9 -2.4,1.9 -2.4,1.9 -2.4,1.8 -2.5,1.9 -2.4,1.8 -2.5,1.8 -2.5,1.8 -2.5,1.7 -2.5,1.8 -2.5,1.7 -2.5,1.7 -2.6,1.8 -2.5,1.6 -2.6,1.7 -2.6,1.7 -2.6,1.6 -2.6,1.6 -2.6,1.6 -2.6,1.5 -2.7,1.6 -2.6,1.5 -2.7,1.5 -2.7,1.5 -2.7,1.4 -2.7,1.4 -2.7,1.4 -2.7,1.3 -2.7,1.3 -2.7,1.3 -2.8,1.3 -2.7,1.2 -2.7,1.2 -2.7,1.2 -2.7,1.1 -2.7,1.2 -2.7,1.1 -2.7,1.1 -2.6,1.1 -2.7,1.1 -2.6,1.1 -2.6,1.1 -2.6,1.1 -2.6,1.1 -2.5,1 -2.6,1.1 -2.5,1.1 -2.5,1 -2.4,1.1 -2.4,1 -2.5,1 -2.4,1 -2.3,1 -2.4,0.9 -2.3,0.9 -2.3,0.9 -2.3,0.9 -2.2,0.8 -2.3,0.8 -2.2,0.8 -2.2,0.8 -2.1,0.7 -2.2,0.6 -2.1,0.7 -2,0.6 -2.1,0.6 -2,0.5 -2,0.5 -2,0.5 -1.9,0.5 -2,0.4 -1.8,0.4 -1.9,0.4 -1.8,0.3 -1.8,0.3 -1.7,0.3 -1.7,0.2 -1.7,0.2 -1.7,0.2 -1.6,0.2 -1.5,0.1 -1.6,0.1 -1.4,0.1 -1.5,0.1 -1.4,0 -1.3,0 -1.3,0 -1.3-0.1 -1.2-0.1 -1.1-0.1 -1.2-0.2 -1-0.2 -1-0.2 -1-0.2 -0.9-0.3 -0.9-0.3 -0.8-0.4 -0.8-0.4 -0.7-0.4 -0.7-0.5 -0.7-0.5 -0.6-0.6 -0.5-0.6 -0.6-0.7 -0.4-0.8 -0.4-0.8 -0.3-1 -0.2-1.3 0-1.6 0.1-1.9 0.3-2.1 0.5-2.1 0.5-2 0.6-2 0.7-1.9 0.7-1.8 0.7-1.7 0.7-1.6 0.5-1.5 0.5-1.4 0.4-1.3 0.2-1.1 0-1 -0.1-0.9 -0.3-0.9 -0.5-0.7 -0.7-0.6 -0.9-0.6 -1.1-0.5 -1.2-0.5 -1.4-0.4 -1.5-0.5 -1.6-0.5 -1.7-0.5 -1.8-0.5 -1.8-0.6 -1.9-0.6 -2-0.7 -1.9-0.7 -1.9-0.8 -2-0.8 -1.9-0.9 -1.9-1 -1.8-1 -1.9-1.1 -1.8-1.1 -1.7-1.2 -1.7-1.3 -1.7-1.3 -1.6-1.4 -1.6-1.4 -1.5-1.5 -1.4-1.6 -1.4-1.6 -1.3-1.6 -1.3-1.7 -1.2-1.8"/><path stroke-dashoffset="1.24" d="M203.3,929.5l1.1-2.7 1.1-2.6 1.1-2.7 1.2-2.7 1.1-2.7 1.1-2.7 1-2.6 1.1-2.7 1.1-2.7 1.1-2.7 1.1-2.7 1.1-2.7 1-2.7 1-2.7 1-2.7 1-2.7 0.9-2.8 0.8-2.8 0.6-2.8 0.6-2.9 0.5-2.9 0.4-3 0.3-3 0.3-3 0.3-3.1 0.2-3 0.3-3.1 0.4-3 0.4-3 0.5-3 0.6-3 0.7-2.9 0.8-2.9 0.9-2.9 0.9-2.8 1.1-2.8 1-2.8 1.2-2.7 1.1-2.7 1.2-2.7 1.2-2.7 1.3-2.7 1.2-2.7 1.3-2.7 1.3-2.6 1.4-2.6 1.3-2.7 1.4-2.6 1.3-2.6 1.4-2.6 1.4-2.6 1.5-2.6 1.4-2.5 1.5-2.6 1.5-2.5 1.5-2.5 1.6-2.5 1.6-2.5 1.7-2.4 1.6-2.4 1.8-2.4 1.7-2.4 1.8-2.4 1.7-2.3 1.8-2.4 1.8-2.3 1.8-2.4 1.8-2.3 1.8-2.3 1.8-2.4 1.8-2.3 1.8-2.3 1.8-2.4 1.8-2.3 1.8-2.3 1.9-2.3 1.9-2.2 1.8-2.3 1.9-2.3 1.9-2.2 2-2.2 1.9-2.3 1.9-2.2 1.9-2.2 2-2.2 1.9-2.2 2-2.2 1.9-2.2 2-2.2 2-2.1 2-2.2 2-2.1 2-2.1 2.1-2.1 2-2 2.2-2.1 2.1-2 2.2-1.9 2.1-2 2.3-1.9 2.2-1.9 2.3-1.9 2.3-1.8 2.3-1.8 2.4-1.8 2.4-1.8 2.4-1.7 2.4-1.7 2.5-1.6 2.5-1.6 2.6-1.5 2.5-1.5 2.7-1.3 2.6-1.3 2.7-1.2 2.8-1.1 2.8-1 2.9-0.8 2.9-0.7 1.6-0.3 1.6-0.3 1.6-0.2 1.6-0.2 1.5-0.2 1.6-0.1 1.5-0.1 1.6,0 1.5,0 1.5,0 1.6,0 1.5,0.1 1.5,0.1 1.5,0.1 1.6,0.2 1.5,0.1 1.5,0.2 1.6,0.2 1.5,0.2 1.6,0.1 1.5,0.2 1.6,0.2 1.5,0.2 1.6,0.2 1.5,0.2 1.6,0.2 1.5,0.3 1.6,0.2 1.5,0.3 1.5,0.3 1.5,0.3 1.5,0.4 1.5,0.4 1.4,0.4 1.5,0.5 1.4,0.5 1.4,0.6 1.3,0.6 1.4,0.7 1.3,0.6 1.3,0.7 1.3,0.8 1.3,0.7 1.3,0.8 1.3,0.8 1.2,0.8 1.3,0.8 1.2,0.9 1.3,0.9 1.2,0.8 1.2,0.9 1.3,0.9 1.2,0.9 1.2,0.9 1.2,0.9 1.2,0.9 1.2,0.9 1.2,0.9 1.2,0.9 1.2,1 1.2,0.9 1.2,1 1.1,0.9 1.2,1 1.2,1 1.1,0.9 1.2,1.1 1.1,1 1.1,1 1.1,1.1 1.1,1 1.1,1.1 1.1,1.2 1.1,1.1 1,1.2 1.1,1.1 1,1.2 1,1.3 1,1.2 0.9,1.3 1,1.3 0.9,1.3 0.9,1.3 0.9,1.3 0.9,1.4 0.8,1.3 0.9,1.4 0.7,1.4 0.8,1.4 0.7,1.4 0.8,1.4 0.6,1.5 0.7,1.4 0.7,1.4 0.6,1.5 0.6,1.5 0.6,1.4 0.6,1.5 0.5,1.4 0.6,1.5 0.5,1.5 0.5,1.4 0.5,1.5 0.5,1.5 0.5,1.4 0.5,1.5 0.5,1.5 0.4,1.5 0.5,1.4 0.4,1.5 0.4,1.5 0.5,1.5 0.4,1.5 0.4,1.5 0.4,1.5 0.4,1.5 0.3,1.5 0.4,1.5 0.4,1.5 0.3,1.5 0.3,1.5 0.4,1.5 0.3,1.5 0.3,1.5 0.3,1.6 0.2,1.5 0.3,1.5 0.3,1.5 0.2,1.6 0.2,1.5 0.2,1.5 0.2,1.6 0.2,1.5 0.2,1.6 0.2,1.5 0.1,1.6 0.2,1.5 0.1,1.6 0.1,1.5 0.1,1.6 0,1.6 0.1,1.5 0,1.6 0,1.6 0,1.5 0,1.6 -0.1,1.6 0,1.6 -0.1,1.6 0,2.9 0,2.9 -0.2,2.9 -0.4,2.9 -0.4,2.9 -0.5,2.9 -0.6,2.8 -0.7,2.9 -0.8,2.8 -0.9,2.8 -0.9,2.8 -1,2.8 -1.1,2.8 -1.1,2.8 -1.2,2.7 -1.3,2.7 -1.2,2.7 -1.4,2.7 -1.3,2.7 -1.4,2.6 -1.5,2.6 -1.5,2.6 -1.6,2.6 -1.6,2.5 -1.6,2.5 -1.8,2.4 -1.8,2.4 -1.8,2.4 -1.9,2.3 -2,2.2 -2,2.2 -2.1,2.2 -2.1,2.1 -2.2,2.1 -2.2,2.1 -2.2,2 -2.3,2 -2.3,2 -2.3,2 -2.3,1.9 -2.4,1.9 -2.3,1.9 -2.4,1.9 -2.3,1.8 -2.4,1.9 -2.4,1.8 -2.4,1.8 -2.4,1.8 -2.4,1.8 -2.5,1.7 -2.4,1.8 -2.5,1.7 -2.5,1.7 -2.4,1.7 -2.5,1.7 -2.5,1.7 -2.5,1.6 -2.6,1.6 -2.5,1.7 -2.6,1.6 -2.5,1.5 -2.6,1.6 -2.6,1.5 -2.6,1.5 -2.6,1.5 -2.6,1.5 -2.6,1.4 -2.7,1.4 -2.6,1.4 -2.7,1.4 -2.6,1.3 -2.7,1.2 -2.6,1.3 -2.7,1.2 -2.6,1.1 -2.6,1.2 -2.7,1.1 -2.6,1.1 -2.6,1.1 -2.6,1.1 -2.6,1 -2.5,1.1 -2.6,1 -2.5,1 -2.5,1 -2.4,1.1 -2.5,1 -2.4,1 -2.4,0.9 -2.4,1 -2.3,1 -2.3,0.9 -2.3,0.9 -2.3,0.9 -2.2,0.9 -2.3,0.9 -2.1,0.8 -2.2,0.8 -2.1,0.8 -2.1,0.8 -2.1,0.7 -2.1,0.7 -2,0.6 -2,0.7 -2,0.6 -1.9,0.5 -2,0.5 -1.9,0.5 -1.8,0.5 -1.9,0.4 -1.8,0.4 -1.7,0.4 -1.8,0.4 -1.7,0.3 -1.7,0.3 -1.6,0.2 -1.6,0.3 -1.6,0.2 -1.6,0.2 -1.5,0.1 -1.4,0.1 -1.5,0.1 -1.4,0.1 -1.4,0.1 -1.3,0 -1.3,0 -1.2,0 -1.2-0.1 -1.2,0 -1.1-0.1 -1.1-0.2 -1-0.1 -1-0.2 -0.9-0.2 -0.9-0.2 -0.9-0.3 -0.8-0.3 -0.7-0.3 -0.8-0.4 -0.7-0.4 -0.6-0.4 -0.7-0.4 -0.6-0.5 -0.5-0.6 -0.5-0.6 -0.5-0.6 -0.4-0.7 -0.4-0.7 -0.3-0.9 -0.2-1.1 -0.1-1.4 0-1.5 0.1-1.6 0.2-1.7 0.3-1.6 0.3-1.5 0.3-1.4 0.3-1.4 0.2-1.2 0.1-1.1 0.1-1 -0.1-0.9 -0.2-0.8 -0.4-0.7 -0.6-0.6 -0.7-0.5 -0.9-0.5 -1.1-0.4 -1.2-0.3 -1.4-0.3 -1.5-0.3 -1.6-0.3 -1.7-0.3 -1.8-0.3 -1.9-0.4 -2-0.4 -1.9-0.4 -2-0.6 -2.1-0.5 -2-0.7 -2-0.7 -1.9-0.8 -2-0.8 -1.9-0.9 -1.9-1 -1.9-1 -1.8-1.1 -1.8-1.1 -1.8-1.2 -1.7-1.3 -1.7-1.3 -1.6-1.4 -1.6-1.4 -1.5-1.5 -1.4-1.6 -1.4-1.6 -1.3-1.6 -1.3-1.7 -1.2-1.8"/><path stroke-dashoffset="1.61" d="M203.3,929.5l1.1-2.7 1.1-2.6 1.1-2.7 1.2-2.7 1.1-2.7 1.1-2.7 1-2.6 1.1-2.7 1.1-2.7 1.1-2.7 1-2.7 1-2.7 1-2.7 0.9-2.8 0.9-2.8 0.7-2.8 0.6-2.8 0.5-3 0.3-2.9 0.2-3.1 0-3.1 0-3.1 -0.1-3.2 -0.1-3.2 -0.1-3.2 0-3.2 0-3.2 0.1-3.2 0.3-3.1 0.3-3.1 0.5-3.1 0.6-3 0.7-2.9 0.8-3 1-2.8 1-2.9 1.1-2.8 1.1-2.7 1.2-2.8 1.2-2.7 1.3-2.8 1.3-2.6 1.3-2.7 1.3-2.7 1.4-2.6 1.4-2.7 1.4-2.6 1.5-2.6 1.4-2.6 1.5-2.6 1.5-2.6 1.5-2.6 1.5-2.5 1.5-2.5 1.6-2.6 1.6-2.5 1.7-2.4 1.7-2.5 1.7-2.4 1.7-2.4 1.8-2.4 1.8-2.3 1.9-2.4 1.8-2.3 1.9-2.3 1.9-2.4 1.8-2.3 1.9-2.3 1.8-2.3 1.9-2.3 1.9-2.3 1.9-2.4 1.8-2.3 1.9-2.2 1.9-2.3 2-2.3 1.9-2.2 2-2.3 1.9-2.2 2-2.2 2-2.2 2-2.2 2-2.2 2-2.2 2-2.1 2.1-2.2 2-2.1 2-2.2 2.1-2.1 2.1-2.1 2-2.1 2.1-2 2.1-2.1 2.2-2 2.1-2 2.2-2 2.2-2 2.3-1.9 2.3-1.9 2.2-1.8 2.4-1.9 2.3-1.8 2.4-1.8 2.4-1.8 2.4-1.7 2.4-1.7 2.5-1.7 2.5-1.7 2.5-1.6 2.6-1.6 2.6-1.5 2.6-1.4 2.7-1.4 2.7-1.3 2.7-1.2 2.8-1.1 2.8-1 2.9-0.9 2.9-0.8 1.7-0.4 1.7-0.3 1.6-0.3 1.6-0.2 1.6-0.2 1.6-0.2 1.6-0.2 1.6-0.1 1.6-0.1 1.5-0.1 1.6,0 1.6,0 1.5,0 1.6,0 1.6,0 1.5,0.1 1.6,0.1 1.6,0.1 1.6,0.1 1.6,0.1 1.6,0.1 1.6,0.1 1.6,0.1 1.6,0.1 1.6,0.1 1.6,0.2 1.6,0.1 1.6,0.2 1.6,0.2 1.5,0.2 1.6,0.3 1.5,0.3 1.6,0.3 1.5,0.3 1.5,0.4 1.4,0.5 1.5,0.4 1.4,0.6 1.4,0.5 1.4,0.6 1.4,0.6 1.4,0.6 1.4,0.7 1.3,0.6 1.4,0.7 1.3,0.7 1.4,0.8 1.3,0.7 1.3,0.8 1.3,0.8 1.3,0.7 1.3,0.8 1.3,0.8 1.3,0.8 1.3,0.8 1.3,0.9 1.3,0.8 1.3,0.8 1.3,0.9 1.2,0.8 1.3,0.9 1.3,0.9 1.2,0.9 1.3,0.9 1.2,0.9 1.3,0.9 1.2,1 1.3,0.9 1.2,1 1.2,1 1.2,1.1 1.1,1 1.2,1.1 1.2,1.1 1.1,1.2 1.1,1.2 1.1,1.2 1.1,1.2 1,1.2 1.1,1.3 1,1.3 1,1.4 0.9,1.3 1,1.4 0.9,1.4 0.9,1.4 0.8,1.4 0.8,1.5 0.8,1.4 0.7,1.5 0.7,1.5 0.7,1.5 0.6,1.5 0.6,1.5 0.6,1.5 0.6,1.6 0.6,1.5 0.5,1.5 0.5,1.5 0.5,1.6 0.5,1.5 0.4,1.5 0.5,1.6 0.4,1.5 0.4,1.5 0.4,1.6 0.4,1.5 0.4,1.6 0.4,1.5 0.4,1.5 0.3,1.6 0.4,1.5 0.3,1.6 0.3,1.5 0.3,1.6 0.3,1.5 0.3,1.6 0.3,1.6 0.3,1.5 0.3,1.6 0.2,1.5 0.3,1.6 0.2,1.6 0.2,1.5 0.2,1.6 0.2,1.6 0.2,1.6 0.2,1.5 0.1,1.6 0.2,1.6 0.1,1.6 0.1,1.6 0.1,1.6 0.1,1.6 0.1,1.6 0.1,1.6 0.1,1.6 0,1.6 0,1.6 0,1.6 0,1.6 0,1.6 0,1.6 -0.1,1.7 0,1.6 -0.1,1.6 -0.1,1.6 -0.2,1.7 -0.1,1.6 -0.1,2.8 -0.2,2.8 -0.3,2.8 -0.4,2.8 -0.5,2.7 -0.6,2.8 -0.7,2.7 -0.8,2.8 -0.8,2.7 -1,2.7 -1,2.7 -1,2.7 -1.2,2.6 -1.1,2.7 -1.3,2.6 -1.2,2.6 -1.3,2.6 -1.4,2.6 -1.4,2.6 -1.4,2.5 -1.5,2.5 -1.5,2.5 -1.6,2.5 -1.6,2.4 -1.7,2.4 -1.7,2.4 -1.8,2.3 -1.8,2.2 -1.9,2.3 -2,2.2 -2,2.1 -2,2.1 -2.1,2.1 -2.2,2 -2.1,2 -2.2,2 -2.2,1.9 -2.3,2 -2.3,1.9 -2.2,1.9 -2.3,1.8 -2.3,1.9 -2.3,1.8 -2.3,1.8 -2.4,1.8 -2.3,1.8 -2.4,1.8 -2.3,1.8 -2.4,1.7 -2.4,1.7 -2.4,1.8 -2.4,1.7 -2.4,1.6 -2.4,1.7 -2.4,1.7 -2.4,1.6 -2.5,1.7 -2.5,1.6 -2.4,1.6 -2.5,1.6 -2.5,1.5 -2.5,1.6 -2.5,1.5 -2.5,1.5 -2.6,1.5 -2.5,1.4 -2.6,1.5 -2.5,1.4 -2.6,1.4 -2.6,1.3 -2.5,1.3 -2.6,1.3 -2.6,1.2 -2.5,1.2 -2.6,1.1 -2.5,1.1 -2.6,1.2 -2.5,1 -2.5,1.1 -2.5,1 -2.5,1 -2.4,1 -2.5,1 -2.4,1 -2.4,0.9 -2.4,1 -2.3,0.9 -2.3,0.9 -2.3,1 -2.3,0.9 -2.2,0.9 -2.2,0.8 -2.1,0.9 -2.2,0.8 -2.1,0.8 -2.1,0.8 -2,0.8 -2,0.7 -2,0.8 -2,0.7 -1.9,0.6 -1.9,0.6 -1.9,0.6 -1.9,0.6 -1.8,0.5 -1.8,0.5 -1.7,0.5 -1.8,0.5 -1.7,0.4 -1.7,0.4 -1.6,0.3 -1.6,0.3 -1.6,0.3 -1.6,0.3 -1.5,0.2 -1.5,0.3 -1.5,0.2 -1.4,0.1 -1.4,0.2 -1.4,0.1 -1.3,0.1 -1.3,0.1 -1.3,0 -1.2,0.1 -1.2,0 -1.2,0 -1.1-0.1 -1.1,0 -1-0.1 -1.1-0.1 -0.9-0.1 -1-0.2 -0.9-0.1 -0.8-0.2 -0.9-0.2 -0.8-0.2 -0.7-0.3 -0.7-0.3 -0.7-0.3 -0.7-0.3 -0.6-0.4 -0.7-0.4 -0.5-0.4 -0.6-0.4 -0.5-0.5 -0.5-0.5 -0.5-0.6 -0.5-0.6 -0.3-0.7 -0.4-0.9 -0.2-1 -0.2-1.2 -0.1-1.1 -0.1-1.2 -0.1-1.1 -0.1-1.1 -0.2-0.9 -0.2-0.8 -0.3-0.8 -0.4-0.6 -0.5-0.6 -0.7-0.4 -0.8-0.4 -0.9-0.3 -1.1-0.3 -1.3-0.1 -1.4-0.2 -1.5-0.1 -1.7-0.1 -1.7-0.1 -1.8-0.1 -2-0.2 -1.9-0.2 -2-0.3 -2.1-0.3 -2-0.3 -2.1-0.5 -2-0.5 -2.1-0.6 -2-0.6 -2-0.7 -2-0.8 -2-0.8 -1.9-0.9 -1.9-1 -1.9-1 -1.8-1.1 -1.8-1.1 -1.8-1.2 -1.7-1.3 -1.7-1.3 -1.6-1.4 -1.6-1.4 -1.5-1.5 -1.4-1.6 -1.4-1.6 -1.3-1.6 -1.3-1.7 -1.2-1.8"/><path stroke-dashoffset="1.98" d="M203.3,929.5l1.1-2.7 1.1-2.6 1.1-2.7 1.1-2.7 1.1-2.7 1.1-2.7 1.1-2.6 1.1-2.7 1-2.7 1-2.7 1-2.8 0.9-2.7 0.8-2.8 0.7-2.8 0.5-2.9 0.4-3 0.2-3 0-3.1 -0.2-3.1 -0.3-3.3 -0.4-3.3 -0.5-3.3 -0.5-3.4 -0.5-3.4 -0.4-3.3 -0.3-3.4 -0.2-3.3 -0.1-3.3 0.1-3.2 0.3-3.2 0.4-3.2 0.5-3.1 0.7-3 0.7-3 1-2.9 1-2.9 1.1-2.8 1.2-2.8 1.2-2.8 1.3-2.8 1.3-2.7 1.3-2.7 1.4-2.7 1.4-2.7 1.5-2.6 1.5-2.6 1.5-2.6 1.5-2.7 1.5-2.5 1.6-2.6 1.5-2.6 1.6-2.6 1.7-2.5 1.6-2.5 1.7-2.5 1.7-2.5 1.7-2.5 1.8-2.4 1.8-2.4 1.8-2.4 1.9-2.3 1.9-2.4 1.9-2.3 1.9-2.3 2-2.3 1.9-2.3 2-2.3 1.9-2.3 2-2.3 1.9-2.3 2-2.3 1.9-2.2 2-2.3 2-2.3 2-2.2 2-2.3 2-2.2 2.1-2.2 2-2.2 2.1-2.1 2.1-2.2 2-2.2 2.1-2.1 2.2-2.1 2.1-2.1 2.1-2.2 2.1-2 2.1-2.1 2.2-2.1 2.2-2 2.1-2.1 2.2-2 2.2-2 2.3-1.9 2.2-2 2.3-1.9 2.3-1.9 2.3-1.8 2.4-1.9 2.4-1.8 2.4-1.8 2.4-1.7 2.5-1.8 2.4-1.7 2.5-1.7 2.5-1.7 2.6-1.6 2.5-1.7 2.6-1.6 2.6-1.5 2.7-1.5 2.7-1.5 2.7-1.3 2.7-1.4 2.8-1.2 2.8-1.1 2.9-1.1 2.9-0.9 2.9-0.9 1.7-0.3 1.7-0.4 1.7-0.4 1.7-0.3 1.7-0.3 1.6-0.2 1.6-0.3 1.7-0.2 1.6-0.2 1.6-0.2 1.6-0.1 1.6-0.2 1.6-0.1 1.6-0.1 1.6,0 1.6-0.1 1.7,0 1.6,0 1.6,0 1.7,0 1.6,0 1.7,0 1.7,0 1.6,0 1.7,0.1 1.6,0 1.7,0.1 1.7,0.1 1.6,0.1 1.6,0.1 1.7,0.2 1.6,0.2 1.6,0.2 1.5,0.3 1.6,0.3 1.5,0.3 1.6,0.3 1.5,0.4 1.5,0.5 1.5,0.4 1.4,0.5 1.5,0.5 1.5,0.6 1.4,0.5 1.4,0.6 1.5,0.6 1.4,0.6 1.4,0.7 1.4,0.6 1.4,0.7 1.4,0.6 1.4,0.7 1.4,0.7 1.4,0.7 1.4,0.7 1.4,0.7 1.3,0.8 1.4,0.7 1.4,0.8 1.4,0.7 1.4,0.8 1.3,0.8 1.4,0.8 1.4,0.8 1.3,0.9 1.4,0.8 1.3,0.9 1.3,0.9 1.4,1 1.3,0.9 1.3,1 1.2,1 1.3,1.1 1.3,1.1 1.2,1.1 1.2,1.2 1.2,1.2 1.1,1.2 1.2,1.3 1.1,1.3 1.1,1.3 1,1.4 1.1,1.4 1,1.4 0.9,1.4 0.9,1.5 0.9,1.5 0.8,1.5 0.8,1.5 0.8,1.6 0.6,1.6 0.7,1.5 0.6,1.6 0.6,1.6 0.5,1.6 0.5,1.6 0.5,1.6 0.5,1.6 0.5,1.6 0.4,1.7 0.4,1.6 0.4,1.6 0.4,1.6 0.3,1.6 0.4,1.6 0.3,1.6 0.3,1.6 0.3,1.6 0.3,1.6 0.3,1.7 0.2,1.6 0.3,1.6 0.2,1.6 0.3,1.6 0.2,1.6 0.2,1.7 0.2,1.6 0.2,1.6 0.2,1.6 0.2,1.7 0.1,1.6 0.2,1.6 0.1,1.6 0.1,1.7 0.2,1.6 0,1.6 0.1,1.7 0.1,1.6 0.1,1.6 0,1.7 0.1,1.6 0,1.7 0,1.6 0,1.7 0,1.6 0,1.7 0,1.7 0,1.6 -0.1,1.7 0,1.6 -0.1,1.7 -0.1,1.7 -0.1,1.7 -0.2,1.6 -0.1,1.7 -0.2,1.7 -0.2,1.7 -0.2,1.6 -0.2,1.7 -0.2,2.7 -0.3,2.7 -0.5,2.6 -0.5,2.7 -0.6,2.6 -0.7,2.6 -0.8,2.6 -0.9,2.6 -0.9,2.6 -1,2.6 -1.1,2.5 -1.1,2.6 -1.2,2.5 -1.2,2.5 -1.3,2.5 -1.3,2.5 -1.3,2.5 -1.4,2.5 -1.4,2.4 -1.5,2.4 -1.5,2.5 -1.5,2.3 -1.6,2.4 -1.6,2.3 -1.7,2.3 -1.7,2.3 -1.8,2.2 -1.8,2.2 -1.9,2.1 -1.9,2.1 -2,2.1 -2,2 -2.1,2 -2.1,2 -2.1,1.9 -2.1,1.9 -2.2,1.9 -2.2,1.9 -2.2,1.9 -2.2,1.8 -2.3,1.8 -2.2,1.8 -2.3,1.8 -2.2,1.8 -2.3,1.7 -2.3,1.8 -2.3,1.7 -2.3,1.7 -2.3,1.7 -2.3,1.7 -2.3,1.7 -2.3,1.7 -2.4,1.6 -2.3,1.7 -2.4,1.6 -2.3,1.7 -2.4,1.6 -2.4,1.6 -2.4,1.5 -2.4,1.6 -2.4,1.6 -2.4,1.5 -2.4,1.5 -2.5,1.5 -2.4,1.5 -2.5,1.4 -2.5,1.5 -2.4,1.4 -2.5,1.4 -2.5,1.3 -2.5,1.3 -2.4,1.2 -2.5,1.3 -2.5,1.1 -2.4,1.2 -2.5,1.1 -2.4,1.1 -2.4,1 -2.4,1.1 -2.4,1 -2.4,0.9 -2.4,1 -2.3,0.9 -2.3,1 -2.3,0.9 -2.3,0.9 -2.2,0.8 -2.2,0.9 -2.2,0.9 -2.1,0.8 -2.1,0.9 -2.1,0.8 -2,0.8 -2,0.8 -2,0.8 -1.9,0.7 -2,0.7 -1.8,0.7 -1.9,0.7 -1.8,0.7 -1.8,0.6 -1.8,0.6 -1.7,0.5 -1.7,0.6 -1.7,0.5 -1.7,0.4 -1.6,0.5 -1.6,0.4 -1.5,0.4 -1.6,0.3 -1.5,0.4 -1.5,0.3 -1.4,0.3 -1.5,0.2 -1.4,0.2 -1.3,0.3 -1.4,0.1 -1.3,0.2 -1.3,0.2 -1.2,0.1 -1.2,0.1 -1.2,0.1 -1.2,0 -1.1,0.1 -1.1,0 -1.1,0 -1.1,0 -1,0 -1,0 -0.9-0.1 -0.9-0.1 -0.9-0.1 -0.9-0.1 -0.8-0.1 -0.8-0.1 -0.8-0.2 -0.8-0.1 -0.7-0.2 -0.7-0.2 -0.7-0.3 -0.7-0.2 -0.6-0.3 -0.7-0.3 -0.6-0.3 -0.6-0.3 -0.6-0.4 -0.6-0.4 -0.6-0.4 -0.5-0.5 -0.6-0.5 -0.4-0.7 -0.5-0.7 -0.5-0.8 -0.5-0.7 -0.5-0.6 -0.5-0.5 -0.7-0.5 -0.7-0.4 -0.8-0.3 -0.9-0.2 -1.1-0.1 -1.2-0.1 -1.3,0 -1.4,0 -1.6,0.1 -1.7,0 -1.8,0.1 -1.8,0.1 -1.9,0 -2,0 -2.1,0 -2-0.1 -2.1-0.2 -2.1-0.2 -2.1-0.3 -2.1-0.4 -2-0.4 -2.1-0.5 -2.1-0.6 -2-0.6 -2-0.7 -2-0.8 -2-0.8 -1.9-0.9 -1.9-1 -1.9-1 -1.8-1.1 -1.8-1.1 -1.8-1.2 -1.7-1.3 -1.7-1.3 -1.6-1.4 -1.6-1.4 -1.5-1.5 -1.4-1.6 -1.4-1.6 -1.3-1.6 -1.3-1.7 -1.2-1.8"/><path stroke-dashoffset="0.05" d="M203.3,929.5l1.1-2.7 1.1-2.6 1.1-2.7 1.1-2.7 1.1-2.7 1.1-2.7 1-2.7 1-2.7 0.9-2.7 0.9-2.8 0.8-2.8 0.6-2.8 0.5-2.9 0.3-3 0.2-3 -0.1-3.1 -0.4-3.2 -0.5-3.3 -0.7-3.4 -0.8-3.5 -0.9-3.5 -0.9-3.5 -0.9-3.5 -0.8-3.6 -0.7-3.5 -0.5-3.5 -0.4-3.4 -0.2-3.4 0-3.4 0.2-3.2 0.3-3.2 0.5-3.2 0.6-3.1 0.8-3 1-3 1-2.9 1.1-2.9 1.2-2.8 1.3-2.9 1.3-2.7 1.4-2.8 1.4-2.7 1.5-2.7 1.5-2.7 1.5-2.6 1.6-2.6 1.6-2.6 1.6-2.6 1.7-2.6 1.6-2.6 1.7-2.6 1.7-2.5 1.7-2.5 1.7-2.5 1.8-2.5 1.8-2.5 1.8-2.4 1.9-2.4 1.9-2.4 1.9-2.4 2-2.3 1.9-2.3 2-2.3 2.1-2.3 2-2.3 2-2.3 2.1-2.2 2-2.3 2.1-2.2 2-2.3 2.1-2.3 2-2.2 2.1-2.2 2.1-2.3 2.1-2.2 2.1-2.2 2.1-2.2 2.1-2.2 2.2-2.1 2.1-2.2 2.2-2.1 2.2-2.1 2.2-2.1 2.2-2.1 2.2-2 2.2-2.1 2.3-2 2.2-2 2.3-2 2.2-2 2.3-2 2.3-1.9 2.3-1.9 2.4-1.9 2.3-1.9 2.4-1.8 2.4-1.8 2.5-1.8 2.4-1.8 2.5-1.7 2.5-1.8 2.5-1.7 2.5-1.7 2.6-1.6 2.6-1.7 2.5-1.6 2.7-1.7 2.6-1.6 2.6-1.5 2.7-1.6 2.7-1.4 2.8-1.5 2.7-1.4 2.8-1.3 2.8-1.3 2.9-1.1 2.9-1.1 2.9-1 2.9-0.9 1.8-0.5 1.8-0.4 1.8-0.4 1.7-0.4 1.7-0.4 1.7-0.3 1.7-0.4 1.6-0.3 1.7-0.3 1.7-0.3 1.6-0.3 1.7-0.3 1.6-0.2 1.7-0.2 1.6-0.2 1.7-0.2 1.7-0.1 1.7-0.1 1.7-0.1 1.7-0.1 1.7-0.1 1.7-0.1 1.7-0.1 1.8-0.1 1.7,0 1.7-0.1 1.7,0 1.8,0 1.7,0 1.7,0 1.7,0.1 1.6,0.1 1.7,0.1 1.7,0.1 1.6,0.2 1.6,0.2 1.6,0.3 1.6,0.2 1.6,0.3 1.6,0.4 1.6,0.3 1.5,0.4 1.6,0.4 1.5,0.5 1.5,0.4 1.6,0.5 1.5,0.5 1.5,0.5 1.5,0.5 1.5,0.5 1.5,0.6 1.5,0.5 1.5,0.6 1.5,0.6 1.5,0.6 1.5,0.6 1.5,0.6 1.5,0.7 1.5,0.6 1.5,0.7 1.4,0.7 1.5,0.7 1.5,0.7 1.5,0.7 1.5,0.8 1.4,0.8 1.5,0.8 1.4,0.8 1.5,0.9 1.4,0.9 1.4,0.9 1.4,1 1.4,1 1.3,1.1 1.4,1.1 1.3,1.2 1.2,1.2 1.3,1.2 1.2,1.3 1.2,1.3 1.2,1.4 1.1,1.4 1.1,1.4 1.1,1.5 1,1.5 1,1.5 0.9,1.6 0.8,1.6 0.8,1.6 0.7,1.6 0.7,1.6 0.6,1.7 0.6,1.7 0.6,1.7 0.5,1.7 0.4,1.7 0.5,1.7 0.4,1.7 0.4,1.7 0.3,1.6 0.4,1.7 0.3,1.7 0.3,1.7 0.2,1.7 0.3,1.7 0.2,1.7 0.3,1.7 0.2,1.7 0.2,1.7 0.1,1.7 0.2,1.6 0.2,1.7 0.1,1.7 0.1,1.7 0.2,1.7 0.1,1.7 0.1,1.7 0.1,1.7 0.1,1.7 0,1.7 0.1,1.7 0,1.7 0.1,1.7 0,1.7 0,1.7 0,1.7 0,1.7 -0.1,1.7 0,1.7 -0.1,1.7 0,1.7 -0.1,1.7 -0.1,1.7 0,1.7 -0.1,1.7 -0.1,1.8 -0.2,1.7 -0.1,1.7 -0.1,1.7 -0.2,1.8 -0.2,1.7 -0.1,1.7 -0.2,1.8 -0.2,1.7 -0.3,1.7 -0.2,1.8 -0.3,1.7 -0.3,1.7 -0.3,1.8 -0.4,2.5 -0.4,2.5 -0.6,2.5 -0.7,2.5 -0.7,2.5 -0.8,2.5 -0.9,2.4 -0.9,2.5 -1.1,2.4 -1,2.4 -1.2,2.4 -1.2,2.4 -1.2,2.4 -1.3,2.4 -1.3,2.4 -1.4,2.3 -1.3,2.4 -1.5,2.3 -1.4,2.3 -1.5,2.3 -1.5,2.3 -1.6,2.3 -1.6,2.2 -1.6,2.2 -1.7,2.2 -1.7,2.2 -1.8,2.1 -1.8,2.1 -1.8,2 -1.9,2 -2,2 -2,2 -2,1.9 -2,1.9 -2.1,1.8 -2.1,1.9 -2.1,1.8 -2.2,1.8 -2.1,1.8 -2.2,1.8 -2.2,1.8 -2.1,1.7 -2.2,1.7 -2.2,1.8 -2.2,1.7 -2.2,1.7 -2.3,1.7 -2.2,1.7 -2.2,1.6 -2.3,1.7 -2.2,1.6 -2.3,1.7 -2.2,1.6 -2.3,1.6 -2.3,1.6 -2.3,1.6 -2.2,1.6 -2.3,1.6 -2.3,1.5 -2.4,1.6 -2.3,1.5 -2.3,1.5 -2.3,1.5 -2.4,1.5 -2.3,1.5 -2.4,1.4 -2.4,1.5 -2.4,1.4 -2.3,1.4 -2.4,1.3 -2.4,1.3 -2.4,1.2 -2.3,1.3 -2.4,1.1 -2.3,1.2 -2.4,1.1 -2.3,1 -2.3,1.1 -2.3,1 -2.3,1 -2.3,0.9 -2.2,1 -2.2,0.9 -2.3,0.9 -2.1,0.8 -2.2,0.9 -2.1,0.8 -2.1,0.9 -2.1,0.8 -2,0.8 -2,0.8 -1.9,0.8 -1.9,0.8 -1.9,0.7 -1.9,0.8 -1.8,0.7 -1.8,0.7 -1.7,0.7 -1.7,0.6 -1.7,0.7 -1.7,0.6 -1.6,0.6 -1.6,0.5 -1.6,0.5 -1.6,0.5 -1.5,0.5 -1.5,0.5 -1.5,0.4 -1.4,0.4 -1.4,0.3 -1.4,0.4 -1.4,0.3 -1.3,0.3 -1.4,0.3 -1.3,0.2 -1.2,0.2 -1.3,0.2 -1.2,0.2 -1.2,0.2 -1.2,0.2 -1.1,0.1 -1.1,0.2 -1.1,0.1 -1.1,0.1 -1.1,0.1 -1,0 -1,0.1 -1,0 -0.9,0.1 -0.9,0 -1,0 -0.8,0 -0.9,0 -0.9,0 -0.8,0 -0.8-0.1 -0.8,0 -0.8-0.1 -0.8-0.1 -0.7-0.1 -0.8,0 -0.8-0.2 -0.7-0.1 -0.8-0.1 -0.7-0.1 -0.8-0.2 -0.8-0.1 -0.8-0.2 -0.7-0.2 -0.8-0.3 -0.8-0.3 -0.8-0.3 -0.9-0.2 -0.8-0.3 -1-0.1 -1-0.1 -1.1-0.1 -1.2,0.1 -1.4,0.1 -1.4,0.1 -1.5,0.2 -1.6,0.3 -1.8,0.2 -1.8,0.3 -1.9,0.2 -1.9,0.2 -2,0.2 -2.1,0.2 -2,0.1 -2.1,0 -2.1,0 -2.1,0 -2.1-0.2 -2.2-0.2 -2.1-0.3 -2.1-0.4 -2-0.4 -2.1-0.5 -2.1-0.6 -2-0.6 -2-0.7 -2-0.8 -2-0.8 -1.9-0.9 -1.9-1 -1.9-1 -1.8-1.1 -1.8-1.1 -1.8-1.2 -1.7-1.3 -1.7-1.3 -1.6-1.4 -1.6-1.4 -1.5-1.5 -1.4-1.6 -1.4-1.6 -1.3-1.6 -1.3-1.7 -1.2-1.8"/><path stroke-dashoffset="0.42" d="M203.3,929.5l1.1-2.7 1.1-2.7 1-2.6 1.1-2.7 1-2.7 1-2.8 0.9-2.7 0.9-2.7 0.7-2.8 0.7-2.9 0.4-2.9 0.3-2.9 0-3.1 -0.1-3.1 -0.5-3.3 -0.6-3.3 -0.9-3.4 -1.1-3.6 -1.2-3.6 -1.3-3.6 -1.3-3.7 -1.3-3.7 -1.1-3.7 -1.1-3.7 -0.9-3.7 -0.7-3.6 -0.4-3.5 -0.3-3.5 -0.1-3.4 0.1-3.3 0.4-3.3 0.4-3.2 0.7-3.1 0.8-3.1 0.9-3 1.1-3 1.2-2.9 1.3-2.9 1.3-2.8 1.3-2.8 1.5-2.8 1.5-2.7 1.5-2.7 1.6-2.7 1.7-2.7 1.6-2.6 1.7-2.6 1.7-2.6 1.8-2.5 1.7-2.6 1.8-2.5 1.8-2.6 1.8-2.5 1.9-2.5 1.8-2.4 1.9-2.5 1.9-2.4 2-2.4 2-2.3 2-2.4 2.1-2.3 2.1-2.3 2.1-2.3 2.1-2.2 2.1-2.3 2.2-2.2 2.1-2.2 2.2-2.3 2.1-2.2 2.2-2.2 2.1-2.3 2.2-2.2 2.1-2.2 2.2-2.2 2.2-2.2 2.2-2.1 2.2-2.2 2.3-2.1 2.2-2.1 2.3-2.1 2.2-2.1 2.3-2.1 2.3-2 2.4-2 2.3-2.1 2.3-1.9 2.4-2 2.3-2 2.4-1.9 2.4-1.9 2.4-1.9 2.4-1.9 2.4-1.8 2.5-1.8 2.4-1.8 2.5-1.8 2.6-1.7 2.5-1.7 2.5-1.7 2.6-1.7 2.6-1.7 2.6-1.6 2.6-1.6 2.7-1.7 2.6-1.6 2.7-1.6 2.7-1.5 2.7-1.6 2.7-1.5 2.8-1.6 2.7-1.4 2.8-1.5 2.8-1.4 2.9-1.3 2.8-1.3 2.9-1.2 2.9-1.2 3-1 3-1 1.8-0.5 1.9-0.5 1.8-0.4 1.8-0.5 1.7-0.5 1.8-0.4 1.7-0.5 1.7-0.4 1.8-0.5 1.7-0.4 1.7-0.4 1.7-0.4 1.7-0.4 1.7-0.3 1.7-0.3 1.7-0.3 1.8-0.3 1.7-0.2 1.8-0.3 1.7-0.2 1.8-0.2 1.8-0.2 1.8-0.2 1.8-0.1 1.8-0.2 1.8-0.1 1.8-0.2 1.8-0.1 1.7-0.1 1.8-0.1 1.8,0 1.7,0 1.8,0 1.7,0 1.7,0 1.8,0.1 1.7,0.2 1.6,0.1 1.7,0.2 1.7,0.2 1.6,0.2 1.7,0.3 1.6,0.2 1.7,0.3 1.6,0.3 1.6,0.4 1.7,0.3 1.6,0.4 1.6,0.4 1.6,0.4 1.6,0.4 1.6,0.4 1.6,0.4 1.7,0.5 1.6,0.5 1.6,0.5 1.6,0.5 1.6,0.5 1.6,0.6 1.6,0.5 1.6,0.6 1.6,0.6 1.6,0.6 1.6,0.7 1.6,0.7 1.6,0.7 1.6,0.7 1.6,0.8 1.5,0.8 1.6,0.8 1.5,0.9 1.5,0.9 1.5,1 1.5,1.1 1.4,1.1 1.4,1.1 1.4,1.2 1.4,1.3 1.3,1.3 1.3,1.3 1.2,1.4 1.3,1.4 1.1,1.5 1.1,1.5 1.1,1.6 1,1.6 1,1.6 0.8,1.7 0.8,1.7 0.8,1.7 0.6,1.7 0.6,1.8 0.6,1.8 0.5,1.7 0.4,1.8 0.4,1.8 0.4,1.8 0.4,1.8 0.3,1.8 0.3,1.8 0.2,1.7 0.2,1.8 0.3,1.8 0.1,1.8 0.2,1.8 0.1,1.7 0.2,1.8 0.1,1.8 0.1,1.8 0.1,1.7 0,1.8 0.1,1.8 0,1.7 0,1.8 0.1,1.8 0,1.8 0,1.7 -0.1,1.8 0,1.8 0,1.7 -0.1,1.8 0,1.8 -0.1,1.8 -0.1,1.7 -0.1,1.8 -0.1,1.8 -0.2,1.7 -0.1,1.8 -0.2,1.8 -0.1,1.7 -0.2,1.8 -0.2,1.8 -0.1,1.8 -0.2,1.8 -0.2,1.7 -0.2,1.8 -0.3,1.8 -0.2,1.8 -0.2,1.8 -0.3,1.8 -0.2,1.8 -0.3,1.8 -0.3,1.8 -0.3,1.8 -0.3,1.8 -0.3,1.8 -0.4,1.8 -0.4,1.8 -0.4,1.8 -0.5,2.3 -0.6,2.4 -0.7,2.3 -0.8,2.4 -0.9,2.3 -0.9,2.3 -1,2.3 -1.1,2.3 -1.1,2.3 -1.1,2.2 -1.2,2.3 -1.3,2.2 -1.3,2.3 -1.3,2.2 -1.4,2.2 -1.4,2.3 -1.4,2.2 -1.5,2.1 -1.5,2.2 -1.5,2.2 -1.5,2.1 -1.6,2.2 -1.6,2.1 -1.7,2.1 -1.7,2 -1.7,2.1 -1.7,2 -1.8,2 -1.9,1.9 -1.8,1.9 -2,1.9 -1.9,1.9 -2,1.8 -2,1.8 -2,1.8 -2,1.8 -2.1,1.8 -2.1,1.7 -2.1,1.7 -2.1,1.7 -2.1,1.8 -2.1,1.6 -2.1,1.7 -2.2,1.7 -2.1,1.7 -2.1,1.6 -2.2,1.7 -2.1,1.6 -2.2,1.6 -2.1,1.6 -2.2,1.6 -2.2,1.6 -2.2,1.6 -2.2,1.6 -2.2,1.6 -2.1,1.6 -2.3,1.5 -2.2,1.6 -2.2,1.5 -2.2,1.5 -2.2,1.6 -2.3,1.5 -2.2,1.5 -2.2,1.4 -2.3,1.5 -2.3,1.4 -2.2,1.5 -2.3,1.4 -2.3,1.4 -2.2,1.3 -2.3,1.3 -2.3,1.3 -2.2,1.2 -2.3,1.1 -2.2,1.2 -2.2,1.1 -2.2,1.1 -2.2,1 -2.2,1 -2.2,1 -2.2,0.9 -2.1,0.9 -2.2,0.9 -2.1,0.9 -2,0.8 -2.1,0.9 -2,0.8 -2,0.8 -1.9,0.8 -1.9,0.8 -1.9,0.8 -1.9,0.8 -1.8,0.7 -1.7,0.8 -1.8,0.7 -1.7,0.7 -1.6,0.7 -1.7,0.7 -1.6,0.7 -1.5,0.6 -1.6,0.6 -1.5,0.6 -1.5,0.6 -1.5,0.5 -1.4,0.6 -1.4,0.5 -1.4,0.4 -1.4,0.5 -1.3,0.4 -1.4,0.4 -1.3,0.4 -1.3,0.3 -1.2,0.4 -1.3,0.3 -1.2,0.3 -1.2,0.3 -1.2,0.3 -1.1,0.2 -1.2,0.3 -1.1,0.2 -1.1,0.2 -1.1,0.2 -1,0.2 -1.1,0.2 -1,0.2 -1,0.2 -1,0.1 -1,0.2 -1,0.1 -0.9,0.1 -1,0.2 -0.9,0.1 -0.9,0.1 -0.9,0.2 -0.9,0.1 -0.9,0.1 -0.9,0.1 -0.9,0.1 -0.9,0.1 -0.9,0.1 -0.9,0.1 -1,0.1 -0.9,0.1 -0.9,0.1 -1,0.1 -1,0.1 -1,0.1 -1,0.1 -1.1,0.1 -1.1,0 -1.1,0.1 -1.2,0.1 -1.2,0.2 -1.3,0.2 -1.4,0.2 -1.4,0.3 -1.6,0.3 -1.6,0.4 -1.7,0.4 -1.8,0.4 -1.9,0.5 -1.9,0.4 -2,0.4 -2.1,0.4 -2,0.3 -2.1,0.3 -2.1,0.3 -2.1,0.1 -2.1,0.2 -2.1,0 -2.1,0 -2.1,0 -2.1-0.2 -2.2-0.2 -2.1-0.3 -2.1-0.4 -2-0.4 -2.1-0.5 -2.1-0.6 -2-0.6 -2-0.7 -2-0.8 -2-0.8 -1.9-0.9 -1.9-1 -1.9-1 -1.9-1.1 -1.8-1.1 -1.7-1.2 -1.7-1.3 -1.7-1.3 -1.6-1.4 -1.6-1.4 -1.5-1.5 -1.4-1.6 -1.4-1.6 -1.4-1.6 -1.2-1.7 -1.2-1.8"/><path stroke-dashoffset="0.79" d="M203.2,929.5l1-2.7 1.1-2.7 1-2.7 0.9-2.7 1-2.8 0.8-2.7 0.7-2.8 0.6-2.9 0.4-2.9 0.2-3 0-3 -0.2-3.2 -0.5-3.2 -0.8-3.4 -1-3.4 -1.2-3.6 -1.5-3.7 -1.5-3.7 -1.7-3.8 -1.7-3.8 -1.6-3.9 -1.5-3.8 -1.4-3.9 -1.2-3.8 -1-3.7 -0.8-3.7 -0.5-3.6 -0.3-3.5 0-3.5 0.1-3.4 0.4-3.3 0.5-3.2 0.7-3.2 0.8-3.1 1-3.1 1.1-3 1.2-3 1.3-2.9 1.4-2.8 1.4-2.9 1.5-2.7 1.6-2.8 1.7-2.7 1.7-2.7 1.7-2.6 1.8-2.6 1.8-2.6 1.8-2.6 1.8-2.6 1.9-2.5 1.8-2.5 1.9-2.5 2-2.5 1.9-2.5 2-2.4 2-2.5 2-2.4 2.1-2.3 2.1-2.4 2.1-2.3 2.2-2.3 2.2-2.2 2.2-2.3 2.2-2.2 2.2-2.2 2.2-2.3 2.3-2.2 2.2-2.2 2.3-2.2 2.2-2.2 2.3-2.2 2.3-2.1 2.2-2.2 2.3-2.2 2.3-2.1 2.3-2.2 2.3-2.1 2.4-2.1 2.3-2 2.4-2.1 2.4-2 2.4-2.1 2.4-1.9 2.4-2 2.5-2 2.4-1.9 2.5-1.9 2.4-1.9 2.5-1.8 2.5-1.9 2.5-1.8 2.6-1.8 2.5-1.8 2.6-1.7 2.6-1.7 2.6-1.7 2.6-1.7 2.7-1.6 2.6-1.6 2.7-1.6 2.7-1.6 2.7-1.6 2.7-1.6 2.8-1.5 2.7-1.6 2.8-1.5 2.7-1.6 2.8-1.5 2.8-1.5 2.8-1.5 2.8-1.5 2.9-1.4 2.9-1.4 2.8-1.4 2.9-1.3 3-1.2 2.9-1.2 3-1.2 3-1 1.9-0.6 1.9-0.5 1.9-0.5 1.9-0.6 1.8-0.5 1.8-0.6 1.8-0.6 1.8-0.5 1.7-0.6 1.8-0.5 1.7-0.6 1.8-0.5 1.7-0.5 1.8-0.5 1.8-0.4 1.8-0.5 1.8-0.4 1.8-0.3 1.8-0.4 1.8-0.3 1.9-0.3 1.8-0.3 1.9-0.3 1.8-0.3 1.9-0.3 1.9-0.2 1.8-0.3 1.9-0.2 1.9-0.2 1.8-0.2 1.9-0.2 1.8-0.1 1.8-0.1 1.8-0.1 1.8-0.1 1.8,0 1.8,0 1.8,0 1.8,0 1.7,0.1 1.8,0.1 1.8,0.1 1.7,0.1 1.7,0.2 1.8,0.1 1.7,0.2 1.7,0.2 1.8,0.3 1.7,0.2 1.7,0.3 1.7,0.3 1.8,0.3 1.7,0.3 1.7,0.3 1.8,0.4 1.7,0.3 1.7,0.4 1.7,0.4 1.8,0.5 1.7,0.4 1.7,0.5 1.7,0.5 1.8,0.5 1.7,0.6 1.7,0.6 1.7,0.6 1.7,0.6 1.7,0.7 1.7,0.8 1.7,0.7 1.7,0.9 1.6,0.9 1.6,0.9 1.6,1 1.6,1.1 1.5,1.2 1.5,1.2 1.4,1.2 1.5,1.3 1.3,1.4 1.4,1.4 1.3,1.5 1.2,1.5 1.2,1.6 1.1,1.6 1.1,1.7 1,1.7 0.9,1.7 0.8,1.8 0.7,1.8 0.7,1.8 0.5,1.9 0.5,1.9 0.5,1.8 0.4,1.9 0.4,1.9 0.3,1.9 0.2,1.9 0.3,1.9 0.2,1.8 0.2,1.9 0.1,1.9 0.1,1.9 0.1,1.8 0.1,1.9 0.1,1.9 0,1.8 0,1.9 0,1.8 -0.1,1.9 0,1.9 -0.1,1.8 0,1.9 -0.1,1.8 -0.1,1.9 -0.1,1.8 -0.1,1.9 -0.1,1.8 -0.2,1.9 -0.1,1.8 -0.2,1.9 -0.2,1.8 -0.2,1.8 -0.2,1.9 -0.2,1.8 -0.2,1.9 -0.3,1.8 -0.2,1.9 -0.3,1.8 -0.3,1.8 -0.3,1.9 -0.2,1.8 -0.3,1.9 -0.3,1.8 -0.3,1.9 -0.3,1.8 -0.3,1.9 -0.4,1.9 -0.3,1.8 -0.4,1.9 -0.3,1.8 -0.4,1.9 -0.4,1.9 -0.4,1.8 -0.4,1.9 -0.4,1.9 -0.4,1.8 -0.5,1.9 -0.5,1.8 -0.7,2.2 -0.8,2.2 -0.8,2.2 -1,2.2 -1,2.1 -1,2.2 -1.1,2.1 -1.2,2.1 -1.2,2.2 -1.2,2.1 -1.3,2.1 -1.3,2.1 -1.4,2.1 -1.4,2 -1.4,2.1 -1.5,2.1 -1.4,2 -1.5,2.1 -1.6,2 -1.5,2 -1.6,2 -1.6,2 -1.6,2 -1.6,2 -1.7,1.9 -1.7,1.9 -1.8,1.9 -1.8,1.9 -1.8,1.8 -1.8,1.9 -1.9,1.8 -1.9,1.7 -1.9,1.8 -2,1.7 -2,1.8 -2,1.7 -2,1.6 -2,1.7 -2,1.7 -2.1,1.6 -2,1.7 -2,1.6 -2.1,1.6 -2.1,1.6 -2,1.7 -2.1,1.6 -2.1,1.6 -2,1.5 -2.1,1.6 -2.1,1.6 -2.1,1.6 -2.1,1.5 -2.1,1.6 -2.1,1.5 -2.1,1.6 -2.1,1.5 -2.1,1.6 -2.1,1.5 -2.1,1.5 -2.2,1.5 -2.1,1.5 -2.1,1.5 -2.2,1.5 -2.1,1.4 -2.2,1.5 -2.1,1.5 -2.2,1.4 -2.1,1.4 -2.2,1.4 -2.2,1.3 -2.1,1.3 -2.2,1.3 -2.1,1.2 -2.1,1.2 -2.2,1.1 -2.1,1.1 -2.1,1.1 -2.1,1 -2.1,1 -2,1 -2.1,1 -2,0.9 -2.1,0.8 -2,0.9 -2,0.8 -1.9,0.9 -1.9,0.8 -1.9,0.8 -1.9,0.8 -1.8,0.8 -1.7,0.8 -1.8,0.8 -1.7,0.8 -1.6,0.7 -1.7,0.8 -1.6,0.7 -1.5,0.7 -1.6,0.7 -1.5,0.7 -1.4,0.7 -1.5,0.6 -1.4,0.7 -1.4,0.6 -1.4,0.6 -1.3,0.6 -1.4,0.5 -1.3,0.5 -1.3,0.5 -1.2,0.5 -1.3,0.5 -1.2,0.4 -1.3,0.5 -1.2,0.4 -1.2,0.4 -1.1,0.4 -1.2,0.4 -1.2,0.3 -1.1,0.4 -1.1,0.3 -1.1,0.3 -1.1,0.4 -1.1,0.3 -1.1,0.3 -1,0.3 -1.1,0.3 -1,0.3 -1.1,0.3 -1,0.3 -1,0.2 -1.1,0.3 -1,0.3 -1,0.3 -1,0.3 -1,0.3 -1,0.3 -1.1,0.3 -1,0.3 -1,0.3 -1.1,0.3 -1.1,0.3 -1.1,0.3 -1.1,0.3 -1.1,0.4 -1.2,0.3 -1.2,0.3 -1.2,0.4 -1.3,0.4 -1.4,0.4 -1.3,0.4 -1.4,0.4 -1.5,0.4 -1.6,0.5 -1.6,0.5 -1.6,0.5 -1.8,0.6 -1.8,0.6 -1.9,0.6 -1.9,0.6 -2,0.6 -2,0.5 -2.1,0.6 -2,0.5 -2.1,0.4 -2.1,0.4 -2.1,0.4 -2.1,0.3 -2.1,0.3 -2.1,0.2 -2.1,0.1 -2.1,0 -2.2,0 -2.1,0 -2.1-0.2 -2.1-0.2 -2.1-0.3 -2.1-0.3 -2.1-0.5 -2-0.5 -2.1-0.6 -2-0.6 -2.1-0.7 -2-0.8 -1.9-0.8 -2-0.9 -1.9-1 -1.8-1 -1.9-1.1 -1.8-1.1 -1.8-1.2 -1.7-1.3 -1.6-1.3 -1.7-1.4 -1.5-1.4 -1.5-1.5 -1.5-1.6 -1.4-1.6 -1.3-1.7 -1.3-1.7 -1.2-1.7"/><path stroke-dashoffset="1.16" d="M202.8,929.4l1-2.7 1-2.8 0.8-2.7 0.8-2.8 0.7-2.8 0.5-2.8 0.4-2.9 0.2-3 0-3.1 -0.3-3.1 -0.6-3.3 -0.8-3.3 -1.1-3.5 -1.4-3.6 -1.6-3.7 -1.8-3.8 -1.9-3.9 -2-3.9 -1.9-3.9 -2-4 -1.8-4 -1.7-4 -1.4-3.9 -1.3-3.8 -1-3.8 -0.7-3.7 -0.5-3.7 -0.2-3.5 0-3.5 0.2-3.5 0.4-3.3 0.5-3.3 0.8-3.2 0.9-3.2 1-3.1 1.2-3 1.2-3 1.4-2.9 1.4-2.9 1.5-2.9 1.6-2.8 1.7-2.7 1.7-2.7 1.8-2.7 1.8-2.7 1.9-2.6 1.9-2.6 1.9-2.5 2-2.6 1.9-2.5 2-2.5 2-2.5 2-2.5 2.1-2.4 2.1-2.5 2.1-2.4 2.1-2.3 2.2-2.4 2.2-2.3 2.2-2.3 2.3-2.2 2.3-2.3 2.3-2.2 2.3-2.2 2.3-2.2 2.3-2.2 2.4-2.2 2.3-2.2 2.4-2.1 2.3-2.2 2.4-2.1 2.4-2.2 2.4-2.1 2.3-2.2 2.4-2.1 2.4-2.1 2.5-2.1 2.4-2 2.5-2.1 2.4-2 2.5-2 2.5-1.9 2.5-2 2.6-1.9 2.5-1.9 2.6-1.8 2.6-1.9 2.6-1.8 2.6-1.8 2.6-1.8 2.6-1.7 2.7-1.7 2.7-1.7 2.6-1.7 2.7-1.6 2.8-1.6 2.7-1.6 2.7-1.6 2.8-1.5 2.8-1.6 2.8-1.5 2.8-1.5 2.8-1.5 2.8-1.5 2.9-1.5 2.8-1.5 2.9-1.5 2.8-1.5 2.9-1.5 2.9-1.4 2.8-1.5 3-1.4 2.9-1.4 2.9-1.4 3-1.3 2.9-1.3 3-1.3 3-1.2 3-1.2 2-0.5 2-0.6 1.9-0.6 1.9-0.7 1.9-0.6 1.9-0.7 1.8-0.7 1.9-0.6 1.8-0.7 1.8-0.7 1.8-0.7 1.8-0.6 1.8-0.6 1.8-0.7 1.9-0.5 1.8-0.6 1.9-0.5 1.8-0.5 1.9-0.5 1.9-0.4 1.9-0.5 1.9-0.4 2-0.4 1.9-0.4 1.9-0.4 2-0.3 1.9-0.4 1.9-0.3 2-0.3 1.9-0.3 1.9-0.3 1.9-0.2 1.9-0.3 1.9-0.2 1.9-0.2 1.9-0.2 1.9-0.1 1.9-0.1 1.8-0.1 1.9-0.1 1.9,0 1.8-0.1 1.9,0 1.8,0 1.8,0.1 1.9,0 1.8,0.1 1.9,0.1 1.8,0.1 1.8,0.1 1.9,0.1 1.8,0.2 1.9,0.2 1.8,0.2 1.8,0.2 1.9,0.3 1.8,0.3 1.9,0.3 1.8,0.3 1.9,0.3 1.8,0.4 1.9,0.4 1.8,0.5 1.9,0.4 1.8,0.5 1.9,0.5 1.8,0.6 1.8,0.6 1.8,0.7 1.8,0.7 1.8,0.8 1.8,0.8 1.7,0.9 1.7,1 1.7,1.1 1.6,1.1 1.6,1.2 1.6,1.3 1.5,1.3 1.5,1.4 1.4,1.5 1.4,1.5 1.3,1.6 1.3,1.6 1.2,1.7 1.1,1.7 1,1.8 0.9,1.8 0.8,1.9 0.7,1.8 0.7,2 0.5,1.9 0.5,2 0.4,2 0.4,1.9 0.3,2 0.2,2 0.2,2 0.2,2 0.1,1.9 0.1,2 0.1,2 0,1.9 0,2 0,1.9 -0.1,2 0,1.9 -0.1,2 -0.1,1.9 -0.2,2 -0.1,1.9 -0.2,2 -0.2,1.9 -0.1,1.9 -0.2,2 -0.3,1.9 -0.2,1.9 -0.2,1.9 -0.3,2 -0.2,1.9 -0.3,1.9 -0.3,1.9 -0.3,2 -0.4,1.9 -0.3,1.9 -0.3,1.9 -0.4,1.9 -0.4,1.9 -0.3,1.9 -0.4,1.9 -0.4,2 -0.4,1.9 -0.4,1.9 -0.4,1.9 -0.4,1.9 -0.4,2 -0.4,1.9 -0.5,1.9 -0.4,1.9 -0.4,2 -0.5,1.9 -0.5,1.9 -0.4,2 -0.5,1.9 -0.5,1.9 -0.5,1.9 -0.6,2 -0.5,1.9 -0.6,1.9 -0.9,2 -0.9,2.1 -1,2 -1.1,2 -1.1,2 -1.2,2 -1.2,1.9 -1.3,2 -1.2,2 -1.4,1.9 -1.3,2 -1.4,1.9 -1.5,1.9 -1.4,2 -1.5,1.9 -1.5,1.9 -1.5,1.9 -1.6,1.9 -1.5,1.9 -1.6,1.9 -1.6,1.8 -1.6,1.9 -1.6,1.9 -1.7,1.8 -1.7,1.8 -1.7,1.8 -1.7,1.8 -1.8,1.8 -1.8,1.7 -1.8,1.7 -1.9,1.7 -1.8,1.7 -1.9,1.7 -1.9,1.7 -2,1.6 -1.9,1.6 -1.9,1.6 -2,1.6 -2,1.6 -1.9,1.6 -2,1.6 -2,1.6 -2,1.6 -2,1.5 -1.9,1.6 -2,1.5 -2,1.6 -2,1.5 -2,1.6 -2,1.5 -2.1,1.5 -2,1.5 -2,1.6 -2,1.5 -2,1.5 -2,1.5 -2,1.5 -2.1,1.5 -2,1.5 -2,1.5 -2.1,1.5 -2,1.5 -2,1.4 -2.1,1.5 -2,1.4 -2.1,1.5 -2,1.4 -2.1,1.4 -2,1.4 -2.1,1.4 -2,1.3 -2.1,1.2 -2,1.3 -2,1.2 -2.1,1.1 -2,1.1 -2,1.1 -2,1.1 -1.9,1 -2,1 -2,0.9 -1.9,0.9 -2,0.9 -1.9,0.9 -1.9,0.8 -1.8,0.9 -1.8,0.8 -1.8,0.8 -1.8,0.8 -1.7,0.8 -1.7,0.9 -1.6,0.8 -1.6,0.8 -1.6,0.8 -1.6,0.7 -1.5,0.8 -1.4,0.8 -1.5,0.7 -1.4,0.8 -1.4,0.7 -1.4,0.7 -1.3,0.7 -1.4,0.7 -1.3,0.7 -1.2,0.6 -1.3,0.6 -1.3,0.7 -1.2,0.6 -1.3,0.5 -1.2,0.6 -1.2,0.5 -1.2,0.6 -1.2,0.5 -1.2,0.5 -1.1,0.5 -1.2,0.5 -1.1,0.5 -1.2,0.4 -1.1,0.5 -1.1,0.4 -1.2,0.5 -1.1,0.5 -1.1,0.4 -1.1,0.5 -1.1,0.4 -1.1,0.5 -1.2,0.4 -1.1,0.5 -1.1,0.4 -1.1,0.5 -1.2,0.4 -1.1,0.5 -1.2,0.5 -1.1,0.5 -1.2,0.5 -1.2,0.5 -1.2,0.5 -1.2,0.5 -1.3,0.5 -1.3,0.6 -1.3,0.5 -1.3,0.6 -1.4,0.6 -1.5,0.6 -1.4,0.6 -1.6,0.6 -1.5,0.7 -1.6,0.7 -1.7,0.7 -1.8,0.7 -1.7,0.7 -1.9,0.7 -1.9,0.8 -1.9,0.7 -2,0.8 -2,0.7 -2.1,0.7 -2,0.7 -2.1,0.6 -2.1,0.7 -2.1,0.5 -2.1,0.5 -2.1,0.5 -2.1,0.4 -2.1,0.4 -2.1,0.3 -2.1,0.3 -2.1,0.1 -2.1,0.2 -2.1,0 -2.2,0 -2.1-0.1 -2.1-0.1 -2.1-0.2 -2.1-0.3 -2.1-0.4 -2-0.4 -2.1-0.5 -2.1-0.6 -2-0.7 -2-0.7 -2-0.7 -2-0.9 -1.9-0.9 -1.9-1 -1.9-1 -1.8-1.1 -1.8-1.1 -1.8-1.2 -1.7-1.3 -1.7-1.3 -1.6-1.4 -1.6-1.5 -1.6-1.5 -1.4-1.5 -1.5-1.6 -1.3-1.7 -1.3-1.7 -1.3-1.8"/><path stroke-dashoffset="1.53" d="M202,929.2l0.9-2.8 0.7-2.8 0.6-2.8 0.5-2.9 0.4-2.9 0.1-3 -0.1-3 -0.3-3.2 -0.6-3.2 -0.9-3.4 -1.2-3.5 -1.4-3.5 -1.7-3.8 -1.9-3.8 -2.1-3.9 -2.2-3.9 -2.3-4.1 -2.2-4 -2.2-4.1 -2-4.1 -1.9-4 -1.6-4 -1.5-4 -1.1-3.9 -1-3.8 -0.6-3.7 -0.4-3.7 -0.1-3.6 0.1-3.5 0.3-3.4 0.4-3.4 0.7-3.3 0.8-3.2 0.9-3.2 1.1-3.1 1.3-3.1 1.3-3 1.4-3 1.5-2.9 1.6-2.9 1.6-2.8 1.8-2.7 1.8-2.8 1.9-2.6 1.9-2.7 1.9-2.6 2-2.6 2.1-2.5 2-2.6 2.1-2.5 2.1-2.5 2.1-2.5 2.1-2.4 2.2-2.4 2.2-2.4 2.2-2.4 2.2-2.4 2.3-2.3 2.3-2.3 2.3-2.3 2.3-2.2 2.4-2.2 2.4-2.2 2.4-2.2 2.5-2.2 2.4-2.1 2.4-2.2 2.5-2.1 2.4-2.2 2.5-2.1 2.5-2.1 2.4-2.1 2.5-2.1 2.5-2.1 2.5-2.1 2.5-2.1 2.5-2 2.6-2.1 2.5-2 2.6-1.9 2.6-2 2.6-1.9 2.6-1.9 2.7-1.9 2.6-1.8 2.7-1.8 2.7-1.8 2.7-1.7 2.7-1.8 2.7-1.7 2.8-1.6 2.8-1.7 2.7-1.6 2.8-1.6 2.9-1.5 2.8-1.6 2.8-1.5 2.9-1.5 2.9-1.5 2.8-1.4 2.9-1.5 2.9-1.4 2.9-1.5 2.9-1.4 3-1.5 2.9-1.4 2.9-1.5 2.9-1.4 3-1.5 2.9-1.4 3-1.5 2.9-1.4 3-1.4 3-1.4 3-1.4 3-1.3 3-1.3 3-1.3 3-1.2 2.1-0.6 2.1-0.7 2-0.6 1.9-0.8 2-0.7 1.9-0.8 1.9-0.8 1.9-0.8 1.8-0.8 1.9-0.8 1.8-0.8 1.9-0.7 1.9-0.8 1.8-0.7 1.9-0.8 1.9-0.6 1.9-0.7 2-0.6 1.9-0.6 2-0.6 1.9-0.5 2-0.5 2-0.5 2-0.5 2-0.5 2-0.5 2-0.4 2-0.5 2-0.4 2-0.4 2-0.4 2-0.3 2-0.4 2-0.3 2-0.3 1.9-0.3 2-0.3 2-0.2 1.9-0.2 2-0.2 1.9-0.2 2-0.2 1.9-0.1 2-0.2 1.9-0.1 1.9-0.1 2,0 1.9-0.1 2,0 1.9,0 2,0 1.9,0 2,0.1 1.9,0.1 2,0.1 1.9,0.1 2,0.2 2,0.2 1.9,0.2 2,0.2 2,0.3 1.9,0.3 2,0.4 2,0.3 1.9,0.4 2,0.5 2,0.5 1.9,0.5 2,0.6 1.9,0.7 1.9,0.7 1.8,0.8 1.9,0.9 1.8,0.9 1.8,1.1 1.8,1.1 1.7,1.2 1.6,1.3 1.6,1.3 1.6,1.5 1.5,1.4 1.5,1.6 1.4,1.6 1.3,1.7 1.2,1.7 1.2,1.8 1,1.9 1,1.9 0.8,1.9 0.7,2 0.7,2 0.5,2 0.4,2.1 0.4,2.1 0.3,2 0.2,2.1 0.2,2.1 0.2,2.1 0.1,2 0,2.1 0,2.1 0,2 0,2.1 -0.1,2 -0.1,2 -0.2,2.1 -0.1,2 -0.2,2 -0.3,2.1 -0.2,2 -0.2,2 -0.3,2 -0.3,2 -0.3,2.1 -0.3,2 -0.3,2 -0.3,2 -0.4,2 -0.3,2 -0.4,2 -0.4,2 -0.4,2 -0.4,2 -0.5,2 -0.4,1.9 -0.5,2 -0.5,2 -0.4,2 -0.5,2 -0.5,1.9 -0.5,2 -0.5,2 -0.5,2 -0.5,2 -0.5,2 -0.5,2 -0.5,1.9 -0.6,2 -0.5,2 -0.5,2 -0.6,2 -0.5,2 -0.6,2 -0.6,2 -0.6,2 -0.6,2 -0.6,2 -0.6,1.9 -0.7,2 -1,1.9 -1.1,1.9 -1.2,1.8 -1.2,1.9 -1.2,1.8 -1.3,1.8 -1.3,1.8 -1.4,1.8 -1.4,1.9 -1.4,1.8 -1.4,1.7 -1.5,1.8 -1.5,1.8 -1.5,1.8 -1.5,1.8 -1.6,1.7 -1.5,1.8 -1.6,1.8 -1.6,1.7 -1.6,1.8 -1.6,1.7 -1.7,1.7 -1.6,1.8 -1.7,1.7 -1.7,1.7 -1.7,1.7 -1.7,1.6 -1.8,1.7 -1.7,1.7 -1.8,1.6 -1.8,1.6 -1.9,1.6 -1.8,1.6 -1.9,1.6 -1.8,1.5 -1.9,1.6 -1.9,1.5 -1.9,1.6 -1.9,1.5 -1.9,1.5 -1.9,1.6 -2,1.5 -1.9,1.5 -1.9,1.5 -1.9,1.5 -1.9,1.5 -2,1.5 -1.9,1.5 -1.9,1.5 -1.9,1.5 -2,1.5 -1.9,1.5 -1.9,1.5 -2,1.4 -1.9,1.5 -1.9,1.5 -2,1.5 -1.9,1.5 -1.9,1.4 -2,1.5 -1.9,1.5 -1.9,1.4 -2,1.5 -1.9,1.5 -2,1.4 -1.9,1.4 -2,1.5 -1.9,1.4 -2,1.4 -1.9,1.3 -2,1.4 -1.9,1.2 -1.9,1.3 -2,1.2 -1.9,1.2 -1.9,1.1 -1.9,1.1 -1.9,1.1 -1.9,1 -1.8,1 -1.9,1 -1.9,0.9 -1.8,0.9 -1.9,0.9 -1.8,0.9 -1.8,0.8 -1.7,0.9 -1.7,0.8 -1.7,0.9 -1.6,0.8 -1.7,0.9 -1.5,0.8 -1.6,0.9 -1.5,0.8 -1.4,0.9 -1.5,0.8 -1.4,0.8 -1.4,0.9 -1.3,0.8 -1.4,0.8 -1.3,0.8 -1.3,0.8 -1.3,0.7 -1.2,0.8 -1.3,0.7 -1.2,0.8 -1.3,0.7 -1.2,0.7 -1.2,0.7 -1.2,0.7 -1.2,0.6 -1.2,0.7 -1.2,0.6 -1.2,0.7 -1.2,0.6 -1.2,0.6 -1.2,0.6 -1.2,0.7 -1.1,0.6 -1.2,0.6 -1.2,0.6 -1.2,0.6 -1.2,0.6 -1.2,0.6 -1.2,0.7 -1.3,0.6 -1.2,0.6 -1.2,0.7 -1.3,0.6 -1.2,0.7 -1.3,0.6 -1.3,0.7 -1.3,0.7 -1.4,0.7 -1.4,0.7 -1.3,0.7 -1.5,0.8 -1.4,0.7 -1.5,0.8 -1.5,0.8 -1.6,0.8 -1.6,0.8 -1.7,0.8 -1.7,0.9 -1.7,0.9 -1.8,0.8 -1.8,0.9 -1.9,0.9 -1.9,0.9 -2,0.9 -2,0.9 -2,0.9 -2,0.9 -2.1,0.8 -2.1,0.8 -2.1,0.8 -2.1,0.8 -2.1,0.7 -2.2,0.7 -2.1,0.6 -2.1,0.6 -2.1,0.5 -2.2,0.4 -2.1,0.5 -2.1,0.3 -2.1,0.3 -2.1,0.2 -2.1,0.2 -2.1,0.1 -2.1,0 -2,0 -2.1-0.1 -2.1-0.2 -2.1-0.2 -2.1-0.4 -2-0.3 -2.1-0.5 -2-0.5 -2.1-0.6 -2-0.7 -2-0.7 -2-0.8 -1.9-0.8 -2-0.9 -1.9-1 -1.8-1.1 -1.9-1.1 -1.8-1.1 -1.8-1.2 -1.7-1.3 -1.7-1.4 -1.6-1.4 -1.6-1.4 -1.6-1.5 -1.5-1.6 -1.5-1.7 -1.4-1.7 -1.3-1.7 -1.4-1.8"/><path stroke-dashoffset="1.90" d="M200.5,928.8l0.5-2.9 0.5-2.9 0.2-2.9 0.1-3 -0.1-3.1 -0.4-3.1 -0.7-3.3 -0.9-3.3 -1.2-3.5 -1.5-3.6 -1.8-3.7 -2-3.8 -2.1-3.9 -2.4-4 -2.4-4 -2.4-4.1 -2.4-4.2 -2.3-4.1 -2.2-4.2 -2-4.1 -1.8-4 -1.5-4 -1.3-4 -1-3.9 -0.8-3.8 -0.4-3.7 -0.3-3.6 0-3.6 0.3-3.5 0.4-3.5 0.6-3.3 0.7-3.4 0.9-3.2 1-3.2 1.2-3.2 1.2-3.1 1.4-3 1.5-3 1.5-2.9 1.7-2.9 1.7-2.8 1.8-2.8 1.9-2.7 2-2.7 2-2.6 2.1-2.7 2-2.5 2.2-2.6 2.1-2.5 2.2-2.5 2.2-2.5 2.2-2.5 2.2-2.4 2.2-2.4 2.3-2.4 2.3-2.4 2.4-2.3 2.3-2.3 2.4-2.3 2.4-2.2 2.5-2.2 2.4-2.2 2.5-2.2 2.5-2.2 2.5-2.1 2.6-2.2 2.5-2.1 2.5-2.1 2.6-2.1 2.5-2.1 2.6-2.1 2.6-2.1 2.5-2.1 2.6-2 2.6-2.1 2.6-2 2.6-2 2.7-2 2.6-2 2.7-1.9 2.7-1.9 2.7-1.9 2.7-1.9 2.7-1.8 2.8-1.7 2.8-1.8 2.8-1.7 2.8-1.7 2.8-1.7 2.8-1.6 2.9-1.6 2.9-1.6 2.9-1.5 2.9-1.5 2.9-1.5 2.9-1.5 3-1.4 2.9-1.5 3-1.4 3-1.4 2.9-1.4 3-1.4 3-1.4 3-1.3 3-1.5 3-1.4 3-1.4 3-1.4 3-1.4 3-1.5 3-1.4 3-1.4 3-1.4 3.1-1.4 3-1.4 3-1.4 3.1-1.4 3-1.3 3.1-1.3 2.1-0.6 2.1-0.7 2.1-0.8 2-0.8 2-0.8 2-0.9 1.9-0.8 1.9-0.9 2-1 1.9-0.9 1.9-0.9 1.9-0.9 1.9-0.9 1.9-0.8 1.9-0.9 2-0.8 2-0.7 1.9-0.8 2.1-0.7 2-0.6 2-0.7 2-0.6 2.1-0.6 2.1-0.6 2-0.6 2.1-0.6 2.1-0.5 2-0.5 2.1-0.5 2.1-0.5 2-0.5 2.1-0.5 2.1-0.5 2-0.4 2.1-0.4 2-0.4 2.1-0.4 2-0.4 2-0.3 2.1-0.3 2-0.4 2.1-0.2 2-0.3 2-0.3 2.1-0.2 2-0.2 2.1-0.2 2-0.2 2-0.2 2.1-0.1 2-0.1 2.1-0.1 2.1-0.1 2,0 2.1,0 2,0 2.1,0.1 2.1,0.1 2,0.1 2.1,0.2 2.1,0.2 2.1,0.2 2.1,0.2 2,0.3 2.1,0.3 2.1,0.4 2.1,0.4 2.1,0.5 2,0.5 2,0.6 2,0.7 2,0.8 2,0.8 1.9,0.9 1.9,1.1 1.9,1.1 1.8,1.2 1.7,1.3 1.7,1.3 1.7,1.5 1.6,1.5 1.5,1.6 1.5,1.7 1.4,1.7 1.3,1.8 1.1,1.8 1.1,1.9 1,2 0.8,2 0.8,2.1 0.6,2.1 0.5,2.1 0.4,2.1 0.3,2.2 0.2,2.2 0.2,2.1 0.2,2.2 0.1,2.2 0,2.1 0,2.2 -0.1,2.1 -0.1,2.1 -0.1,2.2 -0.2,2.1 -0.2,2.1 -0.2,2.1 -0.3,2.1 -0.3,2.1 -0.3,2.1 -0.3,2.1 -0.3,2.1 -0.4,2.1 -0.4,2.1 -0.4,2.1 -0.4,2.1 -0.4,2.1 -0.4,2.1 -0.5,2 -0.4,2.1 -0.5,2.1 -0.5,2 -0.5,2.1 -0.5,2.1 -0.6,2 -0.5,2.1 -0.6,2 -0.6,2 -0.6,2.1 -0.5,2 -0.6,2.1 -0.6,2 -0.6,2.1 -0.6,2 -0.6,2.1 -0.6,2 -0.6,2.1 -0.6,2 -0.7,2.1 -0.6,2 -0.6,2.1 -0.6,2 -0.7,2.1 -0.6,2 -0.7,2.1 -0.7,2 -0.6,2.1 -0.7,2 -0.8,2.1 -0.7,2 -1.2,1.7 -1.3,1.7 -1.2,1.8 -1.4,1.6 -1.3,1.7 -1.4,1.7 -1.4,1.7 -1.5,1.6 -1.4,1.7 -1.5,1.7 -1.5,1.6 -1.6,1.7 -1.5,1.6 -1.6,1.6 -1.6,1.7 -1.6,1.6 -1.6,1.6 -1.6,1.7 -1.6,1.6 -1.6,1.6 -1.7,1.6 -1.6,1.6 -1.7,1.7 -1.7,1.6 -1.7,1.5 -1.7,1.6 -1.7,1.6 -1.7,1.6 -1.8,1.5 -1.7,1.6 -1.8,1.5 -1.8,1.5 -1.8,1.5 -1.8,1.5 -1.9,1.5 -1.8,1.5 -1.8,1.5 -1.9,1.5 -1.8,1.5 -1.9,1.4 -1.8,1.5 -1.9,1.5 -1.8,1.4 -1.9,1.5 -1.9,1.4 -1.8,1.5 -1.9,1.5 -1.8,1.4 -1.9,1.5 -1.8,1.4 -1.9,1.5 -1.8,1.4 -1.9,1.5 -1.9,1.4 -1.8,1.5 -1.9,1.5 -1.8,1.4 -1.9,1.5 -1.8,1.4 -1.9,1.5 -1.8,1.4 -1.9,1.5 -1.8,1.4 -1.9,1.5 -1.8,1.4 -1.9,1.4 -1.8,1.5 -1.9,1.4 -1.8,1.4 -1.9,1.3 -1.8,1.4 -1.9,1.3 -1.8,1.2 -1.8,1.3 -1.9,1.2 -1.8,1.1 -1.8,1.2 -1.8,1.1 -1.8,1 -1.8,1 -1.8,1 -1.8,1 -1.8,0.9 -1.7,1 -1.8,0.9 -1.7,0.8 -1.7,0.9 -1.6,0.9 -1.6,0.9 -1.6,0.9 -1.6,0.9 -1.5,1 -1.5,0.9 -1.4,0.9 -1.4,0.9 -1.4,0.9 -1.4,0.9 -1.4,1 -1.3,0.9 -1.3,0.9 -1.3,0.9 -1.2,0.9 -1.3,0.8 -1.3,0.9 -1.2,0.9 -1.2,0.8 -1.3,0.9 -1.2,0.8 -1.2,0.8 -1.3,0.8 -1.2,0.8 -1.2,0.8 -1.3,0.8 -1.2,0.8 -1.3,0.8 -1.2,0.8 -1.3,0.8 -1.2,0.8 -1.3,0.7 -1.3,0.8 -1.3,0.8 -1.3,0.8 -1.3,0.8 -1.3,0.8 -1.4,0.8 -1.3,0.9 -1.4,0.8 -1.4,0.8 -1.4,0.9 -1.4,0.8 -1.5,0.9 -1.5,0.9 -1.5,0.9 -1.6,1 -1.5,0.9 -1.7,1 -1.6,0.9 -1.7,1 -1.7,1 -1.8,1.1 -1.8,1 -1.9,1 -1.8,1.1 -2,1 -1.9,1.1 -2,1.1 -2.1,1 -2,1.1 -2.1,1 -2.2,1.1 -2.1,1 -2.2,1 -2.2,0.9 -2.2,0.9 -2.2,0.9 -2.2,0.8 -2.2,0.7 -2.1,0.7 -2.2,0.7 -2.1,0.6 -2.2,0.5 -2.1,0.5 -2.1,0.4 -2.1,0.3 -2,0.3 -2.1,0.3 -2,0.1 -2.1,0.1 -2,0.1 -2,0 -2.1-0.1 -2-0.2 -2-0.2 -2-0.3 -2.1-0.4 -2-0.4 -2-0.5 -2-0.6 -2-0.6 -2-0.7 -2-0.7 -1.9-0.8 -2-0.9 -1.9-0.9 -1.9-1 -1.9-1.1 -1.8-1.1 -1.8-1.2 -1.8-1.3 -1.8-1.3 -1.7-1.3 -1.7-1.5 -1.6-1.5 -1.6-1.5 -1.6-1.6 -1.5-1.7 -1.5-1.8 -1.4-1.8 -1.4-1.8"/><path stroke-dashoffset="2.27" d="M197.7,928l0.2-2.9 0-3 -0.2-3.1 -0.4-3.2 -0.7-3.2 -1-3.4 -1.3-3.5 -1.5-3.5 -1.8-3.7 -2-3.8 -2.2-3.9 -2.4-4 -2.5-4 -2.5-4.2 -2.6-4.1 -2.4-4.2 -2.4-4.2 -2.2-4.1 -2-4.2 -1.8-4 -1.6-4.1 -1.3-4 -1.1-3.9 -0.8-3.8 -0.5-3.8 -0.2-3.6 -0.1-3.7 0.2-3.5 0.4-3.5 0.5-3.4 0.7-3.4 0.9-3.3 1-3.3 1.1-3.2 1.2-3.2 1.3-3.1 1.5-3.1 1.5-3 1.6-2.9 1.7-2.9 1.8-2.9 1.9-2.7 1.9-2.8 2.1-2.6 2-2.7 2.2-2.6 2.2-2.5 2.2-2.6 2.2-2.5 2.3-2.5 2.2-2.5 2.3-2.4 2.3-2.4 2.4-2.4 2.3-2.4 2.4-2.4 2.4-2.3 2.5-2.3 2.5-2.2 2.5-2.2 2.5-2.3 2.5-2.1 2.6-2.2 2.6-2.1 2.6-2.2 2.6-2.1 2.6-2.1 2.6-2 2.7-2.1 2.6-2.1 2.7-2.1 2.6-2 2.7-2.1 2.6-2 2.7-2 2.7-2 2.7-2 2.7-2 2.7-1.9 2.8-1.9 2.8-1.9 2.7-1.8 2.9-1.8 2.8-1.8 2.8-1.7 2.9-1.7 2.9-1.7 2.9-1.6 2.9-1.6 3-1.6 2.9-1.6 3-1.5 3-1.5 3-1.4 3-1.4 3-1.4 3-1.4 3.1-1.4 3-1.3 3.1-1.4 3.1-1.3 3-1.4 3.1-1.3 3.1-1.3 3-1.4 3.1-1.4 3.1-1.4 3-1.4 3.1-1.4 3-1.4 3.1-1.4 3.1-1.4 3-1.4 3.1-1.5 3.1-1.4 3-1.4 3.1-1.4 3.1-1.4 3-1.3 2.2-0.7 2.2-0.8 2.1-0.8 2.1-0.8 2-0.9 2-1 2-0.9 2-1 1.9-1 2-1.1 1.9-1 2-1 1.9-1 2-1 2-0.9 2-0.9 2-0.9 2.1-0.8 2-0.8 2.1-0.8 2.1-0.7 2.1-0.8 2.1-0.7 2.1-0.6 2.1-0.7 2.1-0.6 2.2-0.7 2.1-0.6 2.1-0.6 2.1-0.6 2.2-0.6 2.1-0.5 2.1-0.6 2.2-0.5 2.1-0.5 2.1-0.6 2.1-0.4 2.1-0.5 2.1-0.5 2.2-0.4 2.1-0.4 2.1-0.4 2.1-0.4 2.2-0.4 2.1-0.4 2.1-0.3 2.1-0.3 2.2-0.3 2.1-0.3 2.1-0.2 2.2-0.2 2.1-0.2 2.2-0.2 2.1-0.1 2.2-0.1 2.1-0.1 2.2,0 2.2,0 2.1,0 2.2,0.1 2.2,0.1 2.2,0.1 2.2,0.2 2.1,0.2 2.2,0.2 2.2,0.3 2.2,0.4 2.2,0.4 2.1,0.5 2.2,0.5 2.1,0.7 2.1,0.7 2,0.8 2,0.9 2,1 2,1.1 1.9,1.2 1.8,1.3 1.8,1.4 1.7,1.5 1.7,1.5 1.6,1.6 1.5,1.7 1.5,1.8 1.3,1.9 1.2,1.9 1.1,1.9 1,2.1 0.9,2 0.7,2.2 0.6,2.1 0.5,2.2 0.3,2.3 0.3,2.2 0.2,2.3 0.2,2.2 0.1,2.3 0,2.2 0,2.2 -0.1,2.2 -0.1,2.3 -0.2,2.2 -0.2,2.2 -0.2,2.2 -0.3,2.2 -0.3,2.1 -0.4,2.2 -0.3,2.2 -0.4,2.2 -0.4,2.1 -0.5,2.2 -0.4,2.2 -0.5,2.1 -0.5,2.2 -0.5,2.1 -0.5,2.2 -0.5,2.1 -0.5,2.2 -0.6,2.1 -0.6,2.1 -0.5,2.2 -0.6,2.1 -0.7,2.1 -0.6,2.1 -0.6,2.1 -0.7,2.1 -0.7,2.1 -0.6,2.1 -0.7,2.1 -0.7,2.1 -0.7,2.1 -0.7,2.1 -0.7,2.1 -0.7,2.1 -0.7,2.1 -0.6,2.2 -0.7,2.1 -0.7,2.1 -0.7,2.1 -0.7,2.1 -0.7,2.1 -0.8,2.1 -0.7,2.1 -0.7,2.1 -0.8,2.1 -0.7,2.1 -0.8,2.1 -0.8,2.1 -0.8,2.1 -1.3,1.6 -1.4,1.6 -1.4,1.5 -1.5,1.6 -1.4,1.5 -1.5,1.6 -1.5,1.5 -1.6,1.6 -1.5,1.5 -1.6,1.5 -1.5,1.5 -1.6,1.6 -1.6,1.5 -1.6,1.5 -1.7,1.5 -1.6,1.5 -1.6,1.5 -1.7,1.5 -1.6,1.5 -1.7,1.5 -1.6,1.5 -1.7,1.6 -1.7,1.5 -1.7,1.5 -1.7,1.4 -1.7,1.5 -1.7,1.5 -1.7,1.5 -1.7,1.5 -1.8,1.4 -1.7,1.5 -1.8,1.4 -1.8,1.5 -1.8,1.4 -1.7,1.4 -1.8,1.5 -1.8,1.4 -1.8,1.4 -1.8,1.4 -1.8,1.5 -1.8,1.4 -1.8,1.4 -1.8,1.4 -1.8,1.4 -1.8,1.4 -1.8,1.5 -1.8,1.4 -1.8,1.4 -1.8,1.4 -1.8,1.4 -1.8,1.5 -1.7,1.4 -1.8,1.4 -1.8,1.4 -1.8,1.5 -1.8,1.4 -1.8,1.4 -1.7,1.5 -1.8,1.4 -1.8,1.5 -1.7,1.4 -1.8,1.4 -1.8,1.5 -1.8,1.4 -1.7,1.4 -1.8,1.5 -1.8,1.4 -1.7,1.4 -1.8,1.4 -1.8,1.4 -1.7,1.3 -1.8,1.3 -1.7,1.3 -1.8,1.3 -1.7,1.2 -1.8,1.2 -1.7,1.2 -1.7,1.1 -1.8,1.1 -1.7,1.1 -1.7,1 -1.7,1 -1.8,1 -1.7,0.9 -1.7,1 -1.6,0.9 -1.7,1 -1.6,0.9 -1.6,1 -1.5,0.9 -1.5,1 -1.5,1 -1.4,1 -1.5,1 -1.4,1 -1.3,1 -1.4,1.1 -1.3,1 -1.3,1 -1.3,1 -1.3,1 -1.3,1 -1.3,1.1 -1.2,1 -1.3,1 -1.2,1 -1.3,0.9 -1.3,1 -1.3,1 -1.2,1 -1.3,0.9 -1.3,1 -1.3,0.9 -1.4,1 -1.3,0.9 -1.3,1 -1.4,1 -1.3,0.9 -1.4,1 -1.4,1 -1.5,0.9 -1.4,1 -1.4,1 -1.5,1 -1.5,1.1 -1.6,1 -1.5,1 -1.6,1.1 -1.6,1 -1.6,1.1 -1.7,1.1 -1.7,1.1 -1.7,1.2 -1.8,1.1 -1.8,1.2 -1.8,1.2 -1.9,1.2 -1.9,1.2 -2,1.2 -2,1.2 -2,1.2 -2.1,1.3 -2.1,1.2 -2.2,1.3 -2.1,1.2 -2.3,1.2 -2.2,1.3 -2.3,1.2 -2.3,1.2 -2.3,1.1 -2.3,1.1 -2.4,1.1 -2.3,0.9 -2.3,0.9 -2.3,0.9 -2.2,0.7 -2.3,0.8 -2.2,0.6 -2.1,0.6 -2.2,0.5 -2.1,0.4 -2,0.4 -2.1,0.3 -2,0.3 -2,0.2 -2,0.1 -1.9,0.1 -2,0 -1.9-0.1 -2-0.1 -1.9-0.2 -1.9-0.2 -2-0.3 -1.9-0.4 -2-0.5 -1.9-0.5 -2-0.5 -1.9-0.6 -1.9-0.7 -2-0.8 -1.9-0.8 -1.9-0.8 -2-1 -1.9-1 -1.8-1 -1.9-1.1 -1.9-1.2 -1.8-1.2 -1.8-1.3 -1.8-1.4 -1.7-1.4 -1.8-1.5 -1.7-1.5 -1.6-1.6 -1.7-1.7 -1.6-1.8 -1.6-1.8 -1.6-1.9 -1.5-2"/><path stroke-dashoffset="0.34" d="M193.4,926.9l-0.3-3.1 -0.5-3.2 -0.7-3.2 -1-3.4 -1.3-3.5 -1.5-3.5 -1.8-3.7 -2.1-3.8 -2.2-3.8 -2.4-4 -2.5-4 -2.5-4.1 -2.6-4.2 -2.5-4.1 -2.5-4.2 -2.3-4.2 -2.1-4.1 -1.9-4.1 -1.8-4.1 -1.5-4 -1.2-4 -1-3.9 -0.8-3.9 -0.5-3.7 -0.3-3.7 0-3.7 0.2-3.5 0.4-3.5 0.5-3.5 0.7-3.4 0.8-3.4 1-3.3 1.1-3.3 1.1-3.2 1.3-3.2 1.4-3.1 1.5-3.1 1.5-3 1.7-3 1.7-2.9 1.9-2.8 1.9-2.8 2.1-2.7 2.1-2.7 2.1-2.6 2.2-2.6 2.3-2.6 2.3-2.5 2.3-2.5 2.3-2.5 2.4-2.5 2.3-2.4 2.4-2.5 2.4-2.3 2.5-2.4 2.4-2.3 2.5-2.3 2.5-2.3 2.6-2.2 2.5-2.3 2.6-2.1 2.7-2.2 2.6-2.1 2.7-2.2 2.6-2.1 2.7-2.1 2.7-2 2.7-2.1 2.7-2.1 2.7-2 2.7-2 2.7-2.1 2.8-2 2.7-2 2.8-2 2.7-2 2.8-2 2.8-1.9 2.8-1.9 2.8-1.9 2.9-1.8 2.8-1.8 2.9-1.8 2.9-1.7 3-1.7 2.9-1.7 3-1.6 3-1.6 3-1.5 3-1.6 3-1.4 3.1-1.5 3.1-1.4 3-1.4 3.1-1.4 3.1-1.4 3.1-1.3 3.2-1.3 3.1-1.3 3.1-1.3 3.1-1.3 3.2-1.3 3.1-1.3 3.1-1.3 3.2-1.3 3.1-1.3 3.1-1.4 3.1-1.4 3.1-1.4 3.2-1.4 3.1-1.4 3.1-1.4 3.1-1.4 3.1-1.4 3.1-1.5 3.1-1.4 3-1.4 3.1-1.5 3.1-1.4 2.3-0.7 2.2-0.8 2.1-0.8 2.1-1 2.1-0.9 2.1-1 2-1.1 2-1.1 2-1.1 2-1.1 2-1.1 2-1.1 1.9-1.1 2.1-1.1 2-1 2-1 2.1-1 2.1-0.9 2.1-0.9 2.1-0.8 2.1-0.8 2.1-0.8 2.2-0.8 2.2-0.8 2.1-0.7 2.2-0.7 2.2-0.7 2.2-0.7 2.2-0.7 2.1-0.7 2.2-0.6 2.2-0.7 2.2-0.6 2.2-0.6 2.1-0.7 2.2-0.5 2.2-0.6 2.2-0.6 2.2-0.5 2.2-0.6 2.1-0.5 2.2-0.5 2.2-0.5 2.2-0.5 2.2-0.4 2.2-0.4 2.2-0.5 2.3-0.4 2.2-0.3 2.2-0.4 2.2-0.3 2.2-0.3 2.3-0.2 2.2-0.2 2.2-0.2 2.3-0.2 2.2-0.1 2.3-0.1 2.2,0 2.3,0 2.2,0 2.3,0.1 2.3,0.1 2.3,0.1 2.2,0.2 2.3,0.2 2.3,0.3 2.2,0.4 2.3,0.4 2.2,0.5 2.2,0.6 2.2,0.7 2.1,0.8 2.1,0.9 2.1,1 2,1.1 2,1.2 1.9,1.3 1.9,1.4 1.8,1.5 1.7,1.5 1.6,1.7 1.6,1.7 1.5,1.8 1.4,1.9 1.2,2 1.2,2 1,2.1 0.8,2.1 0.8,2.2 0.5,2.2 0.5,2.3 0.4,2.3 0.2,2.3 0.2,2.3 0.1,2.3 0,2.4 0,2.3 -0.1,2.3 -0.1,2.2 -0.2,2.3 -0.2,2.3 -0.3,2.3 -0.3,2.2 -0.3,2.3 -0.4,2.2 -0.4,2.3 -0.4,2.2 -0.5,2.2 -0.5,2.3 -0.5,2.2 -0.5,2.2 -0.6,2.2 -0.5,2.2 -0.6,2.3 -0.6,2.2 -0.6,2.2 -0.6,2.1 -0.6,2.2 -0.7,2.2 -0.6,2.2 -0.7,2.2 -0.7,2.1 -0.7,2.2 -0.8,2.2 -0.7,2.1 -0.8,2.2 -0.7,2.1 -0.8,2.2 -0.7,2.1 -0.8,2.2 -0.8,2.1 -0.7,2.2 -0.8,2.1 -0.8,2.2 -0.7,2.1 -0.8,2.2 -0.7,2.2 -0.8,2.1 -0.8,2.2 -0.8,2.1 -0.8,2.2 -0.7,2.1 -0.8,2.2 -0.9,2.1 -0.8,2.2 -0.8,2.1 -0.9,2.2 -0.8,2.1 -1.5,1.5 -1.5,1.4 -1.5,1.5 -1.6,1.4 -1.5,1.5 -1.6,1.4 -1.6,1.4 -1.5,1.4 -1.7,1.4 -1.6,1.5 -1.6,1.4 -1.6,1.4 -1.7,1.4 -1.6,1.4 -1.7,1.4 -1.7,1.4 -1.6,1.4 -1.7,1.4 -1.7,1.4 -1.7,1.4 -1.6,1.4 -1.7,1.5 -1.7,1.4 -1.7,1.4 -1.7,1.4 -1.7,1.4 -1.7,1.4 -1.7,1.4 -1.7,1.4 -1.8,1.4 -1.7,1.4 -1.7,1.4 -1.8,1.3 -1.7,1.4 -1.8,1.4 -1.7,1.4 -1.8,1.4 -1.7,1.3 -1.8,1.4 -1.7,1.4 -1.8,1.4 -1.7,1.3 -1.8,1.4 -1.7,1.4 -1.8,1.4 -1.7,1.3 -1.8,1.4 -1.7,1.4 -1.7,1.4 -1.8,1.4 -1.7,1.4 -1.7,1.4 -1.8,1.4 -1.7,1.4 -1.7,1.4 -1.7,1.4 -1.7,1.4 -1.8,1.5 -1.7,1.4 -1.7,1.4 -1.7,1.4 -1.7,1.5 -1.7,1.4 -1.7,1.4 -1.7,1.4 -1.7,1.5 -1.7,1.4 -1.7,1.4 -1.6,1.4 -1.7,1.4 -1.7,1.4 -1.7,1.3 -1.7,1.3 -1.7,1.3 -1.6,1.2 -1.7,1.3 -1.7,1.2 -1.7,1.1 -1.6,1.2 -1.7,1.1 -1.7,1.1 -1.7,1 -1.7,1.1 -1.6,1 -1.7,1 -1.6,1 -1.6,1 -1.6,1 -1.6,1 -1.5,1.1 -1.5,1.1 -1.5,1 -1.4,1.1 -1.4,1.1 -1.4,1.2 -1.4,1.1 -1.3,1.1 -1.4,1.1 -1.3,1.2 -1.3,1.1 -1.3,1.2 -1.3,1.1 -1.3,1.2 -1.3,1.1 -1.3,1.2 -1.4,1.1 -1.3,1.2 -1.3,1.1 -1.4,1.1 -1.3,1.2 -1.4,1.1 -1.4,1.1 -1.4,1.2 -1.4,1.1 -1.5,1.1 -1.4,1.2 -1.5,1.1 -1.5,1.2 -1.5,1.1 -1.6,1.2 -1.6,1.2 -1.6,1.2 -1.6,1.2 -1.6,1.2 -1.7,1.2 -1.7,1.2 -1.8,1.3 -1.8,1.3 -1.8,1.2 -1.8,1.3 -1.9,1.3 -1.9,1.4 -2,1.3 -2,1.4 -2,1.4 -2.1,1.3 -2.1,1.4 -2.2,1.4 -2.2,1.5 -2.2,1.4 -2.3,1.4 -2.3,1.4 -2.3,1.5 -2.4,1.4 -2.4,1.4 -2.4,1.4 -2.5,1.4 -2.5,1.4 -2.5,1.3 -2.5,1.2 -2.5,1.2 -2.5,1 -2.4,1 -2.4,0.8 -2.4,0.8 -2.3,0.7 -2.3,0.6 -2.2,0.5 -2.1,0.5 -2.1,0.4 -2.1,0.3 -2,0.2 -1.9,0.2 -2,0.1 -1.9,0 -1.8,0 -1.9-0.1 -1.9-0.1 -1.8-0.2 -1.8-0.2 -1.9-0.4 -1.8-0.3 -1.8-0.5 -1.9-0.5 -1.8-0.5 -1.9-0.6 -1.8-0.7 -1.9-0.7 -1.9-0.8 -1.9-0.8 -1.8-0.9 -1.9-1 -1.9-1 -1.9-1 -1.8-1.2 -1.9-1.2 -1.9-1.2 -1.8-1.3 -1.9-1.4 -1.8-1.4 -1.8-1.5 -1.8-1.6 -1.8-1.7 -1.7-1.7 -1.8-1.8 -1.7-1.8 -1.7-2 -1.7-2 -1.7-2.1"/><path stroke-dashoffset="0.71" d="M187.3,925.3l-0.8-3.3 -1-3.3 -1.3-3.5 -1.6-3.5 -1.7-3.7 -2-3.7 -2.2-3.9 -2.4-3.9 -2.4-4 -2.6-4 -2.5-4.1 -2.5-4.2 -2.4-4.1 -2.3-4.2 -2.1-4.1 -2-4.1 -1.7-4.1 -1.6-4 -1.3-4 -1.1-3.9 -0.9-3.9 -0.7-3.8 -0.4-3.7 -0.2-3.7 0-3.6 0.2-3.6 0.4-3.5 0.6-3.5 0.7-3.4 0.9-3.4 0.9-3.3 1.1-3.3 1.2-3.3 1.2-3.2 1.3-3.2 1.5-3.2 1.5-3.1 1.6-3 1.7-3 1.8-2.9 1.9-2.9 1.9-2.8 2.1-2.7 2.2-2.7 2.2-2.6 2.3-2.6 2.3-2.5 2.3-2.6 2.4-2.5 2.4-2.5 2.4-2.4 2.4-2.4 2.5-2.4 2.4-2.4 2.5-2.4 2.6-2.3 2.5-2.3 2.6-2.2 2.6-2.3 2.6-2.2 2.7-2.1 2.6-2.2 2.7-2.1 2.7-2.1 2.8-2.1 2.7-2.1 2.7-2 2.8-2.1 2.8-2 2.7-2 2.8-2.1 2.8-2 2.8-2 2.8-2 2.8-2 2.8-1.9 2.8-2 2.9-1.9 2.8-1.9 2.9-1.8 2.9-1.8 3-1.8 2.9-1.8 3-1.7 3-1.6 3-1.6 3-1.6 3.1-1.6 3.1-1.5 3.1-1.5 3.1-1.4 3.1-1.4 3.1-1.4 3.2-1.4 3.1-1.3 3.2-1.3 3.2-1.3 3.1-1.3 3.2-1.2 3.2-1.3 3.2-1.2 3.2-1.3 3.2-1.2 3.2-1.3 3.1-1.3 3.2-1.3 3.2-1.4 3.1-1.3 3.2-1.4 3.1-1.4 3.2-1.4 3.1-1.4 3.1-1.4 3.2-1.5 3.1-1.4 3.1-1.5 3.1-1.4 3.1-1.5 3.1-1.5 2.3-0.7 2.3-0.8 2.1-0.9 2.2-1 2.1-1 2.1-1.1 2-1.1 2.1-1.1 2-1.2 2-1.2 2-1.2 2-1.1 2.1-1.2 2-1.2 2.1-1.1 2-1 2.1-1.1 2.1-1 2.2-0.9 2.1-0.9 2.2-0.9 2.2-0.9 2.2-0.8 2.2-0.8 2.2-0.8 2.2-0.8 2.2-0.8 2.2-0.7 2.3-0.8 2.2-0.7 2.2-0.7 2.2-0.8 2.3-0.7 2.2-0.6 2.2-0.7 2.3-0.7 2.2-0.6 2.2-0.7 2.3-0.6 2.2-0.6 2.3-0.6 2.2-0.6 2.3-0.6 2.2-0.5 2.3-0.6 2.2-0.5 2.3-0.5 2.3-0.4 2.2-0.5 2.3-0.4 2.3-0.4 2.3-0.4 2.3-0.3 2.3-0.3 2.3-0.2 2.3-0.3 2.3-0.1 2.3-0.2 2.4-0.1 2.3-0.1 2.3,0 2.4,0 2.3,0.1 2.3,0.1 2.4,0.1 2.3,0.2 2.4,0.2 2.3,0.3 2.3,0.4 2.3,0.5 2.3,0.6 2.2,0.6 2.3,0.8 2.1,0.9 2.2,1 2,1.1 2.1,1.2 2,1.3 1.9,1.4 1.8,1.5 1.8,1.6 1.7,1.6 1.6,1.8 1.5,1.8 1.5,1.9 1.2,2 1.2,2.1 1,2.1 0.9,2.2 0.7,2.3 0.6,2.2 0.4,2.4 0.3,2.3 0.3,2.4 0.1,2.4 0.1,2.3 0,2.4 -0.1,2.4 -0.1,2.3 -0.1,2.3 -0.3,2.4 -0.2,2.3 -0.4,2.3 -0.3,2.3 -0.4,2.3 -0.4,2.3 -0.5,2.3 -0.5,2.3 -0.5,2.3 -0.6,2.3 -0.6,2.2 -0.5,2.3 -0.6,2.3 -0.7,2.2 -0.6,2.3 -0.6,2.2 -0.7,2.3 -0.7,2.2 -0.7,2.2 -0.7,2.3 -0.7,2.2 -0.8,2.2 -0.7,2.2 -0.8,2.2 -0.8,2.2 -0.8,2.2 -0.8,2.2 -0.8,2.2 -0.9,2.2 -0.8,2.2 -0.8,2.2 -0.9,2.2 -0.8,2.2 -0.8,2.2 -0.8,2.2 -0.8,2.1 -0.9,2.2 -0.8,2.2 -0.8,2.2 -0.8,2.2 -0.9,2.2 -0.8,2.2 -0.9,2.2 -0.8,2.2 -0.9,2.2 -0.8,2.2 -0.9,2.1 -0.9,2.2 -0.9,2.2 -1.6,1.4 -1.6,1.3 -1.6,1.4 -1.6,1.3 -1.6,1.4 -1.7,1.3 -1.6,1.3 -1.7,1.4 -1.6,1.3 -1.7,1.3 -1.7,1.3 -1.7,1.4 -1.6,1.3 -1.7,1.3 -1.7,1.3 -1.7,1.3 -1.7,1.4 -1.7,1.3 -1.7,1.3 -1.7,1.3 -1.7,1.4 -1.7,1.3 -1.7,1.3 -1.7,1.4 -1.7,1.3 -1.7,1.4 -1.7,1.3 -1.7,1.4 -1.7,1.3 -1.7,1.3 -1.7,1.4 -1.7,1.3 -1.7,1.3 -1.8,1.4 -1.7,1.3 -1.7,1.3 -1.7,1.4 -1.7,1.3 -1.7,1.3 -1.8,1.4 -1.7,1.3 -1.7,1.4 -1.7,1.3 -1.7,1.4 -1.7,1.3 -1.7,1.4 -1.7,1.3 -1.7,1.4 -1.7,1.3 -1.7,1.4 -1.7,1.4 -1.7,1.4 -1.6,1.3 -1.7,1.4 -1.7,1.4 -1.7,1.4 -1.6,1.4 -1.7,1.4 -1.6,1.4 -1.7,1.5 -1.6,1.4 -1.7,1.4 -1.6,1.4 -1.7,1.4 -1.6,1.5 -1.6,1.4 -1.7,1.4 -1.6,1.4 -1.6,1.4 -1.7,1.4 -1.6,1.4 -1.6,1.4 -1.6,1.3 -1.7,1.3 -1.6,1.3 -1.6,1.3 -1.6,1.2 -1.7,1.2 -1.6,1.2 -1.7,1.2 -1.6,1.1 -1.7,1.1 -1.6,1.1 -1.7,1.1 -1.6,1.1 -1.7,1 -1.6,1.1 -1.5,1.1 -1.6,1.1 -1.5,1.2 -1.5,1.1 -1.5,1.2 -1.4,1.2 -1.5,1.2 -1.4,1.3 -1.4,1.2 -1.3,1.3 -1.4,1.2 -1.4,1.3 -1.3,1.3 -1.4,1.3 -1.4,1.3 -1.3,1.3 -1.4,1.3 -1.4,1.3 -1.4,1.3 -1.4,1.3 -1.4,1.3 -1.5,1.3 -1.4,1.3 -1.5,1.3 -1.5,1.3 -1.5,1.3 -1.6,1.3 -1.6,1.3 -1.6,1.4 -1.6,1.3 -1.7,1.3 -1.7,1.4 -1.7,1.4 -1.7,1.3 -1.8,1.4 -1.8,1.4 -1.9,1.5 -1.9,1.4 -1.9,1.4 -1.9,1.5 -2,1.5 -2.1,1.5 -2,1.5 -2.2,1.5 -2.1,1.5 -2.2,1.6 -2.2,1.5 -2.3,1.6 -2.3,1.6 -2.4,1.6 -2.4,1.6 -2.4,1.6 -2.5,1.6 -2.5,1.6 -2.5,1.6 -2.6,1.6 -2.6,1.6 -2.7,1.6 -2.6,1.6 -2.7,1.5 -2.7,1.5 -2.7,1.4 -2.7,1.3 -2.7,1.2 -2.6,1 -2.6,0.9 -2.5,0.7 -2.4,0.7 -2.4,0.6 -2.3,0.4 -2.2,0.4 -2.1,0.3 -2.1,0.2 -2,0.2 -1.9,0 -1.9,0 -1.8-0.1 -1.8-0.1 -1.8-0.2 -1.7-0.3 -1.8-0.3 -1.7-0.4 -1.7-0.4 -1.7-0.5 -1.7-0.5 -1.8-0.6 -1.7-0.7 -1.8-0.7 -1.7-0.7 -1.8-0.8 -1.8-0.9 -1.8-0.9 -1.8-1 -1.9-1 -1.8-1 -1.8-1.2 -1.9-1.2 -1.9-1.2 -1.8-1.3 -1.9-1.4 -1.9-1.4 -1.8-1.5 -1.9-1.6 -1.9-1.6 -1.9-1.7 -1.8-1.8 -1.9-1.9 -1.8-1.9 -1.9-2 -1.8-2.1 -1.9-2.2 -1.8-2.3"/><path stroke-dashoffset="1.08" d="M179.5,923.3l-1.3-3.5 -1.5-3.5 -1.8-3.7 -1.9-3.7 -2.2-3.8 -2.2-3.9 -2.4-3.9 -2.4-4 -2.5-4.1 -2.3-4 -2.4-4.1 -2.1-4.1 -2.1-4.1 -1.9-4 -1.6-4.1 -1.5-3.9 -1.3-4 -1.1-3.9 -0.9-3.9 -0.7-3.8 -0.4-3.7 -0.3-3.7 -0.1-3.7 0.1-3.6 0.3-3.5 0.4-3.5 0.6-3.5 0.8-3.4 0.8-3.4 1-3.3 1.1-3.3 1.2-3.3 1.2-3.3 1.3-3.2 1.4-3.2 1.4-3.2 1.6-3.1 1.6-3 1.7-3 1.8-2.9 2-2.9 2-2.8 2.1-2.7 2.2-2.7 2.3-2.6 2.3-2.6 2.4-2.6 2.3-2.5 2.4-2.5 2.5-2.5 2.4-2.4 2.5-2.4 2.5-2.4 2.5-2.4 2.5-2.3 2.6-2.4 2.6-2.2 2.6-2.3 2.7-2.2 2.6-2.2 2.7-2.2 2.7-2.1 2.8-2.1 2.7-2.1 2.8-2.1 2.8-2 2.8-2.1 2.8-2 2.8-2 2.8-2.1 2.8-2 2.8-2 2.9-2 2.8-2 2.9-1.9 2.8-2 2.9-1.9 2.9-1.9 2.9-1.9 2.9-1.8 3-1.8 2.9-1.7 3-1.8 3-1.6 3.1-1.7 3.1-1.6 3-1.5 3.1-1.6 3.2-1.4 3.1-1.5 3.2-1.4 3.1-1.4 3.2-1.3 3.2-1.4 3.2-1.3 3.2-1.2 3.2-1.3 3.3-1.2 3.2-1.3 3.2-1.2 3.3-1.2 3.2-1.2 3.2-1.3 3.2-1.2 3.2-1.3 3.3-1.3 3.2-1.3 3.1-1.3 3.2-1.4 3.2-1.4 3.2-1.4 3.1-1.4 3.2-1.4 3.1-1.5 3.2-1.4 3.1-1.5 3.1-1.5 3.1-1.5 3.2-1.5 2.3-0.7 2.2-0.9 2.3-0.9 2.1-1 2.2-1.1 2.1-1.1 2-1.1 2.1-1.2 2.1-1.3 2-1.2 2-1.2 2.1-1.3 2-1.2 2.1-1.2 2-1.2 2.1-1.1 2.2-1.1 2.1-1 2.2-1 2.1-1 2.2-0.9 2.2-0.9 2.3-0.9 2.2-0.9 2.2-0.8 2.3-0.8 2.2-0.9 2.3-0.8 2.2-0.7 2.3-0.8 2.3-0.8 2.2-0.7 2.3-0.8 2.2-0.7 2.3-0.8 2.3-0.7 2.2-0.7 2.3-0.7 2.3-0.7 2.3-0.6 2.3-0.7 2.2-0.6 2.3-0.7 2.3-0.6 2.3-0.6 2.3-0.5 2.4-0.6 2.3-0.5 2.3-0.5 2.3-0.5 2.4-0.5 2.3-0.4 2.3-0.3 2.4-0.4 2.3-0.3 2.4-0.3 2.4-0.2 2.3-0.2 2.4-0.2 2.4-0.1 2.4,0 2.3-0.1 2.4,0 2.4,0.1 2.4,0.1 2.4,0.1 2.4,0.3 2.4,0.2 2.4,0.4 2.3,0.5 2.4,0.5 2.2,0.6 2.3,0.8 2.2,0.8 2.2,1 2.1,1.1 2.1,1.2 2,1.3 2,1.4 1.9,1.5 1.8,1.6 1.7,1.7 1.7,1.8 1.5,1.9 1.5,1.9 1.3,2 1.2,2.1 1,2.2 0.8,2.2 0.8,2.3 0.5,2.3 0.5,2.4 0.3,2.4 0.2,2.4 0.1,2.4 0.1,2.4 0,2.4 -0.1,2.4 -0.2,2.4 -0.2,2.4 -0.2,2.3 -0.3,2.4 -0.4,2.4 -0.4,2.3 -0.4,2.4 -0.5,2.3 -0.5,2.3 -0.6,2.3 -0.5,2.4 -0.6,2.3 -0.6,2.3 -0.7,2.3 -0.6,2.3 -0.7,2.3 -0.7,2.3 -0.7,2.2 -0.7,2.3 -0.7,2.3 -0.7,2.3 -0.8,2.2 -0.8,2.3 -0.8,2.2 -0.8,2.3 -0.8,2.2 -0.8,2.2 -0.9,2.2 -0.8,2.3 -0.9,2.2 -0.9,2.2 -0.9,2.2 -0.8,2.2 -0.9,2.3 -0.9,2.2 -0.9,2.2 -0.8,2.2 -0.9,2.3 -0.8,2.2 -0.9,2.2 -0.9,2.2 -0.8,2.3 -0.9,2.2 -0.9,2.2 -0.9,2.2 -0.9,2.2 -0.9,2.2 -0.9,2.3 -0.9,2.2 -0.9,2.2 -1,2.1 -1.6,1.4 -1.7,1.2 -1.6,1.3 -1.7,1.3 -1.7,1.3 -1.7,1.3 -1.7,1.2 -1.7,1.3 -1.7,1.3 -1.7,1.2 -1.7,1.3 -1.7,1.2 -1.7,1.3 -1.7,1.2 -1.7,1.3 -1.7,1.2 -1.7,1.3 -1.8,1.3 -1.7,1.2 -1.7,1.3 -1.7,1.3 -1.7,1.3 -1.7,1.2 -1.7,1.3 -1.7,1.3 -1.7,1.3 -1.7,1.3 -1.7,1.3 -1.7,1.3 -1.7,1.3 -1.7,1.3 -1.7,1.3 -1.7,1.3 -1.7,1.3 -1.7,1.3 -1.6,1.3 -1.7,1.3 -1.7,1.3 -1.7,1.3 -1.7,1.3 -1.7,1.4 -1.7,1.3 -1.7,1.3 -1.6,1.3 -1.7,1.4 -1.7,1.3 -1.7,1.3 -1.6,1.4 -1.7,1.3 -1.7,1.4 -1.6,1.3 -1.7,1.4 -1.6,1.3 -1.6,1.4 -1.7,1.4 -1.6,1.4 -1.6,1.4 -1.6,1.4 -1.7,1.4 -1.6,1.4 -1.6,1.4 -1.6,1.4 -1.6,1.4 -1.6,1.4 -1.6,1.4 -1.6,1.5 -1.6,1.4 -1.6,1.4 -1.5,1.4 -1.6,1.4 -1.6,1.4 -1.6,1.4 -1.6,1.4 -1.6,1.3 -1.6,1.3 -1.6,1.4 -1.6,1.2 -1.6,1.3 -1.6,1.2 -1.6,1.3 -1.7,1.2 -1.6,1.1 -1.7,1.2 -1.6,1.1 -1.7,1.2 -1.6,1.1 -1.6,1.2 -1.6,1.2 -1.6,1.2 -1.5,1.2 -1.5,1.3 -1.5,1.3 -1.5,1.3 -1.5,1.3 -1.4,1.4 -1.5,1.3 -1.4,1.4 -1.4,1.4 -1.5,1.4 -1.4,1.5 -1.4,1.4 -1.5,1.4 -1.4,1.5 -1.5,1.4 -1.5,1.5 -1.5,1.5 -1.5,1.4 -1.5,1.5 -1.6,1.5 -1.6,1.4 -1.6,1.5 -1.6,1.5 -1.7,1.5 -1.7,1.5 -1.8,1.5 -1.7,1.5 -1.8,1.6 -1.9,1.5 -1.8,1.5 -1.9,1.6 -2,1.6 -2,1.6 -2,1.6 -2,1.6 -2.1,1.6 -2.2,1.6 -2.2,1.7 -2.2,1.7 -2.2,1.7 -2.3,1.7 -2.4,1.7 -2.4,1.7 -2.4,1.8 -2.5,1.7 -2.5,1.8 -2.5,1.8 -2.6,1.7 -2.7,1.8 -2.6,1.8 -2.7,1.8 -2.8,1.8 -2.8,1.7 -2.8,1.8 -2.8,1.7 -2.9,1.8 -2.9,1.7 -2.9,1.6 -2.9,1.6 -2.9,1.6 -2.9,1.3 -2.9,1.2 -2.8,1 -2.7,0.7 -2.6,0.6 -2.5,0.5 -2.4,0.4 -2.3,0.3 -2.2,0.2 -2.1,0.1 -2,0 -2-0.1 -1.8-0.1 -1.8-0.2 -1.8-0.3 -1.7-0.4 -1.6-0.4 -1.7-0.5 -1.6-0.5 -1.6-0.6 -1.7-0.6 -1.6-0.7 -1.6-0.8 -1.6-0.7 -1.7-0.9 -1.6-0.9 -1.7-0.9 -1.7-1 -1.8-1 -1.7-1.1 -1.8-1.1 -1.7-1.2 -1.9-1.3 -1.8-1.2 -1.8-1.4 -1.9-1.4 -1.9-1.5 -1.8-1.5 -1.9-1.6 -2-1.7 -1.9-1.7 -1.9-1.8 -1.9-1.9 -2-2 -1.9-2 -2-2.1 -1.9-2.3 -2-2.3 -1.9-2.4 -1.9-2.4"/><path stroke-dashoffset="1.45" d="M170.3,920.9l-1.7-3.7 -1.9-3.6 -2-3.8 -2.2-3.8 -2.2-3.9 -2.3-4 -2.3-4 -2.2-4 -2.2-4 -2-4 -1.9-4 -1.7-4 -1.5-3.9 -1.3-3.9 -1.2-3.9 -0.9-3.9 -0.8-3.8 -0.6-3.7 -0.4-3.7 -0.3-3.7 -0.1-3.7 0.1-3.6 0.2-3.5 0.4-3.5 0.5-3.5 0.7-3.4 0.8-3.4 0.9-3.4 1-3.3 1.1-3.4 1.2-3.2 1.2-3.3 1.3-3.3 1.3-3.2 1.4-3.2 1.5-3.1 1.6-3.1 1.6-3.1 1.8-3 1.8-2.9 2-2.9 2-2.8 2.2-2.7 2.2-2.7 2.3-2.6 2.3-2.6 2.4-2.6 2.4-2.5 2.4-2.5 2.5-2.4 2.5-2.5 2.5-2.4 2.5-2.4 2.5-2.4 2.6-2.3 2.6-2.3 2.6-2.3 2.6-2.2 2.7-2.2 2.7-2.2 2.7-2.2 2.8-2.1 2.7-2.1 2.8-2.1 2.8-2.1 2.8-2 2.8-2.1 2.8-2 2.9-2 2.8-2 2.9-2 2.8-2 2.9-2 2.8-2 2.9-1.9 2.9-2 2.9-1.9 2.9-1.9 2.9-1.8 3-1.9 3-1.7 3-1.8 3-1.7 3-1.7 3.1-1.6 3.1-1.6 3.1-1.5 3.2-1.5 3.1-1.5 3.2-1.4 3.2-1.4 3.2-1.4 3.2-1.3 3.2-1.3 3.2-1.3 3.3-1.3 3.2-1.2 3.3-1.2 3.2-1.2 3.3-1.2 3.2-1.2 3.3-1.2 3.2-1.2 3.3-1.3 3.2-1.2 3.2-1.3 3.3-1.3 3.2-1.4 3.2-1.3 3.2-1.4 3.1-1.4 3.2-1.4 3.2-1.4 3.1-1.5 3.2-1.4 3.1-1.5 3.2-1.5 3.1-1.6 3.1-1.5 2.3-0.7 2.3-0.9 2.3-0.9 2.1-1 2.2-1.1 2.1-1.2 2.1-1.1 2.1-1.3 2-1.2 2.1-1.3 2-1.3 2.1-1.2 2-1.3 2.1-1.2 2.1-1.2 2.1-1.2 2.2-1.1 2.1-1.1 2.2-1 2.2-1 2.2-1 2.2-0.9 2.3-0.9 2.2-0.9 2.3-0.9 2.2-0.8 2.3-0.9 2.3-0.8 2.2-0.8 2.3-0.8 2.3-0.8 2.3-0.8 2.3-0.8 2.2-0.8 2.3-0.7 2.3-0.8 2.3-0.7 2.3-0.7 2.3-0.7 2.3-0.7 2.3-0.7 2.3-0.7 2.4-0.7 2.3-0.6 2.3-0.7 2.3-0.6 2.4-0.6 2.3-0.5 2.4-0.6 2.3-0.5 2.4-0.5 2.4-0.4 2.3-0.4 2.4-0.4 2.4-0.3 2.4-0.3 2.4-0.3 2.4-0.2 2.4-0.2 2.4-0.1 2.4-0.1 2.4-0.1 2.4,0 2.5,0 2.4,0.1 2.4,0.1 2.4,0.2 2.5,0.3 2.4,0.3 2.3,0.5 2.4,0.5 2.3,0.6 2.3,0.8 2.3,0.8 2.2,1 2.1,1.1 2.1,1.2 2.1,1.3 2,1.4 1.9,1.5 1.8,1.6 1.8,1.7 1.6,1.8 1.6,1.9 1.5,2 1.3,2 1.2,2.1 1,2.2 0.9,2.2 0.7,2.3 0.5,2.4 0.5,2.4 0.3,2.4 0.2,2.4 0.1,2.5 0,2.4 0,2.4 -0.1,2.4 -0.2,2.5 -0.2,2.4 -0.3,2.3 -0.3,2.4 -0.4,2.4 -0.4,2.4 -0.5,2.3 -0.5,2.4 -0.5,2.4 -0.6,2.3 -0.6,2.3 -0.6,2.4 -0.6,2.3 -0.7,2.3 -0.7,2.3 -0.6,2.4 -0.7,2.3 -0.8,2.3 -0.7,2.3 -0.8,2.2 -0.7,2.3 -0.8,2.3 -0.8,2.3 -0.8,2.2 -0.9,2.3 -0.8,2.3 -0.9,2.2 -0.9,2.3 -0.9,2.2 -0.9,2.2 -0.9,2.3 -0.9,2.2 -0.9,2.2 -0.9,2.3 -0.9,2.2 -0.9,2.3 -0.9,2.2 -0.9,2.2 -0.8,2.3 -0.9,2.2 -0.9,2.3 -0.9,2.2 -0.9,2.2 -0.9,2.3 -0.9,2.2 -0.9,2.2 -1,2.3 -0.9,2.2 -0.9,2.2 -1,2.2 -1,2.2 -1.6,1.3 -1.7,1.3 -1.7,1.2 -1.7,1.2 -1.8,1.3 -1.7,1.2 -1.7,1.2 -1.7,1.3 -1.7,1.2 -1.8,1.2 -1.7,1.2 -1.7,1.2 -1.7,1.2 -1.8,1.3 -1.7,1.2 -1.7,1.2 -1.7,1.2 -1.8,1.3 -1.7,1.2 -1.7,1.2 -1.7,1.3 -1.7,1.2 -1.7,1.3 -1.7,1.2 -1.7,1.3 -1.7,1.2 -1.7,1.3 -1.7,1.3 -1.7,1.2 -1.7,1.3 -1.7,1.3 -1.7,1.3 -1.7,1.3 -1.6,1.2 -1.7,1.3 -1.7,1.3 -1.7,1.3 -1.7,1.3 -1.6,1.3 -1.7,1.3 -1.7,1.3 -1.6,1.3 -1.7,1.3 -1.7,1.3 -1.6,1.3 -1.7,1.3 -1.6,1.4 -1.7,1.3 -1.6,1.3 -1.7,1.4 -1.6,1.3 -1.6,1.4 -1.7,1.3 -1.6,1.4 -1.6,1.3 -1.6,1.4 -1.6,1.4 -1.6,1.4 -1.6,1.4 -1.6,1.4 -1.5,1.4 -1.6,1.4 -1.6,1.4 -1.6,1.4 -1.5,1.5 -1.6,1.4 -1.6,1.4 -1.5,1.4 -1.6,1.5 -1.6,1.4 -1.5,1.4 -1.6,1.4 -1.6,1.4 -1.5,1.3 -1.6,1.4 -1.6,1.3 -1.6,1.4 -1.6,1.3 -1.6,1.3 -1.7,1.3 -1.6,1.2 -1.7,1.3 -1.6,1.2 -1.7,1.2 -1.7,1.2 -1.6,1.3 -1.7,1.2 -1.6,1.3 -1.6,1.3 -1.6,1.4 -1.5,1.3 -1.6,1.4 -1.5,1.5 -1.6,1.4 -1.5,1.5 -1.5,1.5 -1.5,1.5 -1.5,1.5 -1.5,1.6 -1.5,1.5 -1.5,1.6 -1.6,1.6 -1.5,1.6 -1.6,1.6 -1.6,1.6 -1.6,1.7 -1.7,1.6 -1.6,1.6 -1.8,1.7 -1.7,1.6 -1.8,1.7 -1.8,1.6 -1.8,1.7 -1.9,1.7 -1.9,1.6 -1.9,1.7 -2,1.8 -2.1,1.7 -2,1.7 -2.1,1.7 -2.2,1.8 -2.2,1.8 -2.2,1.8 -2.3,1.8 -2.3,1.8 -2.3,1.8 -2.4,1.8 -2.5,1.9 -2.5,1.9 -2.5,1.9 -2.6,1.8 -2.6,2 -2.7,1.9 -2.7,1.9 -2.7,1.9 -2.8,2 -2.8,1.9 -2.9,2 -2.9,1.9 -2.9,1.9 -3,2 -3,1.9 -3,1.9 -3.1,1.9 -3.1,1.8 -3.1,1.8 -3.2,1.8 -3.1,1.8 -3.2,1.6 -3.1,1.4 -3,1.1 -2.9,0.9 -2.8,0.6 -2.8,0.4 -2.5,0.3 -2.5,0.2 -2.3,0.1 -2.2,0 -2.1-0.2 -2-0.2 -1.9-0.3 -1.8-0.4 -1.7-0.4 -1.7-0.6 -1.6-0.6 -1.6-0.6 -1.5-0.7 -1.6-0.8 -1.5-0.8 -1.6-0.9 -1.5-0.9 -1.6-1 -1.5-1 -1.6-1 -1.6-1.2 -1.6-1.1 -1.7-1.2 -1.6-1.2 -1.7-1.3 -1.8-1.4 -1.7-1.4 -1.8-1.4 -1.8-1.5 -1.8-1.5 -1.9-1.7 -1.9-1.6 -1.9-1.8 -1.9-1.8 -1.9-1.9 -2-1.9 -1.9-2 -2-2.2 -2-2.1 -2-2.3 -1.9-2.4 -2-2.4 -2-2.5 -1.9-2.7 -2-2.6"/></g>
<g fill="#ff0000"><ellipse cx="148.5" cy="799.3" rx="1.5" ry="1.2"/><ellipse cx="150.3" cy="799.3" rx="1.5" ry="1.2"/><ellipse cx="154.6" cy="799.2" rx="1.5" ry="1.2"/><ellipse cx="156.8" cy="799.1" rx="1.5" ry="1.2"/><ellipse cx="162.4" cy="799.2" rx="1.5" ry="1.2"/><ellipse cx="166.0" cy="798.8" rx="1.5" ry="1.2"/><ellipse cx="171.4" cy="799.4" rx="1.5" ry="1.2"/><ellipse cx="177.5" cy="798.3" rx="1.5" ry="1.2"/><ellipse cx="181.7" cy="799.6" rx="1.5" ry="1.2"/><ellipse cx="190.0" cy="797.7" rx="1.5" ry="1.2"/><ellipse cx="191.6" cy="799.9" rx="1.5" ry="1.2"/><ellipse cx="200.9" cy="800.3" rx="1.5" ry="1.2"/><ellipse cx="202.4" cy="797.1" rx="1.5" ry="1.2"/><ellipse cx="209.6" cy="800.7" rx="1.5" ry="1.2"/><ellipse cx="213.7" cy="796.6" rx="1.5" ry="1.2"/><ellipse cx="217.7" cy="801.0" rx="1.5" ry="1.2"/><ellipse cx="223.3" cy="796.2" rx="1.5" ry="1.2"/><ellipse cx="225.8" cy="801.2" rx="1.5" ry="1.2"/><ellipse cx="231.6" cy="796.0" rx="1.5" ry="1.2"/><ellipse cx="233.9" cy="801.2" rx="1.5" ry="1.2"/><ellipse cx="238.4" cy="795.9" rx="1.5" ry="1.2"/><ellipse cx="242.0" cy="801.1" rx="1.5" ry="1.2"/><ellipse cx="244.2" cy="796.1" rx="1.5" ry="1.2"/><ellipse cx="249.3" cy="800.8" rx="1.5" ry="1.2"/><ellipse cx="249.4" cy="796.5" rx="1.5" ry="1.2"/><ellipse cx="253.9" cy="797.1" rx="1.5" ry="1.2"/><ellipse cx="255.0" cy="800.2" rx="1.5" ry="1.2"/><ellipse cx="257.3" cy="797.9" rx="1.5" ry="1.2"/><ellipse cx="258.4" cy="799.5" rx="1.5" ry="1.2"/><ellipse cx="258.9" cy="798.7" rx="1.5" ry="1.2"/><ellipse cx="464.9" cy="810.7" rx="1.5" ry="1.2"/><ellipse cx="467.4" cy="810.6" rx="1.5" ry="1.2"/><ellipse cx="470.5" cy="810.8" rx="1.5" ry="1.2"/><ellipse cx="475.5" cy="810.6" rx="1.5" ry="1.2"/><ellipse cx="477.9" cy="810.9" rx="1.5" ry="1.2"/><ellipse cx="486.0" cy="810.6" rx="1.5" ry="1.2"/><ellipse cx="486.0" cy="811.0" rx="1.5" ry="1.2"/><ellipse cx="492.6" cy="811.1" rx="1.5" ry="1.2"/><ellipse cx="497.5" cy="811.0" rx="1.5" ry="1.2"/><ellipse cx="498.3" cy="810.6" rx="1.5" ry="1.2"/><ellipse cx="501.2" cy="810.9" rx="1.5" ry="1.2"/><ellipse cx="502.9" cy="810.7" rx="1.5" ry="1.2"/><ellipse cx="503.5" cy="810.4" rx="1.5" ry="1.2"/><ellipse cx="504.5" cy="810.1" rx="1.5" ry="1.2"/><ellipse cx="506.1" cy="809.8" rx="1.5" ry="1.2"/><ellipse cx="508.9" cy="809.6" rx="1.5" ry="1.2"/><ellipse cx="510.0" cy="810.5" rx="1.5" ry="1.2"/><ellipse cx="511.6" cy="809.4" rx="1.5" ry="1.2"/><ellipse cx="515.3" cy="809.3" rx="1.5" ry="1.2"/><ellipse cx="519.2" cy="810.4" rx="1.5" ry="1.2"/><ellipse cx="519.4" cy="809.0" rx="1.5" ry="1.2"/><ellipse cx="520.3" cy="809.0" rx="1.5" ry="1.2"/><ellipse cx="521.4" cy="809.2" rx="1.5" ry="1.2"/><ellipse cx="524.4" cy="809.4" rx="1.5" ry="1.2"/><ellipse cx="525.2" cy="810.2" rx="1.5" ry="1.2"/><ellipse cx="526.8" cy="809.7" rx="1.5" ry="1.2"/><ellipse cx="527.3" cy="809.9" rx="1.5" ry="1.2"/></g>
<rect x="110.6" y="560.8" width="495.9" height="524.6" fill="none" stroke="#000" stroke-width="1.1"/>
<path d="M161.5,1085.4v4.8M283.7,1085.4v4.8M405.9,1085.4v4.8M528.1,1085.4v4.8M110.6,1055.4h-4.8M110.6,941.6h-4.8M110.6,827.8h-4.8M110.6,714.0h-4.8M110.6,600.2h-4.8" stroke="#000" stroke-width="1.1" fill="none"/>
<text x="161.5" y="1111.1" text-anchor="middle" font-size="22.6" textLength="47.6" lengthAdjust="spacingAndGlyphs">0.79</text>
<text x="283.7" y="1111.1" text-anchor="middle" font-size="22.6" textLength="47.6" lengthAdjust="spacingAndGlyphs">0.80</text>
<text x="405.9" y="1111.1" text-anchor="middle" font-size="22.6" textLength="47.6" lengthAdjust="spacingAndGlyphs">0.81</text>
<text x="528.1" y="1111.1" text-anchor="middle" font-size="22.6" textLength="47.6" lengthAdjust="spacingAndGlyphs">0.82</text>
<text x="99.8" y="1063.2" text-anchor="end" font-size="22.6" textLength="47.6" lengthAdjust="spacingAndGlyphs">1.25</text>
<text x="99.8" y="949.4" text-anchor="end" font-size="22.6" textLength="47.6" lengthAdjust="spacingAndGlyphs">1.30</text>
<text x="99.8" y="835.6" text-anchor="end" font-size="22.6" textLength="47.6" lengthAdjust="spacingAndGlyphs">1.35</text>
<text x="99.8" y="721.8" text-anchor="end" font-size="22.6" textLength="47.6" lengthAdjust="spacingAndGlyphs">1.40</text>
<text x="99.8" y="608.0" text-anchor="end" font-size="22.6" textLength="47.6" lengthAdjust="spacingAndGlyphs">1.45</text>
<text x="606.2" y="1137.8" text-anchor="end" font-size="22.5">b</text>
<text transform="translate(43.4,564.3) rotate(-90)" text-anchor="end" font-size="22.5">d</text>
</svg></body></html>
